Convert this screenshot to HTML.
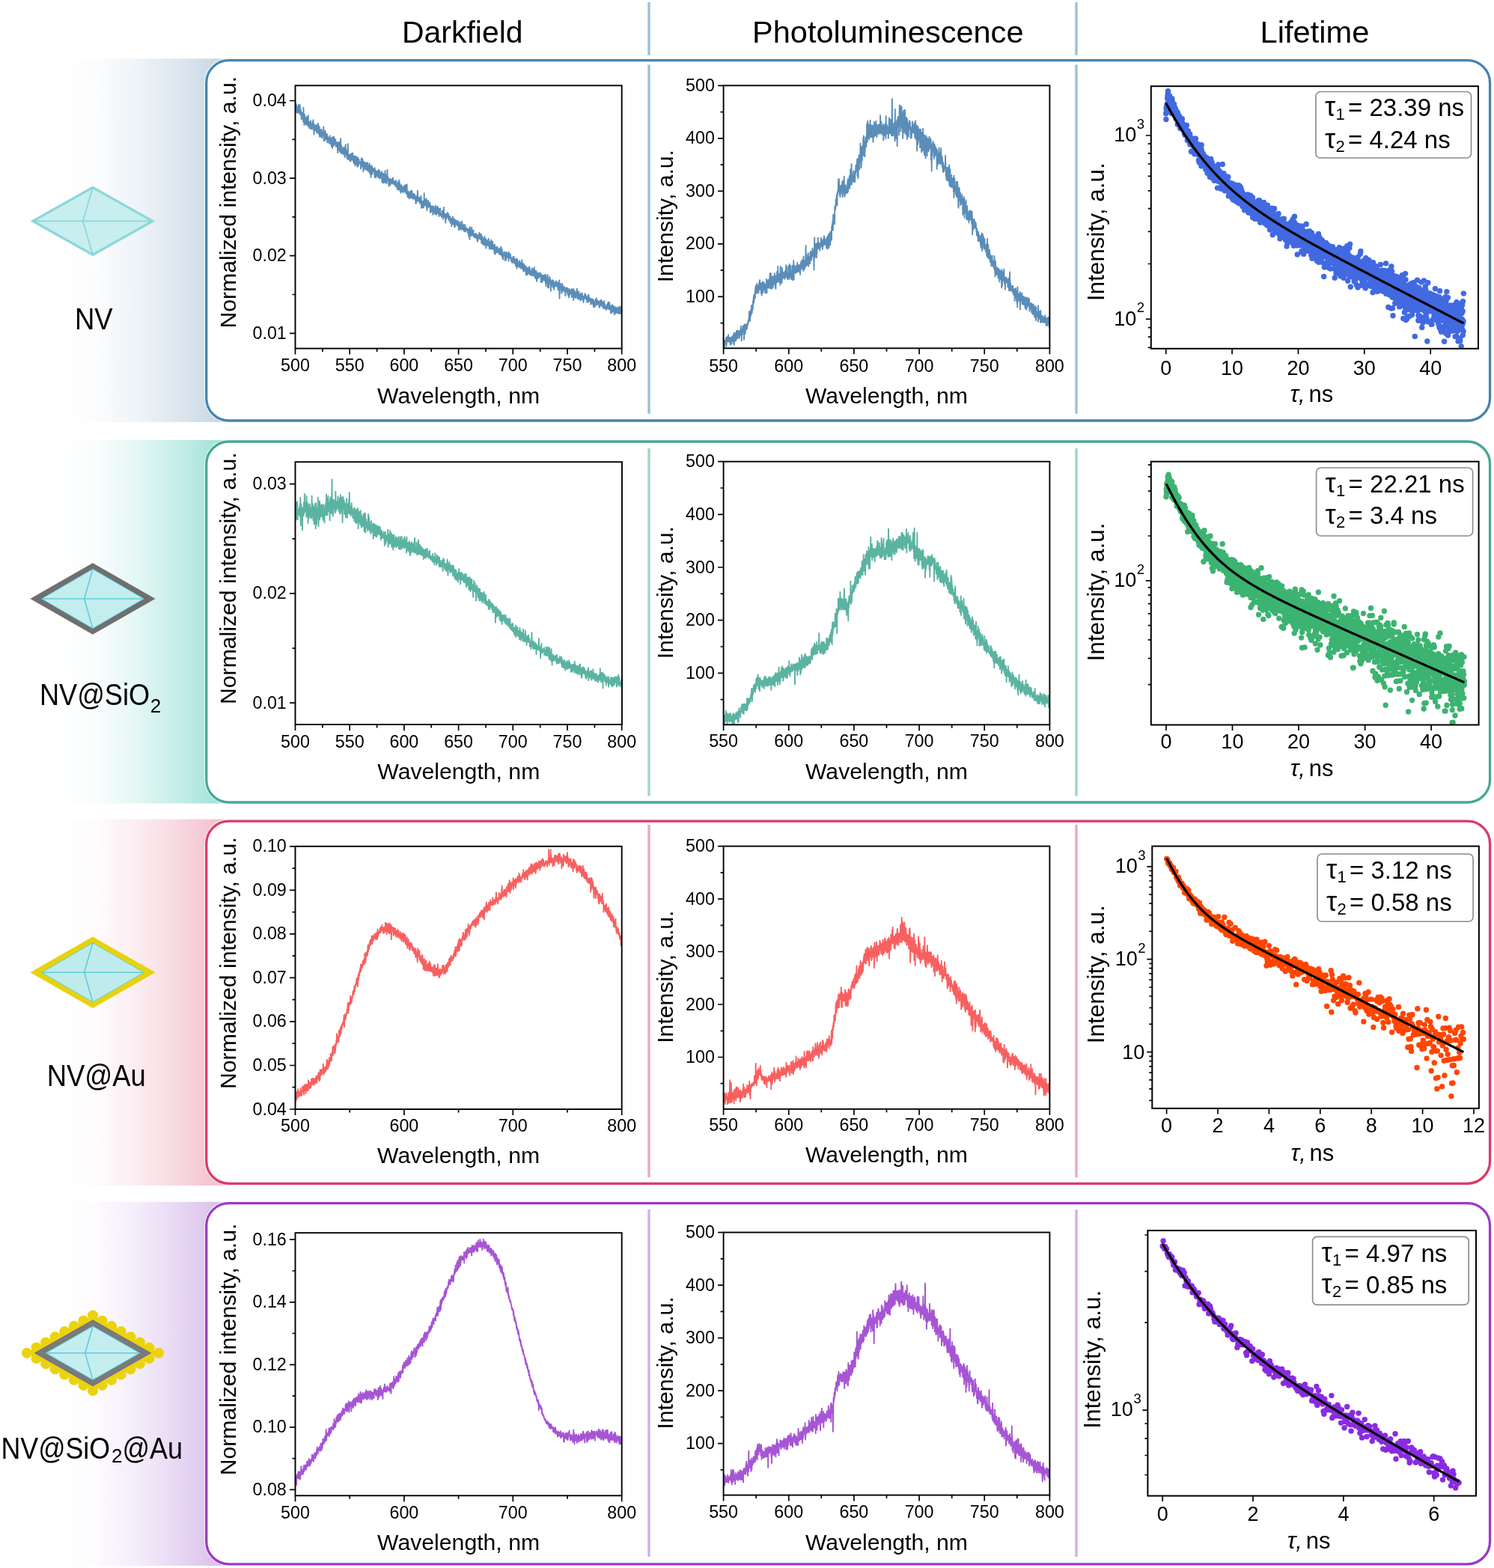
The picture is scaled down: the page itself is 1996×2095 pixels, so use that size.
<!DOCTYPE html>
<html><head><meta charset="utf-8"><title>NV lifetime figure</title><style>html,body{margin:0;padding:0;background:#fff;}svg{display:block;}</style></head><body>
<svg width="1996" height="2095" viewBox="0 0 1996 2095">
<defs>
<linearGradient id="g0" gradientUnits="userSpaceOnUse" x1="78" y1="0" x2="285" y2="0"><stop offset="0" stop-color="#ffffff"/><stop offset="0.25" stop-color="#fbfcfd"/><stop offset="0.5" stop-color="#eff4f8"/><stop offset="0.75" stop-color="#dfe8f0"/><stop offset="1" stop-color="#cbdae6"/></linearGradient>
<linearGradient id="g1" gradientUnits="userSpaceOnUse" x1="78" y1="0" x2="285" y2="0"><stop offset="0" stop-color="#ffffff"/><stop offset="0.25" stop-color="#f9fdfd"/><stop offset="0.5" stop-color="#e4f7f4"/><stop offset="0.75" stop-color="#c8eee9"/><stop offset="1" stop-color="#a6e4dc"/></linearGradient>
<linearGradient id="g2" gradientUnits="userSpaceOnUse" x1="78" y1="0" x2="285" y2="0"><stop offset="0" stop-color="#ffffff"/><stop offset="0.25" stop-color="#fefbfc"/><stop offset="0.5" stop-color="#fbedf1"/><stop offset="0.75" stop-color="#f8dae2"/><stop offset="1" stop-color="#f3c3d1"/></linearGradient>
<linearGradient id="g3" gradientUnits="userSpaceOnUse" x1="78" y1="0" x2="285" y2="0"><stop offset="0" stop-color="#ffffff"/><stop offset="0.25" stop-color="#fdfbfe"/><stop offset="0.5" stop-color="#f4edfa"/><stop offset="0.75" stop-color="#e9daf4"/><stop offset="1" stop-color="#dcc3ee"/></linearGradient>
</defs>
<rect width="1996" height="2095" fill="#fff"/>
<text x="537" y="57.4" font-size="41.5" font-family="'Liberation Sans', Arial, sans-serif" textLength="161.6" lengthAdjust="spacingAndGlyphs">Darkfield</text>
<text x="1005" y="56.9" font-size="41.5" font-family="'Liberation Sans', Arial, sans-serif" textLength="362.5" lengthAdjust="spacingAndGlyphs">Photoluminescence</text>
<text x="1683.5" y="57.4" font-size="41.5" font-family="'Liberation Sans', Arial, sans-serif" textLength="146" lengthAdjust="spacingAndGlyphs">Lifetime</text>
<line x1="867.0" y1="3" x2="867.0" y2="73.7" stroke="#9cc0d8" stroke-width="3.4"/>
<line x1="1438.0" y1="3" x2="1438.0" y2="73.7" stroke="#9cc0d8" stroke-width="3.4"/>
<rect x="0" y="78.3" width="300" height="485.7" fill="url(#g0)"/>
<rect x="275.7" y="80.6" width="1714.9" height="481.4" rx="30" ry="30" fill="#fff" stroke="#fff" stroke-width="5"/>
<rect x="275.7" y="80.6" width="1714.9" height="481.4" rx="30" ry="30" fill="#fff" stroke="#4584ac" stroke-width="3.3"/>
<line x1="867.0" y1="86.5" x2="867.0" y2="552.7" stroke="#9cc0d8" stroke-width="3.4"/>
<line x1="1438.0" y1="86.5" x2="1438.0" y2="552.7" stroke="#9cc0d8" stroke-width="3.4"/>
<rect x="0" y="588.0" width="300" height="485.5" fill="url(#g1)"/>
<rect x="275.7" y="590.0" width="1714.9" height="482" rx="30" ry="30" fill="#fff" stroke="#fff" stroke-width="5"/>
<rect x="275.7" y="590.0" width="1714.9" height="482" rx="30" ry="30" fill="#fff" stroke="#47a896" stroke-width="3.3"/>
<line x1="867.0" y1="599.0" x2="867.0" y2="1063.5" stroke="#9fd5cc" stroke-width="3.4"/>
<line x1="1438.0" y1="599.0" x2="1438.0" y2="1063.5" stroke="#9fd5cc" stroke-width="3.4"/>
<rect x="0" y="1094.6" width="300" height="489.4" fill="url(#g2)"/>
<rect x="275.7" y="1097.1" width="1714.9" height="484.2" rx="30" ry="30" fill="#fff" stroke="#fff" stroke-width="5"/>
<rect x="275.7" y="1097.1" width="1714.9" height="484.2" rx="30" ry="30" fill="#fff" stroke="#da3b68" stroke-width="3.3"/>
<line x1="867.0" y1="1102.0" x2="867.0" y2="1573.0" stroke="#eda9bd" stroke-width="3.4"/>
<line x1="1438.0" y1="1102.0" x2="1438.0" y2="1573.0" stroke="#eda9bd" stroke-width="3.4"/>
<rect x="0" y="1605.8" width="300" height="486.2" fill="url(#g3)"/>
<rect x="275.7" y="1607.6" width="1714.9" height="482.2" rx="30" ry="30" fill="#fff" stroke="#fff" stroke-width="5"/>
<rect x="275.7" y="1607.6" width="1714.9" height="482.2" rx="30" ry="30" fill="#fff" stroke="#9b3ac4" stroke-width="3.3"/>
<line x1="867.0" y1="1616.0" x2="867.0" y2="2080.0" stroke="#d2afe6" stroke-width="3.4"/>
<line x1="1438.0" y1="1616.0" x2="1438.0" y2="2080.0" stroke="#d2afe6" stroke-width="3.4"/>
<path d="M43.9 295.4L123.9 250.4L203.9 295.4L123.9 340.4Z" fill="#c8eeef" stroke="#8ad8d8" stroke-width="3.2" stroke-linejoin="miter"/>
<path d="M43.9 295.4H203.9M123.9 250.4L110.7 295.4L123.9 340.4" fill="none" stroke="#8ad8d8" stroke-width="1.7"/>
<path d="M40.3 800.0L123.9 752.2L207.5 800.0L123.9 847.8Z" fill="#6f6f6f"/>
<path d="M55.7 800.0L123.9 760.4L192.1 800.0L123.9 839.6Z" fill="#c4edf0" stroke="#5ccfd6" stroke-width="1.0" stroke-linejoin="miter"/>
<path d="M55.7 800.0H192.1M123.9 760.4L112.6 800.0L123.9 839.6" fill="none" stroke="#5ccfd6" stroke-width="1.6"/>
<path d="M40.3 1299.3L123.9 1251.5L207.5 1299.3L123.9 1347.1Z" fill="#e8d20e"/>
<path d="M55.7 1299.3L123.9 1259.7L192.1 1299.3L123.9 1338.9Z" fill="#c0ebed" stroke="#5ccfd6" stroke-width="1.0" stroke-linejoin="miter"/>
<path d="M55.7 1299.3H192.1M123.9 1259.7L112.6 1299.3L123.9 1338.9" fill="none" stroke="#5ccfd6" stroke-width="1.6"/>
<path d="M36.0 1807.8h0M48.6 1800.6h0M61.1 1793.5h0M73.7 1786.3h0M86.3 1779.1h0M98.9 1771.9h0M111.4 1764.8h0M124.0 1757.6h0M136.6 1764.8h0M149.1 1771.9h0M161.7 1779.1h0M174.3 1786.3h0M186.9 1793.5h0M199.4 1800.6h0M212.0 1807.8h0M199.4 1815.0h0M186.9 1822.1h0M174.3 1829.3h0M161.7 1836.5h0M149.1 1843.7h0M136.6 1850.8h0M124.0 1858.0h0M111.4 1850.8h0M98.9 1843.7h0M86.3 1836.5h0M73.7 1829.3h0M61.1 1822.1h0M48.6 1815.0h0" stroke="#ebd30c" stroke-width="14.2" stroke-linecap="round" fill="none"/>
<path d="M36.0 1807.8L124.0 1757.6L212.0 1807.8L124.0 1858.0Z" fill="#ebd30c"/>
<path d="M46.5 1807.8L124.0 1763.8L201.5 1807.8L124.0 1851.8Z" fill="#7a7a7a" stroke="#5b5bb0" stroke-width="0.8"/>
<path d="M61.3 1807.8L124.0 1772.0L186.7 1807.8L124.0 1843.6Z" fill="#c4edf0" stroke="#5ccfd6" stroke-width="1.0" stroke-linejoin="miter"/>
<path d="M61.3 1807.8H186.7M124.0 1772.0L113.7 1807.8L124.0 1843.6" fill="none" stroke="#5ccfd6" stroke-width="1.6"/>
<text x="100" y="440.3" font-size="41" font-family="'Liberation Sans', Arial, sans-serif" textLength="50.7" lengthAdjust="spacingAndGlyphs">NV</text>
<text x="53" y="941.8" font-size="41" font-family="'Liberation Sans', Arial, sans-serif" textLength="147" lengthAdjust="spacingAndGlyphs">NV@SiO</text>
<text x="200.7" y="952" font-size="26" font-family="'Liberation Sans', Arial, sans-serif">2</text>
<text x="62.7" y="1450.7" font-size="41" font-family="'Liberation Sans', Arial, sans-serif" textLength="132.1" lengthAdjust="spacingAndGlyphs">NV@Au</text>
<text x="1.5" y="1948.5" font-size="41" font-family="'Liberation Sans', Arial, sans-serif" textLength="145.5" lengthAdjust="spacingAndGlyphs">NV@SiO</text>
<text x="149" y="1953.5" font-size="26" font-family="'Liberation Sans', Arial, sans-serif">2</text>
<text x="163.4" y="1948.5" font-size="41" font-family="'Liberation Sans', Arial, sans-serif" textLength="80.6" lengthAdjust="spacingAndGlyphs">@Au</text>
<clipPath id="cdf0"><rect x="394.5" y="114.3" width="436.20000000000005" height="351.3"/></clipPath>
<path d="M394.5 142.0l.2 2.8 .3-3.5 .2-2.5 .3 2.4 .2-2.1 .3 5.2 .2 6.3 .2-8.1 .3-.2 .2 5.5 .3-.2 .2-.8 .3-4.4 .2 4.5 .2 3.7 .3-8.9 .2 4.4 .3-6.2 .2 3.2 .2-2.2 .3 7.8 .2-4.4 .3 7.4 .2-.1 .3-1.2 .2-10.2 .2 9.4 .3 2.6 .2 1.1 .3-7.2 .2 5.1 .3-2 .2 1 .2 8.8 .3-8.3 .2 3.8 .3 4.4 .2-6.4 .3 2.4 .2 1.2 .2 .1 .3-5.6 .2 6.1 .3 6.1 .2-19.2 .3 17.4 .2-3.1 .2-3.2 .3 12.2 .2-5.4 .3-8.6 .2 6 .3 2.5 .2-3.2 .2 4.2 .3-3.1 .2 3.5 .3 3.7 .2-9.2 .2 4.2 .3-2.8 .2 2.9 .3-5.6 .2 2.9 .3 2 .2 5.2 .2 1.3 .3-10.8 .2 2.6 .3 6.7 .2-11.6 .3 7.1 .2 1.9 .2 6.3 .3-2.4 .2-4.3 .3 0 .2 .7 .3 8.2 .2-8.5 .2 .7 .3 3.1 .2-1.9 .3-.1 .2-3.9 .3 5.1 .2-1.7 .2 7.4 .3-2.1 .2-2.8 .3 3.3 .2-4.3 .2 6.4 .3-4.5 .2 2.8 .3-8.1 .2 7.5 .3-8.8 .2-1.3 .2 7.8 .3-2.4 .2 4.9 .3 9.4 .2-13.4 .3 1.2 .2 3.8 .2 1.5 .3-2.7 .2 0 .3 4.2 .2-.6 .3-6.6 .2 4.4 .2 .7 .3-4.6 .2 6 .3-4.7 .2 8.3 .3-3.3 .2-.2 .2-2.8 .3 2.3 .2-8.1 .3 4.1 .2 6.7 .3-10.7 .2 13.3 .2-11.2 .3 11.2 .2-6.8 .3 7.3 .2-2.7 .2-7 .3 12.4 .2 1 .3-6.4 .2-.7 .3 .7 .2-3.3 .2 9.2 .3-6.9 .2 2.3 .3-3 .2 .9 .3-2.6 .2 11.2 .2-5.9 .3 5.1 .2-4 .3-2.8 .2 .5 .3 .4 .2 2.7 .2-1.5 .3 .5 .2-9.8 .3 8 .2 10.9 .3-9.9 .2-1.5 .2 6.2 .3 4.9 .2-12.2 .3 5.6 .2-1.7 .2-4.7 .3 11 .2-3.1 .3 .6 .2-3.3 .3 5.4 .2-4.1 .2 1.9 .3-4 .2-.3 .3 11.2 .2-7.7 .3 3.6 .2-1.2 .2-1.6 .3-.1 .2 5.1 .3-3.8 .2 .8 .3 1 .2 5.1 .2-1.9 .3-1.1 .2-3.9 .3-3.3 .2 10.2 .3 .3 .2-4.6 .2 3.1 .3 1.2 .2 .4 .3 .6 .2-7.4 .3 10.3 .2-11.6 .2 9.2 .3-1.4 .2 1.9 .3 4.4 .2-1.5 .2-11 .3-2.1 .2 10.9 .3-7.6 .2 4.4 .3 3.8 .2-10.3 .2-1.8 .3 10.2 .2-.5 .3-1.2 .2 1.4 .3-6.9 .2 .7 .2 5.9 .3-3.2 .2-2.7 .3 9.3 .2-2.2 .3 2.2 .2-5.7 .2 1.5 .3-1.2 .2 .7 .3 4.7 .2-3.9 .3 5 .2 .1 .2 7.3 .3-14.2 .2 9.8 .3-3.9 .2 .5 .2-5.9 .3 4.4 .2 5.2 .3-3.3 .2 .9 .3-1.3 .2 6.2 .2-4.7 .3-9 .2 6.5 .3-5.1 .2-5.2 .3 11.6 .2 8 .2-5.2 .3-4.9 .2 1.2 .3 8.8 .2-3.9 .3-.2 .2-.3 .2 .6 .3 3.4 .2 1.2 .3-3.3 .2-5 .3 6.6 .2-4.8 .2 7.6 .3-9.6 .2 4.9 .3 .7 .2-5.3 .3 12.9 .2-.9 .2-7.8 .3 5.3 .2-1.4 .3-12.2 .2 12 .2-1.1 .3 .8 .2-4.6 .3 3.5 .2 .6 .3 5.8 .2-3.3 .2-1.2 .3 6.5 .2-8.4 .3 .9 .2-12.4 .3 20.8 .2-2.3 .2 0 .3-.8 .2-2.1 .3 .6 .2-1.7 .3 .4 .2 1.2 .2 6.2 .3-3.8 .2-2.3 .3-2 .2-.1 .3 9.3 .2-4.3 .2-1.6 .3-1.5 .2-3 .3 4.4 .2 4 .3-5 .2 .8 .2 .2 .3 1.5 .2-6.7 .3 5.7 .2-2.4 .2 7.2 .3-6.5 .2 5.6 .3 4 .2-7.3 .3-1 .2 3.4 .2-.6 .3-3.9 .2 6 .3 6.5 .2-9 .3 .3 .2-3.2 .2 5.7 .3-6.2 .2 .7 .3 9.8 .2-8.6 .3 8.1 .2 2 .2-5 .3 1.4 .2 5.8 .3-8.5 .2-1.4 .3-2.9 .2 5.7 .2 6 .3-2 .2-7.4 .3 .5 .2 1.5 .2 3.4 .3-1.8 .2 1.8 .3 .5 .2-2.2 .3 1.2 .2 1.1 .2-1 .3 2.5 .2 5.6 .3-4.9 .2-2 .3-6.8 .2 8.5 .2-9.2 .3 2.3 .2 9.2 .3-.4 .2-3.3 .3-6 .2 4.1 .2 .3 .3 5.4 .2 6.6 .3-8 .2-3.8 .3-1.4 .2 4.6 .2-.3 .3-3.7 .2 5.2 .3-4.9 .2 9.2 .3-.1 .2 .3 .2-6 .3 4 .2-2.4 .3-.8 .2 .3 .2-3.6 .3-.4 .2 9 .3-3.7 .2 1.7 .3 3.3 .2-10.6 .2 3.9 .3 3.9 .2 1 .3-4.2 .2 7.1 .3-3.1 .2-5.4 .2 1.2 .3 7 .2-1.2 .3-9.1 .2 12.9 .3-2.8 .2 3.1 .2-6.6 .3 .5 .2-3.1 .3 14.5 .2-10.4 .3 7 .2-8.6 .2 3.4 .3-7 .2 5.2 .3 5.5 .2-8.6 .2 9.2 .3-2.7 .2-5.2 .3 2.3 .2 .3 .3 1.7 .2-1.7 .2-1 .3 2.2 .2-2.6 .3-.9 .2 5 .3 6.9 .2-12.3 .2 6.1 .3-2.4 .2-1.1 .3 7.3 .2-5.2 .3 8 .2-8.7 .2 4.7 .3-3 .2-1.1 .3 5.3 .2-2.7 .3 3.1 .2-2.4 .2-3.8 .3 3.9 .2 .8 .3 3.6 .2-7.1 .3 3.5 .2-6.3 .2 9.3 .3-6.6 .2-2.6 .3 6.9 .2 4.6 .2-10 .3 1.9 .2 1.4 .3-1.3 .2 5.9 .3-4.4 .2 .5 .2 5.1 .3-5 .2 4.7 .3-5.2 .2-.8 .3-2.2 .2 14.3 .2-8.2 .3 2.3 .2-.9 .3 .8 .2-.2 .3 7.2 .2-11.1 .2-1.8 .3 2.2 .2-1.1 .3 10.6 .2-2.1 .3-6.6 .2-1.5 .2 4.1 .3 6.8 .2-15.9 .3 12.8 .2-5.9 .2 8.2 .3-7.9 .2 3.1 .3-4.4 .2 2.1 .3 9.1 .2-2 .2-4.5 .3-1.6 .2-10.2 .3 12.3 .2 1.5 .3-.1 .2 .1 .2-3.7 .3 4.1 .2 .3 .3 5.1 .2 2.4 .3-7.5 .2-2.2 .2 2.8 .3-1.9 .2-.4 .3 2.8 .2-3.6 .3 8.4 .2-4.6 .2 1.5 .3-1.5 .2-1.9 .3-.7 .2 2.8 .3-1 .2 3.1 .2-.8 .3-4.9 .2 5.5 .3-5.1 .2 2.8 .2 1.4 .3-6.5 .2 8.2 .3 .4 .2-1.6 .3-.3 .2 .4 .2-2.2 .3 2.8 .2-.9 .3 2.6 .2-4.7 .3 5.5 .2-.2 .2-.9 .3-1 .2 3.8 .3-8.1 .2 8.1 .3-.7 .2 .3 .2 .5 .3-3.7 .2 1.6 .3 5.6 .2-2.7 .3-.7 .2-6.2 .2 7.7 .3 2.5 .2-.5 .3-2.7 .2-6.5 .2 9.4 .3-3.9 .2-8.6 .3 10.8 .2-6.7 .3 .9 .2 2.6 .2 7.1 .3-5.9 .2 2.5 .3 5.6 .2-.4 .3-6.1 .2-.4 .2-3.6 .3 2.2 .2 4.3 .3 0 .2-.9 .3 3.4 .2-6.3 .2 2.7 .3 3.1 .2-.4 .3 1.9 .2-2.3 .3-2.5 .2 2.6 .2-4.8 .3-2.2 .2 8.3 .3-2.2 .2 1.5 .3-7.1 .2 5 .2-.7 .3-.8 .2-4.9 .3 7.1 .2 4.7 .2-1.8 .3-3.4 .2 2.3 .3 3 .2-12.6 .3 9.7 .2 2.6 .2 .7 .3 3.8 .2-1.9 .3-2.8 .2 .1 .3 1.9 .2-4.6 .2 2 .3 3.5 .2 4 .3-7.5 .2 .6 .3 1 .2 4.3 .2-4.8 .3 5.6 .2-8.6 .3 2.9 .2 .2 .3 3.7 .2 1 .2-9 .3 2.3 .2 4.7 .3-3.4 .2-3 .2 9.4 .3-1.8 .2 .1 .3-3.3 .2 5.6 .3-4.4 .2 4.9 .2-7 .3 .4 .2 3.9 .3-3 .2 5 .3-1.3 .2-4.1 .2 3.8 .3-1.4 .2 4.7 .3-5.4 .2 .9 .3 6 .2 3.8 .2-.7 .3-6.7 .2 .7 .3 4.8 .2-5.7 .3-2.8 .2 4 .2 1.3 .3-4.3 .2-8 .3 6.1 .2 7.6 .3-4.8 .2 2.3 .2 1.4 .3 1.6 .2-3.2 .3 3.1 .2-4.7 .2 2 .3-2.2 .2 7.8 .3-3.9 .2-2.4 .3 1.5 .2 .6 .2 3.5 .3-8 .2-1.1 .3 5.7 .2 10.4 .3-5.4 .2-3.5 .2 3 .3 4.9 .2-7.9 .3-.3 .2 5.7 .3-2.4 .2 .8 .2-3.9 .3 8.6 .2-.6 .3-3.8 .2 .6 .3-15.7 .2 15.8 .2-2.7 .3 2.3 .2 1.1 .3-3.5 .2-4.5 .2 7.3 .3-3.7 .2 1.6 .3-.8 .2 1.1 .3-6.7 .2 12.4 .2-3.1 .3 3.1 .2 3.2 .3-6.7 .2-6.1 .3 3.3 .2-.9 .2 2.6 .3 2.1 .2-7 .3 8.3 .2-6.3 .3 6.4 .2-1.2 .2-.6 .3 1 .2-1.4 .3-.1 .2-3.5 .3 5.8 .2 6.6 .2 .7 .3-2.1 .2-2 .3-4.6 .2 7.4 .3-5 .2 .1 .2-.6 .3 1.5 .2-1.7 .3 1.4 .2-3.3 .2 2.6 .3 9.2 .2-7.9 .3-.4 .2 2.7 .3 .8 .2-6.1 .2 3.3 .3 3.9 .2-2 .3-.4 .2 5 .3-7.4 .2 2.7 .2-1.9 .3 7 .2-11.6 .3 4.5 .2 .7 .3 4.1 .2 0 .2 2.8 .3-9.9 .2 8 .3-3.4 .2-1.1 .3 4.2 .2-4.8 .2-3.7 .3 5.9 .2-3.7 .3 3 .2 3.6 .2 0 .3 4.4 .2-5.9 .3-4.3 .2 2.8 .3-.5 .2-.8 .2 5.7 .3-3.5 .2-4.3 .3 9.1 .2-2.9 .3 2.1 .2-.7 .2 1.9 .3-1.9 .2 4.2 .3-2.6 .2 1.2 .3-1 .2-6.1 .2 4.5 .3-.2 .2 1.7 .3-5 .2 10.1 .3-5 .2-4.2 .2-6.7 .3 10.1 .2 .8 .3-2 .2 2.8 .3-2.2 .2 4.1 .2-4.1 .3 2.4 .2 3.5 .3 5.4 .2-11.7 .2 2 .3-1.1 .2 5.5 .3-6.3 .2 2.4 .3 1.6 .2-3 .2 .2 .3 .4 .2-3.8 .3 2.3 .2 3.5 .3 2 .2-.9 .2-5.1 .3 4.4 .2 4.3 .3-.6 .2-2 .3-2.5 .2 5.2 .2-3.9 .3-1.8 .2 1.4 .3 7.5 .2-3.9 .3 3.3 .2-5.3 .2 4.8 .3-4.9 .2 1.6 .3 8.9 .2-5.6 .2-4 .3 1.5 .2 1.5 .3 3.1 .2-5.5 .3-3.9 .2 4.9 .2 1.1 .3 .5 .2 4.1 .3-3.2 .2 1.8 .3-6.1 .2 6.6 .2 4.2 .3-4.2 .2-1.6 .3-.2 .2 5.5 .3-8.7 .2 2.8 .2 2 .3 1.1 .2-3.8 .3 2.6 .2-1.7 .3 1.4 .2-.7 .2-3.1 .3 3.8 .2 3.1 .3-5.9 .2 2.5 .3 3.1 .2-5.5 .2 4.2 .3-3.9 .2 7.3 .3 4.1 .2-.8 .2-7.2 .3 3.3 .2-1.9 .3 .1 .2 4.9 .3-9.2 .2 7.9 .2-3.4 .3 4.9 .2-3.9 .3-2.6 .2 3.3 .3 3.8 .2-4.3 .2 1.6 .3-3.1 .2-5.1 .3 10.1 .2-.5 .3-1.7 .2 .1 .2 3.1 .3-4.7 .2-.6 .3 1.8 .2 4.7 .3-8.3 .2 8.6 .2-5.8 .3-1.4 .2 7.9 .3-4.3 .2-3.8 .3 3.3 .2 4.4 .2 1 .3-5.2 .2 2.9 .3 1.2 .2-4.3 .2 3.4 .3-1.1 .2-1.5 .3 .4 .2 1.9 .3 .1 .2-1.8 .2 .6 .3 5.2 .2-2.8 .3 2.4 .2 1.2 .3-1.9 .2 5.7 .2-10 .3 5.5 .2-3.5 .3 7.2 .2 4.7 .3-16.8 .2 3.4 .2 5.5 .3 .6 .2 0 .3-2.5 .2 1.9 .3 2.7 .2-4.2 .2 3.8 .3-10.6 .2 9.6 .3-5.2 .2 6.6 .2-3.7 .3-2 .2 4.3 .3-4 .2 .1 .3-2 .2 5.2 .2 1.9 .3 1.9 .2-3.7 .3 4.1 .2-3.2 .3-.2 .2 2.3 .2 1.7 .3-4.4 .2 .5 .3 .4 .2 1 .3-3 .2 6.4 .2-4.5 .3 3 .2-4.1 .3 4 .2 .3 .3-2.5 .2 8.1 .2-5.2 .3 4.7 .2-2.4 .3-5.2 .2 1.1 .3 2.8 .2-1 .2 .1 .3-.9 .2-4.8 .3 5.3 .2-6.3 .2 8.5 .3-3.4 .2 .2 .3 1.8 .2 1.8 .3-5.4 .2-.9 .2 2.4 .3-3 .2 3.6 .3 8.5 .2-8.4 .3 5.7 .2-6.4 .2 5.5 .3-1.8 .2 1 .3 2.2 .2 4 .3-4.9 .2-.1 .2-3.4 .3 5.2 .2-2.5 .3 3.7 .2-2.7 .3 5.9 .2-11.9 .2 5.6 .3 4 .2-3.8 .3-1.3 .2 1.9 .2-3.5 .3 5 .2 7.7 .3-4 .2-7.1 .3 .9 .2 1.7 .2 4.7 .3-5.8 .2 .6 .3 5.3 .2 .1 .3-3.9 .2-2.2 .2-1.3 .3 2.9 .2-4.7 .3 9.7 .2-4.2 .3 3.7 .2 4.6 .2-2 .3-7.4 .2 6.7 .3 1.1 .2-6 .3-.5 .2 2.9 .2-4.7 .3 10.1 .2-12.3 .3 4.3 .2 2.9 .3 .3 .2 1.4 .2 .5 .3-1.4 .2 4.5 .3-10.4 .2 7.1 .2-2.2 .3 2.9 .2 .4 .3-3.4 .2 1 .3 4.8 .2-1.3 .2-3.2 .3 9 .2 1 .3-12 .2 5.8 .3 7.3 .2-5.4 .2-1.6 .3-1.3 .2-.9 .3 1.3 .2-1 .3 6.5 .2-6.8 .2 1.2 .3-2.3 .2 3.8 .3-2.5 .2 2.4 .3 4.1 .2-2 .2 .6 .3-.3 .2-.8 .3-.4 .2-.4 .2 3.5 .3-5.7 .2 7.9 .3-4 .2-2.4 .3 1 .2-.4 .2 2.8 .3-2.6 .2 6.1 .3-6 .2-4.6 .3 5.1 .2-4 .2 6.5 .3 3.7 .2 .7 .3-8.1 .2 2 .3 8.4 .2-4.6 .2-.8 .3 3.5 .2 4.7 .3-3.6 .2-3.5 .3 .8 .2 1 .2-3.8 .3-1.2 .2 3.7 .3-3.1 .2 3 .3 .7 .2 7.3 .2-10 .3 2.5 .2 0 .3 2.1 .2 5.1 .2-7.8 .3-.9 .2-2.4 .3 2.4 .2 4.9 .3-1.4 .2-3.3 .2 2.2 .3 1.5 .2 1.7 .3-3.4 .2 1.3 .3-4.9 .2 2.3 .2 9 .3-12 .2 6.1 .3 1.9 .2-1.7 .3-1.2 .2 2.5 .2 .4 .3-.1 .2-5.6 .3 5.7 .2-2.1 .3 1.1 .2 2.7 .2 1.4 .3 1 .2-4.3 .3 4.7 .2 1 .2 0 .3 1 .2-4.7 .3 0 .2 3.4 .3-6.9 .2 5.2 .2-2.2 .3 .7 .2-4.2 .3 2.8 .2 2.9 .3 3.1 .2 .5 .2-3.3 .3-.2 .2-1.9 .3 4.1 .2-1.9 .3 2.9 .2 3.8 .2-5.6 .3-4.5 .2 2.2 .3-1.7 .2 .9 .3 11.9 .2-7 .2-5.4 .3 7 .2 2.1 .3-5 .2-.8 .3 1.2 .2 2.1 .2 1.3 .3 1.9 .2 .2 .3 .1 .2 .7 .2-2.1 .3-6.8 .2 4.6 .3 1.6 .2-2.1 .3 4.3 .2-3.9 .2-1.7 .3 7.7 .2-2.3 .3-1.3 .2 2.4 .3 .6 .2-2.1 .2-8.7 .3 5.8 .2 .8 .3-1.5 .2 3.9 .3 3.3 .2-5.2 .2-1.9 .3 10.2 .2-7.7 .3-2.3 .2 4.8 .3 .7 .2-3.4 .2 7.1 .3-6.1 .2-1.2 .3 4.1 .2 1.5 .2-4.3 .3 3.2 .2-1.2 .3 9.4 .2-11 .3 6.8 .2-4.4 .2-.1 .3 2.8 .2 .7 .3 5 .2-6.4 .3-2.8 .2 .3 .2 3.5 .3 .4 .2 2.7 .3-3 .2 2.2 .3 1.6 .2-4.1 .2-5.1 .3 1.2 .2-.7 .3 9.7 .2-7.5 .3 6.7 .2-1.9 .2 3.7 .3-2.1 .2-3.3 .3-.2 .2 1.1 .3 .4 .2-2.1 .2 1.8 .3 5.3 .2-10.3 .3 7.1 .2-4.3 .2 3.6 .3 2.2 .2-2.7 .3 2.8 .2-7.3 .3 8.7 .2-5.3 .2 4 .3-1.2 .2-8.6 .3 6 .2 3.2 .3 4.3 .2-3.8 .2 .1 .3-5.1 .2 9.1 .3 1.3 .2-5.5 .3-.6 .2-4.2 .2 8 .3 5.9 .2-6.1 .3 1.8 .2-2.1 .3-4.6 .2 7.4 .2-7.9 .3 3.4 .2 1.7 .3 2 .2-1.3 .2 .1 .3-3.5 .2-1.5 .3 4.4 .2-2.3 .3-1.7 .2 .3 .2 2.6 .3-4.2 .2 1.7 .3-.7 .2 5.8 .3 .8 .2 5.2 .2-10.9 .3 2.7 .2 5.1 .3-3.4 .2-.3 .3 6.5 .2-6.3 .2-2.4 .3-.4 .2 5.3 .3 0 .2-5.1 .3 1.3 .2 4.9 .2 .3 .3-3.7 .2 4.1 .3-.1 .2-7.2 .3 4.7 .2 2.4 .2-3 .3-4.8 .2 6 .3 3.3 .2 2.7 .2-11.6 .3 15.1 .2-11.6 .3 6.7 .2 1 .3-.7 .2-2.5 .2-4 .3 5.7 .2-4 .3-5.6 .2 16.9 .3-6.5 .2 3.6 .2-8.5 .3 11.7 .2-3.6 .3 0 .2-4.8 .3-3.6 .2 3.4 .2-6.2 .3 1.6 .2 5.8 .3-3.3 .2 2.7 .3 .3 .2 11.9 .2-7.3 .3-4 .2 4 .3-6.1 .2 1.5 .2 4 .3-6.6 .2 3.1 .3-3.1 .2 4.6 .3 4.9 .2-7.3 .2 3.8 .3-4.1 .2-.6 .3-.2 .2 8.5 .3 3 .2-5.8 .2-3.6 .3 4.6 .2-3.1 .3 3.6 .2-1.4 .3 0 .2 1.2 .2-3.6 .3 .7 .2-4 .3 4.1 .2-2.9 .3 4.1 .2-2.5 .2 3.7 .3 1 .2-5.7 .3 2 .2-.3 .3 5.4 .2 3.1 .2-2.6 .3-3.6 .2 5.8 .3-9.2 .2 9.5 .2-6.6 .3-6.4 .2 24.4 .3-10.6 .2-8 .3 3.8 .2-1.1 .2 1.1 .3-4.8 .2 2.7 .3 3.6 .2-.6 .3 3.2 .2-3.4 .2 7.2 .3-9.4 .2 3.1 .3-6.6 .2 2.2 .3 8.1 .2-6.9 .2 4.7 .3-1.8 .2-2.9 .3 2.3 .2-.4 .3 .2 .2 4 .2-.2 .3-3.7 .2-.9 .3 3.8 .2-1.1 .2 3.6 .3 5.2 .2-5.5 .3-2.6 .2-.3 .3-2 .2 0 .2-.2 .3 2 .2 0 .3 3.8 .2-3.5 .3 .8 .2-3.1 .2 9 .3-3.4 .2 4 .3-2.9 .2 2.2 .3-5.2 .2 3 .2 6.3 .3-12 .2 7.5 .3 1.7 .2-3.8 .3 1.1 .2 1.7 .2-5.9 .3 3.5 .2-4 .3 .7 .2 .3 .3 1.6 .2 1 .2 1.1 .3-5.8 .2 10.8 .3-2.5 .2-1.2 .2-3.3 .3 .9 .2 2.1 .3-.3 .2-6.5 .3 7.8 .2 6.9 .2-14.9 .3 9.1 .2-1.9 .3-1.4 .2 4.8 .3-8 .2 4.4 .2 4.2 .3-5.2 .2-.6 .3 1.8 .2-1.6 .3 6.4 .2-7.7 .2 5.7 .3-6.6 .2 6.2 .3-2.3 .2-7.8 .3 8.3 .2-6.3 .2 5.1 .3 6.4 .2-8.3 .3 .3 .2 8 .3-4.1 .2 4.6 .2-3.7 .3-6.3 .2 5.2 .3 4.2 .2-.8 .2-2.8 .3 .2 .2-.4 .3-1.4 .2 8.1 .3-6 .2-3.5 .2 2.2 .3 3.9 .2 1.6 .3-4.1 .2-1.6 .3 2.3 .2-5.3 .2 1.3 .3 6.7 .2-3.9 .3 2.8 .2 2.8 .3-1.7 .2-1.9 .2 6.7 .3-4.5 .2-4.1 .3 4.5 .2-.9 .3-3.9 .2 3.1 .2-.7 .3-5.5 .2 5.7 .3-.2 .2-.4 .2-3.7 .3 4.2 .2 1.1 .3 .5 .2-3.8 .3 5.7 .2-5.7 .2 3.2 .3 4.9 .2-6.2 .3 .7 .2 5.1 .3-4.5 .2 .4 .2 1.7 .3 2.7 .2-10.1 .3 2.1 .2 1.9 .3-.2 .2 .9 .2 .1 .3 3.7 .2-3.6 .3 3.2 .2 1 .3-3.4 .2 2.8 .2 4.8 .3-4 .2-2.9 .3 1.7 .2-2.4 .3 3.8 .2 2 .2-5.2 .3 2.1 .2 4.2 .3-4.9 .2 2.2 .2-3.7 .3 .8 .2 1 .3 8.4 .2-7.8 .3-.3 .2 0 .2 1.3 .3 2.6 .2-1.3 .3 5.8 .2-5.5 .3 3.8 .2-3.5 .2 1.1 .3-6.1 .2 4.1 .3 .2 .2-.4 .3-5.7 .2 9.3 .2-3.8 .3 0 .2-.1 .3 .9 .2 2 .3-5 .2 1.1 .2 3.8 .3-.3 .2-1.5 .3-.6 .2-.7 .2 2.5 .3 3.8 .2-6.7 .3 8 .2-2 .3-3.9 .2 3.9 .2-6.8 .3-.7 .2 1.4 .3 2.8 .2 .3 .3-.5 .2 2 .2-6.7 .3 8.1 .2-5.7 .3 2.3 .2 .9 .3-2.2 .2-.5 .2 1.2 .3 3.1 .2 3.5 .3-1.6 .2-4.7 .3 .7 .2-2.8 .2 6.8 .3-7.5 .2 10 .3-6.4 .2 .5 .3 3.5 .2 2.2 .2-2 .3 2.2 .2-2.7 .3 3.4 .2 .2 .2-4 .3 4.7 .2-3.8 .3-.1 .2-3 .3 2 .2 3.3 .2-6.2 .3 6 .2-.8 .3-.1 .2-7.4 .3 6.4 .2 2.4 .2-4.2 .3 2.7 .2-7.4 .3 9.3 .2-4 .3 4.8 .2-8.1 .2 7.7 .3-2.7 .2 3.2 .3-5.1 .2 1 .3 8.7 .2-9.2 .2 .5 .3 1.4 .2-2.2 .3 6.8 .2 1.7 .2-7.3 .3-3 .2 8.9 .3-.1 .2-.8 .3 1.1 .2-6 .2 2.2 .3-3.6 .2 0 .3 7.3 .2-4.9 .3 9 .2-6.6 .2-2 .3 4.4 .2 3.1 .3-3.9 .2-5 .3 4.9 .2 3.1 .2-5.6 .3-.7 .2 5.4 .3-2.5 .2-3.7 .3 2.3 .2-1 .2 3.2 .3-.5 .2 3.3 .3-1.3 .2-6.7 .3 6 .2 1.5 .2-1.2 .3 1.8 .2-4.6 .3-1.2 .2 5.8 .2-5.9 .3-3.2 .2 9.6 .3-5.1 .2 1.3 .3-3.2 .2 .3 .2 .6 .3 2.5 .2 2.3 .3-7.9 .2 9.2 .3-5.7 .2 .4" fill="none" stroke="#5a8db8" stroke-width="1.9" stroke-linejoin="round" clip-path="url(#cdf0)"/>
<rect x="394.5" y="114.3" width="436.2" height="351.3" fill="none" stroke="#000" stroke-width="1.9"/>
<path d="M394.5 465.6v8M467.2 465.6v8M539.9 465.6v8M612.6 465.6v8M685.3 465.6v8M758.0 465.6v8M830.7 465.6v8M430.9 465.6v4.5M503.6 465.6v4.5M576.2 465.6v4.5M649.0 465.6v4.5M721.7 465.6v4.5M794.4 465.6v4.5M394.5 445.3h-7.5M394.5 341.7h-7.5M394.5 238.1h-7.5M394.5 134.5h-7.5M394.5 393.5h-4M394.5 289.9h-4M394.5 186.3h-4" stroke="#000" stroke-width="1.7" fill="none"/>
<text x="394.5" y="496" font-size="23.3" text-anchor="middle" font-family="'Liberation Sans', Arial, sans-serif" >500</text>
<text x="467.2" y="496" font-size="23.3" text-anchor="middle" font-family="'Liberation Sans', Arial, sans-serif" >550</text>
<text x="539.9" y="496" font-size="23.3" text-anchor="middle" font-family="'Liberation Sans', Arial, sans-serif" >600</text>
<text x="612.6" y="496" font-size="23.3" text-anchor="middle" font-family="'Liberation Sans', Arial, sans-serif" >650</text>
<text x="685.3" y="496" font-size="23.3" text-anchor="middle" font-family="'Liberation Sans', Arial, sans-serif" >700</text>
<text x="758" y="496" font-size="23.3" text-anchor="middle" font-family="'Liberation Sans', Arial, sans-serif" >750</text>
<text x="830.7" y="496" font-size="23.3" text-anchor="middle" font-family="'Liberation Sans', Arial, sans-serif" >800</text>
<text x="382.8" y="452.8" font-size="23.3" text-anchor="end" font-family="'Liberation Sans', Arial, sans-serif" >0.01</text>
<text x="382.8" y="349.2" font-size="23.3" text-anchor="end" font-family="'Liberation Sans', Arial, sans-serif" >0.02</text>
<text x="382.8" y="245.6" font-size="23.3" text-anchor="end" font-family="'Liberation Sans', Arial, sans-serif" >0.03</text>
<text x="382.8" y="142" font-size="23.3" text-anchor="end" font-family="'Liberation Sans', Arial, sans-serif" >0.04</text>
<text x="612.6" y="539.3" font-size="30.2" text-anchor="middle" font-family="'Liberation Sans', Arial, sans-serif" >Wavelength, nm</text>
<text transform="translate(315,438.6) rotate(-90)" font-size="30.2" text-anchor="start" font-family="'Liberation Sans', Arial, sans-serif">Normalized intensity, a.u.</text>
<clipPath id="cdf1"><rect x="394.5" y="617.2" width="436.5" height="350.79999999999995"/></clipPath>
<path d="M394.5 673.5l.2 3 .3 6.7 .2-9.9 .3-2.2 .2 7.9 .3 13 .2-8.5 .2 10.7 .3-13.4 .2-1.5 .3-9.1 .2 7 .3 16.9 .2-9.3 .2 3.4 .3-.2 .2-6 .3-1.6 .2 3.7 .2 3.7 .3-1.7 .2 .3 .3-2.8 .2-7.7 .3 4.2 .2-5.6 .2 16.2 .3-25.8 .2 15.7 .3 21.7 .2-22.7 .3-6.5 .2 9.3 .2 10.8 .3-12 .2 6.5 .3-4.3 .2-3.8 .3 29 .2-25.3 .2-5 .3 .4 .2 7.2 .3 .2 .2 3 .3-5.1 .2-12.9 .2 16.1 .3-9.1 .2 2.5 .3-20.6 .2 18.3 .3-1.2 .2 5.6 .2-11.5 .3 12.3 .2 .6 .3-10.1 .2 4.1 .2-1.9 .3 14.3 .2-27.7 .3 17.7 .2-10.6 .3 9.9 .2 10.3 .2-11.8 .3 6.2 .2-7.9 .3 22.4 .2-8.2 .3 1.7 .2-19.6 .2 1.8 .3 17.5 .2-10.2 .3-.5 .2 4.8 .3-12.7 .2 16.2 .2-6 .3 3.7 .2-9.1 .3 9.4 .2-9.6 .3 13.2 .2 1.4 .2-1.7 .3-3.1 .2 .9 .3-26.3 .2 27.9 .2-8.7 .3 3 .2-3 .3-8.7 .2 6.7 .3 9.5 .2 5.9 .2-15.9 .3-2.2 .2 18.5 .3-18.3 .2 23.1 .3-15.7 .2-7.3 .2 14.6 .3 5.5 .2-24.3 .3 23.3 .2-14.3 .3 24.1 .2-24.8 .2-9.2 .3 16.1 .2 3.3 .3 9 .2-2.8 .3-8 .2-7.2 .2-2.2 .3 1.7 .2-4.2 .3 4.2 .2-17.5 .3 20.8 .2-1.7 .2 19.8 .3-13.9 .2-9.6 .3 11.8 .2-17.6 .2 4.6 .3-9.7 .2 25.1 .3-6.5 .2-13.5 .3 8.3 .2 7.6 .2-3.5 .3-1 .2-9.4 .3 1.6 .2 5.4 .3 6.1 .2-13.2 .2-2.3 .3 16.9 .2-15.6 .3 14.9 .2-6.3 .3 4.7 .2 6.4 .2-3.4 .3-4.1 .2-12.7 .3 1.6 .2 9.9 .3 6.5 .2-1.1 .2 6.7 .3-14.9 .2-.9 .3 5.8 .2-7.4 .2-.7 .3-7.3 .2 14.9 .3-15.3 .2 11.6 .3-23.7 .2 27.9 .2-22.6 .3 20.5 .2-17.9 .3 8.3 .2 11.8 .3-14.6 .2 6.7 .2-4.5 .3-13.4 .2 19 .3 .8 .2-11.3 .3 12.2 .2-10.1 .2-1.6 .3 7.3 .2-5.1 .3 21.4 .2-27.9 .3 16.5 .2 1.7 .2-21.4 .3 1.7 .2 16.4 .3-7.6 .2 6.1 .3 5.4 .2-11 .2-5 .3-29.6 .2 38.5 .3-8.2 .2 8.8 .2-.7 .3-11.6 .2 22.1 .3-4.7 .2-1.7 .3-14.5 .2 5.4 .2-1.1 .3 .9 .2-5.1 .3 10.9 .2-1.5 .3 .8 .2-6.2 .2 12.6 .3-7.9 .2-20.6 .3 14.6 .2 4.1 .3 7 .2-8.9 .2 .2 .3-2.9 .2 9.2 .3-7.9 .2-1.1 .3-1.1 .2 8.9 .2-7.6 .3-8 .2 15.8 .3-9.2 .2 7.2 .2 .1 .3 5.7 .2-1.1 .3-11.1 .2 2.9 .3-7.7 .2 20.5 .2-8.4 .3 6.6 .2-11.7 .3-11.7 .2 24.5 .3-9.8 .2 .4 .2-.5 .3 4.1 .2-.7 .3-14.3 .2 18.2 .3-10.9 .2 .5 .2 25.5 .3-15.9 .2-10.5 .3-8.1 .2 13.7 .3 2.6 .2-4.1 .2-7.8 .3 3.1 .2-3 .3 9.9 .2 9.1 .3-3.5 .2-11.7 .2 6.6 .3 2.2 .2-7.1 .3 2.5 .2 15.2 .2-12.7 .3 4.6 .2-8.7 .3 3.3 .2-11.6 .3 11.3 .2 8.1 .2 6 .3-5.9 .2-3.3 .3-4.1 .2-4.2 .3 3 .2 8.7 .2-12.7 .3 11.4 .2-12.5 .3-5.1 .2 5.1 .3-13.9 .2 11.7 .2 16.5 .3-8.5 .2 2.9 .3 6.4 .2 .9 .3-11.2 .2 12.1 .2-5.9 .3-2.2 .2 3.1 .3-11.8 .2 4.4 .3 4.6 .2 4.8 .2-6 .3 1.8 .2 7.2 .3 3.1 .2-3.9 .2 3.5 .3-10.5 .2 .9 .3 4.2 .2-3.7 .3-3.9 .2 16.8 .2-11.5 .3-4.6 .2 9.4 .3 8.8 .2-10.8 .3 7.5 .2-10.3 .2-.1 .3-1 .2 3.7 .3 12.7 .2-18.6 .3 17.8 .2-16.4 .2 5.1 .3 7 .2-1.1 .3-1.9 .2-11.8 .3 12.8 .2-8.4 .2 22.6 .3-17.1 .2 2.8 .3-8.1 .2 4.4 .2-4.8 .3 14.3 .2-7.4 .3 5.3 .2-7.4 .3 1.3 .2 11.3 .2-13.7 .3-4.9 .2 13.8 .3-9.3 .2 4.5 .3 13.5 .2-15.5 .2 10.6 .3-9.3 .2 13.4 .3-.8 .2-10.8 .3 1.8 .2-3.6 .2 6.4 .3 6 .2-15.6 .3 14.5 .2-13.4 .3 3 .2-5.4 .2 23.7 .3-12.2 .2 1.4 .3-5.4 .2 16.5 .3-24.7 .2 13 .2 13.2 .3-15.3 .2 2.6 .3 4.1 .2-8.7 .2 5.1 .3 5.8 .2-4.4 .3 1.3 .2-4.1 .3 4.1 .2-1.4 .2 8.5 .3-4.1 .2-5.6 .3-12.8 .2 18.9 .3 .4 .2-9.7 .2-6.2 .3 5.2 .2 12.4 .3-11.5 .2 3.7 .3 4.2 .2 6 .2-7.1 .3-.3 .2-2.4 .3 12.9 .2-3.1 .3-6.6 .2-7.4 .2 3.7 .3 8.2 .2-7.4 .3 9.6 .2-2.9 .2-.3 .3 2.3 .2-.7 .3-7.6 .2 3.2 .3 15.5 .2-20.2 .2 4.4 .3 9 .2-6.8 .3-3.6 .2-2.7 .3 10.8 .2 3 .2 2.3 .3-7.5 .2 5.8 .3-11.6 .2 7 .3-8.1 .2 8.5 .2 7.3 .3-1.9 .2-11.4 .3 12.9 .2-9.7 .3-2.9 .2 5 .2-7.1 .3 8.5 .2 1.8 .3-2.6 .2 4.3 .3-4.6 .2 2 .2-7.9 .3 8.5 .2-4.8 .3 2.4 .2 2.2 .2 1.7 .3-10 .2 .7 .3 7.1 .2 4.5 .3-.4 .2 3.1 .2 2.4 .3-1.8 .2-5.1 .3-5.4 .2 .7 .3 2.8 .2 4.2 .2-.1 .3-1 .2-.8 .3 4.4 .2-2.2 .3 .6 .2 .2 .2-4.6 .3-2.5 .2 8.3 .3-.3 .2-3.3 .3-1 .2 14.7 .2-16.3 .3 3 .2 2.7 .3-7.6 .2 7 .2 9.1 .3-4.5 .2-1.6 .3-.1 .2-2.5 .3 4.7 .2-5.9 .2-1.3 .3 2.9 .2 4.3 .3-2.9 .2 1.9 .3-14.2 .2 17.1 .2 6.2 .3-5.2 .2-8.7 .3-2.7 .2 6.1 .3-6.6 .2 9.1 .2-6.5 .3 7.9 .2 2.2 .3-17.7 .2 12.3 .3-5.1 .2-3.6 .2 4.3 .3 2.1 .2 6.7 .3-13.2 .2 13.4 .3 5.1 .2-7.2 .2-.2 .3-2.8 .2-5.9 .3 8.9 .2-.7 .2 1.9 .3 9.6 .2-9.4 .3-1.5 .2 5.9 .3-14.8 .2 1.2 .2 4 .3-1.3 .2 7 .3-5.1 .2 10.6 .3-1.1 .2-3.7 .2-5.7 .3 5.1 .2 1.1 .3-9.4 .2 7.3 .3 1.9 .2-2.4 .2 6.9 .3-1.7 .2-10.2 .3 4.9 .2-4.7 .3 7.2 .2-7.2 .2 9.1 .3-2.6 .2 3 .3-5.4 .2-6.5 .2 16.1 .3-9.5 .2 7.8 .3-4.6 .2 1.3 .3 5.8 .2-7.3 .2 5.3 .3-14.1 .2 11.7 .3-5.3 .2 .6 .3 .8 .2 1.7 .2 6.5 .3-17 .2 9.3 .3-3.6 .2 9.3 .3-7.6 .2 4.3 .2-5.7 .3 6.9 .2 1.8 .3-6.7 .2 2.2 .3-6.9 .2 8.4 .2 2.7 .3-6.7 .2 8.2 .3-15.2 .2 1.2 .3 2.3 .2 4.4 .2 2.5 .3-.3 .2 .2 .3 3.8 .2-5.6 .2-3.6 .3 .2 .2 16.1 .3-21.2 .2 10.5 .3 7.9 .2-4.5 .2-6.2 .3 4.1 .2 4.2 .3 1.8 .2-10 .3 8 .2-2.3 .2 4.2 .3 1.5 .2-8.2 .3-5.1 .2 8.9 .3 6.6 .2-5 .2-2.1 .3 10.4 .2-16.2 .3 9.3 .2-6.8 .3 3 .2 .3 .2 6.8 .3-11.4 .2 2 .3-4.9 .2 9.9 .2-4.3 .3 4.2 .2-6.9 .3 3.5 .2 6.7 .3-6.4 .2 4.6 .2-.3 .3-4 .2-5.6 .3 12 .2-3.7 .3 4 .2-14 .2-5.1 .3 4.8 .2 6 .3 9.1 .2-2.1 .3-2.7 .2 .8 .2 3.1 .3-4.9 .2 3.4 .3-1.1 .2-10.7 .3 8.5 .2 8.2 .2-8 .3 1.3 .2-2.1 .3 .7 .2 7.6 .3-6.4 .2-7.6 .2-5.3 .3 11.8 .2-6.3 .3 .8 .2 12.2 .2-.3 .3-12 .2 12.9 .3-1.7 .2-5.7 .3 7.2 .2-10.8 .2 2 .3-.9 .2 1.6 .3 9.3 .2-10.1 .3 .9 .2 1.1 .2 5.4 .3-2.4 .2 5.6 .3-7.1 .2-2.5 .3 3.7 .2 2.6 .2-4.3 .3 5.6 .2 7.1 .3-10.8 .2 2.9 .3 6.1 .2-9 .2-.8 .3-1 .2 6.9 .3 .6 .2-2.9 .2 1 .3 5.7 .2-1.8 .3-10.2 .2 6.5 .3 .7 .2 2.9 .2-4.1 .3-1.8 .2 1 .3-5.9 .2 8.1 .3-2.4 .2 4.9 .2-6.6 .3 2.8 .2-2.3 .3-.2 .2 8.1 .3-5.1 .2 4.2 .2-6.9 .3 5.6 .2-7.9 .3 5.6 .2 .1 .3 5 .2-1.1 .2-2 .3 4.7 .2-2.8 .3 1.7 .2 1.2 .3-3.6 .2-.9 .2 2.9 .3-3.1 .2 3.7 .3 3.4 .2-1 .2-5.4 .3-3.9 .2 5.6 .3-.1 .2 5.6 .3-6.5 .2 .9 .2 4.4 .3-5.3 .2 1.6 .3 8.5 .2-.9 .3-3.7 .2-1.4 .2-9.4 .3 11 .2-2.1 .3 .9 .2-3.2 .3 2.4 .2-.6 .2 2.4 .3 5 .2-4.5 .3-8.8 .2 3.2 .3-2.6 .2 3.7 .2 6.1 .3-.6 .2-4.2 .3 3.9 .2-4.3 .2-2.8 .3 .2 .2 2.5 .3 10.2 .2-12 .3 11.5 .2 .5 .2-6.4 .3 .7 .2-2.3 .3 2.7 .2 3.1 .3-2.7 .2 4.5 .2 .9 .3-3.5 .2 .1 .3-1.6 .2 2 .3-6.3 .2 6.8 .2-.7 .3-4.5 .2 13.2 .3-13.4 .2 .6 .3 5.1 .2-9.4 .2 5.1 .3-3.1 .2 2.6 .3 3.8 .2 2.1 .3 3.5 .2-1.1 .2 1.7 .3-2.4 .2-4.4 .3 7 .2-6.8 .2-.4 .3 9.4 .2-3.1 .3-2.3 .2 5.2 .3-2 .2-9.5 .2 5.6 .3-9.3 .2 10.5 .3-3.2 .2 13.9 .3-8.5 .2-5.5 .2 3.6 .3-4.9 .2 5.5 .3 2.4 .2-1.1 .3-9.2 .2 7 .2 3.8 .3-.7 .2 3.9 .3-10.3 .2 7.9 .3-4.8 .2 3.8 .2 1.1 .3 1.3 .2-5.2 .3 3.5 .2-5.6 .2-.9 .3 8.6 .2-2.4 .3-6.5 .2 3.5 .3 3.8 .2 6.7 .2-2 .3-.8 .2-10.8 .3 7.4 .2 2.6 .3-.2 .2 .3 .2-2.6 .3 8.6 .2-1 .3-6.4 .2-3.6 .3 13 .2-10.8 .2 7.5 .3 3.2 .2-11.8 .3 5.3 .2-2.4 .3 3.8 .2-.7 .2 7 .3-5.5 .2-2.3 .3 4.9 .2-5.6 .3-.3 .2 11.1 .2-12.6 .3 1.6 .2 2.4 .3-4.4 .2-4.2 .2 13.4 .3-7.5 .2 1.2 .3 .9 .2-2.4 .3-.2 .2 5.7 .2 9.1 .3-6.7 .2 .2 .3-9.2 .2 6.4 .3-4.6 .2 8.2 .2-3.9 .3 1.3 .2-.4 .3-1.8 .2-3.7 .3 8.8 .2-7.9 .2 1 .3 3.9 .2-1.5 .3 4.1 .2 3.3 .3-3 .2 0 .2-.5 .3 3.6 .2-10.9 .3 9.2 .2-5.1 .3-1.1 .2 5.3 .2-3.1 .3 5.8 .2 2.3 .3-13.8 .2 9.4 .2 8.5 .3-1.3 .2-.5 .3-5.3 .2-6 .3 1.4 .2 7.7 .2 1.2 .3-6.7 .2 2 .3 2.4 .2-8 .3 5.9 .2 8.1 .2 2.5 .3-9.1 .2 8.1 .3-9.4 .2-.9 .3-5.5 .2 13.2 .2-5.2 .3 11.3 .2-7.9 .3-.3 .2-7.8 .3 13.6 .2-7.3 .2 1.1 .3-8 .2 12.9 .3 .5 .2-6.2 .2 3.1 .3 1.5 .2 2.5 .3-3.2 .2 12.8 .3-13.6 .2-1.2 .2 .8 .3-8.1 .2 7.2 .3 7.5 .2-2.7 .3-4 .2 4.9 .2-9.2 .3 7.2 .2 3.4 .3 1 .2-5.6 .3 6.9 .2 10.6 .2-15.4 .3 4.9 .2-8.8 .3-1.4 .2 10.5 .3-2 .2 .9 .2-2.9 .3 1.4 .2 4.7 .3 3.8 .2-7.4 .3-5.4 .2 11.8 .2-2.4 .3 .6 .2-1.7 .3 8.6 .2-8.5 .2 1.9 .3-9 .2 5.3 .3-.2 .2 2.8 .3 1.8 .2-4.1 .2 10 .3-10.7 .2 2.7 .3 2.9 .2-5.6 .3 7.4 .2 .5 .2-3.3 .3 8.8 .2-6.9 .3 1.1 .2-4.6 .3-2.5 .2 4.3 .2 1.4 .3-.2 .2 5 .3-12 .2 5.1 .3-2.4 .2 12.5 .2-7.1 .3 .5 .2-2.1 .3 8 .2-4.8 .2 2.7 .3-8.4 .2 12.6 .3-2.7 .2 .8 .3 2.9 .2-5.2 .2 .3 .3 3.7 .2-.9 .3-2.3 .2 1.4 .3-1.9 .2 5 .2 1.1 .3-3.4 .2 7.5 .3-12.9 .2 5.3 .3 7.7 .2-7.9 .2-4.3 .3 11.8 .2-3 .3-6.4 .2 7.7 .3-6.6 .2-.9 .2 4.8 .3-1 .2-2.1 .3 3 .2-2.2 .3 4.3 .2 0 .2 3.1 .3-4.3 .2-3.1 .3 .3 .2 4.3 .2 7.1 .3-2.4 .2-5.4 .3 6.2 .2-7.7 .3 8.5 .2-5.1 .2 4.7 .3-.4 .2-4.3 .3 3.7 .2-5.1 .3 4.1 .2 4.6 .2 11.8 .3-12.7 .2-2.1 .3-4 .2 8.2 .3-10.2 .2 3.5 .2 4.7 .3-5.7 .2 10.7 .3-1.4 .2-6.2 .3 .3 .2-2.6 .2-.1 .3 7.3 .2 .9 .3-.8 .2-.1 .2-2.9 .3 3.8 .2-6.8 .3 5.9 .2 5.9 .3-.3 .2-6.6 .2 .7 .3 6.8 .2 1.8 .3-12.3 .2 4.3 .3 2.8 .2 4 .2-7.6 .3 5.9 .2-3.4 .3 10.5 .2-7.2 .3-1.9 .2-.5 .2 5.5 .3-1.2 .2-6.5 .3 5.3 .2-5.8 .3 2.5 .2-1.8 .2 .1 .3 2.7 .2-.9 .3 6.1 .2 1.2 .3-3.7 .2-3.1 .2 7.6 .3-10.6 .2 .6 .3 10.4 .2 0 .2 1.5 .3-4.3 .2-3.8 .3 3.1 .2 4.4 .3-4.9 .2 .5 .2-2.4 .3 1.1 .2 8 .3-1.3 .2-5.9 .3 .5 .2 2.2 .2 4.6 .3-6.4 .2 4.1 .3-7.4 .2 3.7 .3 6.7 .2 2.1 .2-11.8 .3 5.8 .2 6.3 .3-4.3 .2-.3 .3 4.3 .2-1 .2 3.7 .3-.9 .2-5.1 .3 2 .2 .5 .2-4.7 .3 1.7 .2 7.7 .3-9.6 .2 10.2 .3-2.5 .2-1.5 .2 2.8 .3 0 .2 3 .3-6.1 .2 .9 .3 .1 .2 8.4 .2-3.4 .3-7.1 .2 2.5 .3-1.2 .2 2.9 .3 1.6 .2 7.6 .2-15.7 .3 11.2 .2-2.1 .3-4.2 .2 2.3 .3-1.2 .2 2.3 .2 3.9 .3-9.6 .2 11.1 .3-6.3 .2 7.4 .3-4 .2 3.4 .2-2.4 .3 2.1 .2-3.7 .3-3.3 .2 6 .2 .3 .3 5.6 .2-15.7 .3 7.2 .2 5 .3-8.7 .2 4.1 .2 9.3 .3-2.6 .2-8.6 .3 9 .2-.7 .3-1.4 .2-1.3 .2-.4 .3-4.1 .2 1.6 .3 5 .2-2.1 .3 6.7 .2-8.2 .2-7.8 .3 8.2 .2 2.5 .3 .6 .2-1 .3-3.3 .2 9.1 .2-8.1 .3 5.5 .2-4.8 .3-2.2 .2 10.2 .2-14.9 .3 6.6 .2 5.1 .3-2.8 .2 4.4 .3-3.1 .2-1.2 .2 10.3 .3-9 .2 .4 .3-3.4 .2 1.5 .3 5.6 .2-.2 .2-1.9 .3-2.6 .2 5.6 .3-9.1 .2 5.5 .3 .5 .2-2.1 .2 4 .3-2.9 .2-.4 .3 10.3 .2-3.9 .3 1.9 .2-4.2 .2 3.7 .3-.6 .2 1.9 .3 4.6 .2-9.8 .3 2.1 .2-1 .2-13.2 .3 8.3 .2 5.7 .3 2.5 .2-4.4 .2 6.8 .3 .7 .2-6.4 .3 7.3 .2 1.5 .3-4.8 .2-5.4 .2 9.6 .3-6.1 .2-.6 .3 2.1 .2-2.4 .3 6.4 .2-1 .2 1.9 .3-2.3 .2-5.2 .3 2.7 .2 4.1 .3-4.8 .2 13 .2-12 .3-1.2 .2 6.9 .3-1.4 .2-2.9 .3-.6 .2 2.7 .2 1.7 .3-.1 .2-3.9 .3 3 .2 1.7 .2-.1 .3-14.8 .2 8.7 .3 .6 .2 2.2 .3 1.8 .2 3 .2-1 .3-2.7 .2 .7 .3 13 .2-15.1 .3 3.7 .2 5 .2-4.5 .3-9.1 .2 9.5 .3-2.8 .2 1.2 .3 4.7 .2-2.1 .2-2.7 .3 4.7 .2-1.7 .3-1.1 .2 .9 .3 0 .2-3.3 .2 .9 .3 2 .2-3.6 .3-1.1 .2 10.1 .3-5.8 .2 1 .2-.3 .3 .8 .2 .2 .3 .3 .2-3.2 .2 6.9 .3-6.2 .2 6.9 .3-11.3 .2 3.5 .3 8.1 .2-4.3 .2-1.8 .3 4.2 .2-5.4 .3 4.5 .2-8.7 .3 7 .2-.6 .2 4.8 .3 1.4 .2-6.5 .3 9.7 .2-8.4 .3-5.5 .2-1.1 .2 15.4 .3-6.2 .2-2 .3-.3 .2-1.1 .3 9.6 .2-5.4 .2 7.5 .3-7.6 .2-8.2 .3 12.6 .2-4.6 .2 .7 .3 12.6 .2-12.4 .3 5.7 .2-4.4 .3-2.8 .2 5.1 .2-4.1 .3 7.2 .2-.8 .3-3.4 .2 2.3 .3 0 .2-3.1 .2 4.7 .3-4.2 .2 3.4 .3-5.9 .2 4.2 .3 1.4 .2-4.5 .2 1.6 .3-.3 .2 5.1 .3-5.5 .2 4.7 .3 4.3 .2-4.4 .2-7.5 .3 6.9 .2 3.6 .3-5 .2 5.6 .3-1.8 .2-.7 .2-2.5 .3-.9 .2 1.2 .3 1.3 .2 3.8 .2-2.1 .3-2.7 .2 1.5 .3 1.4 .2-7.7 .3 3.4 .2 0 .2 2.5 .3-.2 .2 .2 .3-2.3 .2 6.2 .3-1.4 .2-7.4 .2 6.6 .3-4.3 .2 11.1 .3-8.3 .2 .4 .3 2 .2-1 .2 .7 .3 6.4 .2-5.1 .3 2.5 .2 1.3 .3-8.1 .2 10.6 .2-3.8 .3 1.1 .2-7 .3 6.7 .2-1.4 .2-3.6 .3 11.1 .2-6.6 .3-3 .2 1.8 .3 3 .2 .9 .2-2 .3 2.6 .2 1.1 .3-10.4 .2 3 .3-1.6 .2 4.2 .2 5.3 .3-2.9 .2-6.6 .3 3.1 .2 5.3 .3-6 .2 1.8 .2 1.7 .3-8.2 .2 10.4 .3-1.6 .2 1 .3-6 .2 1 .2 .8 .3 3.4 .2-.3 .3 .1 .2 6.6 .3-1.8 .2-7.8 .2 .4 .3 9.4 .2-7.8 .3 6.7 .2 1 .2-8.3 .3 1.2 .2 1.5 .3-3.6 .2-.3 .3 2.4 .2 5 .2-4.9 .3 1 .2-.9 .3-3.4 .2 11.3 .3-14.9 .2 6.8 .2 4.9 .3-7.6 .2 8 .3 2.7 .2-8.2 .3 4.3 .2-5.1 .2 6.5 .3-1.1 .2 .2 .3 4.7 .2-3.4 .3 3.5 .2-2.6 .2-7.1 .3 5.8 .2 1.1 .3-7.5 .2 11 .3-4.9 .2 1.3 .2-4.9 .3 3.9 .2 1 .3-2.4 .2 1.7 .2-8.6 .3 13.8 .2-9.7 .3-4.1 .2 4.9 .3 .6 .2 5.5 .2-5.6 .3 4.8 .2-4.9 .3 12.6 .2-6.5 .3 5.7 .2-11.6 .2 6.7 .3-6.3 .2 6.1 .3 .5 .2-8.9 .3 1.9 .2 0 .2-1.3 .3 .6 .2 1.7 .3-1.8 .2 6.2 .3 1.8 .2-7.2 .2 3 .3 2.3 .2-.8 .3-1.8 .2 9 .2 .3 .3-3.6 .2-3.4 .3 8.7 .2-.8 .3-8.4 .2 1.2 .2 5.2 .3-7.7 .2 4.8 .3-1.3 .2-2.9 .3 2 .2-5.3 .2 4.2 .3-5.7 .2 17 .3-3 .2-1 .3-3.5 .2 2.8 .2 1.2 .3-1 .2-.3 .3-7.1 .2 5.4 .3-3.8 .2-2.4 .2 .2 .3 6.3 .2 2.5 .3-9.4 .2 12.4 .3-1.1 .2-7.2 .2-.2 .3 1.6 .2 4.3 .3-5.4 .2-2.7 .2 5.8 .3-9.5 .2 8.9 .3 4.1 .2-3.3 .3 1.9 .2-1 .2 1 .3-2.2 .2-3.8 .3 2.5 .2 .7 .3 5.3 .2 1.6 .2-4.7 .3-4.6 .2 .2 .3 2.2 .2 6.4 .3-4.1 .2-1.5 .2-2.7 .3 6.6 .2-2.3 .3-1.2 .2 .7 .3 6.3 .2-7.2 .2 7.4 .3-1.7 .2-4.6 .3 3.4 .2-3.9 .2-2.8 .3 2.4 .2-2.5 .3 5.7 .2-1.9 .3 2.3 .2 1.1 .2-15.6 .3 13.7 .2-8.3 .3 7.9 .2-4.1 .3 3.9 .2 5.1 .2-12.1 .3 7.6 .2-1.1 .3-7.1 .2 10.2 .3-2.4 .2-2.1 .2-.8 .3 15.7 .2-14.3 .3-5.5 .2 3.5 .3 2.3 .2 0 .2 1.3 .3-3.8 .2 6.4 .3-4.1 .2-3.4 .3 2.3 .2 1.7 .2 5 .3 .3 .2-4.9 .3 1.5 .2 .8 .2 7.3 .3-10.5 .2 4.4 .3 1.1 .2-6.6 .3 4.6 .2-.1 .2-2.4 .3 4.2 .2 1.9 .3 .4 .2-5.2 .3 1.6 .2 8.7 .2-13.7 .3 5.3 .2 2.7 .3-2.8 .2 2 .3-1.8 .2 2.3 .2 2.2 .3-5.9 .2 1.7 .3-.9 .2-1.4 .3 1.6 .2-4.3 .2 7.5 .3 3.9 .2 0 .3-1.6 .2-8.9 .2 10 .3-8.9 .2 2.7 .3 7.7 .2-11.6 .3 7.7 .2-2.2 .2-1.6 .3-2.9 .2 5.3 .3-3.5 .2 6.1 .3 .7 .2-10.3 .2 3.6 .3 .8 .2-3.4 .3 .3 .2 4.9 .3-1.1 .2-5.7 .2 4.5 .3 4.2 .2-6.8 .3 1.2 .2 10.1 .3-1 .2-11.7 .2 1.1 .3 7 .2-6.2 .3 3.8 .2-.7 .3 4.1 .2-12.3 .2 1.4 .3 3.9 .2 9 .3-4.6 .2-6.1 .2 8.8 .3 1 .2-3.8 .3-.3 .2 3.2 .3 3.1 .2-4.2 .2 1.6 .3-2.2 .2-1.3 .3-2.1 .2 4.8 .3-2.2 .2 .3" fill="none" stroke="#5bb3a2" stroke-width="1.9" stroke-linejoin="round" clip-path="url(#cdf1)"/>
<rect x="394.5" y="617.2" width="436.5" height="350.8" fill="none" stroke="#000" stroke-width="1.9"/>
<path d="M394.5 968.0v8M467.2 968.0v8M539.9 968.0v8M612.6 968.0v8M685.3 968.0v8M758.0 968.0v8M830.7 968.0v8M430.9 968.0v4.5M503.6 968.0v4.5M576.2 968.0v4.5M649.0 968.0v4.5M721.7 968.0v4.5M794.4 968.0v4.5M394.5 939.2h-7.5M394.5 792.9h-7.5M394.5 646.6h-7.5M394.5 866.1h-4M394.5 719.8h-4" stroke="#000" stroke-width="1.7" fill="none"/>
<text x="394.5" y="998.7" font-size="23.3" text-anchor="middle" font-family="'Liberation Sans', Arial, sans-serif" >500</text>
<text x="467.2" y="998.7" font-size="23.3" text-anchor="middle" font-family="'Liberation Sans', Arial, sans-serif" >550</text>
<text x="539.9" y="998.7" font-size="23.3" text-anchor="middle" font-family="'Liberation Sans', Arial, sans-serif" >600</text>
<text x="612.6" y="998.7" font-size="23.3" text-anchor="middle" font-family="'Liberation Sans', Arial, sans-serif" >650</text>
<text x="685.3" y="998.7" font-size="23.3" text-anchor="middle" font-family="'Liberation Sans', Arial, sans-serif" >700</text>
<text x="758" y="998.7" font-size="23.3" text-anchor="middle" font-family="'Liberation Sans', Arial, sans-serif" >750</text>
<text x="830.7" y="998.7" font-size="23.3" text-anchor="middle" font-family="'Liberation Sans', Arial, sans-serif" >800</text>
<text x="382.8" y="946.7" font-size="23.3" text-anchor="end" font-family="'Liberation Sans', Arial, sans-serif" >0.01</text>
<text x="382.8" y="800.4" font-size="23.3" text-anchor="end" font-family="'Liberation Sans', Arial, sans-serif" >0.02</text>
<text x="382.8" y="654.1" font-size="23.3" text-anchor="end" font-family="'Liberation Sans', Arial, sans-serif" >0.03</text>
<text x="612.8" y="1041.3" font-size="30.2" text-anchor="middle" font-family="'Liberation Sans', Arial, sans-serif" >Wavelength, nm</text>
<text transform="translate(315,941) rotate(-90)" font-size="30.2" text-anchor="start" font-family="'Liberation Sans', Arial, sans-serif">Normalized intensity, a.u.</text>
<clipPath id="cdf2"><rect x="394.5" y="1130.8" width="436.20000000000005" height="351.20000000000005"/></clipPath>
<path d="M394.5 1470.4l.2-11.9 .3 6.4 .2 2.6 .3 1.6 .2 1.4 .3-9.5 .2 1.8 .2-2.6 .3 6.5 .2-7.9 .3 8.8 .2-1.1 .3-.3 .2-11.1 .2 5.1 .3 4.8 .2-7.9 .3 4 .2 .3 .2 3.4 .3-2.4 .2-.2 .3-2.8 .2 1.4 .3-.7 .2 2.9 .2-3.4 .3 4.1 .2-9.9 .3 10.1 .2-5.1 .3 4.5 .2-3.9 .2 2.5 .3 2.1 .2-7.5 .3 2.1 .2-1.1 .3 1.1 .2-6.7 .2 5 .3-.5 .2-2.1 .3 1.9 .2-5 .3 10.3 .2-3.6 .2 4.9 .3-10 .2-1.2 .3 4.9 .2-7.1 .3 6.5 .2-3.5 .2 1.2 .3 1.9 .2-1 .3 6.3 .2-4.6 .2-7 .3 7.9 .2-8.5 .3 4.9 .2-4.9 .3 1.3 .2 7.4 .2-6.9 .3-.5 .2 .1 .3 .7 .2 6 .3-13.4 .2 3.5 .2 6.3 .3-7.9 .2 4.1 .3 5.2 .2-4.2 .3-3.6 .2 .6 .2-.9 .3 1 .2 2.3 .3 3.8 .2-1.2 .3-5.6 .2-.8 .2 4.8 .3-9.1 .2 4.7 .3 .2 .2-3 .2 .2 .3 4.6 .2-7.3 .3 2.4 .2 .8 .3 2.4 .2-5.4 .2 8.6 .3-5.2 .2 0 .3-.6 .2-1.3 .3-1.3 .2 7.4 .2-3.6 .3-1.3 .2 3.8 .3-6.3 .2 4.6 .3-2.4 .2-3.4 .2 5.6 .3-8.2 .2 7.4 .3-5.6 .2 4.4 .3 3.2 .2-3.1 .2-4.4 .3 1.7 .2-1.5 .3-3.2 .2-.1 .3 3.8 .2 1.4 .2-8.4 .3 5.6 .2 1.8 .3-1.8 .2-4.2 .2 9.9 .3-11.3 .2 6.3 .3 3.1 .2-13.3 .3 7.9 .2-.2 .2-.6 .3-3.8 .2 0 .3-2.9 .2 5.1 .3 1.2 .2-7 .2 1.1 .3 1.3 .2 1.4 .3-.1 .2-.9 .3 .3 .2-5.2 .2-5.3 .3 11.5 .2 2.5 .3-10.3 .2 2.3 .3 3.1 .2 2 .2-1.4 .3 1.9 .2-5 .3 1.4 .2-.4 .2-3.3 .3 5.5 .2-2.4 .3 1 .2-5.2 .3 4.7 .2-7.6 .2 4.8 .3-11 .2 5.4 .3 5.8 .2-4.5 .3 1.9 .2-6.7 .2 10.7 .3-3.8 .2-2.8 .3 .9 .2-.9 .3 3.2 .2-4.9 .2-6.6 .3 3.7 .2 4.8 .3-3.2 .2-4.1 .3 3 .2-2.4 .2 1.1 .3-8.4 .2 1.8 .3 4.9 .2-3.8 .3 1.4 .2 5.1 .2-8.7 .3 1.3 .2-3.4 .3-.9 .2 1.3 .2-5.5 .3-2.9 .2 11.6 .3-5.8 .2 3.7 .3-4.2 .2-.5 .2 1.2 .3-.5 .2-7.4 .3 7.9 .2-8.3 .3 3.5 .2 7.6 .2-9.4 .3 5 .2-7.7 .3 2.7 .2-2.6 .3 .7 .2-5.1 .2-.9 .3 3.8 .2-12.6 .3 7.2 .2 4.5 .3-5 .2-1.6 .2-1.4 .3 3.8 .2-2.5 .3 1.2 .2-1.8 .2 6.5 .3-8.7 .2-6.1 .3 6.6 .2-1.1 .3-.2 .2-6.9 .2 8.9 .3-4.9 .2-.7 .3-6.2 .2 6.5 .3-2.6 .2 4.2 .2-6.9 .3-3.6 .2 4 .3-4.3 .2 3.9 .3-6 .2 2.6 .2-1.1 .3 0 .2-2.4 .3-1.8 .2 1.9 .3-2.6 .2 1.9 .2-2.2 .3-7.7 .2 6.9 .3 8.4 .2-8.6 .3 .3 .2-1.2 .2-4 .3-3.7 .2 6.7 .3 .2 .2-2.5 .2-1.2 .3-.8 .2-2.2 .3 .3 .2-1.7 .3 .4 .2-5.2 .2 .4 .3 3.4 .2-3.8 .3-8 .2 8.1 .3-9.1 .2 13.9 .2-4.9 .3 .9 .2-7.2 .3-2.3 .2 2.4 .3 .1 .2-3.5 .2 2.5 .3 1.1 .2-1.1 .3-6.4 .2-4.7 .3 6.8 .2-3.1 .2 3.1 .3 3.3 .2-.7 .3-5.5 .2 2.1 .3 1.1 .2-6.3 .2 .1 .3 1.2 .2-3.8 .3-2.4 .2-1.6 .2 1.8 .3-2.9 .2 4.1 .3-4.6 .2 5.4 .3-1.6 .2-9.2 .2 7.2 .3-5.8 .2 5.3 .3-3.7 .2-2.7 .3 1.7 .2-5 .2 2.3 .3-.5 .2-2.6 .3 1 .2-5.5 .3 4.6 .2-6.8 .2 5.5 .3-1.3 .2 .1 .3-5.1 .2 11.6 .3-12 .2 .5 .2-3.8 .3 6.7 .2-7.3 .3 4.3 .2-7.4 .2 3.5 .3-3.1 .2 3.7 .3-4.9 .2-2.7 .3 3.7 .2-6.4 .2 .1 .3 5.2 .2-9.7 .3 8.3 .2-4.6 .3-2.4 .2 3.3 .2 .7 .3-4.8 .2 .7 .3 2.7 .2-.8 .3-3.4 .2-3.1 .2-1.3 .3 .6 .2 3.7 .3-1 .2-1.6 .3 3.1 .2-6.5 .2-.9 .3-.7 .2 7.2 .3-14.1 .2 7.3 .3-.1 .2-1.9 .2 7 .3-4.6 .2-2 .3-6.4 .2 4.1 .2-3.6 .3 .8 .2-.1 .3-3 .2 5 .3 .9 .2-2.7 .2-3.4 .3-8 .2 9.6 .3-.7 .2-4.9 .3-1.6 .2 3.2 .2-5.7 .3 4.8 .2-7 .3-.1 .2 2.5 .3-5.6 .2 4.3 .2 1.1 .3-6.9 .2 7 .3-5.7 .2 4.7 .3-3.4 .2-2.8 .2-.7 .3-4.4 .2 3.1 .3-.5 .2 7.9 .2-2.4 .3-8.4 .2 7.1 .3-1.6 .2-2.9 .3 2.6 .2 .8 .2-4.8 .3 .7 .2 1.2 .3-4.1 .2 3.7 .3-1.2 .2-4.4 .2 1.3 .3 3.6 .2 1.7 .3-2.1 .2-4.3 .3 7.4 .2-4.4 .2 1.1 .3 1.7 .2-7.3 .3 2.4 .2-1.8 .3-1.2 .2 9.4 .2-3.9 .3-9.3 .2 7.1 .3-3.6 .2 5.5 .3-3.9 .2-1.1 .2 .8 .3 .6 .2-1.5 .3-1.1 .2 0 .2 1.9 .3-5.7 .2 3.5 .3-.7 .2-1.5 .3 3.9 .2-7.1 .2 2.8 .3-1.9 .2 4.5 .3-3.7 .2 1.6 .3 .8 .2-7 .2 6.7 .3-4.1 .2 1.6 .3 .4 .2 3.1 .3-.2 .2 3.5 .2-5.3 .3-2.2 .2-.1 .3 3.9 .2 3.2 .3-4.2 .2-3.1 .2 3.8 .3-.9 .2-.8 .3-2.5 .2-6.1 .2 6.8 .3 5.4 .2-2.8 .3-8.2 .2 7.5 .3-6.2 .2 12.9 .2-6 .3-4.7 .2 6.8 .3-5.3 .2 4.5 .3-1.8 .2-7.6 .2 9.8 .3-6.7 .2 9 .3-4.3 .2-3.6 .3-2.6 .2 11.5 .2-.5 .3-12.9 .2 13.6 .3-5 .2-1.3 .3 .5 .2-.6 .2 5.8 .3-4.3 .2-6.7 .3 19.6 .2-10.4 .3-6.6 .2 2.5 .2-1.9 .3 3.3 .2 1.1 .3-.5 .2-2.8 .2-.6 .3 5.6 .2-3.1 .3 8.1 .2-10.2 .3 5.6 .2-2.3 .2-2.5 .3 7.3 .2-3.9 .3-3.3 .2 2.2 .3 4.6 .2-7.3 .2 9 .3-2.2 .2-3 .3 5.7 .2 1.5 .3-3.7 .2-1.2 .2 5.8 .3-1 .2-7.9 .3 2.6 .2 .1 .3-.4 .2-3.5 .2 8.3 .3-2.6 .2 .3 .3 4.6 .2-8.2 .2 3.6 .3 1.3 .2-2.1 .3 1.2 .2 3.2 .3-2.4 .2 4.7 .2-6.8 .3 3.4 .2-5.3 .3 4.6 .2-1.8 .3 7.2 .2-1.9 .2-.6 .3 4.7 .2-1.2 .3-2.2 .2-4.6 .3-2.4 .2 5 .2-.9 .3-.8 .2 1.4 .3-4.4 .2 10.9 .3-8.8 .2 1.8 .2 4.5 .3-7.3 .2 8.9 .3 .4 .2-4 .3-2.3 .2 2.4 .2-4.4 .3 11.3 .2-4.3 .3-2.3 .2-.3 .2 5.3 .3 3.4 .2-9.1 .3 2.7 .2-3.8 .3 8.6 .2-1.5 .2 7.5 .3-7.8 .2-.8 .3-2.8 .2 7.8 .3-8.2 .2 8.4 .2-1.4 .3-2.3 .2-1.1 .3 10.2 .2-.1 .3-7.6 .2 3.6 .2 4.4 .3-7.7 .2 1.5 .3-3 .2 4 .3 .5 .2-.9 .2-.8 .3-2.6 .2 1.1 .3 1.6 .2 5.8 .2-3.6 .3-.9 .2 5.4 .3 0 .2-4.2 .3 .7 .2 4.7 .2-.7 .3-3.8 .2 4 .3-.7 .2 4.2 .3-6.5 .2 6.3 .2-1.2 .3-4.7 .2 7.4 .3-.2 .2-7.3 .3 11.6 .2-10.4 .2 1.1 .3 2.4 .2 4 .3-.3 .2-2 .3 5.3 .2-3 .2 3.7 .3 5.3 .2-8.8 .3-9.2 .2 6.2 .3-.4 .2 4.3 .2 .4 .3-4.3 .2 .6 .3 3.4 .2 .5 .2-8 .3 12.7 .2-3 .3 .2 .2 1.4 .3-4.3 .2 3.7 .2 4.1 .3 .4 .2-1.8 .3-2.3 .2-1.5 .3 7.7 .2-2.4 .2-3 .3-5.8 .2 4.9 .3-3.4 .2 11.4 .3-3.4 .2-3 .2 2 .3 10.4 .2-4.6 .3-8.6 .2 4.5 .3-3.5 .2-1.4 .2 6.9 .3 8.2 .2-2.6 .3-5.1 .2-1.1 .2 2.3 .3 3.2 .2-8.5 .3-1.2 .2 13.4 .3-5.4 .2 4.8 .2-4.7 .3 4.6 .2-7.3 .3 4.1 .2 3.9 .3-1.7 .2-5.1 .2 5 .3-5.4 .2-2.6 .3 7.1 .2 3.3 .3-1.8 .2-7.3 .2 7.7 .3-.5 .2-3.9 .3-7.1 .2 12.6 .3-.3 .2-1.2 .2-7.8 .3 1 .2 9.1 .3-.6 .2 .7 .3-4.1 .2 2.4 .2-3.2 .3 1 .2-1.8 .3 4.2 .2-2.3 .2 5.1 .3-.7 .2-5.3 .3 9.6 .2-10.4 .3 5.7 .2 2.5 .2 .8 .3-12.3 .2 14.9 .3-2.3 .2 .9 .3-13 .2 5.8 .2 2.2 .3-1.1 .2 6.6 .3-7.1 .2 7 .3-2.3 .2-7 .2 1.7 .3 2 .2 2.1 .3 3.2 .2-4.2 .3 3.9 .2-9 .2-5.4 .3 9.7 .2 2.8 .3-3 .2-2.4 .2 5.1 .3 5.4 .2-7.4 .3-2.3 .2-.5 .3 10.1 .2-7.3 .2 2.3 .3 2.1 .2-.5 .3-7.3 .2 6.7 .3-.4 .2-1.4 .2 1.8 .3-5.7 .2 1.7 .3-1.6 .2 4.5 .3-5.1 .2 3.7 .2-9 .3 7 .2-.9 .3 .8 .2 .9 .3-1.2 .2-.2 .2-6.7 .3 11.4 .2-6.4 .3 1.2 .2-2.3 .3 6.3 .2-7.2 .2 4.6 .3 2 .2 1.3 .3-2.1 .2-2.4 .2-7 .3 8.6 .2-.8 .3-1.7 .2-.5 .3-3.1 .2-2.5 .2 8.8 .3-3.2 .2-8.7 .3 6.6 .2-2.8 .3 1.9 .2-2.7 .2 2.6 .3-.7 .2-.9 .3-8.5 .2 7.5 .3-3.2 .2-4.7 .2 6.2 .3-7.9 .2 7.7 .3 2.5 .2-8.3 .3 4.7 .2-2.1 .2 .3 .3-7.6 .2 6.6 .3-2.1 .2 1.8 .2-3.1 .3 3.5 .2-3.3 .3 1 .2 2.1 .3-4.7 .2 2.5 .2-3.2 .3 .6 .2-4.1 .3 4.2 .2 1.1 .3-5.1 .2 2.7 .2-1.7 .3-5.9 .2 4.7 .3 3 .2-6.8 .3-5.1 .2 6.7 .2-3.5 .3 8.6 .2-7.3 .3-.3 .2-2.7 .3 2.7 .2-3.3 .2-1.7 .3 2.6 .2-3.1 .3 7.1 .2-9.3 .3 3.3 .2-2.5 .2-2.8 .3 10.3 .2-13.8 .3 12.2 .2-10.6 .2 4.9 .3 7.2 .2-15.9 .3 2.2 .2 9 .3-4.4 .2-3 .2 1.4 .3-3.8 .2 3.4 .3 4.4 .2-7 .3 1.4 .2 3.3 .2 2.3 .3-9.5 .2 2.7 .3-3.5 .2-.7 .3 .4 .2-1.3 .2-4.3 .3-1.3 .2 4 .3 2.6 .2 3.4 .3-6.6 .2 .9 .2 2.5 .3 0 .2-3.4 .3-.1 .2 6.4 .3-8.1 .2-.9 .2-4.3 .3 6.9 .2-2.8 .3 7.3 .2-8.2 .2 3.7 .3 .1 .2 2.1 .3-10.7 .2 9.8 .3-5.9 .2-.7 .2-1.1 .3-.6 .2-.2 .3-7.3 .2 9.6 .3-1.9 .2-3.9 .2 2.8 .3 8 .2-7.1 .3-3.1 .2 7.1 .3-9.2 .2 1.6 .2-1.4 .3 .8 .2 3 .3-.9 .2-4.9 .3 1.8 .2 .4 .2-2.1 .3 1 .2-2.8 .3-.4 .2 2.4 .2-4.1 .3 4.7 .2-2.4 .3-2.9 .2 .7 .3 .1 .2 .8 .2 .6 .3-1.4 .2-2.7 .3 7.7 .2-2.2 .3-3.1 .2 2.6 .2-2.4 .3-2.4 .2 1 .3 8.7 .2-6.1 .3-.1 .2-6.4 .2 4.3 .3 5.6 .2-6.7 .3 2 .2 .4 .3-2.4 .2 3 .2-5 .3 .7 .2-4.2 .3 11.2 .2-8.5 .3-.9 .2 4.2 .2-6.8 .3 1.4 .2-2.9 .3 2.5 .2-1.7 .2 3 .3-2.6 .2-3.7 .3 2.6 .2 .3 .3-1.6 .2 4.8 .2-1.2 .3-2.1 .2-4.9 .3 5.7 .2-6.5 .3 5.5 .2-1.4 .2-2.5 .3-1.1 .2 .2 .3 9.3 .2-8.3 .3-.1 .2 3.8 .2-2.1 .3 1.9 .2-8.2 .3 .3 .2 15.1 .3-12 .2-1.1 .2 1.3 .3 2.6 .2-7.9 .3 4.9 .2-1.3 .2 2.1 .3-2 .2-2.7 .3-1.4 .2-5.7 .3 11.6 .2-8.8 .2 3.5 .3 6.9 .2-7.5 .3 3.3 .2-3.1 .3 2.9 .2-2.4 .2-2.3 .3 6.2 .2-5.9 .3-4 .2 3.3 .3 2.7 .2-6 .2 6.4 .3-.4 .2 4.5 .3-9.9 .2 4.3 .3-8.3 .2 4 .2 1.6 .3 .8 .2-1.9 .3-.3 .2-2 .3 .3 .2 2.4 .2 .7 .3 .1 .2 1 .3 .5 .2-10.5 .2 4.2 .3 1.1 .2-1.9 .3 5.6 .2-1.2 .3-3.1 .2 .6 .2 3.7 .3-5.8 .2 0 .3 4 .2-1.7 .3 3.1 .2-3.8 .2 1.1 .3-4.7 .2-1.6 .3 3.1 .2-9.4 .3 10.4 .2 1.8 .2-3.3 .3-1.2 .2 4.3 .3-4.1 .2 3.3 .3 4 .2-5.3 .2 3.6 .3-4.7 .2-1.1 .3-.1 .2-.9 .2 3.3 .3-9.5 .2 4.5 .3 3 .2-5.4 .3 2.3 .2-2.2 .2 3.7 .3 1.3 .2 1.8 .3-3.5 .2-4.3 .3 3.1 .2 .9 .2 2.7 .3-12.4 .2 8.4 .3-13.3 .2 14.1 .3-1.1 .2 0 .2 1.1 .3-1.9 .2-3.7 .3 3.2 .2 2.7 .3-4.7 .2 .3 .2-4.5 .3 8 .2-5.9 .3-1 .2 .8 .3-1.6 .2 1.9 .2 5 .3-1.8 .2 1.9 .3 .1 .2-8.4 .2 4.5 .3 3.3 .2 2.6 .3-13 .2-.2 .3 6.3 .2-3 .2-2.4 .3 4.5 .2-4.3 .3-5.3 .2 7.5 .3 .3 .2 1.5 .2 .8 .3-2.8 .2-1.7 .3-1.7 .2-8.6 .3 9 .2 4.7 .2-1.5 .3 4.6 .2-7.8 .3-5.8 .2 8.7 .3 .5 .2-7.8 .2-1.7 .3 5.8 .2 1.7 .3-6.5 .2 2.4 .2-1.7 .3-1.6 .2-.7 .3 4.8 .2-2 .3-1.3 .2-6.9 .2 14.8 .3-9.5 .2 2.5 .3-3.6 .2 5 .3-6.8 .2 5.3 .2-1.2 .3 3.6 .2-7.2 .3 1.3 .2 1.2 .3 7.8 .2-12.5 .2 5.9 .3-3.5 .2 3.1 .3 .9 .2-2 .3 .2 .2-.2 .2-3.2 .3 1.1 .2-5.2 .3 4.3 .2-1.7 .3 1.5 .2 3.2 .2-1.4 .3 0 .2 2 .3-12.2 .2 9.4 .2-1.8 .3-.5 .2-4.3 .3 6.1 .2 1.8 .3-.6 .2-4.1 .2 2.3 .3 .8 .2 2.8 .3-2.3 .2-3.9 .3-.4 .2 0 .2 0 .3-2.7 .2 4.1 .3-5.2 .2-.7 .3 3.8 .2-3.4 .2 .9 .3-6.5 .2 9.6 .3-3 .2-.6 .3 1.9 .2-1 .2-3.3 .3 9.1 .2-8.5 .3 4.7 .2 2.8 .2-8.6 .3 2.3 .2-3.3 .3 6.3 .2-4.9 .3-2.8 .2 8.2 .2-1.5 .3-6.4 .2 7 .3-3.6 .2 8.5 .3-3.6 .2-7.9 .2 .8 .3-2.2 .2 3.3 .3-.4 .2 2.2 .3-2.4 .2-5.5 .2 2.1 .3 7.5 .2-1 .3-4.7 .2-.1 .3-.2 .2 .5 .2-6 .3 8.7 .2-5.5 .3 2.6 .2-9.3 .3 9.3 .2 3.7 .2-12.5 .3 12.8 .2-3.8 .3-4.3 .2-3 .2 9.3 .3-3.3 .2 1 .3-3.1 .2-2 .3 5.6 .2-6.4 .2 6.2 .3-9 .2-.4 .3 .9 .2 9.3 .3-10.7 .2 2 .2 6 .3-1.6 .2 6.6 .3-1.4 .2-4.3 .3 .1 .2-8.8 .2 3.1 .3 1.7 .2 .4 .3-4.3 .2 1.4 .3 .2 .2 6.4 .2-2.4 .3-2.7 .2 0 .3 1.8 .2-3.5 .2 1.3 .3-5.2 .2 8.1 .3 .9 .2-2.2 .3 .2 .2-.5 .2 5.6 .3-6.4 .2-5.4 .3 .8 .2 6 .3 1.2 .2-1.1 .2 .1 .3-2.3 .2-5.9 .3 2.7 .2-3.9 .3 4.8 .2-3.4 .2 4.9 .3-1 .2-6.2 .3 9.2 .2 0 .3-7.5 .2 5.2 .2 1.9 .3-3.6 .2 3.9 .3-2.4 .2 3 .3-3.1 .2-1.3 .2 2.2 .3 .9 .2-1.9 .3-2.5 .2-1.3 .2 1.4 .3-.8 .2 3.2 .3-.8 .2-.9 .3 .2 .2 .5 .2 4.7 .3-1.3 .2-6.2 .3 3.3 .2-2.6 .3 .7 .2-1.4 .2-.6 .3-2.6 .2-11.7 .3 16.9 .2 3.3 .3-7.3 .2 4.8 .2-3.1 .3 2.2 .2-6.4 .3 4.5 .2 .3 .3-15.4 .2 16.4 .2-1.3 .3-8.2 .2 10.7 .3-2.4 .2 .7 .2 .5 .3-2.8 .2-2.3 .3 2.1 .2 0 .3 9.1 .2-1.4 .2-8.2 .3 .2 .2 2.5 .3 .7 .2-4.4 .3-1.2 .2 10.2 .2-3.2 .3-9.1 .2-.9 .3 3.2 .2 3.6 .3 1.1 .2-3.2 .2-4.5 .3 6.3 .2 1.2 .3-2.1 .2-1.8 .3 3.7 .2-2.2 .2-3.7 .3 4.3 .2-4.9 .3 7.9 .2-1.7 .3-5.1 .2 4.3 .2 3.6 .3-11.8 .2 7 .3 6.3 .2-11.2 .2 4.9 .3-4.4 .2 4.7 .3-8.1 .2 2.7 .3 3.9 .2 2.3 .2 .9 .3 .2 .2 2.5 .3-1.5 .2 .1 .3-6 .2 2.4 .2 12.3 .3-3.2 .2-5 .3-.3 .2 .9 .3-4.9 .2 8.3 .2-8.2 .3 1.1 .2 8 .3-15 .2 8.6 .3-7.3 .2 3.8 .2 2 .3-.9 .2 1.8 .3-3.3 .2 2.4 .2-3.8 .3 2.8 .2-3.5 .3 7.3 .2-6.9 .3 7 .2-3.9 .2 .4 .3 5.3 .2-3.8 .3-7 .2 8.5 .3-12 .2 11.4 .2-2.3 .3-3.3 .2 5.4 .3-1.2 .2 8.4 .3-10 .2 10.1 .2-1.8 .3-6.9 .2-.6 .3 7.8 .2-5 .3 1.2 .2-1.3 .2-3.2 .3 3.2 .2-2 .3-1.8 .2 4.6 .3 7.6 .2-.5 .2-5.8 .3 .9 .2 1.5 .3 3.2 .2-3.5 .2-2.7 .3 .5 .2 5.6 .3 5.5 .2-11.4 .3-4.9 .2 10.4 .2-3 .3 .9 .2 4.1 .3-4 .2-4.8 .3-2.1 .2 7 .2-3.8 .3 5.4 .2-5.4 .3 3.4 .2-3.8 .3 4.2 .2-.2 .2 3.9 .3 2.9 .2-5.3 .3-2.3 .2 10.3 .3-5.5 .2 1.1 .2 .1 .3 3.2 .2-1.4 .3-1 .2 .6 .3-5.7 .2 1.2 .2 2.1 .3 1 .2 0 .3 1.3 .2-.8 .2-1.3 .3-4 .2 9.1 .3-.6 .2-5 .3 5.2 .2-.1 .2-.8 .3-6.7 .2 2.6 .3 2.4 .2 8.2 .3-8.6 .2 2.1 .2-2.4 .3 2.5 .2 4.3 .3-9.5 .2-2.4 .3 12.8 .2-2 .2-2 .3 5.9 .2 .3 .3-10.8 .2 7.3 .3 4.8 .2-8.3 .2 3.7 .3 4.9 .2-4.1 .3-3.1 .2 2.1 .2-2 .3 7 .2-7.9 .3 10.1 .2-9.3 .3 6.4 .2-5.2 .2 4.4 .3 5.1 .2 .6 .3 1 .2-4.8 .3 1 .2 .7 .2 1.7 .3-3.4 .2 5.7 .3-2.5 .2 3.2 .3-2.1 .2 1.1 .2-4.7 .3 1.6 .2-2.8 .3 4 .2 .8 .3 4.1 .2-7.1 .2 16.6 .3-11.7 .2 5.4 .3-.4 .2-12.4 .3 8.5 .2 6.7 .2-13.6 .3 11.9 .2-8.8 .3 5.1 .2 2.9 .2-7.1 .3 7.8 .2-2.6 .3 .1 .2 5.6 .3 10.5 .2-11 .2 2.9 .3-3.5 .2-2 .3 4 .2 4.9 .3-4.4 .2 3 .2-3.7 .3 10.3 .2-14.6 .3 8.5 .2 .2 .3-.5 .2-4.6 .2 .3 .3 3.7 .2 1.6 .3-4.3 .2 .9 .3 6.3 .2 2.1 .2-5.3 .3-.1 .2 .3 .3 11.9 .2-6.7 .2-1.6 .3 4.3 .2 5 .3-3.6 .2-9 .3 5.3 .2-.8 .2 .6 .3-2.7 .2 3.3 .3-2.1 .2 5.6 .3-.7 .2-4.9 .2-.7 .3 4.9 .2 4.4 .3-.1 .2-1.7 .3-11.3 .2 10.6 .2-.5 .3 1.8 .2-2.8 .3 3.2 .2-.4 .3 12.6 .2-6.9 .2-2.8 .3 .9 .2 .1 .3 1.5 .2-1.7 .3 1.7 .2 4.2 .2-.3 .3-1.5 .2 4.1 .3-3.6 .2-4 .2-2.4 .3 4.2 .2 2.7 .3 2.1 .2 2.8 .3-5.6 .2-.4 .2 6.1 .3 1.8 .2-5.6 .3 3.4 .2 4.1 .3-3.4 .2-1 .2-6.9 .3 12.7 .2-2.1 .3-1.5 .2-1.7 .3-2.4 .2 4.5 .2 .4 .3 4.7 .2-7.9 .3 9.9 .2-4.6 .3 4.5 .2-7.3 .2 5.3 .3 3.6 .2-3.5 .3-5.2 .2 4.6 .2 3.7 .3-6.5 .2 .3 .3 6.6 .2-3.8 .3 6.4 .2-6.2 .2-1.8 .3 4.3 .2 8.7 .3-8 .2 3.6 .3 1.4 .2-3.8 .2 7.9 .3-2.8 .2 1.5 .3-7.2 .2 .3 .3-3.1 .2 9.7 .2 .4 .3 3.9 .2 3.3 .3-5.8 .2 .5 .3 3.1 .2 4.4 .2-8 .3 5.7 .2-2.6 .3 .2 .2 4.6 .3-5.2 .2-.5 .2 6.7 .3-2 .2-.3 .3 1 .2 2.7 .2-2.6 .3 4.6 .2-.7 .3 4.3 .2-.2 .3-1 .2-3.3 .2 1.6 .3-2 .2 12.9 .3-10.6 .2 3.4 .3 3.3 .2-9.5" fill="none" stroke="#f86060" stroke-width="1.9" stroke-linejoin="round" clip-path="url(#cdf2)"/>
<rect x="394.5" y="1130.8" width="436.2" height="351.2" fill="none" stroke="#000" stroke-width="1.9"/>
<path d="M394.5 1482.0v8M539.9 1482.0v8M685.3 1482.0v8M830.7 1482.0v8M467.2 1482.0v4.5M612.6 1482.0v4.5M758.0 1482.0v4.5M394.5 1482.0h-7.5M394.5 1423.5h-7.5M394.5 1364.9h-7.5M394.5 1306.4h-7.5M394.5 1247.9h-7.5M394.5 1189.3h-7.5M394.5 1130.8h-7.5M394.5 1452.7h-4M394.5 1394.2h-4M394.5 1335.7h-4M394.5 1277.1h-4M394.5 1218.6h-4M394.5 1160.1h-4" stroke="#000" stroke-width="1.7" fill="none"/>
<text x="394.5" y="1511.7" font-size="23.3" text-anchor="middle" font-family="'Liberation Sans', Arial, sans-serif" >500</text>
<text x="539.9" y="1511.7" font-size="23.3" text-anchor="middle" font-family="'Liberation Sans', Arial, sans-serif" >600</text>
<text x="685.3" y="1511.7" font-size="23.3" text-anchor="middle" font-family="'Liberation Sans', Arial, sans-serif" >700</text>
<text x="830.7" y="1511.7" font-size="23.3" text-anchor="middle" font-family="'Liberation Sans', Arial, sans-serif" >800</text>
<text x="382.8" y="1489.5" font-size="23.3" text-anchor="end" font-family="'Liberation Sans', Arial, sans-serif" >0.04</text>
<text x="382.8" y="1431" font-size="23.3" text-anchor="end" font-family="'Liberation Sans', Arial, sans-serif" >0.05</text>
<text x="382.8" y="1372.4" font-size="23.3" text-anchor="end" font-family="'Liberation Sans', Arial, sans-serif" >0.06</text>
<text x="382.8" y="1313.9" font-size="23.3" text-anchor="end" font-family="'Liberation Sans', Arial, sans-serif" >0.07</text>
<text x="382.8" y="1255.4" font-size="23.3" text-anchor="end" font-family="'Liberation Sans', Arial, sans-serif" >0.08</text>
<text x="382.8" y="1196.8" font-size="23.3" text-anchor="end" font-family="'Liberation Sans', Arial, sans-serif" >0.09</text>
<text x="382.8" y="1138.3" font-size="23.3" text-anchor="end" font-family="'Liberation Sans', Arial, sans-serif" >0.10</text>
<text x="612.6" y="1554" font-size="30.2" text-anchor="middle" font-family="'Liberation Sans', Arial, sans-serif" >Wavelength, nm</text>
<text transform="translate(315,1455) rotate(-90)" font-size="30.2" text-anchor="start" font-family="'Liberation Sans', Arial, sans-serif">Normalized intensity, a.u.</text>
<clipPath id="cdf3"><rect x="394.5" y="1647.2" width="436.20000000000005" height="351.0999999999999"/></clipPath>
<path d="M394.5 1981.5l.2-5 .3 1.3 .2 2.1 .3-8 .2 1 .3 11.3 .2-9.3 .2-3.3 .3 2.4 .2-1.4 .3-2.6 .2 2.5 .3 1 .2-.3 .2 1.6 .3-8 .2 .5 .3 7.4 .2-4.4 .2 5.3 .3-3.4 .2-6.1 .3 6.3 .2-5.6 .3 4 .2 3 .2 2.7 .3-7.7 .2 2.3 .3-1.7 .2 1.4 .3-11.7 .2 7.1 .2 2 .3 .3 .2-4.5 .3 5 .2 .7 .3-3.8 .2-1.3 .2-.8 .3 1.4 .2 3.2 .3 .8 .2-7 .3-1.9 .2-2.1 .2 8 .3-2.9 .2 0 .3 .3 .2 .6 .3-3.3 .2-3.4 .2 1.1 .3 2.2 .2 .6 .3-2.8 .2-.5 .2 5.7 .3-6.5 .2 2 .3-2.1 .2-2.1 .3-2.6 .2 3 .2-1.2 .3 5.3 .2-7 .3 2.1 .2 3.3 .3-2.9 .2 1.8 .2 .8 .3-8.7 .2 3.9 .3-2.2 .2 7.5 .3-5.2 .2 1.7 .2 3.8 .3-7.2 .2 1.1 .3 .8 .2-2.6 .3 4.9 .2-1.8 .2 .3 .3-3.5 .2-1.7 .3-.3 .2-.3 .2-4.7 .3 6.5 .2 1.2 .3-3.1 .2-1.9 .3 1.5 .2 .3 .2 0 .3 4.7 .2-9.3 .3 3.8 .2 .8 .3-2.3 .2-1.4 .2-3 .3 1.2 .2 4 .3 2.2 .2-7.3 .3 3.4 .2-.1 .2 1.3 .3-2.9 .2 .4 .3 1.2 .2-7.2 .3 3.7 .2-6.4 .2-1 .3 3.4 .2-2.8 .3 6.5 .2 1.2 .3-4.7 .2 .1 .2-.7 .3-.5 .2 .9 .3 .3 .2-3.1 .2-1.4 .3 .4 .2 4 .3-4.4 .2 5.8 .3-6 .2 4.9 .2-8.9 .3 1.3 .2 3.5 .3-.4 .2-2.6 .3 7 .2-7 .2 .3 .3-3.2 .2 7 .3-3.1 .2-1.9 .3-7.2 .2 6.3 .2-3.2 .3 2.5 .2 1.3 .3-5.9 .2 2.8 .3 1.8 .2-2.8 .2-2 .3-2.9 .2 .9 .3-2.4 .2 7.1 .2-3.3 .3-4.8 .2 3.6 .3-4.6 .2-7.1 .3 14.5 .2-.5 .2-9.1 .3 2.1 .2 2.6 .3-2.3 .2-2 .3 .7 .2 .5 .2-1.4 .3 2.1 .2-1.8 .3-2.2 .2 2.2 .3-6 .2 9.9 .2-10.9 .3 5 .2 1 .3-.1 .2-.9 .3 2.9 .2-8.3 .2 3.1 .3 .3 .2-2.5 .3-.8 .2 5.9 .3-7 .2 .3 .2 .3 .3-.2 .2 .8 .3-1.6 .2 1.5 .2-1.2 .3 .8 .2 2.5 .3-7.7 .2 7.8 .3-7.3 .2 3.3 .2-2.1 .3-1.9 .2-5.9 .3 11.4 .2-8.2 .3-.5 .2 5.7 .2-3.7 .3 5.6 .2-1.1 .3-3.6 .2-1.9 .3 1.3 .2-7.3 .2 4.5 .3-.4 .2-2.5 .3 2 .2-6 .3 7.3 .2 .9 .2-8.9 .3 4.3 .2 4.3 .3-4.2 .2-5.1 .2-.2 .3 5.7 .2 2.9 .3-9.9 .2 3.5 .3-3 .2 1.4 .2 1.7 .3-1.4 .2-2.4 .3 8.9 .2-7.6 .3-.4 .2 4 .2-3.8 .3-1 .2 3.5 .3-6.7 .2 5.6 .3 .6 .2-1.4 .2-3 .3 .3 .2-5.9 .3 5 .2 1.1 .3 1.6 .2-2.6 .2-2 .3-1.7 .2 2.4 .3 .3 .2 3.3 .3-4.2 .2-1.9 .2 1 .3-1.5 .2 .6 .3-6.7 .2 1.7 .2 1.1 .3 5.2 .2-2.1 .3 .5 .2 3.1 .3-10.5 .2 9.9 .2-2.7 .3-3.8 .2 6.9 .3-9.8 .2 .8 .3 2.7 .2 1.8 .2-2.2 .3-6.6 .2 5.7 .3 .5 .2 8.3 .3-4.1 .2-4.3 .2-4.2 .3 4.5 .2-5.1 .3 4.3 .2 .3 .3-2.6 .2 1.9 .2-2.1 .3-.9 .2 11.2 .3-7.8 .2-3.1 .3-1.7 .2 2.9 .2 1.1 .3 .8 .2 1.8 .3-3.4 .2-5.4 .2 10.1 .3-3 .2-1.2 .3 1.5 .2-9.4 .3 3.4 .2-.6 .2 5.4 .3-7.9 .2 2.6 .3 5.8 .2-3 .3-3.5 .2 7.2 .2-10.6 .3 5.6 .2-2.4 .3 2.2 .2-2.7 .3-2 .2 3.2 .2-5.1 .3 5.8 .2-2.9 .3 3.8 .2-4.6 .3-.9 .2 3.3 .2 2.6 .3-11 .2 7 .3 1.4 .2-6.8 .2 1.6 .3 4.8 .2-5 .3 .5 .2 7.5 .3-8.9 .2 .1 .2-4.9 .3 3.9 .2-.6 .3 9.5 .2 2 .3-11.8 .2 10.5 .2-4 .3-3.1 .2 3.1 .3-1.4 .2-3.8 .3-3.3 .2 2.7 .2 2.9 .3-1.2 .2-1.3 .3 5.5 .2-6.7 .3 6.3 .2-4.5 .2 1.9 .3-4.1 .2 3.5 .3-2.5 .2-3.2 .3 5.5 .2-.1 .2 2.8 .3-1.9 .2-4.2 .3 1.2 .2-6.1 .2 4.3 .3 7.8 .2 .7 .3-2.5 .2-1.6 .3 .9 .2-.4 .2-7.3 .3 2.8 .2 6.6 .3-.1 .2-3.1 .3-1.8 .2-.3 .2-.6 .3-1.3 .2-3.3 .3 6.7 .2-2.1 .3 .8 .2 6.2 .2-3.7 .3-4.3 .2 4.1 .3-6.8 .2 8.2 .3-2.6 .2-1.6 .2 2.5 .3 2.8 .2-6.3 .3-1.8 .2 10.1 .2-6.9 .3 4.7 .2-7.1 .3 3.4 .2-3.4 .3 4.1 .2-3 .2-1.4 .3 7.2 .2-4 .3-7.8 .2 5.8 .3-2.3 .2-1 .2 2 .3 .3 .2 1.6 .3-2.8 .2-3.5 .3 4.2 .2 4.6 .2-7.4 .3 6.4 .2-.5 .3-3.1 .2 2.4 .3-3.5 .2 1.1 .2-2.1 .3 4.8 .2 7 .3-10.8 .2 6 .3-10.9 .2 4 .2-.5 .3 8.9 .2-7.6 .3 4.4 .2-9.3 .2 7 .3 1.4 .2-2 .3-8.9 .2 9.5 .3 2 .2 1.6 .2-3.1 .3-6.9 .2 4.8 .3 3.6 .2-5.7 .3 4.5 .2-3.5 .2 1.8 .3 2.1 .2-5 .3 11.6 .2-9.1 .3 .5 .2-3.7 .2 2.5 .3-1.3 .2-4.1 .3-.4 .2 5.9 .3-1.7 .2-8.3 .2 1.5 .3 5.9 .2 .6 .3 2.1 .2-6.3 .2 5.9 .3-3.1 .2-.9 .3 1.1 .2 3.5 .3-1.5 .2 .9 .2-5.4 .3 1.2 .2-3 .3 1.8 .2 .4 .3-.4 .2 3.7 .2-1.1 .3 .9 .2-2.2 .3 3 .2-3.4 .3 2.7 .2-1.7 .2 .6 .3-2.8 .2-4 .3-.9 .2 11.1 .3-5.4 .2 .1 .2-2.2 .3-1.1 .2 10.8 .3-13.3 .2 3.3 .3-.1 .2-3.7 .2-.7 .3 1.7 .2 1.1 .3-.7 .2 4.2 .2-6.8 .3 5 .2 3.3 .3-2.3 .2-7.1 .3-6.4 .2 12.1 .2-1.5 .3-4 .2 5.7 .3-6 .2 1.3 .3-4.2 .2 4.1 .2-2.9 .3-.7 .2 4.8 .3-3.2 .2-6.1 .3 6.8 .2 .1 .2-6 .3 1.1 .2 1 .3-1.4 .2 .8 .3 1.3 .2-4.1 .2 8 .3-11.7 .2 2.2 .3 7.9 .2 1 .2-8.2 .3-1.2 .2-3.3 .3 6.9 .2-3.6 .3-3.8 .2 3.7 .2 2.8 .3-2.7 .2 4.6 .3-3.9 .2-2.8 .3-2.1 .2 1.7 .2 1.7 .3-1.6 .2 .3 .3-3.2 .2 1.4 .3 1 .2-4.9 .2-4.2 .3 9.6 .2-4.2 .3-3.8 .2 1.8 .3-2 .2-5.2 .2 4.6 .3-4.5 .2 5 .3-1.3 .2 3.7 .3-4.4 .2 1.3 .2-2.6 .3-.6 .2-3.7 .3 7.6 .2-3.1 .2-2.8 .3 2.3 .2-2.4 .3-1.3 .2 2.8 .3 2.9 .2-5.2 .2-4.2 .3 2.4 .2 7.6 .3-8.9 .2 6.2 .3-5 .2 2.9 .2-3.1 .3-5.2 .2 3.5 .3 8 .2-7.8 .3 2 .2-3.3 .2 .4 .3 1.1 .2 .2 .3 5.4 .2-7.7 .3-.9 .2-1.9 .2-2.5 .3-1.3 .2 7.2 .3-8.7 .2 10.5 .2-2.1 .3-4.2 .2-3.1 .3 3.5 .2-.3 .3 3.3 .2-6.5 .2 .9 .3 .7 .2-1.1 .3-1.4 .2-4 .3-.1 .2 2.9 .2 1.2 .3 3.7 .2 4 .3-2.3 .2-4.7 .3 4.5 .2-6.9 .2-1.7 .3 9.1 .2-11.5 .3 1.8 .2 .2 .3 5.3 .2-7.1 .2 4.2 .3-4.2 .2-3 .3 4.5 .2-.6 .3-4.7 .2 .6 .2-.1 .3 5.5 .2-2 .3-1.1 .2 .5 .2-4.9 .3 4.2 .2-3.9 .3-2.7 .2 1.8 .3 2.6 .2-.7 .2 2.9 .3-9.4 .2 4.5 .3 1.7 .2-4.8 .3 3.7 .2-2.5 .2-2.8 .3 7.1 .2-8.6 .3 10.6 .2-8 .3-2.1 .2-.1 .2 .1 .3-.7 .2 3.4 .3-7.4 .2 9.9 .3-1.6 .2 1.5 .2-8.2 .3-4.7 .2 5.2 .3 1.2 .2 1.2 .2-3 .3 1.1 .2 .4 .3-6 .2 10.6 .3-10.1 .2 4 .2 2.2 .3-6.6 .2 2.1 .3 4.9 .2-6.8 .3 3.9 .2-3 .2-.7 .3 1.2 .2-3.7 .3-.4 .2 3.4 .3-2.8 .2 .3 .2-6.1 .3 3.5 .2 3.5 .3-1.5 .2-1.3 .3-4.4 .2-.8 .2 3 .3 2.8 .2-5.1 .3 3.7 .2-5.8 .3 4.5 .2-7.8 .2 3.5 .3-4.7 .2 7.3 .3-2.8 .2-5.5 .2 .2 .3 .5 .2-4 .3 1.4 .2-.3 .3 5 .2 1.5 .2-6.6 .3 .1 .2 1.1 .3-2.9 .2 .3 .3 3.2 .2-2.5 .2-1.5 .3-2.1 .2 6.3 .3-7.4 .2 1.9 .3-4.3 .2 1 .2 1.8 .3-2.2 .2 2.6 .3-2.1 .2-5.4 .3-3.7 .2 10.3 .2-5.8 .3 6.2 .2-5.4 .3-3.2 .2 3.7 .2-3.3 .3 .3 .2-3.7 .3 4.6 .2 .9 .3-6 .2 7 .2-8.3 .3 2.1 .2-6.9 .3-1.5 .2 12.6 .3-2.8 .2-1.5 .2-10 .3 5.7 .2 .1 .3-1.8 .2 .2 .3-4.7 .2 1.9 .2-3.8 .3 2 .2 1.8 .3-4.4 .2 1 .3-1.1 .2 .9 .2 2.3 .3-2.8 .2-.1 .3-6.7 .2 3 .3 3.3 .2-8.7 .2 3.3 .3-2.3 .2 6.9 .3-6.4 .2-3.7 .2 6 .3 .9 .2-2.6 .3 1 .2-3.1 .3-1.7 .2-1.7 .2-.8 .3-.9 .2 2.6 .3-2.2 .2 .1 .3 1.2 .2-2.7 .2-4.9 .3 1.4 .2-1.7 .3-3.1 .2 6.1 .3-4.9 .2-.8 .2 .2 .3 5.8 .2-4.4 .3 3.8 .2-4.2 .3-1.6 .2 2.7 .2-.4 .3-2.2 .2-4.3 .3 1.4 .2-3 .2 2.5 .3 .6 .2 4.1 .3-.8 .2-3 .3 .4 .2-2.9 .2 7.8 .3-4.6 .2 3.1 .3-8 .2-.4 .3 1.5 .2-3.4 .2-.1 .3-4.8 .2 5.8 .3-3.2 .2 1.7 .3-4 .2-5.7 .2 7 .3 1.7 .2-8.6 .3 .4 .2 1.7 .3-.4 .2-5.3 .2 10.8 .3-3 .2-5.9 .3-4.5 .2 6.7 .3 4.8 .2-1.9 .2-1.9 .3-7.4 .2 3.5 .3-6.1 .2 11.2 .2-5 .3-9.1 .2 .6 .3 7.4 .2-1 .3-2.2 .2 2.8 .2 4.3 .3-5.7 .2-7.4 .3 5.1 .2-4 .3-1 .2 5.8 .2-1.9 .3-3.2 .2 3.1 .3-2.9 .2 4.2 .3-2.9 .2 1.9 .2-2.5 .3 3.1 .2-3.6 .3 .5 .2-2.1 .3 2.1 .2-6.6 .2 14.3 .3-11.3 .2 2.3 .3-2.2 .2-.3 .3 2.7 .2-3.3 .2 0 .3-3.5 .2 1.3 .3-1.1 .2 9.5 .2-10.6 .3 .5 .2 3.9 .3 3.8 .2-10.5 .3 .2 .2 5.2 .2 .4 .3-6 .2-1.6 .3 2.5 .2 5.4 .3-2.9 .2 2.3 .2-3.1 .3 0 .2 1.9 .3-2.6 .2 1 .3-3.9 .2 .9 .2 4.7 .3-3.8 .2-1.8 .3 4.6 .2-.5 .3-2 .2-2.6 .2 5.4 .3 5.1 .2-11 .3-2.5 .2 2.4 .2-.6 .3-1.3 .2 .2 .3 6.6 .2-.1 .3 1.9 .2-.4 .2-6.3 .3 5.1 .2-5.7 .3 .7 .2-2.8 .3 7.8 .2-.9 .2-4.9 .3 .4 .2 1 .3 .4 .2 2 .3-2.7 .2 1 .2-6.4 .3 3.9 .2-5.1 .3 11.7 .2-1.4 .3-2.3 .2 1.1 .2 2.9 .3-3.7 .2-8.4 .3 4.4 .2-7.2 .3 5 .2-1.5 .2 3.9 .3 1.2 .2-4.5 .3 2.1 .2 1.7 .2-1.6 .3-.2 .2-7.4 .3 6.3 .2 4 .3-1.9 .2-5.8 .2 3.8 .3 1.7 .2-4.2 .3 5.3 .2-5 .3 1.5 .2 .6 .2 7.6 .3-8.4 .2-.9 .3 4.4 .2-3.8 .3 2.3 .2-7.9 .2 8.6 .3-.9 .2-4.1 .3 8.9 .2-5.1 .3 .3 .2-3.6 .2-.9 .3 3.7 .2-3 .3 6.8 .2 1.4 .2-4.9 .3-3 .2 4.1 .3-2 .2 4.2 .3 .6 .2-2.3 .2 1.8 .3 3.4 .2 2.3 .3-7.2 .2 4.2 .3-3 .2-2.5 .2 7.8 .3-2.7 .2-.7 .3 .8 .2-1.5 .3-2.8 .2 9.5 .2-2.8 .3-1.9 .2 2.4 .3 1.2 .2-4.7 .3 2.7 .2-2.8 .2 3.3 .3-2.8 .2 9.1 .3-8.8 .2 3.2 .3 .3 .2-2.1 .2 4.5 .3-2.8 .2-.5 .3 1.7 .2-1.8 .2 6.5 .3-1.3 .2 1.6 .3-6.7 .2 5.4 .3-2.7 .2 3.1 .2 4 .3-2.6 .2-1.3 .3 4.8 .2 .1 .3 2.9 .2-10.2 .2 6.8 .3-1.7 .2-.8 .3 3.3 .2-3.1 .3-2.5 .2 4.2 .2 2.2 .3 6.3 .2-6.5 .3-.7 .2-1.7 .3 4.8 .2 .8 .2 1.5 .3-3.7 .2 2.3 .3-3.3 .2 6.6 .2-3.9 .3-2.4 .2 10.1 .3-1.1 .2 .1 .3 .5 .2-2.9 .2 5.5 .3-4.5 .2 7.4 .3-3.5 .2-4.3 .3 6.7 .2 3 .2-4.6 .3 3.4 .2-2.3 .3-.3 .2-3.5 .3 9 .2-2.7 .2 2.7 .3-2.3 .2 1.4 .3 5.1 .2-2.2 .3 .9 .2-3.1 .2 6.1 .3 2.1 .2-1.5 .3 1.4 .2-3.2 .3 8 .2-2.9 .2 1.8 .3 4.2 .2-2.5 .3-1.5 .2 2.1 .2 1.9 .3 7.3 .2-4.5 .3 .2 .2 2.6 .3 1.7 .2-2.5 .2 4.5 .3-.1 .2 .9 .3-7.7 .2 8.5 .3 2.8 .2-1.7 .2 5 .3-2.7 .2-.8 .3 3.5 .2 .4 .3 1.8 .2-.8 .2 3.3 .3-2 .2 2.1 .3-1.4 .2 1.6 .3 2.5 .2-.5 .2 1.3 .3 1.3 .2 1.6 .3 2.8 .2-.1 .2 1.3 .3-.4 .2-.3 .3-.8 .2 2.9 .3 .2 .2-.7 .2 6.6 .3-4.7 .2 4.6 .3 1.3 .2-.3 .3 5.5 .2-3.2 .2-1.4 .3 6.2 .2-3.2 .3 0 .2 1.6 .3 1.6 .2 2.1 .2 1.4 .3-2 .2 4 .3 4 .2-3.8 .3 2 .2 2.3 .2 1.8 .3-2.1 .2 .5 .3 .9 .2 4.4 .3 1.9 .2-5.2 .2 1 .3 2.4 .2 .6 .3 4 .2 .7 .2 3.8 .3-.9 .2-.1 .3 2.7 .2-2.4 .3 .1 .2 3.3 .2 2.5 .3-3.2 .2 5.1 .3 2.1 .2-2.5 .3 2.1 .2 .3 .2 1.5 .3 2.2 .2-1.7 .3 4 .2 .7 .3 1 .2-3.7 .2 1.2 .3 5.1 .2-1.1 .3 .8 .2 .7 .3 0 .2 2.5 .2 .2 .3 .9 .2 2.7 .3-1.9 .2 4.6 .2-4.6 .3 8.5 .2-5.4 .3 4 .2 1.3 .3-.6 .2 2 .2-.5 .3-1.9 .2 4.3 .3 2.1 .2-1.9 .3-1 .2 2.6 .2 2.3 .3 .8 .2 2.2 .3 .7 .2 0 .3-3.3 .2 7.8 .2-2.8 .3 2.2 .2-1.1 .3 1.1 .2 1.2 .3 3.3 .2 .7 .2-.6 .3 3.1 .2-3.1 .3 2.4 .2-.8 .3 3.7 .2-1.2 .2 2.4 .3 2 .2-5.3 .3 7.7 .2-2.2 .2-.2 .3-1.7 .2 3.4 .3-2.4 .2 4.7 .3 .5 .2 4.1 .2-2.7 .3 3.1 .2 1 .3 2.3 .2-3.1 .3 2.4 .2-3 .2 1.3 .3 2 .2 1 .3-1.3 .2 1.9 .3 2.5 .2-1.3 .2 1.1 .3-.5 .2 4.3 .3 1.3 .2-2 .3 .1 .2 3.6 .2-1.3 .3-1.3 .2-.5 .3 1.9 .2 5.2 .2-4 .3 10.6 .2-8.3 .3 .2 .2 3.2 .3-2 .2 1.7 .2-1.7 .3 .3 .2 1.4 .3 2.3 .2-.9 .3-1.5 .2 4.6 .2-.4 .3 .5 .2 0 .3-2 .2 6.9 .3-2.8 .2 2.3 .2 2.1 .3 .2 .2-.9 .3 .3 .2 1.1 .3 1.6 .2 .1 .2-1.1 .3 2.1 .2 1.1 .3 .6 .2-.2 .3 2.6 .2-1.3 .2 1.7 .3-.7 .2-.5 .3-.1 .2 1.7 .2 1.5 .3 1.5 .2-2 .3-.4 .2 .3 .3 3.2 .2-1.7 .2-.7 .3 2.3 .2-3.1 .3 2.6 .2 0 .3 .1 .2-1.4 .2 3.8 .3 1.4 .2-4.7 .3 2.7 .2 2 .3 2 .2-4.1 .2-.6 .3 1.8 .2 3.6 .3-3 .2 .6 .3 2.8 .2-6.2 .2 .2 .3 5.3 .2 .1 .3-3.4 .2 3.5 .2-.5 .3 .5 .2-1.5 .3 .9 .2-.5 .3 1.9 .2-.2 .2 3.8 .3-1.7 .2-3.9 .3 4 .2 2.3 .3-2 .2 1.9 .2-2 .3 1.8 .2-3.1 .3 3.8 .2-6.8 .3 8.4 .2-5.6 .2-1.1 .3 6 .2-1.3 .3 .9 .2 .9 .3-.9 .2-1.8 .2 2.6 .3 .4 .2 .5 .3 3.6 .2-6.3 .3 2 .2 1.3 .2-2.4 .3-1.7 .2 1.6 .3 4.1 .2-3.2 .2 2.3 .3-3.2 .2 3 .3-2.7 .2-.4 .3 2.6 .2 .1 .2 3.7 .3-8.1 .2 5.8 .3 3 .2-.5 .3-4.7 .2-.7 .2 .6 .3 2.3 .2-.2 .3 .6 .2 .8 .3-4.7 .2-.1 .2-.2 .3-.3 .2 3.5 .3 1.6 .2 6.7 .3-5.8 .2-1.5 .2 8.3 .3-10.4 .2 3.4 .3 2.1 .2-.5 .2-1.1 .3-2.3 .2-2.7 .3 3.5 .2-1.3 .3 4.3 .2-2.6 .2 2.4 .3-7.1 .2 8.6 .3-5.9 .2-2.4 .3 .7 .2 2.6 .2 5.9 .3-1.3 .2-6.4 .3 4.3 .2-.7 .3-4.9 .2 2 .2-3.6 .3 4 .2-6 .3 6.3 .2-.5 .3 .5 .2-.1 .2 6.8 .3-5.1 .2 2 .3 1.8 .2 .5 .3-.8 .2-4.2 .2-1.8 .3 1.1 .2 1 .3 1.7 .2-.3 .2 4.1 .3-4.1 .2 6.5 .3-2.6 .2-5.2 .3 4.6 .2-12.8 .2 14.6 .3-3.3 .2 0 .3-7.2 .2 14.5 .3-9.5 .2 .4 .2 4.4 .3-4.6 .2-2.2 .3 5.2 .2-5.7 .3 6 .2-2 .2 3.4 .3-8.1 .2 8.5 .3-3.2 .2 5.8 .3-9.1 .2 8.7 .2-4 .3 .3 .2-5.2 .3 4.5 .2 .4 .3-5.3 .2-1.2 .2 1.3 .3 7.8 .2-4.6 .3 2.7 .2-2.3 .2-.7 .3 .4 .2-2.3 .3 5.7 .2-3.2 .3-.4 .2-5.7 .2 5.9 .3-3.5 .2 .6 .3 5.3 .2-7.5 .3 3.1 .2 2.9 .2 1.8 .3-5.9 .2 2.9 .3-.2 .2-5 .3-3.6 .2 .7 .2 8.9 .3-1.8 .2-5.2 .3 2.5 .2 .8 .3 .1 .2 1.1 .2 7.9 .3-10.7 .2 3.3 .3-3.3 .2 .5 .2-1 .3 2.3 .2-1.2 .3 3.2 .2-.6 .3-6.8 .2 12.8 .2-11 .3 5.4 .2 6.4 .3-10.3 .2 7.2 .3 .3 .2-3.9 .2-7.8 .3 11.6 .2-4.5 .3-2.6 .2 6.5 .3-7.2 .2 6.3 .2-5.8 .3 3.8 .2-5.8 .3 2.4 .2-1.9 .3 .7 .2 3.2 .2-1.3 .3 1.2 .2 3.9 .3-5.1 .2-6.3 .3 5.6 .2 1.3 .2 3.3 .3 .1 .2-.4 .3-4.3 .2 3.1 .2-7.5 .3 9.8 .2-3.1 .3 .2 .2-3.3 .3 1.6 .2-2.7 .2 4.4 .3-6.9 .2 8.3 .3 .2 .2 3.6 .3-7.6 .2-.2 .2 1 .3-.6 .2-.6 .3-3.7 .2 0 .3 1.9 .2 1 .2-3.3 .3 0 .2 3.2 .3 3.7 .2-3.5 .3 3.2 .2 1 .2-.8 .3-4.4 .2 0 .3-5.4 .2 4.3 .2 4.2 .3-5.7 .2 8.9 .3 .2 .2-6.6 .3 4.7 .2-8.6 .2 1.3 .3 2.6 .2 1.4 .3-.7 .2-2.4 .3 10.4 .2-5.1 .2 0 .3 .5 .2-1.8 .3-1.5 .2-1.1 .3-4 .2 11.7 .2-8.9 .3-2.8 .2 3.3 .3-2.9 .2 13.3 .3-6 .2 3.9 .2 .3 .3-3.3 .2 .1 .3-4.8 .2 2.4 .3-1.9 .2 2.5 .2-5.1 .3 9.7 .2-1.8 .3-3.6 .2-5.4 .2 8.8 .3 .8 .2-3.5 .3-4.4 .2 6.3 .3 2.4 .2-11.1 .2 9.4 .3-8.9 .2 7.1 .3 6.3 .2-6.1 .3 1.5 .2-3 .2 1.2 .3 8.9 .2-3.8 .3-6.1 .2-.2 .3 1.5 .2 8.3 .2-7.5 .3 3.5 .2-5.6 .3-3.3 .2 9.8 .3-5.2 .2-2.6 .2 .5 .3 .2 .2 .3 .3-3.4 .2 10.5 .2-3 .3 2.4 .2-4.9 .3 2.7 .2-.5 .3 3.9 .2-1.2 .2-1.6 .3-3.7 .2-2 .3 1.6 .2 .8 .3 .4 .2-2.5 .2 11.1 .3-5.1 .2-8.6 .3 3.6 .2-.8 .3 6.1 .2 3.3 .2-7.7 .3 6.2 .2-3.3 .3 5.6 .2 .9 .3-3.9 .2 1.7 .2-2.6 .3-1.3 .2-2.9 .3 5.8 .2-1.4 .3-1.1 .2 1.3 .2-.3 .3-3.1 .2 2 .3 6.5 .2-5.1 .2 6.4 .3-9.7 .2-.6 .3 5.8 .2 2.6 .3-5.4 .2 5 .2 1.3 .3 .7 .2-4.5 .3 .4 .2-6 .3 6.5 .2 1.1" fill="none" stroke="#a655d4" stroke-width="1.9" stroke-linejoin="round" clip-path="url(#cdf3)"/>
<rect x="394.5" y="1647.2" width="436.2" height="351.1" fill="none" stroke="#000" stroke-width="1.9"/>
<path d="M394.5 1998.3v8M539.9 1998.3v8M685.3 1998.3v8M830.7 1998.3v8M467.2 1998.3v4.5M612.6 1998.3v4.5M758.0 1998.3v4.5M394.5 1990.4h-7.5M394.5 1906.9h-7.5M394.5 1823.3h-7.5M394.5 1739.8h-7.5M394.5 1656.2h-7.5M394.5 1948.6h-4M394.5 1865.1h-4M394.5 1781.5h-4M394.5 1698.0h-4" stroke="#000" stroke-width="1.7" fill="none"/>
<text x="394.5" y="2028.8" font-size="23.3" text-anchor="middle" font-family="'Liberation Sans', Arial, sans-serif" >500</text>
<text x="539.9" y="2028.8" font-size="23.3" text-anchor="middle" font-family="'Liberation Sans', Arial, sans-serif" >600</text>
<text x="685.3" y="2028.8" font-size="23.3" text-anchor="middle" font-family="'Liberation Sans', Arial, sans-serif" >700</text>
<text x="830.7" y="2028.8" font-size="23.3" text-anchor="middle" font-family="'Liberation Sans', Arial, sans-serif" >800</text>
<text x="382.8" y="1997.9" font-size="23.3" text-anchor="end" font-family="'Liberation Sans', Arial, sans-serif" >0.08</text>
<text x="382.8" y="1914.4" font-size="23.3" text-anchor="end" font-family="'Liberation Sans', Arial, sans-serif" >0.10</text>
<text x="382.8" y="1830.8" font-size="23.3" text-anchor="end" font-family="'Liberation Sans', Arial, sans-serif" >0.12</text>
<text x="382.8" y="1747.2" font-size="23.3" text-anchor="end" font-family="'Liberation Sans', Arial, sans-serif" >0.14</text>
<text x="382.8" y="1663.7" font-size="23.3" text-anchor="end" font-family="'Liberation Sans', Arial, sans-serif" >0.16</text>
<text x="612.6" y="2071.3" font-size="30.2" text-anchor="middle" font-family="'Liberation Sans', Arial, sans-serif" >Wavelength, nm</text>
<text transform="translate(315,1971.3) rotate(-90)" font-size="30.2" text-anchor="start" font-family="'Liberation Sans', Arial, sans-serif">Normalized intensity, a.u.</text>
<clipPath id="cpl0"><rect x="966.6" y="114.3" width="435.80000000000007" height="351.0"/></clipPath>
<path d="M966.6 460.8l.2-6.6 .3 4.5 .2-3 .3-.5 .2 9.9 .3-4.2 .2-1.6 .2-3.6 .3 3 .2-2.4 .3 2.3 .2-5.2 .2 3 .3-1.3 .2-4 .3 11.5 .2-3.4 .3-6.2 .2-2.6 .2 2.6 .3-.5 .2 .7 .3-3.5 .2 2.4 .3 3.2 .2 1.2 .2-9.2 .3 7.4 .2-3.9 .3-.3 .2 2.6 .3-1.5 .2 5.1 .2-.1 .3-4 .2-1.4 .3 9.1 .2 .2 .2-5.8 .3-2.2 .2 4.3 .3 1.6 .2-7.7 .3 8.8 .2-7.6 .2 4.6 .3-6.3 .2 2.1 .3-2.1 .2 1.7 .3 3.7 .2-7.5 .2 2.2 .3 3.1 .2-4 .3 9.5 .2-13.6 .3 15.3 .2-12.5 .2 6.2 .3 2.3 .2-4.3 .3-7.6 .2 4 .2 1.4 .3 1.8 .2 1.5 .3 .4 .2 1.3 .3-9.6 .2 7.4 .2-10.7 .3 7.2 .2-4.9 .3-2.9 .2 10.4 .3-3.8 .2 3.8 .2-10.2 .3 1.3 .2 4.3 .3-2.4 .2 2.8 .2-2.9 .3 1 .2-3.3 .3 9.3 .2-6.6 .3-3.6 .2 7 .2-1 .3-1.3 .2-.3 .3-2.7 .2 .7 .3-8.5 .2 2.3 .2 1 .3 5.8 .2 10.7 .3-13.1 .2-.6 .3 5.2 .2-6.2 .2 3.8 .3-1.2 .2-7.3 .3 6.3 .2-.7 .2-5.7 .3 .2 .2-1.3 .3 18.7 .2-5.6 .3-5.9 .2 3.2 .2-12.1 .3 10.9 .2 2 .3-1.7 .2-10.7 .3 8 .2-5.2 .2 4.6 .3-7.3 .2 2.4 .3-2.6 .2 3.9 .2-2.8 .3 4.4 .2-1.8 .3-2.5 .2-2.7 .3-2 .2 .4 .2 2.3 .3-3.5 .2-.2 .3-2.2 .2-1 .3-3.4 .2-6 .2 9.6 .3-.9 .2-7.4 .3 11.5 .2-14.1 .3 8.5 .2-4.1 .2-.6 .3 2.7 .2-1.8 .3-4.7 .2-5.6 .2-1.6 .3 5.3 .2 5.3 .3-4.1 .2-5.1 .3 .5 .2 .3 .2 3.5 .3-12.4 .2 5.4 .3-3.2 .2-6 .3-2.4 .2 9.2 .2-5.5 .3-5.2 .2 1.6 .3 2.9 .2-5.4 .3 5.9 .2-10 .2-3.7 .3 1.9 .2-5.1 .3 1.8 .2 6.8 .2 1.9 .3-5.3 .2-2 .3-5.3 .2-.4 .3 6.7 .2-1 .2-3.5 .3 .7 .2 9.7 .3-2.7 .2-4.4 .3 .9 .2 5.1 .2-4.4 .3-.5 .2-8.6 .3-.4 .2-1 .2-1.6 .3 10.7 .2 1.7 .3-5.7 .2 6.4 .3 0 .2-2.4 .2-6.6 .3 14 .2-.3 .3-9.2 .2 12 .3-9 .2-3.9 .2 1.9 .3-6.9 .2 7.2 .3-6.1 .2 13 .3-4.1 .2-8.2 .2 9.2 .3-11.1 .2 8.8 .3 1.4 .2-2.1 .2-5.8 .3 4.7 .2-.5 .3 1 .2 6.7 .3 .9 .2-.7 .2-10.7 .3-.7 .2 3.5 .3 1.9 .2-12.1 .3 6.8 .2 11.4 .2-14.7 .3 2.2 .2 .1 .3 5.6 .2-2.8 .3-1.4 .2-5.9 .2 10.1 .3-3.1 .2-3.3 .3 3.2 .2 3.5 .2-11.1 .3-.5 .2 2.3 .3 .6 .2-10.8 .3 11.7 .2 8.1 .2-7.2 .3 6.3 .2-19.1 .3 13.3 .2 7.1 .3 .7 .2-10.3 .2-1.8 .3 5.7 .2-8 .3 4 .2-6.6 .2 8.3 .3-.5 .2 7.7 .3-6.4 .2-5.2 .3 2.6 .2-6 .2 6.2 .3-1.4 .2 2.9 .3 2.4 .2-14.6 .3 11.2 .2 1.8 .2-9.7 .3 15.1 .2-13.1 .3 15.5 .2-8.4 .3 .8 .2-3.5 .2 3.5 .3-10.2 .2 1.1 .3-5.9 .2 12.3 .2-6.3 .3 7.2 .2-.9 .3-19.6 .2 19.9 .3-2.3 .2-.3 .2 1.1 .3-2.5 .2 .1 .3 5.1 .2-10.3 .3-1.1 .2 2.1 .2 8.8 .3-6.8 .2 11 .3-24.9 .2 11.6 .2 1.3 .3 3.4 .2 5.2 .3-7.6 .2-4.3 .3 9.2 .2 3.4 .2-20.5 .3 15.5 .2-1.5 .3-5.7 .2 1.6 .3 3.7 .2-1.1 .2-1.7 .3-4.7 .2 7.1 .3-4.8 .2 3.6 .3-3.4 .2 3.8 .2 2.7 .3-2.7 .2 2 .3-10.3 .2 9.1 .2-.9 .3-4.7 .2 1 .3-12.1 .2 14.3 .3-2.5 .2-9.4 .2 13.8 .3-5.9 .2 4.5 .3-2.7 .2 7.2 .3-5.7 .2-2 .2 3.8 .3 1.6 .2-15.6 .3 11.4 .2-3.3 .3-2.7 .2 12 .2-1.9 .3-18 .2 7.2 .3 9.6 .2-7.4 .2 1.3 .3-8.4 .2 9.1 .3 6.2 .2-8.2 .3 1.6 .2 9.2 .2-4.5 .3 2.6 .2-4.2 .3 2.8 .2-14.7 .3 4.1 .2-4.3 .2 19.4 .3-10.5 .2-1.7 .3-3.3 .2-1.5 .2-9.2 .3 25.4 .2-11.9 .3 .5 .2-7.6 .3 6.7 .2 2.1 .2-2.5 .3 3.4 .2-7.6 .3 5.8 .2 2.7 .3-1.8 .2-1.1 .2-2.6 .3-4.7 .2 7.7 .3-5 .2-3 .3 8.6 .2-12.3 .2 5.2 .3 6.7 .2 .7 .3-6.9 .2 2.1 .2 2.3 .3-3.3 .2-3.8 .3 6.1 .2-1.6 .3-.4 .2 5 .2-4.3 .3-4.1 .2 3 .3 9 .2-13.8 .3 2.2 .2-3 .2 5.8 .3-8.4 .2 8.6 .3 1.5 .2-8.1 .3-.6 .2-3.5 .2 7.8 .3-6.3 .2 2.4 .3 .9 .2-1.6 .2 7.7 .3 3.7 .2-19.5 .3 6.6 .2 5.4 .3-7 .2 2.5 .2 3.7 .3 5.9 .2-1.3 .3-7.8 .2 2 .3-2.8 .2 .8 .2-5.4 .3-17.2 .2 21 .3 6.8 .2-1.3 .2-13.9 .3 8.5 .2-2.4 .3 4.6 .2-7.5 .3 10.3 .2-6 .2 3.9 .3 1.4 .2-15.1 .3 8.8 .2 8.7 .3-8.2 .2 4.9 .2-.4 .3-8.6 .2 3.7 .3 3.7 .2 .8 .3 .4 .2-14 .2 9.9 .3-12.2 .2 6.2 .3-.8 .2 4 .2-2.1 .3 4.6 .2-10.4 .3 7.4 .2-2.9 .3-2.5 .2-6.9 .2 9.1 .3-1.8 .2 2.1 .3-4.9 .2-1.6 .3 6.2 .2-3.2 .2 .8 .3 21.5 .2-29.4 .3 13.8 .2-27.4 .2 20.9 .3-10 .2 15.1 .3-16 .2 10.5 .3-11.4 .2-1 .2 10.4 .3 .2 .2-8.8 .3 16.8 .2-15.1 .3 10.1 .2-14.3 .2 .1 .3 5.5 .2-6.2 .3 7.8 .2-14.4 .3 12.5 .2-4.2 .2-2.4 .3 6.2 .2-2.6 .3-1.4 .2 6.7 .2-3 .3 .3 .2 5 .3-7.9 .2 4.8 .3-7.1 .2 5.5 .2-.7 .3-6.1 .2-5.5 .3 1.1 .2 1.7 .3 8.2 .2-3.9 .2-1 .3 4.2 .2 1.3 .3 3.6 .2-11.1 .3 6.3 .2 .7 .2-9.2 .3 5.9 .2-5.9 .3 3.8 .2 3.5 .2-11.9 .3 4.5 .2 .3 .3 4.9 .2-4.7 .3 6.1 .2-6.9 .2 1.8 .3 6.1 .2-1.6 .3-1 .2-1.2 .3 5.7 .2 2 .2-9.8 .3-2 .2-1.8 .3 15.3 .2-14.7 .2-2.5 .3 8.8 .2 4.3 .3-12.8 .2 6.1 .3-7.4 .2-1.8 .2 18.6 .3-8.4 .2-2.8 .3 1.2 .2 .4 .3-3.2 .2-7 .2-1 .3 17 .2-16.6 .3 10.1 .2-11.9 .3 10.5 .2-4.4 .2-6.1 .3 11.7 .2-18.1 .3 2.8 .2-5 .2-1 .3 1 .2-5 .3 2.2 .2 9.8 .3-21 .2 1.3 .2 .3 .3 1.4 .2 7.4 .3-3.2 .2-2.9 .3-3.2 .2 11.8 .2-22.8 .3-1.6 .2 5.4 .3-.1 .2-4.2 .3-5.3 .2-4.6 .2 4.7 .3-4.4 .2-.3 .3-5.5 .2 13.5 .2-7.3 .3 7.2 .2-16.7 .3 1.9 .2-3.7 .3 .2 .2-3.4 .2-.5 .3-12.5 .2 10.6 .3 6.1 .2-17.1 .3 10.4 .2 6 .2 4.5 .3-8.8 .2 3.5 .3 8.4 .2-2.9 .2-11.4 .3-.9 .2 10.5 .3-5.2 .2-4.9 .3 2 .2 3.5 .2-3.3 .3-2.9 .2 2.6 .3-8.1 .2 20.9 .3-3.3 .2 1.9 .2-10.7 .3 1.7 .2 2.9 .3 1.6 .2-17.2 .3 14.2 .2-18.5 .2 15.7 .3-3.8 .2 15.3 .3-7.5 .2-3.7 .2 9.2 .3-9.5 .2-4.2 .3 3.5 .2-1.2 .3 2.7 .2 5.1 .2-6.2 .3 .3 .2 7 .3-4.7 .2 4.3 .3-5.5 .2-9.7 .2 .6 .3-4.2 .2 17.3 .3-5.5 .2-6.6 .2-4.2 .3 8 .2-4 .3 2.1 .2-8.5 .3-2.5 .2 16.8 .2-17.4 .3 5.3 .2 8.2 .3-21.9 .2 16 .3-5 .2-2.2 .2 2 .3-10.3 .2-7.5 .3 27.2 .2-14.9 .3 7.7 .2 1.2 .2-5.7 .3 .8 .2 1.5 .3 5.6 .2-7.5 .2 4.9 .3-10.7 .2-1.1 .3 3.1 .2 1.9 .3 .7 .2 9.3 .2-7.7 .3-5.5 .2 12.7 .3-11.4 .2-.1 .3 .7 .2-5.8 .2-5.4 .3 8 .2-3.2 .3-4.1 .2 6.2 .3-2.7 .2-3.4 .2-8.8 .3 10.1 .2 12.4 .3-6.7 .2 .5 .2-8.3 .3 17.5 .2-23.6 .3-3.9 .2 10.6 .3-14.2 .2 9.4 .2 .9 .3 8.9 .2-17.4 .3 7 .2-8.2 .3-.1 .2-15.8 .2 11.5 .3 13.8 .2-5.2 .3-3.3 .2 15.5 .2-14.3 .3-13.4 .2 6.6 .3 .2 .2 11 .3-18.5 .2 8.6 .2 3.1 .3-13.4 .2 5.7 .3-15.7 .2 14.4 .3-17 .2 8.3 .2 18.6 .3-10 .2-3.1 .3 .1 .2 13.9 .3-12.2 .2 3 .2-11.3 .3-.6 .2-5 .3 5.7 .2-4.3 .2 11.6 .3-3.1 .2-6.1 .3-3.7 .2-17.7 .3 16.2 .2 5.9 .2 2 .3-28 .2 4.4 .3 18.2 .2-9.3 .3 5.4 .2-2.5 .2 7.2 .3-18.6 .2 8.9 .3 10.6 .2-5.9 .3-8.2 .2 9.2 .2-1.6 .3-18.8 .2 21.3 .3-.3 .2-6.3 .2 7.8 .3-16 .2 14.2 .3-7.4 .2-5.8 .3 2.3 .2 12.9 .2-13.1 .3 1.3 .2-2.5 .3-1.3 .2 12.8 .3 9.2 .2-6.8 .2-6.5 .3 1.6 .2-8.4 .3-1.4 .2-5.3 .2 19.3 .3-13.6 .2-3 .3 .5 .2 6.1 .3-5.5 .2 4.3 .2 1.1 .3 8.8 .2-19.3 .3 11.5 .2-7.4 .3 2 .2 15.4 .2-7.4 .3-7.6 .2 6.6 .3-3.8 .2 8.5 .3-11.9 .2 7.3 .2-7.4 .3 3.9 .2-1.2 .3-3.5 .2 5.4 .2 6.6 .3-11.8 .2 1.6 .3 5.7 .2-8.4 .3 12.2 .2-1.2 .2-22.4 .3 12.3 .2-3.2 .3 14.3 .2 .8 .3-15.9 .2 3.8 .2 4.6 .3-2.2 .2 8.2 .3 2 .2-2.9 .2 3.7 .3-1.1 .2-7.5 .3-2.7 .2-2.2 .3 20.9 .2-8.7 .2 .9 .3-10 .2-.4 .3 4.9 .2 7.4 .3-6.7 .2-.9 .2-7.8 .3 9.4 .2 .8 .3-11.1 .2 20.2 .3-30.1 .2 24 .2-8.5 .3 2.8 .2-7.1 .3 1.7 .2 9.4 .2-8.8 .3 .9 .2 9.2 .3-1.4 .2-4.1 .3 .5 .2 11.1 .2-14.1 .3 4.1 .2 .2 .3-13.6 .2-4 .3 15.3 .2 5.5 .2-5 .3-5.5 .2-8.1 .3 18.1 .2-8.3 .3-9.8 .2 17 .2-3.3 .3 1 .2 4.9 .3 2.1 .2-5.7 .2-5.5 .3-38 .2 41.4 .3-3.3 .2 10.9 .3-.3 .2-6 .2 6.6 .3-10.8 .2 .2 .3-6 .2 4 .3 3.8 .2 6.3 .2-13.4 .3 11.4 .2 11.5 .3-42.4 .2 23 .2 2 .3 7.2 .2 7.1 .3-6 .2-9.9 .3-6.6 .2 5.4 .2-.5 .3 1.6 .2-9.1 .3 35.1 .2-34.9 .3 10.1 .2-4.1 .2-10.4 .3 8.2 .2-.9 .3-2.1 .2 7 .3-10.2 .2 22.4 .2-11.3 .3-16.1 .2-12.6 .3 28 .2-8.2 .2-1.8 .3-8.6 .2-4.1 .3-3.8 .2 33.7 .3-7.4 .2-16.5 .2 18.9 .3-28.2 .2 20 .3 .5 .2-11.6 .3 3.5 .2-4 .2 8.7 .3 25.3 .2-17.2 .3-4 .2 5.7 .2-21.7 .3 29.4 .2-15.3 .3-9.3 .2 7.6 .3-1.7 .2 6.1 .2 2.1 .3-19.7 .2 27.7 .3 4 .2-20.6 .3 19.5 .2-1.3 .2-1.5 .3 5 .2-22.6 .3 16.2 .2-13 .3 25.8 .2-25.1 .2-1.7 .3 18 .2 3.5 .3-11.4 .2 1 .2 3.8 .3 8.6 .2-18.2 .3 1.3 .2 .1 .3 4 .2 .8 .2-9.6 .3 12.2 .2-11.6 .3 7.4 .2 .6 .3 .3 .2 13.2 .2 1.4 .3-4.1 .2 4 .3-13.9 .2 13 .3-10.8 .2 2.3 .2 .5 .3-11.9 .2-1.2 .3 10.5 .2 4.2 .2-3.4 .3-5.2 .2-2 .3 9.1 .2-8.7 .3 .3 .2 8.4 .2 2.4 .3-7.3 .2-6.8 .3 15.8 .2 4.2 .3-8.8 .2 .5 .2-14.3 .3 24.4 .2-14.6 .3 13.9 .2-9.5 .2 3.6 .3 0 .2-11.7 .3 34.1 .2-31.8 .3 12.8 .2-6.6 .2 4.6 .3 12.3 .2-23.8 .3 13.1 .2 5 .3-2.5 .2 2.3 .2-8.2 .3-6.3 .2 2.6 .3 6.8 .2 8.6 .3-4.8 .2 11.4 .2-11 .3 .8 .2 .1 .3-14.2 .2 17.2 .2-12.4 .3 5.5 .2 20.2 .3-26.3 .2 10.1 .3 1.4 .2 .3 .2-2.2 .3-4.1 .2 18.9 .3-29.4 .2 7.4 .3 18.6 .2-6.8 .2-9.6 .3-.9 .2 4.9 .3 21.3 .2-15.7 .3-11.1 .2 9.5 .2-6.3 .3 15.7 .2-8.7 .3 21.1 .2-21.9 .2 14 .3-11.8 .2-.7 .3-9.3 .2 4.6 .3 6.2 .2-6.2 .2 22.1 .3-18.1 .2-5.3 .3 13.1 .2-10.9 .3 7.1 .2-3.4 .2-4.4 .3 15.7 .2-9.3 .3 7.6 .2-10.2 .2-7.7 .3 1.6 .2 5.5 .3 2.7 .2 1.9 .3 3.6 .2-12.5 .2 10.9 .3-10.3 .2 4.2 .3 23.8 .2-9.1 .3-11.7 .2 35.4 .2-22 .3-3.6 .2 4.4 .3-12.2 .2 1.2 .3-5.1 .2 10.7 .2-13.1 .3 5.7 .2 7.2 .3-6.7 .2 6.3 .2 10.9 .3-20 .2 17.5 .3-14.8 .2-1.5 .3 8.6 .2 6.2 .2-12.2 .3 .4 .2 2.5 .3-1.6 .2 6.9 .3-6 .2 3.7 .2 4.8 .3-5.1 .2 24 .3-25 .2-.3 .2 20.5 .3-3.4 .2-9.8 .3 5.8 .2-3 .3-5.6 .2 8.8 .2-2.2 .3 7.3 .2-21.6 .3 19.1 .2-4.1 .3-5.6 .2 2.3 .2 .6 .3-6.1 .2 5.7 .3 10 .2-15.7 .3 8.4 .2-13.5 .2 12.9 .3 7.2 .2-2.6 .3 1.1 .2-7.7 .2 12.2 .3-9.9 .2 13.1 .3-4.4 .2-3.7 .3 13.4 .2-12.5 .2 10.3 .3-5.9 .2-.3 .3 7.4 .2-3.4 .3-2.6 .2-.3 .2 2.8 .3-.4 .2-2.4 .3-4.4 .2-10.2 .3 17.5 .2-.4 .2 10.4 .3-4.7 .2 5.2 .3 4.5 .2-12.1 .2-4.5 .3 11.8 .2-9.2 .3 2.8 .2 12 .3-5.5 .2 4.1 .2-16.1 .3 9.9 .2 7.8 .3-15.8 .2 10.5 .3 1.9 .2-17.8 .2 26.7 .3-15 .2 4.3 .3 12.7 .2-22.8 .2 15.6 .3-5.6 .2 3.7 .3-5.3 .2 15.1 .3-16.1 .2 10.3 .2 1.7 .3-3.7 .2-.8 .3 .5 .2 9 .3-3.4 .2-3.1 .2-6.2 .3 8.7 .2 2.9 .3-3.3 .2 10.1 .3-21.6 .2 29.4 .2-17.2 .3-5.8 .2-3.5 .3 17.5 .2-1.5 .2-4.7 .3 1.5 .2 1.9 .3-3.4 .2 10.7 .3-3 .2-4.5 .2-9.4 .3 20 .2-11.6 .3-3.2 .2 15.5 .3-4.6 .2-15.9 .2 2.8 .3 8.6 .2-5.1 .3 7.5 .2 18.3 .3 2.7 .2-19 .2 5.9 .3 1 .2-6.1 .3-8.2 .2 16.8 .2-9.2 .3 6.1 .2 2 .3-9.2 .2 16.3 .3-9.8 .2 1.4 .2-3.7 .3 7.7 .2 2.4 .3-9.5 .2 7.7 .3-5.9 .2-4.6 .2 6.2 .3 6.4 .2 .2 .3 14.1 .2-20.9 .2 2.9 .3 2.8 .2 3.9 .3-4.1 .2-4.7 .3-3.3 .2 17.6 .2 9.9 .3-20.5 .2 13.9 .3-9.1 .2 3.7 .3 5.5 .2-10.3 .2-1.4 .3-5.4 .2 13.1 .3 1.4 .2 11.2 .3-9.3 .2-2.6 .2 7 .3-12.9 .2 12.9 .3-2.5 .2-3.4 .2 11.8 .3-7.4 .2 6.1 .3-2.3 .2-6.1 .3 13.4 .2-4.6 .2-6.1 .3-.4 .2-5 .3 5.8 .2 0 .3 3.2 .2-3.4 .2 6.5 .3-3.4 .2-8.6 .3 7 .2-1.9 .2-1.7 .3 6.6 .2 7.5 .3-11.7 .2-4.8 .3 11.5 .2 19.3 .2-20.8 .3 5.6 .2-3.6 .3 8.1 .2 3.9 .3-9 .2 8.4 .2-12.9 .3 8.1 .2-8.2 .3 9.1 .2-4.2 .3 5.5 .2-7.5 .2 8.4 .3-.2 .2-3.5 .3-.9 .2-1.7 .2 5.1 .3 5.1 .2-2.6 .3 2.2 .2 6.9 .3-8.7 .2 4.1 .2 3.5 .3-1.3 .2-.2 .3-1.3 .2 11.1 .3-11 .2-1.3 .2 6.1 .3 6.5 .2-.8 .3-7.5 .2 5.1 .3-1.4 .2-2 .2 3.8 .3 .3 .2-2.3 .3 9.5 .2-11.5 .2 10.6 .3 4.4 .2 .6 .3-7.4 .2-4.7 .3-7.5 .2 9.2 .2 14.5 .3-22.1 .2 .6 .3 13.9 .2-.8 .3-13.2 .2 10.4 .2 2.7 .3-9.9 .2 14.3 .3-12.2 .2 14.1 .2-4.7 .3-4.5 .2-4.6 .3 7.5 .2 1.9 .3 .2 .2-2 .2 2.5 .3 6.5 .2-9.3 .3 4.3 .2 4.1 .3-2.1 .2 5.3 .2 4.2 .3-9.9 .2 3.6 .3-16.7 .2 14.5 .3 6.1 .2-9.3 .2 13.8 .3-17 .2 18 .3-9.6 .2-2.2 .2 3.4 .3 1.7 .2-3.5 .3-1.5 .2 5.1 .3 8.4 .2-2.4 .2 5.5 .3-9.9 .2 1.8 .3 .7 .2 3 .3 2.2 .2 7.4 .2-5.1 .3-2.4 .2 6.8 .3-10.8 .2-2.3 .3 11 .2-2.2 .2 .3 .3 4.8 .2-6.2 .3 1.7 .2 3.1 .2 1.9 .3 2.2 .2-4 .3 1.3 .2-13.5 .3 19.4 .2-13.9 .2 8.4 .3 13.8 .2-14.3 .3-5.9 .2 16.9 .3-10.6 .2 2.5 .2 .5 .3 5.1 .2 .7 .3-4.1 .2 6.8 .2-9.8 .3 8.5 .2-6.2 .3 7.1 .2-6.6 .3 1.4 .2 9.9 .2-12.9 .3 0 .2 9 .3-4 .2-.6 .3 1.7 .2 11.7 .2-15.7 .3 4.1 .2 2.4 .3-5.3 .2 4.8 .3 2.8 .2-6.7 .2 10.4 .3-11.1 .2 5.2 .3 2.7 .2 14.4 .2-24.4 .3 10.4 .2 11.4 .3-15.3 .2 8.6 .3-4.1 .2-7.9 .2 9.3 .3-6.2 .2 5.1 .3-7.6 .2 11.3 .3-15.3 .2 11.3 .2 7.5 .3-3.6 .2-4.1 .3 .8 .2-.7 .2 15.8 .3-13.5 .2 .5 .3-3.3 .2 1.5 .3 5.6 .2-5.8 .2-.7 .3 1.6 .2 1.3 .3 2.9 .2-2.9 .3 1.8 .2-2.3 .2 10 .3-5.2 .2-1.6 .3 3.3 .2-1.3 .3-7 .2 7.1 .2 9.2 .3-5.2 .2 3.6 .3-8.6 .2-14.3 .2 14.9 .3 10.2 .2-10.9 .3 1.3 .2 9.5 .3-6.1 .2 .6 .2 3.1 .3-1 .2-1.5 .3 3 .2-4.3 .3 3.6 .2 3.7 .2-7.8 .3 4.4 .2-4.1 .3 9.3 .2-.2 .3 1.9 .2 .7 .2 .4 .3-1.1 .2-6.7 .3 8.4 .2-8.4 .2 15.5 .3-9.3 .2 1.6 .3-8.3 .2 11 .3 .7 .2-12.5 .2 4.9 .3 .7 .2-.6 .3 9.7 .2 3.9 .3-14.8 .2 10 .2-5.8 .3 17.4 .2-27.1 .3 9.6 .2 7.9 .2-8.9 .3 9.2 .2-7.6 .3 7.9 .2-2.4 .3-4.4 .2-1.3 .2 3 .3 6.3 .2-5.1 .3-7.4 .2 23.2 .3-22.3 .2 6.4 .2 3.8 .3-7.1 .2 5 .3-1.6 .2-4.6 .3 9.1 .2-7.1 .2-3.2 .3 14.5 .2-10.5 .3 8.1 .2 2.9 .2-.6 .3-2.2 .2-2.9 .3-5.1 .2 7.3 .3 1.6 .2-4.1 .2-2 .3 8.7 .2-8.5 .3 7 .2-3.9 .3-5.2 .2 15.1 .2-4.3 .3-.1 .2-8.5 .3 6 .2 2.1 .3-4.4 .2 11 .2-16.3 .3 12.5 .2-11.4 .3 1.7 .2 1.5 .2 8.5 .3-5.5 .2 .4 .3-7.1 .2 4 .3 2.8 .2-.2 .2 3.2 .3 0 .2-8.8 .3 8.1 .2 8.5 .3-7.3 .2 2 .2-2.6 .3 .3 .2 3 .3-5.4 .2 5.4 .2-6.4 .3 9.1 .2-8.2 .3 10 .2 1.9 .3-11.4 .2 10.3 .2-4.5 .3 7.1 .2-7.2 .3 1.3 .2 .2 .3 7 .2-13.8 .2 12.1 .3-2.7 .2-2.4 .3 1.4 .2 5.3 .3-.3 .2 4 .2-9.9 .3-5.2 .2 6 .3 1.8 .2-.8 .2 7.4 .3 4.8 .2-8 .3-9.2 .2 12.5 .3-7.1 .2 3.2 .2 3.7 .3-1.8 .2-1.7 .3 1.8 .2 2.2 .3-.3 .2 6.4 .2-21.5 .3 9.7 .2 1.1 .3 6.2 .2-2.3 .2 2.9 .3-9.5 .2 5.3 .3 4 .2-3.8 .3-.3 .2 3.1 .2 6.1 .3-15.8 .2 16 .3-5.3 .2-4.6 .3 6.6 .2-2.4 .2 5.2 .3-8.4 .2 7.7 .3-7.8 .2 5.3 .3 1.7 .2-3.1 .2 3.2 .3-5.1 .2 7.1 .3-6.5 .2-.7 .2 2.6 .3 .4 .2-3.2 .3 7.1 .2-3.8 .3 3.2 .2-8.7 .2 .9 .3 4.5 .2-2.9 .3 3.8 .2 3 .3 2.5 .2 1.6 .2-2.8 .3-6.1 .2 5.4 .3-4.3 .2 4.5 .3-6.5 .2 10.2 .2-3.8 .3-2.8 .2-4.3 .3 6.9 .2-7.1 .2 7.3 .3-3.9 .2-3.2 .3 9 .2 3.7 .3-11.3 .2 4.5" fill="none" stroke="#5a8db8" stroke-width="1.9" stroke-linejoin="round" clip-path="url(#cpl0)"/>
<rect x="966.6" y="114.3" width="435.8" height="351" fill="none" stroke="#000" stroke-width="1.9"/>
<path d="M966.6 465.3v8M1053.8 465.3v8M1140.9 465.3v8M1228.1 465.3v8M1315.2 465.3v8M1402.4 465.3v8M1010.2 465.3v4.5M1097.3 465.3v4.5M1184.5 465.3v4.5M1271.7 465.3v4.5M1358.8 465.3v4.5M966.6 396.3h-7.5M966.6 325.8h-7.5M966.6 255.3h-7.5M966.6 184.8h-7.5M966.6 114.3h-7.5M966.6 431.6h-4M966.6 361.1h-4M966.6 290.6h-4M966.6 220.1h-4M966.6 149.6h-4" stroke="#000" stroke-width="1.7" fill="none"/>
<text x="966.6" y="496.6" font-size="23.3" text-anchor="middle" font-family="'Liberation Sans', Arial, sans-serif" >550</text>
<text x="1053.8" y="496.6" font-size="23.3" text-anchor="middle" font-family="'Liberation Sans', Arial, sans-serif" >600</text>
<text x="1140.9" y="496.6" font-size="23.3" text-anchor="middle" font-family="'Liberation Sans', Arial, sans-serif" >650</text>
<text x="1228.1" y="496.6" font-size="23.3" text-anchor="middle" font-family="'Liberation Sans', Arial, sans-serif" >700</text>
<text x="1315.2" y="496.6" font-size="23.3" text-anchor="middle" font-family="'Liberation Sans', Arial, sans-serif" >750</text>
<text x="1402.4" y="496.6" font-size="23.3" text-anchor="middle" font-family="'Liberation Sans', Arial, sans-serif" >800</text>
<text x="954.9" y="403.8" font-size="23.3" text-anchor="end" font-family="'Liberation Sans', Arial, sans-serif" >100</text>
<text x="954.9" y="333.3" font-size="23.3" text-anchor="end" font-family="'Liberation Sans', Arial, sans-serif" >200</text>
<text x="954.9" y="262.8" font-size="23.3" text-anchor="end" font-family="'Liberation Sans', Arial, sans-serif" >300</text>
<text x="954.9" y="192.3" font-size="23.3" text-anchor="end" font-family="'Liberation Sans', Arial, sans-serif" >400</text>
<text x="954.9" y="121.8" font-size="23.3" text-anchor="end" font-family="'Liberation Sans', Arial, sans-serif" >500</text>
<text x="1184.5" y="539.2" font-size="30.2" text-anchor="middle" font-family="'Liberation Sans', Arial, sans-serif" >Wavelength, nm</text>
<text transform="translate(899,377.3) rotate(-90)" font-size="30.2" text-anchor="start" font-family="'Liberation Sans', Arial, sans-serif">Intensity, a.u.</text>
<clipPath id="cpl1"><rect x="966.6" y="616.7" width="435.80000000000007" height="351.5999999999999"/></clipPath>
<path d="M966.6 961.1l.2-3.4 .3-2.5 .2 15 .3-8.1 .2-3.3 .3 6 .2 2.7 .2-12.1 .3 5 .2 2.8 .3-4.5 .2 5 .2-14 .3 9.5 .2 2 .3 2.1 .2-1.6 .3-2.9 .2 1.1 .2-6.9 .3 16.6 .2-10.1 .3 .4 .2 2.1 .3 1.1 .2-.9 .2-4.1 .3-4 .2 5.8 .3-2.5 .2 .8 .3 2.1 .2 .9 .2 4.1 .3-5.8 .2-6.3 .3 9.1 .2 1.2 .2-10.2 .3 8.8 .2-1.7 .3-3 .2 2.8 .3 .7 .2 .8 .2 2.1 .3-4.7 .2 0 .3 9.4 .2-13.8 .3 3.1 .2-.4 .2 8.8 .3-3.2 .2-9.7 .3 10 .2-9.6 .3 14.9 .2-13 .2 6.9 .3-5.5 .2 3.8 .3-5.9 .2 3.5 .2-.6 .3 .2 .2 2.7 .3-4.9 .2 .3 .3-4 .2 4.6 .2-1.6 .3 5.3 .2-1 .3-5.8 .2 4.4 .3 3.3 .2-6.4 .2-4.1 .3 14.3 .2-4.5 .3-3 .2 7 .2-13.5 .3 4.2 .2-9.1 .3 9.4 .2-.6 .3-5 .2-.5 .2 2.5 .3-.5 .2 7.1 .3-7.6 .2 .1 .3-.3 .2-6.1 .2 4.3 .3-3.7 .2 5.7 .3-9.6 .2 4.1 .3 5.3 .2-9.8 .2 2 .3 10.1 .2-9.7 .3 5.2 .2 1 .2-5.8 .3-2.8 .2 12.9 .3-8.8 .2 4.2 .3-5.5 .2 4.4 .2-7.2 .3-.5 .2 1.2 .3 1.4 .2-.2 .3 .9 .2 5.4 .2-7.1 .3 5.7 .2-7.2 .3 5.1 .2 2.2 .2 1.3 .3-16.1 .2 15.1 .3-15.2 .2 12.9 .3-6.5 .2 1.1 .2-6 .3 7.4 .2-1.5 .3-5.7 .2-.8 .3 5.8 .2 .2 .2-1.6 .3-5.4 .2 1.2 .3 3.5 .2-.9 .3 .8 .2-4.8 .2-4.1 .3 3.8 .2 .2 .3-4.8 .2 3.8 .2-11.6 .3 9.8 .2-4.3 .3 11.4 .2-4.6 .3-4.7 .2-7.5 .2-.2 .3 7.8 .2-4.3 .3 1.4 .2-9 .3-.3 .2 6.6 .2-2.1 .3-5.6 .2 1.8 .3 6.5 .2-6.1 .3 3.9 .2 4.2 .2-6.5 .3-1.6 .2-3.8 .3 7.6 .2-12.8 .2 1 .3 4.3 .2-7.3 .3 10.7 .2-8 .3 4.8 .2-4.2 .2 .1 .3 1.2 .2-9 .3 4.1 .2 3 .3 12.5 .2-.8 .2-5.8 .3-8 .2 9 .3 1.7 .2-2.1 .2 8.7 .3-18.1 .2 1.4 .3 3.8 .2-3.1 .3 4.8 .2 2.3 .2-2.4 .3 .7 .2 1.5 .3 1.8 .2-6.4 .3 .1 .2 8.6 .2-6.9 .3-2.2 .2 5.2 .3-3 .2 2.1 .3-1.4 .2 3.6 .2 1.2 .3-8.1 .2-1.9 .3 12.8 .2-10.5 .2-4.1 .3-1.7 .2 8.4 .3-2.9 .2-5.5 .3 4 .2-.7 .2 9.4 .3-3.6 .2-1.3 .3-5.8 .2 4.9 .3 3.7 .2-2.4 .2 4 .3-4.5 .2 2.7 .3-1.2 .2-4.8 .3 8.6 .2-4.5 .2 2 .3-8.8 .2-.2 .3 4.1 .2-3 .2 6.5 .3-1.1 .2 3.7 .3-3.1 .2-8 .3 9.5 .2-7.5 .2-.5 .3 3.6 .2-.4 .3 4.7 .2 8.2 .3-11.2 .2 4.7 .2-7.8 .3 2.4 .2-4.1 .3 .4 .2 8.1 .2-4.3 .3-.1 .2-5.9 .3 11.6 .2-8.9 .3-2.3 .2 2.9 .2 3.1 .3 .2 .2 3.3 .3-11.9 .2 2.9 .3 9.1 .2 3.2 .2-13.5 .3 2.3 .2-6.8 .3 3.2 .2-.4 .3 3.5 .2-5.2 .2 9.7 .3-4.7 .2-1.1 .3 5.3 .2-5.6 .2-4.7 .3 5.7 .2 9.9 .3-9.8 .2 1.8 .3-3.5 .2-1.9 .2 8.3 .3-18.3 .2 6.4 .3 2.9 .2 1.4 .3 7.9 .2 4.5 .2-8.6 .3-1.3 .2 1.2 .3 3.7 .2-11.8 .2 2.1 .3 2.9 .2 .6 .3-10.5 .2 10.8 .3-9.7 .2 11 .2 .2 .3-14.8 .2 12.9 .3-1.6 .2-4 .3 7.3 .2 4.8 .2-7.3 .3-7.6 .2-1.8 .3 1.1 .2 .6 .3 10 .2-4.1 .2-1.7 .3 4.1 .2-4.2 .3 0 .2-4.3 .2 .9 .3 2.9 .2-5.8 .3 13.3 .2-7.5 .3-3.3 .2 7.1 .2-9.9 .3 10 .2-4.8 .3 8.4 .2-11.7 .3 .6 .2-2.3 .2-2.1 .3 7 .2-6.4 .3 6.4 .2-4.7 .3 8 .2-17.3 .2 14.1 .3-1.9 .2-.3 .3-3.2 .2 11.4 .2-10.5 .3 3.9 .2-3.4 .3-.5 .2 2 .3 2.7 .2-8.7 .2 3 .3-4.6 .2 8.6 .3-6.1 .2 .4 .3 6.6 .2-3.3 .2 1.9 .3-2.7 .2 2.6 .3-1.7 .2-5.9 .2 6.3 .3-2.8 .2 .4 .3 2.5 .2-4.1 .3-2.6 .2 10.7 .2 16.3 .3-23.9 .2 7.2 .3-3.8 .2-5.1 .3-1 .2 2.6 .2-.9 .3 .4 .2 .9 .3-4.9 .2 9.5 .3-9.7 .2 .2 .2 16.1 .3-7.5 .2 3.3 .3-6.5 .2-3.9 .2 8.6 .3-6.1 .2-.3 .3-3.6 .2 6 .3-13.5 .2 13.9 .2-12.4 .3 13.9 .2-11.9 .3 10.8 .2 8.6 .3-13.5 .2-4.4 .2 15 .3-11.7 .2-3.4 .3 11.5 .2-20.1 .3 6.5 .2 .6 .2 2.9 .3-6.7 .2 13.7 .3 .8 .2-5.5 .2-2 .3-5.8 .2 9.8 .3-6 .2 6.3 .3 1.8 .2-5 .2-10.8 .3 5.6 .2 11.1 .3-5.5 .2 5.4 .3-18.2 .2 10.3 .2-.5 .3-7.4 .2 4.7 .3 7.8 .2-2.4 .2-5.5 .3 4.1 .2 4.1 .3-11.5 .2 6.6 .3 3.6 .2-8.8 .2 9.7 .3-7.2 .2 5.8 .3-1.2 .2-3.7 .3-3.1 .2-2.2 .2 3.7 .3-.2 .2 5.6 .3-7.8 .2 1.8 .3 6.3 .2-7.2 .2 .2 .3 5.5 .2-8.1 .3 1.2 .2 1.4 .2-4.8 .3-5.5 .2-2.1 .3 6 .2 6.3 .3-1 .2 2.8 .2-4 .3-8.4 .2-4.5 .3 4.4 .2 .9 .3-2.9 .2 8.2 .2-9.2 .3 6.7 .2 .6 .3-13.4 .2 6.4 .2 8.4 .3-2.3 .2-3.9 .3-6.5 .2 2.1 .3 4 .2 6.1 .2-4.1 .3-3 .2 1.6 .3 2.8 .2-13.1 .3 3.9 .2 5.2 .2 6.1 .3-.7 .2-9.7 .3 4.1 .2-4 .3 1.8 .2 2.8 .2-2.7 .3-1.1 .2-3.1 .3-14.7 .2 19.6 .2 2 .3 2.1 .2-7.4 .3 .4 .2 10.3 .3-4.4 .2 2.3 .2-7.5 .3-.8 .2-2.3 .3 11 .2-11 .3-3.1 .2 5 .2 10.4 .3-6.4 .2 1 .3-.6 .2-.9 .3-.7 .2-6.4 .2 15.8 .3-9.4 .2 7 .3-14.4 .2 10.9 .2-9 .3-.6 .2 8 .3 4 .2 1.7 .3-.3 .2-8.5 .2 5.2 .3-7.6 .2-.2 .3 3.6 .2-2.3 .3 4.5 .2-14.5 .2 15.1 .3-9.5 .2 10.3 .3-2.3 .2-12.5 .2 5.3 .3 8.6 .2-13.5 .3-.2 .2 1.8 .3 5.1 .2 .3 .2-7.5 .3 6.1 .2 3 .3-3.4 .2-9.4 .3-1 .2 5.5 .2 2.4 .3-2.7 .2-4.9 .3-3.6 .2 11.1 .3-8.4 .2 10.1 .2-17.1 .3 3.6 .2-2.4 .3 12.7 .2 6 .2-20.3 .3-8.7 .2 16.2 .3-6.4 .2-7.8 .3-2.8 .2 9.7 .2-4.1 .3 1.1 .2 .6 .3-5 .2-.3 .3 4.5 .2-5.1 .2-1.7 .3 4.3 .2-15.5 .3 17.4 .2-5.4 .3-7.8 .2 2.3 .2 7 .3-5 .2-14.5 .3 3.2 .2 5.7 .2 23.6 .3-22.5 .2-6.7 .3 3.4 .2-4.4 .3-3 .2 2.8 .2-15.9 .3 17.3 .2-3.9 .3-6.9 .2-3.6 .3-3.3 .2 7.8 .2-1.5 .3-.3 .2 8.9 .3-23.4 .2 9 .2-.2 .3 10.4 .2-7 .3-4 .2 6.9 .3 1.3 .2 7.4 .2-8 .3-4.1 .2-.2 .3-1.8 .2 7.9 .3 2.1 .2-8.1 .2 2.6 .3 9.2 .2-7.5 .3 2.5 .2-9.3 .3 2.9 .2-9 .2-7.5 .3 22.7 .2 5.3 .3-8.9 .2-5.4 .2 7.8 .3 6.3 .2-7.6 .3 6.5 .2-5.7 .3-6.8 .2 2 .2 4 .3 15.2 .2-10 .3-4.7 .2 3.1 .3-.5 .2-4.2 .2 1.6 .3-1.4 .2 5.2 .3 18.2 .2-16 .2-10.5 .3 9.5 .2-13.3 .3-2.8 .2 6.3 .3 2.5 .2-4.7 .2 4.7 .3-.6 .2-1.1 .3-6.2 .2-20.4 .3 31 .2-14.6 .2 6.7 .3-2.1 .2-5.8 .3 12.7 .2-7.8 .3-4.8 .2-3.2 .2-4.1 .3-2.5 .2 10.7 .3-6.9 .2-.8 .2 5.3 .3-6 .2 5.6 .3-8.7 .2 .2 .3 8.3 .2-10.5 .2 7.5 .3-1.2 .2-3.7 .3-10.9 .2 1.6 .3 .8 .2-1.8 .2 13 .3-11.5 .2-2.9 .3-.7 .2 6.8 .3-10.5 .2 13.9 .2 .2 .3-8.9 .2 8.3 .3-15.6 .2 5.9 .2 1.9 .3 .9 .2 6.4 .3-10 .2-4.9 .3 7.3 .2-1 .2 1.4 .3-5.6 .2 2.7 .3-5.3 .2 6.7 .3-8.4 .2-.3 .2 10.9 .3-13 .2 4.4 .3 3 .2-6.3 .2 7.3 .3-10.2 .2 9.8 .3-17.4 .2 .8 .3 8.7 .2 8.3 .2 .6 .3-16.8 .2 4.9 .3-3.7 .2-11.4 .3 18.3 .2-7.9 .2 11 .3-7.8 .2-6 .3-1.6 .2 2.7 .3 3.7 .2-6.9 .2 21.3 .3-17.8 .2-9.6 .3 7.6 .2 6.5 .2-5.4 .3-5.7 .2-2.8 .3-1.4 .2-3.1 .3 4.1 .2 7.5 .2-8.4 .3 14.5 .2-8.6 .3-5.7 .2 2.6 .3 9.9 .2-21.6 .2 12.9 .3 16.3 .2-11.5 .3-13.1 .2 6.8 .3-2.7 .2 20.3 .2-23.6 .3 2.5 .2-.6 .3-7.6 .2-12.9 .2 20.5 .3 4.9 .2-6.6 .3 6.1 .2 1.6 .3-.6 .2-16.5 .2 21.6 .3-4.6 .2-.6 .3-5.6 .2-.2 .3-3.9 .2 10.7 .2-1 .3-10.3 .2 9.4 .3-8.8 .2 7.2 .2-5 .3 6.9 .2 7.3 .3-11.7 .2-4.9 .3 .5 .2 7.1 .2-7.6 .3 10.1 .2-4.7 .3 4.2 .2-10 .3-2.7 .2 1.4 .2 7.8 .3-8.1 .2 10.1 .3-18.7 .2 9.5 .3 3.4 .2-11.4 .2 8.3 .3-6 .2 9.7 .3-1.1 .2 6.7 .2-10.8 .3-5.4 .2 7.4 .3 4.6 .2-.2 .3 .5 .2 7.2 .2-10.8 .3 1 .2-4.3 .3 1.7 .2 11.2 .3-4.7 .2-20.3 .2 26.1 .3-21.9 .2 10.8 .3 9.5 .2-5.8 .2 2.9 .3 2.1 .2-4 .3-10.7 .2 11 .3-7.4 .2-11.9 .2 14.4 .3 5.6 .2-3 .3-.9 .2 11.7 .3-10.1 .2 4.2 .2-4.1 .3 8.9 .2-13.9 .3 10.5 .2 4.3 .3-15.2 .2 9.6 .2-16.6 .3 11.4 .2 2.7 .3-10.9 .2-6.7 .2 12.5 .3-2.7 .2 3.4 .3 3.8 .2 .5 .3 4.9 .2-7.9 .2-29.3 .3 30.7 .2-2.1 .3-1.8 .2 9.8 .3-9.2 .2-4.4 .2 5.6 .3-14.4 .2 17.5 .3-6.3 .2 11.1 .3-7 .2-2.3 .2-1.4 .3-9.6 .2 7.5 .3 2.5 .2 15.2 .2-14.5 .3 1.7 .2-.2 .3-8.5 .2 5.7 .3-3.8 .2-7.2 .2-2 .3 16.1 .2 4.1 .3-.2 .2-15.9 .3 16.2 .2 .3 .2-16.2 .3 8.5 .2 8.4 .3-11.4 .2 7.5 .2-12.6 .3-1.3 .2 11.4 .3-7.3 .2 1.9 .3-.4 .2-7.9 .2 17.4 .3-11.5 .2-1.4 .3-1 .2 3.5 .3-7.1 .2 12.4 .2-8.5 .3 7.7 .2-11.7 .3-1.1 .2 .5 .3 7.9 .2-10.9 .2 15 .3-8.3 .2 8.4 .3-9.1 .2 8.3 .2-13 .3-.6 .2 11.7 .3-8.2 .2 11.2 .3-12.4 .2 8.3 .2-9.4 .3-6.6 .2 22.1 .3-11.7 .2 8.2 .3-5.7 .2-13.4 .2 14.7 .3 4.7 .2 1.3 .3 2.3 .2-8.8 .2-3.5 .3 1.2 .2-8.6 .3 13.4 .2 0 .3-2.6 .2-7.8 .2 10 .3-8.3 .2 12.7 .3-12.9 .2 .7 .3 1.5 .2-4.9 .2 1 .3 4.4 .2-15.2 .3 31.3 .2-11.3 .3-.5 .2-8.1 .2 7.6 .3-1.3 .2 .8 .3-11 .2 9.6 .2-12.3 .3 11.9 .2-4.7 .3 2 .2 2.1 .3 8.2 .2 2.8 .2-8.3 .3-7.7 .2 18 .3-20.1 .2 6 .3 2.5 .2-3.6 .2 14.6 .3-6.5 .2 4.9 .3-9.4 .2 8.4 .3-6.8 .2 .4 .2 3.5 .3 1.1 .2 1.6 .3-5 .2-8.6 .2 8.6 .3-16 .2 14.2 .3-.4 .2 11.8 .3-24.1 .2 33.1 .2-15.9 .3-24.7 .2 30.8 .3 .9 .2 0 .3 12.5 .2-20.4 .2 8.2 .3-.6 .2-5.3 .3 7.1 .2 7 .2-14.1 .3 9.4 .2 4.2 .3-2 .2-31.4 .3 29.7 .2-4.2 .2 11.4 .3-8.8 .2 14.6 .3-21.3 .2 12.2 .3-9 .2 18.4 .2-1 .3-16.6 .2 11.7 .3-5.2 .2-10.6 .3 4 .2 7.9 .2 2.9 .3-5.9 .2 4.7 .3 .2 .2 0 .2-9.9 .3 9.1 .2 2.8 .3-13.6 .2 20.6 .3-.4 .2-8.7 .2 13.2 .3-19.5 .2-.8 .3 2.3 .2-7.7 .3 24.6 .2-12 .2-.6 .3 3 .2 8.3 .3-9.4 .2-3.6 .3 4.5 .2 6.8 .2-11.8 .3 27.3 .2-21.6 .3-3.1 .2 4.6 .2 10.1 .3-14.8 .2 11 .3-5.3 .2-2.7 .3-.6 .2 5.3 .2-1.2 .3-1.5 .2 2 .3-10.1 .2 1.5 .3-2.2 .2 4.5 .2 1.1 .3-1 .2 6.2 .3-9.8 .2 4.8 .2 7.5 .3 5.6 .2-10.8 .3 19.9 .2-10.8 .3-15.8 .2 8.5 .2-8.5 .3 4.5 .2 5.4 .3-11 .2 12.1 .3-4.4 .2-.5 .2 5.3 .3-8.9 .2-5.6 .3 11.6 .2-4.6 .3 3.7 .2-5.6 .2 1.4 .3-.3 .2-1.3 .3 3.4 .2 .5 .2 5.6 .3 21 .2-24.6 .3-6 .2 14.5 .3-11.5 .2 2.5 .2 4 .3 2.8 .2 .5 .3 1.5 .2-2.1 .3 8.3 .2-1.4 .2-8.7 .3 2.5 .2-7.1 .3 13.4 .2-5.3 .2 14 .3-16.4 .2 14.5 .3-15.4 .2-4.6 .3 5.6 .2 8.1 .2 4.7 .3-11.9 .2 12.2 .3-9.3 .2 .4 .3 1.7 .2 12.8 .2-9.1 .3 3.9 .2-14.1 .3 11.1 .2 1 .3 9 .2-15.6 .2 1.3 .3-1 .2 2 .3 8.8 .2-9 .2 13.4 .3-7.5 .2-5.7 .3 2 .2-4.3 .3-.1 .2 16.7 .2-1.4 .3-11.4 .2 3.7 .3 13.3 .2-14.4 .3 6.3 .2 2.1 .2-4.1 .3 .4 .2-.6 .3 3.2 .2-10.2 .3 10.4 .2 1.3 .2-9.1 .3 11.5 .2-8.2 .3-10.2 .2 4.7 .2 13.1 .3 3.3 .2-5.8 .3-6 .2 8.4 .3 7.1 .2-5.6 .2-8.4 .3 12.4 .2-3.8 .3 .6 .2 1.8 .3 8.3 .2-8.5 .2-4.9 .3 5.6 .2 1.9 .3 6.9 .2-14.4 .2 7 .3-4.1 .2 7.4 .3-4.6 .2-15.1 .3 25.1 .2-9.5 .2-12.6 .3 8.2 .2 3.1 .3-1 .2 7.4 .3 2.2 .2-1 .2 3 .3-6.8 .2 9.1 .3-3.9 .2 3.7 .3 1.4 .2-5.5 .2 10.1 .3-2.3 .2-6.9 .3 13.5 .2-.2 .2-18.8 .3-3.9 .2 10.2 .3 6.9 .2 3.2 .3-1.3 .2-3.6 .2 6.2 .3-1.1 .2-6.4 .3 4 .2 5.7 .3-9.7 .2 .4 .2-.8 .3 14 .2 1.4 .3-4.3 .2-6.8 .3 2.5 .2 7.7 .2-8.4 .3 9 .2-6.6 .3 .4 .2 3.8 .2 2.2 .3 5.6 .2-11.8 .3 12.2 .2-13.8 .3-.2 .2-7.6 .2 25.4 .3-3 .2-15.1 .3 5.5 .2 .8 .3-7.1 .2 9.8 .2 1.8 .3-4.2 .2-2.6 .3 7.1 .2 3 .2-11.1 .3 8 .2 4.2 .3-18.9 .2 18.3 .3 8.4 .2-16.7 .2 15.2 .3-8.8 .2 5.6 .3-4 .2-5.1 .3-2.8 .2 23.6 .2-20.7 .3 6.5 .2 10 .3-5.9 .2-.3 .3-12 .2 8.3 .2-3.6 .3-2.2 .2 12.6 .3 9.9 .2-15.5 .2-4.5 .3 12.1 .2 2.9 .3-10.4 .2 12.9 .3-.9 .2-4.8 .2-5.8 .3 14.3 .2-3.5 .3 6.4 .2-12.7 .3 12.5 .2-13.4 .2 8.4 .3-3.2 .2 1.5 .3 8.1 .2-11.5 .2 15.5 .3-12.4 .2 1.7 .3-3.3 .2 5.4 .3-11.6 .2 9.9 .2 7.4 .3-.5 .2-13.1 .3 3.1 .2 4.3 .3 12.9 .2-12.2 .2 2.7 .3-.9 .2 3.4 .3-6.2 .2 6.8 .3 1.6 .2 3.5 .2-10.1 .3 10.1 .2 5.9 .3-5.7 .2-.2 .2-16.5 .3 20.8 .2 3.6 .3-3.4 .2-3.4 .3 2.1 .2 12.1 .2-19.6 .3 2.1 .2 8.5 .3-4.2 .2-12.5 .3 13.2 .2 1 .2-6.4 .3 7.4 .2-.3 .3-10.5 .2 16.8 .3 5 .2-1.7 .2-14.9 .3-.6 .2 7.7 .3 1.6 .2-8.2 .2 3.6 .3 11.5 .2-5.5 .3 4.6 .2-5.3 .3 6 .2-7.8 .2 .5 .3-1.9 .2-4.7 .3 5.3 .2-1.5 .3 5.1 .2 3.6 .2 .5 .3 1.6 .2-3.7 .3 2.1 .2 6.8 .2-6.5 .3 1.3 .2-12.6 .3 7.3 .2 11.7 .3-9.9 .2-.8 .2 10.9 .3-11.2 .2 11.8 .3-5.4 .2-2.5 .3-7.1 .2 17.8 .2-16 .3 3.3 .2 10.7 .3-10.2 .2 9.2 .3-2.5 .2-1 .2-3.7 .3 2.3 .2 5.1 .3-6.2 .2 8.5 .2-1.7 .3 1.8 .2-1.4 .3 2 .2-.7 .3 2.6 .2-2.1 .2 0 .3-6 .2-3.9 .3 9.3 .2 4.9 .3-9.3 .2-3.1 .2 5.6 .3 4.8 .2 2.8 .3-5.7 .2-4.1 .3 5.9 .2 4.1 .2-3.5 .3 5.7 .2-7.4 .3 7.2 .2 4.1 .2-13 .3 .9 .2 7.9 .3 12.7 .2-12.9 .3-2.4 .2 7 .2-6.9 .3-7.3 .2 3.6 .3 11.8 .2-14.9 .3 1.6 .2 11.5 .2-3.1 .3 5.5 .2-11 .3 1.9 .2 2.2 .2-4.2 .3 5.3 .2 .6 .3 5.4 .2-4.4 .3-1.2 .2 4.7 .2 3.4 .3 0 .2-3.5 .3-2.9 .2-.1 .3-3.8 .2 7.1 .2-.2 .3 8.6 .2-6.7 .3 2.9 .2 3.1 .3-15.3 .2 6.4 .2 2.3 .3 2 .2-5.7 .3 10 .2 7 .2-8.1 .3 1.2 .2-8.3 .3 11.1 .2-8.1 .3-5.9 .2 10.1 .2 1.8 .3-5.1 .2-4.3 .3 2.8 .2 5.1 .3-11.2 .2 17.5 .2 .2 .3-6.8 .2 7.7 .3-5.5 .2-4.3 .2 13.1 .3-.5 .2-10.7 .3-1.9 .2 2.3 .3 10.6 .2-6.7 .2 15.1 .3-16.1 .2 6.3 .3-1 .2-2.3 .3 5.4 .2-7.7 .2 4.1 .3-5 .2-4.4 .3 10.9 .2-5.4 .3-.4 .2 9.2 .2-3.1 .3 2.9 .2 6.6 .3-7 .2 1.6 .2-7.3 .3 9.8 .2 .3 .3-8.6 .2 8.3 .3-1.4 .2-2.3 .2 1.6 .3 11.1 .2-14.1 .3 1.7 .2 2.2 .3-1.1 .2-7.5 .2 11.7 .3 1.5 .2 3.9 .3-10.4 .2-3.1 .3 9.1 .2-7.6 .2 5 .3-1.7 .2 2.9 .3-2.7 .2 5.5 .2-7.3 .3 15.4 .2-1.9 .3-11.5 .2-1.4 .3 3.8 .2-1.1 .2-1.5 .3 10.4 .2-1.7 .3-9.2 .2 7.7 .3-2.3 .2 3.6 .2-6.3 .3 13 .2-9.2 .3 8.9 .2-11 .2 17.6 .3-15.6 .2 8.3 .3-8.2 .2-3.9 .3-7.2 .2 9.6 .2 5.8 .3-.8 .2-1 .3 4.5 .2 2.8 .3-11.8 .2 9.3 .2 6.2 .3-13.1 .2 .4 .3 4.6 .2-.6 .3-3.3 .2 1.8 .2 8.3 .3-2.9 .2-7.6 .3-3.8 .2 2.9 .2 6 .3-4.2 .2 0 .3 7.2 .2-4.4 .3-.2 .2 2.8 .2 5.7 .3-5 .2 1.9 .3-2.5 .2 6.7 .3-12.3 .2 .7 .2 2.8 .3 11.5 .2-2 .3-19 .2 10.4 .3 4.7 .2-2 .2 3.8 .3-6 .2-5 .3 10.2 .2 3 .2-12.2 .3-1.4 .2 6.5 .3-6.1 .2 10.3 .3-6.8 .2 8.5 .2-4.6 .3 2.3 .2 2.5 .3-3.7 .2-3.4 .3 8.6 .2-10.3 .2 12.8 .3-8.7 .2 .5 .3 4.2 .2 .3 .2 .5 .3-8.5 .2 2.8 .3 5.5 .2 .3 .3-2.5 .2 6.8 .2-6.3 .3 5.1 .2 .8 .3-3.1 .2-2.2 .3 4.2 .2-1.1 .2 .9 .3-6.3 .2 6 .3 5 .2-8 .3 2 .2-1.5 .2 5.1 .3-12.7 .2 16.1 .3-4.6 .2-3 .2 2.3 .3 3.9 .2-3.2 .3 1.5 .2 2.4 .3-4.3 .2 2.6 .2 3.3 .3-3.8 .2-5 .3 6.1 .2 5.6 .3-10.1 .2 3.5 .2 2.8 .3-.8 .2-5.4 .3 1.8 .2 8.5 .2-5.3 .3-5.5 .2 6.2 .3-3 .2 6.4 .3-13.4 .2 7.4 .2 3.9 .3-9.5 .2 2.4 .3 5.3 .2-1.8 .3-1.3 .2 2.7 .2-7.1 .3 2.4 .2 11.1 .3-10 .2 4.7 .3-2 .2 4 .2-2.2 .3 .5 .2 3.3 .3-3.5 .2-8.4 .2 4.5 .3 8.9 .2-1.4 .3-5.4 .2-5.6 .3 3.8 .2 11.9 .2-3.6 .3 .2 .2-11.8 .3 1.1 .2 3.4 .3-3.1 .2 6.3 .2-5 .3 6.7 .2-2.8 .3-1.3 .2 5.2 .3-.8 .2-1.2 .2-2 .3 1.4 .2-7.7 .3-.1 .2 5.5 .2 3.6 .3 6.9 .2-5.6 .3-5.7 .2 2.2 .3-3.2 .2 5.2" fill="none" stroke="#5bb3a2" stroke-width="1.9" stroke-linejoin="round" clip-path="url(#cpl1)"/>
<rect x="966.6" y="616.7" width="435.8" height="351.6" fill="none" stroke="#000" stroke-width="1.9"/>
<path d="M966.6 968.3v8M1053.8 968.3v8M1140.9 968.3v8M1228.1 968.3v8M1315.2 968.3v8M1402.4 968.3v8M1010.2 968.3v4.5M1097.3 968.3v4.5M1184.5 968.3v4.5M1271.7 968.3v4.5M1358.8 968.3v4.5M966.6 899.3h-7.5M966.6 828.6h-7.5M966.6 758.0h-7.5M966.6 687.4h-7.5M966.6 616.7h-7.5M966.6 934.6h-4M966.6 864.0h-4M966.6 793.3h-4M966.6 722.7h-4M966.6 652.0h-4" stroke="#000" stroke-width="1.7" fill="none"/>
<text x="966.6" y="998.2" font-size="23.3" text-anchor="middle" font-family="'Liberation Sans', Arial, sans-serif" >550</text>
<text x="1053.8" y="998.2" font-size="23.3" text-anchor="middle" font-family="'Liberation Sans', Arial, sans-serif" >600</text>
<text x="1140.9" y="998.2" font-size="23.3" text-anchor="middle" font-family="'Liberation Sans', Arial, sans-serif" >650</text>
<text x="1228.1" y="998.2" font-size="23.3" text-anchor="middle" font-family="'Liberation Sans', Arial, sans-serif" >700</text>
<text x="1315.2" y="998.2" font-size="23.3" text-anchor="middle" font-family="'Liberation Sans', Arial, sans-serif" >750</text>
<text x="1402.4" y="998.2" font-size="23.3" text-anchor="middle" font-family="'Liberation Sans', Arial, sans-serif" >800</text>
<text x="954.9" y="906.8" font-size="23.3" text-anchor="end" font-family="'Liberation Sans', Arial, sans-serif" >100</text>
<text x="954.9" y="836.1" font-size="23.3" text-anchor="end" font-family="'Liberation Sans', Arial, sans-serif" >200</text>
<text x="954.9" y="765.5" font-size="23.3" text-anchor="end" font-family="'Liberation Sans', Arial, sans-serif" >300</text>
<text x="954.9" y="694.9" font-size="23.3" text-anchor="end" font-family="'Liberation Sans', Arial, sans-serif" >400</text>
<text x="954.9" y="624.2" font-size="23.3" text-anchor="end" font-family="'Liberation Sans', Arial, sans-serif" >500</text>
<text x="1184.5" y="1040.7" font-size="30.2" text-anchor="middle" font-family="'Liberation Sans', Arial, sans-serif" >Wavelength, nm</text>
<text transform="translate(899,880.3) rotate(-90)" font-size="30.2" text-anchor="start" font-family="'Liberation Sans', Arial, sans-serif">Intensity, a.u.</text>
<clipPath id="cpl2"><rect x="966.6" y="1130.6" width="435.80000000000007" height="351.20000000000005"/></clipPath>
<path d="M966.6 1472.4l.2-7 .3 3.2 .2 1.9 .3-.8 .2-4.8 .3-4.1 .2 9 .2 1.5 .3 3.7 .2-5 .3-5.2 .2 5.1 .2-2.3 .3-2.3 .2-3 .3-1.6 .2 4.3 .3 1.1 .2 1.8 .2-.2 .3 .7 .2 6.6 .3-7.9 .2 5.6 .3-8.5 .2 .1 .2 .7 .3-5.1 .2 13.6 .3-5.6 .2 1.8 .3 3.9 .2-5.1 .2 4.6 .3-29.9 .2 28.3 .3-3.9 .2-3.4 .2 6.4 .3-4.3 .2-2.9 .3-16.6 .2 26.3 .3-17.6 .2 10.6 .2 6.1 .3-3.9 .2-5.1 .3 1.3 .2-1.4 .3 3.3 .2-1.3 .2-4.9 .3-.8 .2 10.3 .3-9.7 .2 .5 .3 13.8 .2-17.8 .2 3 .3 1.3 .2 6.9 .3-6.1 .2 2.3 .2-8.8 .3 6.8 .2 2.5 .3 0 .2 5.7 .3-4 .2-13.8 .2 5 .3 2.9 .2 2.3 .3 1.3 .2 2.2 .3-9.5 .2-2.3 .2 12.1 .3-7.4 .2-5.6 .3 5.6 .2 2 .2-3.3 .3 .1 .2 8.7 .3-8.7 .2 5.6 .3-.4 .2-2.5 .2 11 .3-15.2 .2 15.9 .3-14.6 .2 2.7 .3 2.3 .2 3.2 .2-1.8 .3-4.4 .2-.1 .3 6.1 .2 1.4 .3-8.6 .2 7.1 .2-2.8 .3-1.4 .2-5.6 .3-.8 .2 6.9 .2-13.3 .3 9.2 .2 3.7 .3-8.7 .2 13.5 .3 0 .2-11.3 .2 3.8 .3-.2 .2-1.8 .3 .1 .2 3.9 .3 4.8 .2-6.6 .2-.1 .3 0 .2-3.5 .3 5.4 .2-4.8 .2-2.1 .3 6.7 .2-10.6 .3 5.6 .2 .3 .3 1 .2-6 .2 2.4 .3 3.2 .2 3 .3-3.1 .2-.5 .3-2.7 .2 3.5 .2-11.9 .3 18 .2-3 .3-4.5 .2-4.4 .3 17.5 .2-17.2 .2 8 .3-7.3 .2-2.5 .3 1.8 .2-2.4 .2 1.7 .3 2.3 .2-3.7 .3-1.3 .2 1.4 .3 1.3 .2-2.1 .2 1.8 .3-.3 .2-1.7 .3 1.3 .2-3.4 .3 4.3 .2-3.6 .2 1.4 .3-4.9 .2-5.7 .3 3.7 .2 1.6 .3 .9 .2-2.2 .2 6.1 .3-12.5 .2-14 .3 18 .2-2.6 .2 2.7 .3 2.4 .2 8.6 .3-17.9 .2 .8 .3 4 .2-6.5 .2 2.8 .3 8.6 .2-6.2 .3-.2 .2 4.7 .3-12.7 .2 7.7 .2-1.1 .3 1.1 .2-5.9 .3 2.2 .2 1.1 .2 3.4 .3-6.4 .2 6 .3-11.8 .2 11.7 .3 2.1 .2-6.8 .2 3.2 .3 1.8 .2 1.9 .3 4.5 .2-3.9 .3-1.2 .2 .7 .2 2.5 .3 2.8 .2-1.7 .3-2.9 .2 1.5 .3-1.4 .2 .2 .2 2.2 .3 .1 .2 5.9 .3-8.1 .2 5.4 .2-5.4 .3 8.2 .2-2.1 .3 3.9 .2-3.1 .3-6.8 .2 4.4 .2-2.9 .3 .3 .2-2.2 .3 2.9 .2 1.6 .3 .4 .2 9.5 .2-11.3 .3 .9 .2-.8 .3-.8 .2-.3 .3 1.4 .2-1.2 .2 3.8 .3-1.4 .2-5.6 .3 3.6 .2 1.2 .2-2.6 .3 .1 .2 .5 .3 2.8 .2-1.9 .3-3.1 .2 1.9 .2 5.3 .3-9.3 .2 6.7 .3-4 .2 16.6 .3-13.1 .2-2.5 .2-.8 .3-6.1 .2 4.2 .3 10.5 .2-7.1 .2-2.8 .3 1.1 .2 .1 .3-4.3 .2 4.3 .3 1.6 .2-8.5 .2 5.1 .3-10.6 .2 4.3 .3 10.6 .2 1.5 .3 2.6 .2-13.5 .2 5 .3-1.1 .2 5.8 .3-3.3 .2-1.1 .3 2.1 .2-4.6 .2 5.9 .3-5.7 .2 6 .3-4 .2 1.5 .2-7.4 .3-1.8 .2-.3 .3 8.6 .2-11.3 .3 14.8 .2-9.3 .2-2.5 .3 7.1 .2-6.9 .3 5.3 .2-1.4 .3 6.1 .2-1.4 .2 6 .3-12 .2 7.1 .3-5.7 .2 .6 .2 1.3 .3-.9 .2-6.9 .3 8.3 .2-9.7 .3 8.7 .2-2.5 .2 .5 .3-5.1 .2 8.8 .3-5 .2 4.1 .3-6.8 .2-.1 .2 3.2 .3 4 .2-10.2 .3 3.1 .2 .2 .3-.9 .2 .8 .2 6.4 .3-1.7 .2-3 .3 3.4 .2 .6 .2-7.2 .3-.6 .2 6 .3 6 .2-19.4 .3 7.4 .2 5.9 .2-7 .3 7.1 .2-2.9 .3-6.5 .2 3.3 .3 3.5 .2-5.6 .2 6.2 .3-1.3 .2-2.8 .3 2.9 .2-3.4 .3 2.4 .2-5.3 .2 10.3 .3-7.4 .2 6 .3 4.2 .2-2.6 .2-7 .3 .6 .2-1 .3 1.5 .2-5.1 .3-4.4 .2 9.2 .2-1.4 .3 6.4 .2 1.1 .3-14 .2 1.8 .3 7.3 .2 1.7 .2-4.7 .3-.4 .2-8.5 .3 18 .2-13.2 .2 5.4 .3-1.1 .2-5.5 .3 7.5 .2 2.6 .3-6.8 .2 1.8 .2 1.1 .3 1.3 .2-.6 .3-7.8 .2-.4 .3 1.6 .2-9.5 .2 5.9 .3 4.8 .2-2.2 .3-.9 .2 7.5 .3-2.5 .2 2 .2-4.5 .3-1.2 .2-2.1 .3 4.8 .2-9.2 .2 4 .3 6.4 .2 1 .3-4.2 .2-4.9 .3 7.5 .2-5.9 .2 2.6 .3-3.9 .2 12.3 .3-1.6 .2-10.5 .3-1.5 .2 4.8 .2 2.9 .3 2.7 .2-6 .3-5.3 .2 8.6 .3-2.2 .2-8.5 .2 5.8 .3-.4 .2-3.2 .3 5.1 .2 3.5 .2-.3 .3-8.7 .2 1.1 .3 5.5 .2-4.7 .3-.3 .2 11.2 .2-21.5 .3 8.3 .2-1 .3 3.3 .2 7.8 .3-8.6 .2-.8 .2 1.8 .3-2.3 .2 2.9 .3 9.6 .2-14.8 .2 2 .3-.1 .2-8.9 .3 12.1 .2-3.3 .3-8.7 .2 7.4 .2 1.8 .3-5 .2 8.8 .3-7.8 .2-4.3 .3 10.2 .2-4.5 .2 1.1 .3-8.2 .2 .9 .3 1.5 .2 3.7 .3-.1 .2 6.7 .2 .5 .3-6.6 .2-1.2 .3 8.9 .2-8.6 .2 4.1 .3-7 .2 1.6 .3-1 .2-2.1 .3 4.7 .2-5.8 .2 3.1 .3 2.2 .2 7.7 .3-18.7 .2 8.9 .3 2.5 .2-4.8 .2 5.4 .3-1.8 .2 3 .3-7.8 .2 .8 .2-.2 .3-3.7 .2 5.2 .3-5.9 .2-6 .3 4.2 .2 11.4 .2-7.9 .3-1.6 .2 7.6 .3-5.8 .2 3.4 .3-2.5 .2 2.3 .2-.9 .3-11.1 .2 16.7 .3-2.3 .2-11.6 .3 10.8 .2-5.3 .2 1.4 .3 5.3 .2 5.5 .3-7.2 .2 4.6 .2-4.4 .3-8 .2-3.3 .3 9.7 .2-12 .3 6.2 .2-.2 .2-6.7 .3 14.4 .2-5 .3-2.7 .2 5.1 .3-6.2 .2 7.4 .2 3.8 .3-10.4 .2-.3 .3 6 .2-14.7 .3 3.2 .2 .9 .2-2.9 .3 7.4 .2 1.2 .3-1.6 .2-.2 .2 4.3 .3 .6 .2 .7 .3-6.7 .2 .6 .3 6.7 .2-5.1 .2 4.1 .3-8.6 .2 1.9 .3-3 .2 2.8 .3 2 .2-4.3 .2 11.2 .3-16.4 .2 11 .3-9.4 .2 6.4 .2-5.2 .3 3.8 .2-.3 .3-4.4 .2-2.3 .3 2.1 .2 3.2 .2 3.4 .3 3.5 .2-16.2 .3 10 .2-4.7 .3 1.9 .2 1.2 .2 1.9 .3-2.1 .2-2.4 .3 7.3 .2-6.5 .3-1.7 .2 5.2 .2-11.4 .3-6.4 .2 17.6 .3-9.1 .2-9.2 .2 10.9 .3 .2 .2-11.5 .3-4.5 .2 4.4 .3 .3 .2-6.6 .2-3.4 .3 5.5 .2-1.8 .3-12.6 .2 .6 .3 2.2 .2-3.3 .2 2.5 .3-.2 .2 5.3 .3-9.6 .2 1.4 .3-14.5 .2 3.5 .2 8.4 .3-14.1 .2 14.2 .3-5 .2-2.9 .2-2.1 .3-6.3 .2-.3 .3 2.2 .2-.2 .3 8.3 .2-12.9 .2 1.4 .3-6.8 .2 9.7 .3-1.7 .2 5.3 .3 3.8 .2-8.2 .2-8.1 .3 5.6 .2 .1 .3-2 .2-5.6 .2 7.8 .3-8.5 .2 6.2 .3-1.2 .2-12.6 .3 17.6 .2 8.4 .2-13.8 .3-1.4 .2 16 .3-19.8 .2 7.4 .3 1.2 .2-4.4 .2 2.6 .3-4.2 .2 1.5 .3 6.8 .2-8.5 .3 1.7 .2-.7 .2 6.6 .3-4.8 .2-2.6 .3 9 .2-15.4 .2 .6 .3 12 .2 8.7 .3-13 .2 7.2 .3-12.1 .2 8.3 .2 .4 .3 2.1 .2-7.2 .3 14.7 .2-16 .3 13.5 .2-14.5 .2 9.9 .3 2.5 .2 4.1 .3-13.2 .2-9 .2 13.2 .3-9.1 .2-2.6 .3 2.1 .2-2.3 .3 8.8 .2-3.8 .2 7.9 .3-5.2 .2-7.5 .3 5.6 .2 2.3 .3 3.1 .2-10.1 .2-3 .3-4.3 .2 2.5 .3 1.7 .2 .9 .3-9.7 .2 4.8 .2 .6 .3-2.7 .2-.7 .3 4.9 .2-8.1 .2 7.8 .3-9.5 .2 6.9 .3-8.2 .2 12.6 .3-3.1 .2 2.9 .2-13.2 .3-3.3 .2-.6 .3 5.7 .2 6.9 .3-2.6 .2-.8 .2-11.7 .3 12.9 .2-2.6 .3-8.1 .2-12.3 .3 9.6 .2 3.4 .2 9.4 .3-8.6 .2-2.2 .3 9.2 .2-.8 .2-4.3 .3-2.4 .2 3.2 .3-12.3 .2 6.1 .3-5.6 .2-3.8 .2 8.2 .3 3.1 .2 4 .3-7.2 .2 1.6 .3-8.5 .2-8.6 .2 4.7 .3 5.8 .2-6.5 .3 14.8 .2-4.8 .2-9.1 .3 11.3 .2-7.1 .3 5.6 .2-11.6 .3 12.6 .2-13.9 .2 1 .3 6.5 .2 4.2 .3-11.5 .2 .6 .3-7.8 .2 3.7 .2 3.9 .3-11.3 .2 4.5 .3-4.7 .2 7.7 .3 3.8 .2-3.9 .2-4.4 .3-5 .2-4.3 .3 9.7 .2 9 .2-11.7 .3 .7 .2-2.8 .3-4.8 .2 13.4 .3-2.5 .2-14 .2 1.3 .3 16.3 .2-14.2 .3 5.2 .2-6.3 .3 8.4 .2-7.1 .2 1.1 .3-3.3 .2 18.9 .3 4.3 .2-15.1 .3 2.7 .2-.7 .2-3.6 .3-1.5 .2-1.1 .3 7.2 .2-12.8 .2 2.3 .3 9.7 .2-13.5 .3 19.1 .2-12.1 .3 2.8 .2 7.2 .2-8.9 .3 1.1 .2-4.7 .3 6.9 .2 1.1 .3-10.1 .2 9.6 .2 2 .3-3.3 .2-7.9 .3 10.6 .2 15.9 .2-25.1 .3-8.7 .2 7.1 .3 4.5 .2 8.1 .3-.8 .2-3.3 .2-8.6 .3 8.9 .2-5.1 .3-6.6 .2-5 .3 17.8 .2-16.9 .2 18.3 .3 6.4 .2-14.4 .3-5.7 .2 1.2 .3-.3 .2 6.7 .2 3.9 .3-11.4 .2 2.6 .3-2.1 .2 11.4 .2-1.2 .3-11.8 .2 3.4 .3 2.9 .2-12.7 .3 8 .2 4.2 .2-10.1 .3 10.3 .2-1.2 .3-4.1 .2 10.2 .3-12.9 .2 8.6 .2-4.5 .3 8.6 .2-12.3 .3 8.8 .2-.1 .2 3.2 .3 3 .2-20.4 .3 9.2 .2-6.7 .3 13.2 .2 2.4 .2-11 .3 3.4 .2 6.8 .3-7.3 .2-2.4 .3-9.9 .2 5.9 .2 10.9 .3-16.1 .2 11.2 .3-.6 .2-1.6 .3 5.1 .2-10.2 .2 13.7 .3-12 .2 9.3 .3-10.5 .2 5.3 .2-4 .3 13 .2-17.9 .3 2.5 .2 13.5 .3-4.4 .2-5.6 .2-1.6 .3-6.9 .2 6.5 .3 3.9 .2 17.4 .3-13.9 .2 3.3 .2-7.2 .3-7.3 .2 2.2 .3 12.2 .2-9.5 .3 8.5 .2-19.9 .2 7.1 .3-2.2 .2 6.8 .3-7 .2-3.7 .2 8.1 .3-14.8 .2 11.1 .3 6.5 .2-21.8 .3 18.4 .2-5.7 .2 3.3 .3 3.7 .2 1.2 .3-.5 .2-8.2 .3 14.9 .2-8.2 .2-6.8 .3 13 .2-11.9 .3 15.5 .2-7.7 .2-6.7 .3-2.7 .2-2.7 .3 .1 .2 3.1 .3 10.6 .2-8.1 .2-2 .3 3.1 .2-5.2 .3-6.7 .2-1.8 .3 19.3 .2-11.7 .2 12.4 .3 1.8 .2-11.3 .3 11.2 .2-16 .3 1.2 .2 1.2 .2-.9 .3 10 .2-11.1 .3 6.5 .2-5.6 .2 3.2 .3 8 .2-23.5 .3 18.3 .2-12.5 .3 5.4 .2-4 .2-1.2 .3-6.4 .2-9.3 .3 32.9 .2-8.9 .3-7.6 .2-11 .2 17.9 .3 6.7 .2-7.4 .3-14.3 .2 8.7 .2 5.9 .3-1.8 .2 8.6 .3-13.8 .2 2.7 .3-12.2 .2 25.4 .2-2.9 .3-6.9 .2-8.9 .3 18.8 .2-15.2 .3 1.4 .2-3.9 .2 3.9 .3 3.8 .2-.6 .3 15.5 .2-2.2 .3-3.8 .2-4 .2 4.1 .3-8.2 .2 12.2 .3-8.6 .2 3.4 .2 6.2 .3-7.7 .2-3.1 .3 16.7 .2-18.4 .3 3.3 .2-11 .2 15.1 .3 4.2 .2-20.7 .3 18.6 .2 27.4 .3-15.5 .2-2 .2-6.3 .3 2.2 .2-5.1 .3-7.4 .2 14 .3 5.1 .2-5.1 .2-2.1 .3 6.3 .2-3.6 .3 5.7 .2-10.3 .2-9.1 .3 15.6 .2 2.9 .3-11.1 .2 7.1 .3 3.4 .2-23.2 .2 35.3 .3-11.1 .2-6.5 .3-6.3 .2-2.7 .3 33.6 .2-24.7 .2 7.1 .3-9 .2 2.5 .3 6.8 .2-10.6 .2 6 .3-.7 .2 4.8 .3 2.8 .2-6.9 .3 10.9 .2-12.5 .2 .8 .3 3.4 .2-2.2 .3 7.2 .2-24.3 .3 7.5 .2-2.6 .2 24.4 .3-3.8 .2-10.1 .3 7.5 .2-14.4 .3 10 .2 12.2 .2-5.5 .3 10.2 .2-17.6 .3 11.3 .2-6.9 .2 1.6 .3-.3 .2 3.6 .3 3.9 .2-8.3 .3 2.2 .2-3 .2 2.7 .3-7.2 .2 12.3 .3-1.8 .2-2.4 .3-2.1 .2-10.8 .2 4.8 .3-1 .2 2.3 .3 11.7 .2-3.2 .3-26.5 .2 17.5 .2 15.6 .3 2.3 .2-5.3 .3 8.6 .2-18.6 .2 7.7 .3-7 .2 19.3 .3-11.8 .2 .1 .3-.2 .2-6.9 .2 4.4 .3-14.7 .2 12.4 .3-3.6 .2 12.1 .3 3.9 .2-7 .2-8.5 .3-.3 .2 12.4 .3-6.6 .2 .2 .2-5.2 .3 8.9 .2-.1 .3 4.1 .2-11.4 .3 6.2 .2-9 .2 11 .3-1.3 .2-2.3 .3 8.5 .2-14.2 .3 18.9 .2-7.5 .2 1.3 .3-1.8 .2-6.3 .3 1.2 .2 10.2 .3-6.1 .2 2.5 .2-4.1 .3 8.2 .2-1 .3-12.5 .2 21.7 .2-5.7 .3-1.1 .2-3.1 .3-2.2 .2 6.3 .3 11.6 .2-17.2 .2-6.3 .3 7.3 .2 .9 .3 6.1 .2-14 .3 5.5 .2 1 .2 8.8 .3 1.1 .2-5.6 .3 5.9 .2-5.9 .2 .2 .3-15.2 .2 9.3 .3-1.2 .2 10.5 .3-2.2 .2-7.2 .2 7.6 .3-.8 .2 3.5 .3-5.7 .2-.8 .3 12.7 .2-9.2 .2 8.5 .3-11.9 .2 4.5 .3-.4 .2-3.8 .3 11.1 .2-12.9 .2 10.4 .3-14.8 .2 18.2 .3-3.8 .2 7.2 .2 5.9 .3-16.8 .2 5.1 .3-8.4 .2 5.6 .3 3.5 .2 .2 .2 5 .3-1.5 .2 3.3 .3-10.2 .2 5.5 .3-7.1 .2 5.7 .2-15.8 .3 16.8 .2 1.3 .3-2.9 .2 .7 .3-7.8 .2 7 .2 .7 .3 5.5 .2 1.9 .3-5.2 .2 2.2 .2 3.5 .3-7.4 .2 12.2 .3 6.7 .2-9.8 .3-4.9 .2 4.7 .2 6.2 .3 1 .2-15.6 .3 10.6 .2-6.1 .3 2.2 .2 4.7 .2 2 .3-4.6 .2-3 .3 2.6 .2-3 .2 17.3 .3-19.7 .2 13.5 .3-2.6 .2-.2 .3-6 .2 3.8 .2 1.3 .3-.8 .2 2.1 .3 2.6 .2-3 .3 5.7 .2 2.1 .2-7.2 .3 8 .2-3.6 .3-3.3 .2 6.5 .3 4.2 .2-8.1 .2-8.6 .3 15.9 .2 1.7 .3-12.2 .2 6.2 .2 3.9 .3-16.3 .2 19 .3 0 .2 .9 .3 4.4 .2-14.6 .2 12.2 .3 8.2 .2-26.3 .3 11.5 .2 6.7 .3-8 .2-6.1 .2 12.9 .3-.4 .2-4.9 .3 6.1 .2 4.2 .3 .9 .2-3.1 .2-9.4 .3 5.7 .2-11.1 .3 7.3 .2 7.4 .2 2.6 .3-3.1 .2 .4 .3-11 .2 4.2 .3 1 .2 3.6 .2 .2 .3 16.4 .2-6.5 .3-11.5 .2 2.4 .3 1 .2 0 .2 .7 .3-8.5 .2 18.8 .3-2.5 .2 0 .2-2.7 .3 2.3 .2-4.4 .3-9 .2 12.3 .3-.2 .2-7.4 .2-5 .3 19.6 .2-12.1 .3 5 .2-2.5 .3 13.8 .2-17.8 .2 14.8 .3-20.1 .2 20 .3-7.8 .2-9.7 .3 13.4 .2-.4 .2-8.5 .3 11.5 .2-2.6 .3 3.9 .2-10.4 .2 4 .3-1 .2 6.5 .3-3.4 .2-2.4 .3 13.8 .2-10.5 .2 9.4 .3-1.1 .2-8.5 .3-6 .2 11.8 .3 3 .2 3 .2-4.1 .3 .6 .2-5.7 .3-.2 .2 22.3 .2-11.3 .3-13.5 .2 9.4 .3 1.2 .2-12.3 .3 8.7 .2 5 .2 19.9 .3-13.4 .2-10.7 .3 .5 .2-.5 .3 4.1 .2 3.8 .2-10.2 .3 5.1 .2-2 .3-.7 .2 1.7 .3 13.3 .2-.2 .2 10.5 .3-28.7 .2 11.1 .3 11.9 .2-10.7 .2-5.9 .3 7.5 .2-4.4 .3-.5 .2 3.9 .3 1.5 .2-3.2 .2 1.1 .3-5.2 .2 5.6 .3 4.5 .2-3.1 .3-1.2 .2-6.6 .2 14.3 .3-12.2 .2 10.3 .3-5.3 .2 6.6 .3 1.6 .2-7.1 .2-14.4 .3 5.6 .2 6.1 .3 .6 .2 6.9 .2 9.4 .3-6.8 .2-4 .3 8.3 .2-8 .3 5.9 .2-2.3 .2-12.1 .3 15.9 .2 4.5 .3-11 .2 6.3 .3-1.1 .2-3.9 .2-.3 .3 7.7 .2-8.5 .3 .9 .2 7.6 .2 .8 .3 3.7 .2-11.1 .3-3.7 .2 13.2 .3-13.6 .2 6.4 .2 1.3 .3 10.6 .2-8.6 .3-6.2 .2 6.6 .3 7.5 .2-16.2 .2 3 .3 12.6 .2-4.4 .3-5.6 .2 4.6 .3 1.8 .2-6.1 .2 3.4 .3 10.9 .2-5.6 .3 4.6 .2-5.7 .2-2.4 .3 4.9 .2-6.1 .3 7 .2-3.1 .3 .4 .2 .5 .2-3.2 .3 12.3 .2-14.5 .3 9.3 .2-7.3 .3 11.5 .2-5.5 .2 3.7 .3 .6 .2-.3 .3-.5 .2 1.3 .3 .2 .2-3.8 .2 1.2 .3 .6 .2-2 .3 1.2 .2 9.8 .2-13.6 .3 16.1 .2-10.8 .3 6.1 .2-2.8 .3-.6 .2 4.1 .2 6.1 .3-8.8 .2 .8 .3-2.2 .2 13.2 .3-4 .2 .1 .2-5.1 .3-9.2 .2 12.1 .3-10.9 .2 6.1 .2 8.3 .3-7.4 .2-.2 .3-6.9 .2 14.4 .3-1.3 .2-4.2 .2 4.4 .3-9.5 .2 3.5 .3 5.8 .2 3.6 .3-4.2 .2-5.7 .2 3.8 .3 8.2 .2-8.2 .3 4.4 .2 1.1 .3-4.6 .2 3 .2-8.6 .3 1.7 .2 7.6 .3 3.2 .2 3.5 .2-8.5 .3 4.9 .2-2.7 .3-3 .2 .3 .3 3.7 .2 .5 .2-3.4 .3 17.1 .2-13.2 .3 3.6 .2-4.3 .3 15 .2-24 .2 6.5 .3 6.7 .2 4 .3-5.8 .2-4.3 .2 12.6 .3-4.2 .2-4.2 .3 .3 .2 .2 .3 2.2 .2-8.7 .2 9 .3-3.3 .2 5.4 .3-.5 .2-6.3 .3 21 .2-12 .2-7.7 .3-.4 .2 1.9 .3 5.1 .2 4.6 .3-10 .2 .8 .2 6.4 .3-2.5 .2 .2 .3-.1 .2-.7 .2 10 .3-3.4 .2-6 .3 7.7 .2 3.2 .3-6.5 .2-.6 .2-3.5 .3 3.1 .2 .6 .3 5.3 .2-10.4 .3-2.9 .2 5.4 .2 4.3 .3-10.9 .2 6.9 .3-.9 .2-1.3 .3 6.1 .2 4.9 .2-11.5 .3 7.6 .2-1.7 .3 4 .2-2.8 .2-2.7 .3 13 .2-7.7 .3-6.6 .2-4.3 .3 6.2 .2 4.4 .2 2.8 .3-6 .2 1 .3-6.3 .2 6.4 .3 2.8 .2-3 .2 2.4 .3-3.8 .2 .5 .3 5.6 .2-8.2 .2 7.4 .3 5.6 .2-7.9 .3 .6 .2-1.4 .3-1.9 .2 3.4 .2-2.9 .3 4.9 .2-1.2 .3-2.5 .2 5.5 .3 4.6 .2-.8 .2-4.7 .3 1.4 .2-4.5 .3 3.8 .2 4.3 .3 .7 .2 2.8 .2-12.7 .3 14.1 .2-5.2 .3 5.5 .2-6.8 .2 5.7 .3-5.4 .2-4.5 .3 6.4 .2-3.5 .3 2.3 .2 2.7 .2 1.3 .3-.3 .2 1.6 .3-11 .2 12.3 .3-8.7 .2 4.3 .2-2 .3-3.1 .2 9.3 .3-8.3 .2 2.3 .3 9.1 .2-16.3 .2 2.8 .3 17.6 .2-11.6 .3 5.6 .2-3.4 .2-1.9 .3 5.5 .2-6 .3 .9 .2 3.6 .3-5.6 .2-1.3 .2-.8 .3 11.7 .2 4.5 .3-3 .2-7.9 .3 .8 .2-1.9 .2 4.6 .3 4.7 .2-4.6 .3 .4 .2-13.9 .2 15.8 .3-6.4 .2 4.3 .3 2.9 .2-.8 .3 2.9 .2 3.7 .2-16.5 .3 3.4 .2 14.2 .3-2.2 .2-7.7 .3 2.2 .2 1.4 .2 4.8 .3-5.8 .2 1.6 .3-5.6 .2 12.4 .3-4.2 .2-3.8 .2-3.6 .3 6 .2 4.1 .3 6.4 .2 10.6 .2-21.8 .3 0 .2-2.2 .3 6.4 .2-5 .3 5.9 .2 .9 .2-1.2 .3-5.9 .2 9.4 .3-5.7 .2-4.2 .3 5.2 .2 1.1 .2-.3 .3 4 .2 1.2 .3 4.8 .2-10 .2 5.8 .3-16.3 .2 19.4 .3-8 .2 5.7 .3-6.3 .2 3.5 .2 .5 .3-5.1 .2 .3 .3-9.8 .2 15 .3-2.9 .2-.2 .2 6.4 .3-3.6 .2-.3 .3-9 .2 9 .3-1.8 .2 5.6 .2-6.2 .3-2.9 .2 4.4 .3 9 .2-11.4 .2 17.4 .3-14.1 .2-7.8 .3 11.5 .2 7.5 .3-7.9 .2-6.3 .2 3.7 .3-2.6 .2 16 .3-9.6 .2-12.3 .3 13.7 .2 1.3 .2-8.8 .3 1.9 .2 2.5 .3 7.7 .2-9.4 .3-.8 .2 7.4 .2-6.5 .3-1.6 .2 4 .3 4.2 .2-2.7 .2-2 .3 7.7 .2 0 .3-12.4 .2 2 .3 1.1 .2 3.1" fill="none" stroke="#f86060" stroke-width="1.9" stroke-linejoin="round" clip-path="url(#cpl2)"/>
<rect x="966.6" y="1130.6" width="435.8" height="351.2" fill="none" stroke="#000" stroke-width="1.9"/>
<path d="M966.6 1481.8v8M1053.8 1481.8v8M1140.9 1481.8v8M1228.1 1481.8v8M1315.2 1481.8v8M1402.4 1481.8v8M1010.2 1481.8v4.5M1097.3 1481.8v4.5M1184.5 1481.8v4.5M1271.7 1481.8v4.5M1358.8 1481.8v4.5M966.6 1412.5h-7.5M966.6 1342.0h-7.5M966.6 1271.5h-7.5M966.6 1201.1h-7.5M966.6 1130.6h-7.5M966.6 1447.7h-4M966.6 1377.3h-4M966.6 1306.8h-4M966.6 1236.3h-4M966.6 1165.8h-4" stroke="#000" stroke-width="1.7" fill="none"/>
<text x="966.6" y="1510.8" font-size="23.3" text-anchor="middle" font-family="'Liberation Sans', Arial, sans-serif" >550</text>
<text x="1053.8" y="1510.8" font-size="23.3" text-anchor="middle" font-family="'Liberation Sans', Arial, sans-serif" >600</text>
<text x="1140.9" y="1510.8" font-size="23.3" text-anchor="middle" font-family="'Liberation Sans', Arial, sans-serif" >650</text>
<text x="1228.1" y="1510.8" font-size="23.3" text-anchor="middle" font-family="'Liberation Sans', Arial, sans-serif" >700</text>
<text x="1315.2" y="1510.8" font-size="23.3" text-anchor="middle" font-family="'Liberation Sans', Arial, sans-serif" >750</text>
<text x="1402.4" y="1510.8" font-size="23.3" text-anchor="middle" font-family="'Liberation Sans', Arial, sans-serif" >800</text>
<text x="954.9" y="1420" font-size="23.3" text-anchor="end" font-family="'Liberation Sans', Arial, sans-serif" >100</text>
<text x="954.9" y="1349.5" font-size="23.3" text-anchor="end" font-family="'Liberation Sans', Arial, sans-serif" >200</text>
<text x="954.9" y="1279" font-size="23.3" text-anchor="end" font-family="'Liberation Sans', Arial, sans-serif" >300</text>
<text x="954.9" y="1208.6" font-size="23.3" text-anchor="end" font-family="'Liberation Sans', Arial, sans-serif" >400</text>
<text x="954.9" y="1138.1" font-size="23.3" text-anchor="end" font-family="'Liberation Sans', Arial, sans-serif" >500</text>
<text x="1184.5" y="1553.3" font-size="30.2" text-anchor="middle" font-family="'Liberation Sans', Arial, sans-serif" >Wavelength, nm</text>
<text transform="translate(899,1393.8) rotate(-90)" font-size="30.2" text-anchor="start" font-family="'Liberation Sans', Arial, sans-serif">Intensity, a.u.</text>
<clipPath id="cpl3"><rect x="966.6" y="1646.6" width="435.80000000000007" height="351.0"/></clipPath>
<path d="M966.6 1972.6l.2 8.3 .3 5 .2-10.3 .3-5.7 .2 8.4 .3-2.6 .2 8.2 .2-7.3 .3 3.7 .2-1.5 .3-.7 .2-5.8 .2 2 .3 3.3 .2-.8 .3-.1 .2 3.5 .3-3 .2 2.7 .2-2.6 .3 1.1 .2-3.7 .3-4 .2 9.5 .3 0 .2-.9 .2-6 .3 7.7 .2-4.1 .3 .2 .2-3.4 .3 .6 .2-.6 .2 4 .3-4.3 .2 2.6 .3-2.1 .2-3.1 .2 5.4 .3 .3 .2-.3 .3-12.4 .2 16.2 .3-4.3 .2-3.9 .2 11.6 .3-7.7 .2 2.9 .3-2.6 .2-10 .3 14.3 .2-16.6 .2 16 .3-5 .2-3 .3-6.5 .2 8 .3-2.3 .2 4.2 .2-4.6 .3 7.3 .2-5.1 .3 .3 .2 9.9 .2-5 .3-5.9 .2 4.1 .3-8.1 .2 3.4 .3 2.3 .2-2.4 .2-1.1 .3 6.5 .2-5.2 .3-1.1 .2 .7 .3-.4 .2 5.7 .2-2.2 .3-7.6 .2 11.5 .3-1.3 .2-5.8 .2-3.1 .3 4 .2-2.7 .3 4.3 .2-2.5 .3 5.2 .2-12.1 .2 4 .3 3.5 .2-3.4 .3-2.7 .2-.4 .3 12.4 .2-8.8 .2 3.4 .3-6.3 .2 1.1 .3 1.4 .2 6.9 .3-1.3 .2 2.8 .2-2.6 .3-.3 .2-7.2 .3-2.2 .2 16.1 .2-16.6 .3 5 .2-5 .3-2 .2 4.4 .3-4.1 .2 2.2 .2 4.7 .3-4.6 .2 4.8 .3-6.3 .2 3.2 .3-5.9 .2 9.5 .2-14.2 .3 9.5 .2 1 .3-13.5 .2 3.9 .2 .3 .3 5.8 .2-1 .3-.5 .2 3.8 .3 6.8 .2-14 .2 5.6 .3-1.5 .2 4.2 .3-27.4 .2 15.6 .3 2 .2-.2 .2 5.3 .3-3.3 .2-6.9 .3 4.9 .2-4.2 .3 3.1 .2 2 .2-3.1 .3 8.1 .2 4 .3-5 .2-12.3 .2 12.3 .3 2.4 .2-10.3 .3 1.9 .2 2.6 .3-4.3 .2 4.1 .2-3.6 .3-5.5 .2 0 .3 .6 .2-2.4 .3 8.2 .2-4.8 .2-2.8 .3 4 .2-3.8 .3 3.8 .2 2.1 .3-6.9 .2-3.9 .2-3.1 .3 12.6 .2-6.6 .3-4.8 .2 1.8 .2-5 .3 10.6 .2-3.1 .3-5.1 .2-5.3 .3 15.7 .2-8.7 .2-11.4 .3 7.1 .2 2.1 .3 .5 .2-5.9 .3 9.8 .2-2.9 .2-2.8 .3-3.5 .2-5.4 .3 5.6 .2 .8 .2-4.7 .3 6.6 .2 2.3 .3-5.6 .2 .5 .3 2.1 .2 8 .2-.8 .3-13.6 .2 5.6 .3 14.1 .2-12.7 .3 9.7 .2-5.3 .2 3.7 .3-6.9 .2 2.3 .3 2.4 .2-2.2 .3-.4 .2 7.5 .2-6.8 .3 6.9 .2-8.4 .3 1.3 .2 4.7 .2-1.1 .3 2 .2-4.3 .3-.4 .2-2.1 .3-5.1 .2 5.1 .2 6.4 .3-5 .2 1.1 .3 4.5 .2-9.8 .3 5.6 .2-4.2 .2 7.5 .3-11.7 .2 4.8 .3-.8 .2 .7 .3-1.1 .2 23.2 .2-21.9 .3 .2 .2-5.9 .3 .4 .2 2.4 .2-2.1 .3 7.6 .2-5 .3 .5 .2 1.3 .3-3.6 .2-1.7 .2 2.5 .3 3.9 .2-1.6 .3-3.4 .2 10.9 .3-5.6 .2 5.5 .2 9.6 .3-21.2 .2 8.3 .3-3.3 .2 .1 .2-8.3 .3 3.1 .2 3.6 .3-.4 .2 7.1 .3-8.8 .2 2.7 .2-2.6 .3-4.6 .2 4.2 .3 1.9 .2 7.3 .3-2.3 .2-8.2 .2-1.7 .3 3.8 .2-2.5 .3 13.5 .2-7.4 .3-4.2 .2-6.1 .2 1.2 .3 4.3 .2-11.4 .3 9.8 .2-.5 .2 8.8 .3-15 .2 11.9 .3-5.7 .2 4.9 .3-7.1 .2 5.1 .2 1.8 .3 7.6 .2-15.3 .3 2.9 .2 0 .3-2.4 .2 2.1 .2 .4 .3-1.8 .2-6.4 .3 8.9 .2-8 .2 6.1 .3 4.8 .2-10.6 .3 5.1 .2 2.7 .3-2.6 .2-2 .2 2 .3 2.9 .2-7.9 .3 3.7 .2 3.9 .3-6.1 .2-2.9 .2 8.8 .3-.5 .2 1.1 .3-4.7 .2-7.4 .3 14.2 .2-1.4 .2-2.1 .3-6.1 .2 2.6 .3-4.7 .2-.9 .2 5.1 .3 .9 .2 .9 .3-1.5 .2 8.1 .3-14.1 .2 10.4 .2-8 .3 6 .2-8.7 .3 14.3 .2-3.7 .3-14.1 .2 13.2 .2-5.3 .3 3.2 .2-4.3 .3-.8 .2-5.8 .3 4.1 .2 1.9 .2-7.7 .3 3.1 .2 4.5 .3 1.9 .2-4.3 .2 8.6 .3-9 .2 5.1 .3 3.2 .2-15.2 .3 14.3 .2-6.1 .2-3.4 .3 11.3 .2 .1 .3-9.2 .2 6.3 .3-.4 .2-4.8 .2 10.2 .3-10.9 .2-2.6 .3 3.1 .2-.7 .2-1.6 .3 .6 .2-5 .3 9 .2-9.3 .3 11.4 .2-2 .2-5.2 .3 0 .2-1.4 .3 3 .2 8.1 .3-6.8 .2-3.6 .2 10.1 .3-10.2 .2 .1 .3 11.7 .2-7 .3 2.4 .2-2.9 .2-.4 .3 .5 .2 .3 .3 6.7 .2-16 .2-5.8 .3 9.8 .2-5.7 .3 7.6 .2-6.5 .3 5.7 .2 5 .2-7.8 .3-1.1 .2 7.1 .3-7.4 .2 3.1 .3-.4 .2-5.5 .2 10.4 .3-9.7 .2 9.3 .3-2.5 .2-7 .3 3.2 .2 5.5 .2-5.6 .3 11.6 .2-15.5 .3 10.2 .2-13.8 .2 6.4 .3 5.7 .2-14.1 .3 10.2 .2-6.9 .3-1.3 .2 2.6 .2 .6 .3 0 .2-.7 .3-1.5 .2-8.7 .3 18.8 .2 3.5 .2-8.3 .3-3.8 .2-3.6 .3 5.8 .2-.2 .2-6 .3 3.3 .2 4.2 .3-2.4 .2-2 .3 .7 .2-4.4 .2 3 .3 .4 .2-4.2 .3 2.7 .2 4.8 .3 .4 .2-16 .2 3.4 .3 11.7 .2-3.1 .3-.1 .2-9.3 .3 7 .2 2.2 .2-1 .3-5.9 .2 .5 .3 4.1 .2-.8 .2 5.2 .3-17.8 .2 8 .3 8.8 .2-12.1 .3 6 .2 6.3 .2-12.3 .3 6.4 .2 7.6 .3-16.1 .2-3.8 .3 14.9 .2-7.9 .2 1.9 .3 .4 .2 5.5 .3-7.8 .2 6.2 .2-1.4 .3-3.9 .2 5 .3-3.9 .2-2.1 .3 15.5 .2-25.3 .2 4.1 .3 .6 .2 2.8 .3 2.9 .2-3.6 .3 13.9 .2-14.1 .2-3 .3 5.4 .2-2.4 .3-.4 .2 7.1 .3-3.2 .2 3.9 .2-11.2 .3 8.4 .2-3.1 .3-3.4 .2-4.9 .2 7.4 .3-5.6 .2 9.4 .3-1.4 .2 0 .3 11.6 .2-7.8 .2-16.9 .3 13.2 .2-2.1 .3-.1 .2-3.7 .3 7.1 .2-19.2 .2 7.5 .3 9.8 .2-2.3 .3 3.6 .2-6.8 .3-.9 .2 6.6 .2-1.9 .3-11.2 .2 21 .3-17.9 .2 10 .2-3.7 .3 1.9 .2 2.1 .3-10.5 .2 8.4 .3-3.8 .2-3 .2 3.1 .3-2.7 .2 2.7 .3 .9 .2-4.7 .3 8.8 .2-5.2 .2-6.3 .3 7.9 .2 .2 .3-10.2 .2 8.8 .2-3.6 .3 3.1 .2-2.5 .3 2.6 .2-1.5 .3-13.2 .2 11.8 .2 2 .3 .5 .2 2.2 .3-5.1 .2 4.6 .3-2.8 .2-7.4 .2-1.6 .3 9.9 .2-3.4 .3-13.3 .2 3.2 .3 20.5 .2-15 .2-10.4 .3 11 .2 2.4 .3-2.2 .2-4.1 .2-1.3 .3-2.2 .2-.4 .3 3.7 .2 31.5 .3-20.8 .2-15.9 .2-8.5 .3 6 .2-2.5 .3-1.3 .2-9.2 .3 7.2 .2-4.6 .2 2.3 .3-10.3 .2 7.3 .3-8.4 .2 .6 .3-.4 .2-.9 .2-6.1 .3 3 .2-1.8 .3-1.9 .2-.6 .2 .2 .3 12.1 .2-6.2 .3-9.2 .2-4.9 .3 14 .2-7 .2 1.7 .3 4.2 .2-18.2 .3 7.1 .2 4.2 .3 6.6 .2-9 .2 .5 .3-1.1 .2-.4 .3 .7 .2-4.7 .2-1.3 .3 1.6 .2 5.6 .3 3 .2-6.2 .3-2.4 .2 8.9 .2-3.9 .3 1.2 .2-5 .3-1.7 .2 5.4 .3-3.8 .2 7.9 .2-12 .3 7.2 .2-1.8 .3-6 .2 3.9 .3-4 .2 4.2 .2 .5 .3 17.2 .2-21.6 .3 10 .2-6.5 .2 4.9 .3-4 .2-2.7 .3 13.1 .2-1.7 .3-16.7 .2 9.4 .2-1.2 .3-7.2 .2 10.4 .3 2 .2-2.6 .3 2.3 .2 7.4 .2-13.4 .3 9.5 .2 4.9 .3-30.5 .2 15.2 .2 8.7 .3-6.6 .2-6.2 .3 11.5 .2-3.8 .3-15.4 .2 13.9 .2-6.6 .3 1.7 .2-8.8 .3 9.7 .2-2.8 .3-7.3 .2 3.1 .2 10 .3 .1 .2-18.9 .3 11.5 .2-5.4 .3-1.9 .2 4 .2 7.1 .3-1.2 .2-15 .3 5.6 .2 1.8 .2 3.5 .3-7.8 .2 .7 .3-.1 .2 1.9 .3-16.3 .2 19.4 .2-7.4 .3-2.7 .2-7.6 .3 7.6 .2 9.9 .3-16.8 .2-7.2 .2 12.1 .3-3.3 .2-1.3 .3-10.1 .2 11.5 .3 .6 .2-32.1 .2 27.5 .3 3.1 .2-11.4 .3-8.6 .2 13.3 .2 12.3 .3-12.1 .2 11.4 .3-13.1 .2-4.4 .3-4.4 .2 13.4 .2-18.5 .3 3.8 .2 .5 .3 3.9 .2-2.4 .3-10.8 .2 1.3 .2 18.2 .3-11.3 .2-1.2 .3-2.8 .2 3.5 .2-7.4 .3 11.7 .2-2.3 .3-6.3 .2 5.6 .3-7.7 .2-2.4 .2 8.8 .3-7.7 .2-5.4 .3 15.4 .2-12.4 .3 3.7 .2 6.5 .2-19.2 .3 5.8 .2 8 .3-9.1 .2-1.6 .3 1.4 .2-1.6 .2-.7 .3 4.3 .2-2.7 .3 10.5 .2-10.1 .2 8.6 .3-11 .2 10.3 .3-13.3 .2 8.8 .3-7.6 .2 9.7 .2-16.6 .3 2 .2 5.7 .3-9.4 .2 16.5 .3-11.4 .2 4.7 .2 3.2 .3-3 .2-9.3 .3-4.2 .2-2.5 .3 5.1 .2 .9 .2-.5 .3 8.5 .2-12.6 .3-2 .2 12.2 .2 10.9 .3-18.8 .2 5.4 .3 .3 .2 7.7 .3-1.7 .2-9.1 .2 9.2 .3-6 .2 4.9 .3 6.8 .2-27.6 .3 5.1 .2 .3 .2 .6 .3 9.1 .2 0 .3 29.3 .2-20.7 .2-7.9 .3-3.1 .2 5.4 .3-1.8 .2-6.4 .3 7.9 .2-8.4 .2 2.7 .3-.6 .2-3.2 .3-.5 .2 4.8 .3-1.5 .2-7.8 .2 19.8 .3 .2 .2-.6 .3-3.4 .2-8.9 .3-6 .2-.7 .2-5.1 .3 9.6 .2-9.8 .3 12.5 .2 .9 .2-5.7 .3-.2 .2 3.2 .3 4.2 .2-6.4 .3 13.8 .2-18.1 .2 1.6 .3 .7 .2 1.6 .3 2.6 .2 1.9 .3-6.3 .2 12.9 .2-24.2 .3 17.3 .2-4.8 .3-10 .2-.8 .2 10.3 .3 6.9 .2-1.4 .3-7.8 .2-1.9 .3-1.6 .2 .3 .2 6.9 .3 2.7 .2-4 .3-8.9 .2 8.5 .3 2.9 .2-20.3 .2 14.7 .3-6.3 .2 4.2 .3-10 .2 1.2 .3 6.3 .2-3.4 .2 .1 .3-3.1 .2 8.9 .3 4.2 .2-14.6 .2 8.3 .3-5.3 .2 4.6 .3 5.7 .2-6.3 .3-3 .2-6.8 .2 14.9 .3 3.3 .2-25.3 .3 17.3 .2-5.7 .3-8 .2 20.8 .2-8.8 .3 10.7 .2-20.6 .3 2 .2-7.6 .3 10.7 .2-12.7 .2 9.4 .3 10 .2-4.7 .3 2.8 .2-6.2 .2 4.2 .3-6.6 .2-8.5 .3 12.1 .2-4.2 .3-5.5 .2-2.5 .2 16.3 .3-20.6 .2 5.6 .3 8.3 .2 1.6 .3-2.8 .2-12.7 .2 18.4 .3-8.8 .2-9.9 .3 18.1 .2-8.6 .2-12.6 .3-6.1 .2 17.7 .3-3.6 .2 6.3 .3-1.1 .2-6.8 .2 8.5 .3-1.7 .2-9.4 .3 13.1 .2-4.4 .3-2.9 .2 3.6 .2-8.5 .3-.1 .2 4.8 .3-6.2 .2 17.5 .3-9.3 .2 3.3 .2 7.5 .3-2.7 .2 4.6 .3-21.5 .2 17.9 .2-15 .3-1.2 .2 5.3 .3-1 .2-.9 .3 2.2 .2 8.6 .2-27.1 .3 5.1 .2 1 .3 11.4 .2-1.4 .3 2 .2 11.1 .2-13.3 .3-10.2 .2 13.7 .3 10.3 .2 1.5 .2-14.5 .3 1.9 .2 1.5 .3 2.3 .2-5.1 .3-2.1 .2 14.9 .2 .2 .3-10.6 .2-4.1 .3 .1 .2-3.5 .3-.3 .2 7.1 .2-2.9 .3 7.5 .2-5.4 .3-2.6 .2 4.1 .3-14.8 .2 20.8 .2-4.1 .3 11.8 .2-12.7 .3 2.4 .2-5.1 .2 21.6 .3-12.6 .2 7 .3-10.8 .2 6.8 .3-10.7 .2-4.1 .2 9 .3-4 .2 11.7 .3 1 .2 2.6 .3-14.7 .2 2.5 .2 4 .3 5.1 .2-13.3 .3 7.2 .2 9.3 .3-6.4 .2-2.6 .2-5.7 .3 5.8 .2 7.4 .3 2.5 .2-18.9 .2 14.8 .3-5.2 .2-3.8 .3 19.7 .2-8.1 .3-12.1 .2 .6 .2 8.6 .3-11.5 .2 6.6 .3 7.7 .2-12.6 .3 10.6 .2 2 .2-7.4 .3 7.3 .2 2.2 .3-1.4 .2-7.5 .2 10.8 .3-8.1 .2 4 .3-.9 .2-.3 .3-13.8 .2 21.5 .2-3.8 .3-2.2 .2 3.5 .3-7 .2 2.1 .3 4.7 .2-18.3 .2 10 .3 1.2 .2 2.2 .3-1.4 .2-1.5 .3 7.3 .2 3.9 .2-2 .3 4.1 .2-3.4 .3 6.9 .2 1 .2-14 .3-2.2 .2 1.7 .3 1.9 .2 7.6 .3-1.2 .2-1.9 .2-5.9 .3 1.9 .2 1.7 .3 3.1 .2-22.1 .3 22.7 .2 1.9 .2-8.2 .3 15 .2-4.3 .3-.3 .2-15.6 .3 16.6 .2-4.2 .2 .5 .3-41.2 .2 29.6 .3 8.7 .2-6.9 .2 18.4 .3-16.5 .2 13 .3-2.4 .2 17.1 .3-18.8 .2 10 .2-13 .3-4.6 .2 10.4 .3 6.6 .2-12.3 .3 11.1 .2-3 .2-3.7 .3 1.6 .2-.3 .3-4.9 .2 6.4 .2 1 .3-7.7 .2-12.6 .3 22.4 .2-8.8 .3 8.6 .2-9.4 .2 8.7 .3-4 .2-.5 .3 2.1 .2 2.9 .3-14.2 .2 20.7 .2-1.4 .3-4.5 .2-13 .3 17.1 .2-5.4 .3 11.6 .2-13.9 .2 2.2 .3 8.3 .2-20.7 .3 12.2 .2 1.9 .2-14.1 .3 9.6 .2 8.4 .3 1.1 .2 9.3 .3-4.4 .2-15 .2 14.7 .3-2.3 .2-1.5 .3-8 .2 20.6 .3-.3 .2-9.4 .2-7.1 .3-1.8 .2 .6 .3 13.8 .2-16.9 .2 19.4 .3-8.4 .2 3.9 .3 3.1 .2 11.3 .3-10.7 .2-5.6 .2 4 .3-1.2 .2-.3 .3 .9 .2-6.9 .3 9.1 .2-10.7 .2 16.9 .3-9.6 .2-4.8 .3 12.4 .2 .5 .3-3.3 .2-10.3 .2 1.8 .3 12.5 .2 11.6 .3-12.7 .2 .6 .2 2.4 .3-9.2 .2 13.4 .3-11 .2 4.8 .3-5.2 .2-2.2 .2 3.3 .3-.7 .2 3.8 .3 13.1 .2-7.7 .3-5.2 .2 6.7 .2-6 .3 11.4 .2-1.7 .3-7.1 .2 2.4 .3 1.2 .2-6.6 .2-.4 .3 7 .2-4.5 .3 6 .2 6.1 .2-6.5 .3 5.6 .2 7.9 .3-13.6 .2 12.4 .3-14 .2-1.6 .2 8.9 .3-1.8 .2-7.9 .3 18 .2-2.4 .3-11.1 .2 5.3 .2 1.2 .3-7 .2 10.4 .3-10.2 .2-18.3 .2 36.8 .3-12.7 .2-.4 .3 3.8 .2-2.7 .3 18.5 .2-10.2 .2 2.8 .3 .7 .2 8.2 .3-26.9 .2 19.3 .3-3.4 .2-.1 .2 7.2 .3-3 .2-14.2 .3 12.7 .2-2.2 .3 18.8 .2-29.8 .2 17.3 .3-2.6 .2 3.5 .3-1.2 .2-14.9 .2 17.6 .3-4.1 .2-4.2 .3 11.1 .2-5.6 .3 10.8 .2-3.1 .2-13 .3 12 .2-4.4 .3 .3 .2-.3 .3 7.5 .2-10.7 .2 8 .3-11.6 .2 14.7 .3-12.2 .2 .4 .3 7.8 .2-6.2 .2 13.9 .3-13 .2 16.7 .3 3.1 .2-11.4 .2 9.3 .3-7.9 .2 13.3 .3-10.8 .2-6.2 .3 6.2 .2-4 .2 2 .3-2.8 .2 .7 .3 8.6 .2-4.9 .3 5.2 .2-6.1 .2 1.7 .3-1.9 .2 10.8 .3 2.5 .2-9.9 .2 6.2 .3-13.5 .2 1.3 .3 12.3 .2-14.3 .3 27.2 .2-10.1 .2 4.6 .3-10.4 .2-7.2 .3 3.2 .2 .4 .3 10.6 .2-10.8 .2 1.7 .3 28.4 .2-30.1 .3 3.8 .2 12.2 .3 7.1 .2-24.1 .2-4.2 .3 10.5 .2 5.7 .3-1.1 .2-2.7 .2-3.9 .3 12.9 .2-7.6 .3-.5 .2 4.5 .3 8.6 .2-7.1 .2 14.5 .3-16.7 .2 5.8 .3-15.7 .2 9.1 .3 4 .2-3.6 .2-.1 .3 1.7 .2-2.1 .3 2.9 .2 4 .2 2.1 .3-8.1 .2 5.4 .3-3.1 .2 10.3 .3 5.1 .2-8.6 .2 1.6 .3-3.6 .2 4.8 .3-3.7 .2-5.8 .3 14.8 .2 6.2 .2-9 .3-3.3 .2 3.1 .3 7.3 .2-12 .3 7.2 .2-2.8 .2-13.2 .3 10.8 .2 5.6 .3-.8 .2-2.4 .2-6.1 .3 8.9 .2-.1 .3 7.5 .2 2.4 .3-9.6 .2 6.4 .2-3.2 .3 13.3 .2-12.5 .3 12.5 .2-20.3 .3-.9 .2 10 .2-3.2 .3 8.6 .2-2.5 .3 .5 .2-8.8 .3 4.6 .2 5.3 .2-7.6 .3 3.6 .2 7.2 .3-6.8 .2 2 .2 5.8 .3-3.9 .2-10.4 .3 9.2 .2-.2 .3 2.1 .2 11.3 .2-6.1 .3-5.2 .2-4.2 .3 8.8 .2-3.4 .3 6.6 .2-5.1 .2 4.1 .3-9.7 .2 3.8 .3 1.6 .2-4.5 .2 7.1 .3-3.9 .2 .5 .3-1.5 .2 3.8 .3-8.1 .2 14.4 .2-2.3 .3 1.3 .2 4.1 .3-4.9 .2-2.7 .3 9.3 .2-8.9 .2 3.3 .3-12.2 .2 9.2 .3 3.3 .2 4 .3-.3 .2 2.8 .2-7.8 .3 .4 .2 4.6 .3-5 .2 2.5 .2 2.9 .3-26.2 .2 18.2 .3 11.1 .2-5.6 .3 8.2 .2-6.2 .2-2.5 .3 9.2 .2-4.2 .3 3.7 .2-5.1 .3-.3 .2 3 .2-2.1 .3 3.6 .2-3.9 .3 7.6 .2 2.6 .3-1.2 .2-18.5 .2 23.4 .3-15.2 .2 10.6 .3-.1 .2 3.9 .2-7.1 .3 1.3 .2 9.1 .3 .2 .2-10.7 .3 4.2 .2-2.2 .2-8.9 .3 19.7 .2-8.8 .3 4.1 .2 1.4 .3-7.5 .2 11.7 .2-7.6 .3-3.7 .2 9.6 .3-.4 .2-3.2 .2 2.9 .3 9.3 .2-4.7 .3-3.1 .2-1.6 .3 11.5 .2-14.4 .2-4.2 .3 16.4 .2-8.4 .3-8.2 .2 4.3 .3 .5 .2-3.9 .2 7.6 .3 1.1 .2 11.5 .3-8.3 .2-2.2 .3 2.4 .2 2.1 .2 4.3 .3 2 .2-16.1 .3 2.7 .2 7.6 .2 10 .3-11.7 .2 8.2 .3-7.9 .2 .3 .3 1.8 .2 8.5 .2-8.9 .3 3 .2 1.6 .3 3.2 .2-3.9 .3 4.4 .2 4.3 .2-4.1 .3-5.5 .2 1.5 .3 2.4 .2-2.4 .2-3.9 .3 1.3 .2 2.1 .3-6.5 .2 24.2 .3-9.8 .2-6.6 .2-.6 .3 10 .2-12.6 .3 2.2 .2 10.4 .3-5.2 .2 4.5 .2-2.9 .3-.1 .2-2.9 .3 5.7 .2-.8 .3 .2 .2-2.8 .2 8.2 .3-5.2 .2 2.9 .3-8.2 .2-2.1 .2 11.9 .3-6.4 .2-.6 .3 6.1 .2 4.9 .3-7.5 .2 .2 .2 3.8 .3 .7 .2-2 .3-21.5 .2 25.3 .3-12.5 .2 19.3 .2-13 .3 4.6 .2-1.1 .3 1.5 .2 11.2 .3-12.9 .2 6.3 .2-4.3 .3-1.7 .2 5.5 .3-1.8 .2-2.2 .2-3.5 .3 6.9 .2 14.3 .3-16.5 .2 3.9 .3-5.5 .2 19.4 .2-22.9 .3 4.3 .2-5.9 .3 12.3 .2-2.2 .3 1.5 .2-1.8 .2 7.6 .3-.6 .2-.7 .3-17.9 .2 8.6 .2 5 .3 3.9 .2-16.7 .3 20.5 .2-5.6 .3 6.1 .2-12.7 .2 2.1 .3-1 .2 2.2 .3-.5 .2-4.2 .3 14.4 .2-3.3 .2-6.1 .3-5.5 .2 23.4 .3-23.9 .2 5.7 .3-.6 .2 2.7 .2 5.8 .3 2.1 .2-2.3 .3-6.6 .2 11.6 .2-.2 .3-1.7 .2 7.6 .3-15.6 .2-3.5 .3 5.3 .2 1 .2 6 .3-1.8 .2-2.5 .3 7.3 .2-5.4 .3-1.9 .2-.1 .2-2.9 .3 5.2 .2-2.7 .3 3.7 .2 2.4 .3 .6 .2-3.9 .2 10.9 .3-13.6 .2 8.7 .3-2.9 .2 1.4 .2-4.1 .3-.2 .2 6.6 .3-10.4 .2 8.6 .3-7 .2-1.4 .2 8.8 .3-2.6 .2 11.4 .3-16.3 .2 8.8 .3 0 .2 .5 .2-2.6 .3-4.9 .2 10.8 .3 .3 .2-1.4 .2-.3 .3 4.4 .2-.8 .3-1 .2-5.6 .3 7.5 .2-8.1 .2 5.8 .3-5.9 .2 3.9 .3 4.5 .2-4.7 .3 5.8 .2-6 .2 9.7 .3-7.8 .2 12.3 .3-8 .2-3.1 .3-4.5 .2 3.3 .2 10.7 .3-13.9 .2-1.1 .3 8.4 .2 4.4 .2-6.9 .3-1.9 .2 3 .3-1.1 .2 7.5 .3 3.4 .2-8.6 .2-2.8 .3-1.4 .2-2.2 .3 7.4 .2-6.3 .3 10 .2-4 .2-1.8 .3 9.4 .2-13.6 .3 11.6 .2-3.3 .2 .8 .3-1 .2-4.7 .3 7.7 .2 2.7 .3-13.8 .2 9.3 .2-.7 .3-.7 .2 3.2 .3-2.4 .2-.8 .3 7.1 .2-9.2 .2 2.6 .3 .1 .2-1.5 .3 1.3 .2 17.4 .3-18.4 .2 14.5 .2-17.4 .3-3.4 .2 7.5 .3-2.3 .2 10.9 .2-3.2 .3-6.4 .2 3.9 .3-.3 .2 12.7 .3-10.4 .2 .6 .2 1.3 .3-1.1 .2-.8 .3-3.5 .2 4.2 .3 .6 .2-6.4 .2 6.2 .3-5.5 .2-1.7 .3 7 .2 2.7 .3 1.9 .2-6.2 .2-3.7 .3 2.6 .2 2.8 .3 .8 .2 2.6 .2-2.6 .3 5.4 .2-11.3 .3 11.9 .2-1.9 .3-.9 .2 .7" fill="none" stroke="#a655d4" stroke-width="1.9" stroke-linejoin="round" clip-path="url(#cpl3)"/>
<rect x="966.6" y="1646.6" width="435.8" height="351" fill="none" stroke="#000" stroke-width="1.9"/>
<path d="M966.6 1997.6v8M1053.8 1997.6v8M1140.9 1997.6v8M1228.1 1997.6v8M1315.2 1997.6v8M1402.4 1997.6v8M1010.2 1997.6v4.5M1097.3 1997.6v4.5M1184.5 1997.6v4.5M1271.7 1997.6v4.5M1358.8 1997.6v4.5M966.6 1928.6h-7.5M966.6 1858.1h-7.5M966.6 1787.6h-7.5M966.6 1717.1h-7.5M966.6 1646.6h-7.5M966.6 1963.8h-4M966.6 1893.3h-4M966.6 1822.8h-4M966.6 1752.3h-4M966.6 1681.8h-4" stroke="#000" stroke-width="1.7" fill="none"/>
<text x="966.6" y="2028.4" font-size="23.3" text-anchor="middle" font-family="'Liberation Sans', Arial, sans-serif" >550</text>
<text x="1053.8" y="2028.4" font-size="23.3" text-anchor="middle" font-family="'Liberation Sans', Arial, sans-serif" >600</text>
<text x="1140.9" y="2028.4" font-size="23.3" text-anchor="middle" font-family="'Liberation Sans', Arial, sans-serif" >650</text>
<text x="1228.1" y="2028.4" font-size="23.3" text-anchor="middle" font-family="'Liberation Sans', Arial, sans-serif" >700</text>
<text x="1315.2" y="2028.4" font-size="23.3" text-anchor="middle" font-family="'Liberation Sans', Arial, sans-serif" >750</text>
<text x="1402.4" y="2028.4" font-size="23.3" text-anchor="middle" font-family="'Liberation Sans', Arial, sans-serif" >800</text>
<text x="954.9" y="1936.1" font-size="23.3" text-anchor="end" font-family="'Liberation Sans', Arial, sans-serif" >100</text>
<text x="954.9" y="1865.6" font-size="23.3" text-anchor="end" font-family="'Liberation Sans', Arial, sans-serif" >200</text>
<text x="954.9" y="1795.1" font-size="23.3" text-anchor="end" font-family="'Liberation Sans', Arial, sans-serif" >300</text>
<text x="954.9" y="1724.6" font-size="23.3" text-anchor="end" font-family="'Liberation Sans', Arial, sans-serif" >400</text>
<text x="954.9" y="1654.1" font-size="23.3" text-anchor="end" font-family="'Liberation Sans', Arial, sans-serif" >500</text>
<text x="1184.5" y="2071" font-size="30.2" text-anchor="middle" font-family="'Liberation Sans', Arial, sans-serif" >Wavelength, nm</text>
<text transform="translate(899,1909.6) rotate(-90)" font-size="30.2" text-anchor="start" font-family="'Liberation Sans', Arial, sans-serif">Intensity, a.u.</text>
<clipPath id="clt0"><rect x="1537.8" y="115.2" width="437.20000000000005" height="350.6"/></clipPath>
<path d="M1557.7 151.8h0M1557.9 159.5h0M1558.1 144.3h0M1558.2 143.8h0M1558.4 147.5h0M1558.6 148.4h0M1558.8 140.5h0M1558.9 140.7h0M1559.1 141.1h0M1559.3 141.5h0M1559.5 138.4h0M1559.6 131.2h0M1559.8 131.1h0M1560.0 127.9h0M1560.2 130.5h0M1560.4 124.9h0M1560.5 121.7h0M1560.7 129.7h0M1560.9 133.8h0M1561.1 129.2h0M1561.2 135.6h0M1561.4 127.2h0M1561.6 130.3h0M1561.8 128.8h0M1561.9 129.8h0M1562.1 133.2h0M1562.3 134.1h0M1562.5 134.5h0M1562.6 127.9h0M1562.8 135.3h0M1563.0 132.4h0M1563.2 134.3h0M1563.4 132.1h0M1563.5 141.4h0M1563.7 134.7h0M1563.9 138.4h0M1564.1 138.6h0M1564.2 131.5h0M1564.4 139.6h0M1564.6 138.6h0M1564.8 143.4h0M1564.9 151.2h0M1565.1 137.9h0M1565.3 136.0h0M1565.5 137.2h0M1565.7 141.3h0M1565.8 131.7h0M1566.0 146.7h0M1566.2 134.2h0M1566.4 141.1h0M1566.5 140.6h0M1566.7 151.7h0M1566.9 147.7h0M1567.1 140.1h0M1567.2 148.3h0M1567.4 146.9h0M1567.6 142.6h0M1567.8 152.2h0M1568.0 144.6h0M1568.1 146.4h0M1568.3 143.5h0M1568.5 139.1h0M1568.7 148.6h0M1568.8 148.0h0M1569.0 146.4h0M1569.2 142.9h0M1569.4 145.9h0M1569.5 150.4h0M1569.7 147.9h0M1569.9 152.6h0M1570.1 154.5h0M1570.2 144.8h0M1570.4 152.4h0M1570.6 151.5h0M1570.8 155.5h0M1571.0 152.8h0M1571.1 155.1h0M1571.3 158.8h0M1571.5 147.9h0M1571.7 154.2h0M1571.8 151.3h0M1572.0 149.9h0M1572.2 155.7h0M1572.4 151.0h0M1572.5 154.5h0M1572.7 156.0h0M1572.9 153.0h0M1573.1 152.9h0M1573.3 166.3h0M1573.4 150.4h0M1573.6 154.9h0M1573.8 154.6h0M1574.0 154.9h0M1574.1 154.4h0M1574.3 161.5h0M1574.5 157.3h0M1574.7 155.4h0M1574.8 158.0h0M1575.0 155.4h0M1575.2 162.2h0M1575.4 164.7h0M1575.6 163.7h0M1575.7 155.2h0M1575.9 156.1h0M1576.1 156.6h0M1576.3 165.3h0M1576.4 161.8h0M1576.6 168.5h0M1576.8 171.6h0M1577.0 167.0h0M1577.1 159.1h0M1577.3 162.3h0M1577.5 161.2h0M1577.7 168.8h0M1577.8 163.8h0M1578.0 161.6h0M1578.2 160.9h0M1578.4 167.4h0M1578.6 162.6h0M1578.7 163.3h0M1578.9 160.4h0M1579.1 166.2h0M1579.3 163.6h0M1579.4 158.7h0M1579.6 168.6h0M1579.8 167.4h0M1580.0 164.8h0M1580.1 165.0h0M1580.3 170.3h0M1580.5 171.3h0M1580.7 170.6h0M1580.9 172.4h0M1581.0 169.2h0M1581.2 166.8h0M1581.4 170.2h0M1581.6 168.5h0M1581.7 174.9h0M1581.9 173.0h0M1582.1 169.8h0M1582.3 172.4h0M1582.4 173.0h0M1582.6 179.6h0M1582.8 175.7h0M1583.0 180.3h0M1583.2 174.4h0M1583.3 177.0h0M1583.5 178.2h0M1583.7 174.3h0M1583.9 180.5h0M1584.0 174.5h0M1584.2 170.8h0M1584.4 179.1h0M1584.6 177.9h0M1584.7 181.0h0M1584.9 176.5h0M1585.1 173.7h0M1585.3 181.0h0M1585.4 167.4h0M1585.6 177.1h0M1585.8 174.8h0M1586.0 178.6h0M1586.2 177.7h0M1586.3 187.4h0M1586.5 180.3h0M1586.7 181.8h0M1586.9 177.2h0M1587.0 184.0h0M1587.2 182.6h0M1587.4 176.1h0M1587.6 175.0h0M1587.7 180.3h0M1587.9 188.2h0M1588.1 180.0h0M1588.3 188.6h0M1588.5 189.1h0M1588.6 185.8h0M1588.8 181.1h0M1589.0 189.4h0M1589.2 183.8h0M1589.3 181.7h0M1589.5 189.9h0M1589.7 179.2h0M1589.9 193.1h0M1590.0 186.1h0M1590.2 183.8h0M1590.4 187.2h0M1590.6 185.4h0M1590.8 185.5h0M1590.9 190.7h0M1591.1 186.3h0M1591.3 193.3h0M1591.5 202.5h0M1591.6 187.1h0M1591.8 188.0h0M1592.0 190.0h0M1592.2 190.4h0M1592.3 191.9h0M1592.5 187.4h0M1592.7 189.0h0M1592.9 192.1h0M1593.0 191.1h0M1593.2 189.0h0M1593.4 194.3h0M1593.6 192.8h0M1593.8 187.6h0M1593.9 185.2h0M1594.1 194.3h0M1594.3 193.4h0M1594.5 194.0h0M1594.6 189.3h0M1594.8 196.5h0M1595.0 189.3h0M1595.2 195.4h0M1595.3 191.2h0M1595.5 201.4h0M1595.7 185.2h0M1595.9 205.7h0M1596.1 194.2h0M1596.2 193.5h0M1596.4 202.3h0M1596.6 192.7h0M1596.8 194.3h0M1596.9 194.4h0M1597.1 198.0h0M1597.3 199.4h0M1597.5 185.3h0M1597.6 200.2h0M1597.8 194.8h0M1598.0 193.8h0M1598.2 195.5h0M1598.4 195.5h0M1598.5 194.7h0M1598.7 196.0h0M1598.9 191.9h0M1599.1 202.8h0M1599.2 202.5h0M1599.4 197.3h0M1599.6 203.1h0M1599.8 197.5h0M1599.9 196.3h0M1600.1 195.8h0M1600.3 205.2h0M1600.5 192.6h0M1600.7 201.7h0M1600.8 206.1h0M1601.0 204.7h0M1601.2 207.0h0M1601.4 214.3h0M1601.5 206.9h0M1601.7 197.8h0M1601.9 204.3h0M1602.1 195.1h0M1602.2 217.1h0M1602.4 200.5h0M1602.6 200.4h0M1602.8 194.9h0M1602.9 206.8h0M1603.1 207.8h0M1603.3 199.0h0M1603.5 208.7h0M1603.7 195.5h0M1603.8 207.3h0M1604.0 212.9h0M1604.2 209.1h0M1604.4 206.4h0M1604.5 213.2h0M1604.7 200.4h0M1604.9 221.8h0M1605.1 199.6h0M1605.2 193.8h0M1605.4 215.1h0M1605.6 213.3h0M1605.8 209.7h0M1606.0 212.1h0M1606.1 203.6h0M1606.3 203.7h0M1606.5 214.3h0M1606.7 206.4h0M1606.8 206.5h0M1607.0 209.1h0M1607.2 213.8h0M1607.4 219.5h0M1607.5 218.9h0M1607.7 206.0h0M1607.9 211.8h0M1608.1 210.3h0M1608.3 216.4h0M1608.4 222.1h0M1608.6 216.8h0M1608.8 214.1h0M1609.0 212.0h0M1609.1 209.9h0M1609.3 214.6h0M1609.5 211.2h0M1609.7 213.2h0M1609.8 214.6h0M1610.0 209.4h0M1610.2 219.9h0M1610.4 216.7h0M1610.5 215.1h0M1610.7 225.9h0M1610.9 211.2h0M1611.1 216.6h0M1611.3 212.2h0M1611.4 215.2h0M1611.6 220.0h0M1611.8 219.3h0M1612.0 210.7h0M1612.1 220.0h0M1612.3 218.5h0M1612.5 217.1h0M1612.7 222.6h0M1612.8 220.7h0M1613.0 231.2h0M1613.2 229.6h0M1613.4 222.1h0M1613.6 219.4h0M1613.7 215.9h0M1613.9 222.1h0M1614.1 219.0h0M1614.3 214.7h0M1614.4 216.9h0M1614.6 215.0h0M1614.8 213.2h0M1615.0 212.8h0M1615.1 215.9h0M1615.3 214.9h0M1615.5 224.6h0M1615.7 212.7h0M1615.9 217.2h0M1616.0 220.5h0M1616.2 234.8h0M1616.4 236.4h0M1616.6 231.1h0M1616.7 232.1h0M1616.9 226.0h0M1617.1 228.0h0M1617.3 220.3h0M1617.4 217.3h0M1617.6 223.4h0M1617.8 212.4h0M1618.0 225.4h0M1618.1 217.8h0M1618.3 225.0h0M1618.5 233.2h0M1618.7 227.9h0M1618.9 216.8h0M1619.0 226.3h0M1619.2 217.5h0M1619.4 228.3h0M1619.6 221.1h0M1619.7 222.1h0M1619.9 231.6h0M1620.1 238.2h0M1620.3 227.1h0M1620.4 234.3h0M1620.6 227.0h0M1620.8 230.8h0M1621.0 226.2h0M1621.2 221.6h0M1621.3 222.4h0M1621.5 234.4h0M1621.7 230.3h0M1621.9 234.3h0M1622.0 226.3h0M1622.2 241.2h0M1622.4 234.1h0M1622.6 224.9h0M1622.7 229.9h0M1622.9 233.2h0M1623.1 224.3h0M1623.3 233.5h0M1623.5 233.5h0M1623.6 237.8h0M1623.8 241.1h0M1624.0 227.4h0M1624.2 228.2h0M1624.3 233.4h0M1624.5 233.6h0M1624.7 231.9h0M1624.9 229.0h0M1625.0 236.2h0M1625.2 234.7h0M1625.4 232.2h0M1625.6 235.3h0M1625.7 235.0h0M1625.9 230.0h0M1626.1 237.2h0M1626.3 241.0h0M1626.5 251.1h0M1626.6 233.1h0M1626.8 228.4h0M1627.0 225.8h0M1627.2 232.7h0M1627.3 235.6h0M1627.5 228.4h0M1627.7 220.0h0M1627.9 242.1h0M1628.0 229.3h0M1628.2 242.7h0M1628.4 239.0h0M1628.6 241.1h0M1628.8 232.2h0M1628.9 241.0h0M1629.1 231.7h0M1629.3 235.5h0M1629.5 228.7h0M1629.6 239.1h0M1629.8 236.2h0M1630.0 240.4h0M1630.2 239.9h0M1630.3 241.3h0M1630.5 241.2h0M1630.7 234.6h0M1630.9 237.3h0M1631.1 235.6h0M1631.2 234.4h0M1631.4 252.2h0M1631.6 242.9h0M1631.8 232.4h0M1631.9 237.7h0M1632.1 242.9h0M1632.3 248.0h0M1632.5 238.5h0M1632.6 250.2h0M1632.8 241.0h0M1633.0 241.4h0M1633.2 247.4h0M1633.3 219.5h0M1633.5 241.0h0M1633.7 247.7h0M1633.9 245.1h0M1634.1 238.2h0M1634.2 250.2h0M1634.4 240.8h0M1634.6 248.8h0M1634.8 233.8h0M1634.9 231.8h0M1635.1 243.0h0M1635.3 238.6h0M1635.5 235.3h0M1635.6 244.6h0M1635.8 240.6h0M1636.0 236.0h0M1636.2 245.2h0M1636.4 248.7h0M1636.5 254.9h0M1636.7 244.8h0M1636.9 250.7h0M1637.1 242.2h0M1637.2 235.5h0M1637.4 244.1h0M1637.6 243.5h0M1637.8 241.7h0M1637.9 235.7h0M1638.1 249.2h0M1638.3 246.1h0M1638.5 244.5h0M1638.7 247.3h0M1638.8 248.5h0M1639.0 239.7h0M1639.2 244.6h0M1639.4 239.1h0M1639.5 248.8h0M1639.7 237.8h0M1639.9 238.5h0M1640.1 253.8h0M1640.2 240.8h0M1640.4 255.6h0M1640.6 244.7h0M1640.8 236.4h0M1640.9 244.8h0M1641.1 251.0h0M1641.3 261.9h0M1641.5 247.7h0M1641.7 251.4h0M1641.8 248.7h0M1642.0 248.4h0M1642.2 254.8h0M1642.4 250.9h0M1642.5 252.2h0M1642.7 244.8h0M1642.9 246.1h0M1643.1 247.8h0M1643.2 261.0h0M1643.4 247.2h0M1643.6 250.8h0M1643.8 253.8h0M1644.0 245.5h0M1644.1 245.2h0M1644.3 253.6h0M1644.5 244.9h0M1644.7 252.4h0M1644.8 261.7h0M1645.0 255.1h0M1645.2 246.0h0M1645.4 253.3h0M1645.5 244.9h0M1645.7 254.3h0M1645.9 264.4h0M1646.1 263.4h0M1646.3 261.0h0M1646.4 254.7h0M1646.6 246.4h0M1646.8 254.6h0M1647.0 245.5h0M1647.1 253.1h0M1647.3 252.0h0M1647.5 267.0h0M1647.7 256.8h0M1647.8 253.2h0M1648.0 253.1h0M1648.2 253.9h0M1648.4 249.6h0M1648.5 257.5h0M1648.7 257.4h0M1648.9 251.3h0M1649.1 251.0h0M1649.3 261.3h0M1649.4 257.8h0M1649.6 251.1h0M1649.8 253.8h0M1650.0 259.9h0M1650.1 247.0h0M1650.3 252.8h0M1650.5 249.6h0M1650.7 258.0h0M1650.8 252.7h0M1651.0 261.7h0M1651.2 258.2h0M1651.4 247.5h0M1651.6 256.9h0M1651.7 269.2h0M1651.9 254.6h0M1652.1 262.6h0M1652.3 257.6h0M1652.4 262.2h0M1652.6 267.6h0M1652.8 268.5h0M1653.0 255.5h0M1653.1 268.1h0M1653.3 250.5h0M1653.5 252.9h0M1653.7 257.0h0M1653.9 263.9h0M1654.0 256.9h0M1654.2 266.6h0M1654.4 254.8h0M1654.6 254.2h0M1654.7 260.7h0M1654.9 261.9h0M1655.1 247.7h0M1655.3 271.7h0M1655.4 260.6h0M1655.6 263.5h0M1655.8 259.6h0M1656.0 261.0h0M1656.1 264.8h0M1656.3 267.0h0M1656.5 253.2h0M1656.7 249.2h0M1656.9 259.9h0M1657.0 258.1h0M1657.2 258.4h0M1657.4 270.8h0M1657.6 250.8h0M1657.7 257.4h0M1657.9 268.7h0M1658.1 261.7h0M1658.3 258.7h0M1658.4 253.3h0M1658.6 267.0h0M1658.8 269.1h0M1659.0 267.5h0M1659.2 262.3h0M1659.3 272.9h0M1659.5 256.4h0M1659.7 260.7h0M1659.9 271.1h0M1660.0 275.7h0M1660.2 268.5h0M1660.4 271.3h0M1660.6 264.7h0M1660.7 263.1h0M1660.9 259.2h0M1661.1 269.5h0M1661.3 259.2h0M1661.5 261.5h0M1661.6 262.3h0M1661.8 275.5h0M1662.0 264.3h0M1662.2 269.2h0M1662.3 277.8h0M1662.5 272.4h0M1662.7 280.8h0M1662.9 272.0h0M1663.0 265.3h0M1663.2 266.8h0M1663.4 272.8h0M1663.6 275.7h0M1663.8 267.3h0M1663.9 271.0h0M1664.1 271.3h0M1664.3 273.2h0M1664.5 270.3h0M1664.6 272.2h0M1664.8 269.5h0M1665.0 273.7h0M1665.2 269.8h0M1665.3 277.7h0M1665.5 268.1h0M1665.7 264.7h0M1665.9 270.9h0M1666.0 271.5h0M1666.2 274.4h0M1666.4 274.0h0M1666.6 275.3h0M1666.8 276.0h0M1666.9 273.9h0M1667.1 259.9h0M1667.3 270.2h0M1667.5 273.8h0M1667.6 280.9h0M1667.8 279.8h0M1668.0 284.1h0M1668.2 269.7h0M1668.3 278.7h0M1668.5 269.6h0M1668.7 270.2h0M1668.9 268.3h0M1669.1 273.7h0M1669.2 267.9h0M1669.4 277.4h0M1669.6 271.7h0M1669.8 279.7h0M1669.9 283.9h0M1670.1 276.5h0M1670.3 278.2h0M1670.5 268.0h0M1670.6 268.5h0M1670.8 261.2h0M1671.0 278.7h0M1671.2 274.9h0M1671.4 276.2h0M1671.5 280.7h0M1671.7 281.7h0M1671.9 269.9h0M1672.1 267.6h0M1672.2 269.8h0M1672.4 278.0h0M1672.6 273.3h0M1672.8 268.7h0M1672.9 286.5h0M1673.1 282.1h0M1673.3 274.8h0M1673.5 264.0h0M1673.6 290.5h0M1673.8 272.0h0M1674.0 268.5h0M1674.2 271.0h0M1674.4 274.2h0M1674.5 273.8h0M1674.7 272.8h0M1674.9 278.5h0M1675.1 272.1h0M1675.2 277.7h0M1675.4 279.8h0M1675.6 270.4h0M1675.8 272.6h0M1675.9 280.4h0M1676.1 278.6h0M1676.3 292.2h0M1676.5 284.2h0M1676.7 273.1h0M1676.8 284.8h0M1677.0 281.5h0M1677.2 277.7h0M1677.4 272.9h0M1677.5 276.9h0M1677.7 275.8h0M1677.9 281.0h0M1678.1 277.5h0M1678.2 277.4h0M1678.4 270.1h0M1678.6 273.0h0M1678.8 277.3h0M1679.0 281.1h0M1679.1 285.8h0M1679.3 286.1h0M1679.5 285.0h0M1679.7 292.5h0M1679.8 278.8h0M1680.0 283.0h0M1680.2 282.6h0M1680.4 274.6h0M1680.5 280.4h0M1680.7 286.2h0M1680.9 290.7h0M1681.1 271.2h0M1681.2 268.0h0M1681.4 271.1h0M1681.6 280.2h0M1681.8 287.8h0M1682.0 275.3h0M1682.1 281.5h0M1682.3 282.9h0M1682.5 267.8h0M1682.7 288.7h0M1682.8 271.2h0M1683.0 272.1h0M1683.2 286.4h0M1683.4 279.1h0M1683.5 275.0h0M1683.7 297.2h0M1683.9 276.3h0M1684.1 275.6h0M1684.3 276.9h0M1684.4 283.9h0M1684.6 279.6h0M1684.8 287.9h0M1685.0 276.1h0M1685.1 289.7h0M1685.3 288.1h0M1685.5 277.3h0M1685.7 275.6h0M1685.8 293.5h0M1686.0 286.9h0M1686.2 280.7h0M1686.4 284.2h0M1686.6 280.2h0M1686.7 283.0h0M1686.9 296.9h0M1687.1 280.1h0M1687.3 285.9h0M1687.4 277.6h0M1687.6 282.1h0M1687.8 281.8h0M1688.0 285.0h0M1688.1 280.6h0M1688.3 288.3h0M1688.5 270.5h0M1688.7 293.6h0M1688.8 283.7h0M1689.0 281.9h0M1689.2 289.2h0M1689.4 296.3h0M1689.6 281.1h0M1689.7 293.0h0M1689.9 298.2h0M1690.1 277.1h0M1690.3 278.5h0M1690.4 294.0h0M1690.6 283.4h0M1690.8 295.6h0M1691.0 287.7h0M1691.1 284.7h0M1691.3 295.1h0M1691.5 282.8h0M1691.7 291.4h0M1691.9 288.3h0M1692.0 297.4h0M1692.2 286.4h0M1692.4 284.8h0M1692.6 294.0h0M1692.7 301.0h0M1692.9 293.9h0M1693.1 294.3h0M1693.3 293.1h0M1693.4 274.2h0M1693.6 280.6h0M1693.8 281.0h0M1694.0 279.2h0M1694.2 289.8h0M1694.3 295.6h0M1694.5 282.6h0M1694.7 298.0h0M1694.9 287.3h0M1695.0 301.8h0M1695.2 293.1h0M1695.4 300.0h0M1695.6 289.1h0M1695.7 299.5h0M1695.9 293.3h0M1696.1 282.3h0M1696.3 284.1h0M1696.4 288.9h0M1696.6 307.1h0M1696.8 282.2h0M1697.0 300.5h0M1697.2 286.5h0M1697.3 298.7h0M1697.5 297.9h0M1697.7 283.1h0M1697.9 291.3h0M1698.0 292.5h0M1698.2 291.3h0M1698.4 283.0h0M1698.6 283.7h0M1698.7 291.6h0M1698.9 291.1h0M1699.1 288.0h0M1699.3 278.3h0M1699.5 285.0h0M1699.6 297.4h0M1699.8 286.0h0M1700.0 290.9h0M1700.2 291.7h0M1700.3 313.8h0M1700.5 295.2h0M1700.7 281.9h0M1700.9 302.2h0M1701.0 291.5h0M1701.2 293.5h0M1701.4 289.1h0M1701.6 296.2h0M1701.8 298.2h0M1701.9 291.0h0M1702.1 296.5h0M1702.3 292.1h0M1702.5 297.3h0M1702.6 278.7h0M1702.8 302.3h0M1703.0 297.2h0M1703.2 297.1h0M1703.3 303.9h0M1703.5 308.4h0M1703.7 294.6h0M1703.9 286.8h0M1704.0 294.9h0M1704.2 303.3h0M1704.4 305.5h0M1704.6 304.5h0M1704.8 300.2h0M1704.9 298.0h0M1705.1 304.4h0M1705.3 296.3h0M1705.5 310.2h0M1705.6 298.3h0M1705.8 300.0h0M1706.0 295.0h0M1706.2 309.2h0M1706.3 296.5h0M1706.5 294.9h0M1706.7 301.9h0M1706.9 298.5h0M1707.1 298.5h0M1707.2 310.8h0M1707.4 294.3h0M1707.6 292.3h0M1707.8 296.3h0M1707.9 285.4h0M1708.1 285.7h0M1708.3 307.4h0M1708.5 302.0h0M1708.6 305.0h0M1708.8 313.3h0M1709.0 308.6h0M1709.2 305.4h0M1709.4 295.2h0M1709.5 298.4h0M1709.7 312.6h0M1709.9 297.5h0M1710.1 318.9h0M1710.2 312.1h0M1710.4 308.3h0M1710.6 295.8h0M1710.8 306.9h0M1710.9 301.1h0M1711.1 296.5h0M1711.3 298.5h0M1711.5 298.5h0M1711.6 310.8h0M1711.8 310.3h0M1712.0 294.3h0M1712.2 316.5h0M1712.4 297.9h0M1712.5 300.0h0M1712.7 302.9h0M1712.9 292.6h0M1713.1 303.3h0M1713.2 295.3h0M1713.4 298.6h0M1713.6 301.5h0M1713.8 299.8h0M1713.9 313.7h0M1714.1 298.4h0M1714.3 314.1h0M1714.5 308.0h0M1714.7 309.3h0M1714.8 301.7h0M1715.0 293.8h0M1715.2 303.8h0M1715.4 292.2h0M1715.5 307.8h0M1715.7 312.4h0M1715.9 298.5h0M1716.1 311.4h0M1716.2 304.9h0M1716.4 301.4h0M1716.6 312.2h0M1716.8 305.7h0M1717.0 313.1h0M1717.1 307.0h0M1717.3 309.3h0M1717.5 320.4h0M1717.7 317.3h0M1717.8 308.7h0M1718.0 316.3h0M1718.2 308.6h0M1718.4 313.3h0M1718.5 310.9h0M1718.7 309.5h0M1718.9 299.3h0M1719.1 329.1h0M1719.2 313.1h0M1719.4 308.4h0M1719.6 302.1h0M1719.8 322.0h0M1720.0 325.1h0M1720.1 308.7h0M1720.3 305.1h0M1720.5 303.7h0M1720.7 322.8h0M1720.8 308.6h0M1721.0 302.8h0M1721.2 316.1h0M1721.4 311.3h0M1721.5 303.1h0M1721.7 313.1h0M1721.9 318.0h0M1722.1 313.5h0M1722.3 311.1h0M1722.4 311.6h0M1722.6 304.2h0M1722.8 321.9h0M1723.0 303.7h0M1723.1 307.7h0M1723.3 301.9h0M1723.5 303.2h0M1723.7 313.2h0M1723.8 302.7h0M1724.0 300.1h0M1724.2 309.4h0M1724.4 318.5h0M1724.6 304.8h0M1724.7 296.7h0M1724.9 317.9h0M1725.1 308.8h0M1725.3 316.3h0M1725.4 311.5h0M1725.6 318.8h0M1725.8 298.6h0M1726.0 309.1h0M1726.1 305.4h0M1726.3 306.3h0M1726.5 312.7h0M1726.7 324.3h0M1726.8 312.2h0M1727.0 315.5h0M1727.2 314.5h0M1727.4 292.6h0M1727.6 308.3h0M1727.7 310.6h0M1727.9 316.8h0M1728.1 303.8h0M1728.3 328.3h0M1728.4 317.7h0M1728.6 311.4h0M1728.8 312.8h0M1729.0 296.4h0M1729.1 309.4h0M1729.3 303.1h0M1729.5 289.2h0M1729.7 313.6h0M1729.9 307.9h0M1730.0 313.0h0M1730.2 299.1h0M1730.4 310.6h0M1730.6 310.6h0M1730.7 317.8h0M1730.9 308.2h0M1731.1 304.1h0M1731.3 299.8h0M1731.4 324.9h0M1731.6 304.1h0M1731.8 319.6h0M1732.0 303.6h0M1732.2 328.0h0M1732.3 315.0h0M1732.5 319.5h0M1732.7 308.8h0M1732.9 311.1h0M1733.0 309.2h0M1733.2 340.0h0M1733.4 318.3h0M1733.6 315.3h0M1733.7 314.8h0M1733.9 301.5h0M1734.1 305.9h0M1734.3 314.7h0M1734.5 324.3h0M1734.6 312.2h0M1734.8 318.6h0M1735.0 305.7h0M1735.2 324.2h0M1735.3 306.6h0M1735.5 314.5h0M1735.7 310.7h0M1735.9 303.4h0M1736.0 313.0h0M1736.2 327.8h0M1736.4 318.8h0M1736.6 318.8h0M1736.7 310.5h0M1736.9 304.1h0M1737.1 313.7h0M1737.3 301.9h0M1737.5 316.1h0M1737.6 315.6h0M1737.8 314.6h0M1738.0 320.0h0M1738.2 324.2h0M1738.3 307.5h0M1738.5 326.8h0M1738.7 317.9h0M1738.9 335.8h0M1739.0 337.0h0M1739.2 327.7h0M1739.4 321.3h0M1739.6 315.3h0M1739.8 309.5h0M1739.9 320.2h0M1740.1 302.3h0M1740.3 311.8h0M1740.5 319.1h0M1740.6 312.7h0M1740.8 308.0h0M1741.0 316.5h0M1741.2 316.5h0M1741.3 320.0h0M1741.5 322.0h0M1741.7 339.4h0M1741.9 335.8h0M1742.1 309.2h0M1742.2 329.4h0M1742.4 317.3h0M1742.6 323.4h0M1742.8 319.7h0M1742.9 319.7h0M1743.1 310.9h0M1743.3 325.4h0M1743.5 321.7h0M1743.6 328.6h0M1743.8 315.5h0M1744.0 322.1h0M1744.2 313.5h0M1744.3 313.5h0M1744.5 326.2h0M1744.7 331.2h0M1744.9 318.3h0M1745.1 314.9h0M1745.2 299.5h0M1745.4 323.4h0M1745.6 318.7h0M1745.8 334.4h0M1745.9 319.7h0M1746.1 316.7h0M1746.3 333.8h0M1746.5 333.7h0M1746.6 313.2h0M1746.8 324.2h0M1747.0 325.8h0M1747.2 318.5h0M1747.4 335.3h0M1747.5 309.3h0M1747.7 324.1h0M1747.9 321.9h0M1748.1 334.6h0M1748.2 328.9h0M1748.4 323.4h0M1748.6 329.9h0M1748.8 321.3h0M1748.9 323.3h0M1749.1 326.0h0M1749.3 333.2h0M1749.5 325.4h0M1749.7 332.0h0M1749.8 308.9h0M1750.0 321.1h0M1750.2 328.0h0M1750.4 318.5h0M1750.5 315.0h0M1750.7 324.6h0M1750.9 317.4h0M1751.1 325.1h0M1751.2 310.6h0M1751.4 325.0h0M1751.6 314.3h0M1751.8 341.1h0M1751.9 317.2h0M1752.1 330.4h0M1752.3 318.2h0M1752.5 311.3h0M1752.7 322.7h0M1752.8 327.0h0M1753.0 345.3h0M1753.2 319.0h0M1753.4 322.1h0M1753.5 319.5h0M1753.7 340.1h0M1753.9 333.5h0M1754.1 336.4h0M1754.2 319.9h0M1754.4 327.2h0M1754.6 342.4h0M1754.8 320.3h0M1755.0 341.1h0M1755.1 324.4h0M1755.3 333.8h0M1755.5 335.0h0M1755.7 320.2h0M1755.8 329.2h0M1756.0 325.9h0M1756.2 334.9h0M1756.4 342.1h0M1756.5 333.0h0M1756.7 332.4h0M1756.9 323.1h0M1757.1 325.7h0M1757.3 325.1h0M1757.4 315.9h0M1757.6 321.4h0M1757.8 343.1h0M1758.0 330.5h0M1758.1 325.0h0M1758.3 327.7h0M1758.5 316.7h0M1758.7 323.9h0M1758.8 335.6h0M1759.0 317.6h0M1759.2 324.8h0M1759.4 348.6h0M1759.5 334.3h0M1759.7 324.7h0M1759.9 320.5h0M1760.1 332.4h0M1760.3 344.5h0M1760.4 328.4h0M1760.6 325.1h0M1760.8 321.9h0M1761.0 333.4h0M1761.1 318.3h0M1761.3 332.8h0M1761.5 312.4h0M1761.7 350.2h0M1761.8 338.0h0M1762.0 341.1h0M1762.2 326.5h0M1762.4 333.2h0M1762.6 336.7h0M1762.7 334.3h0M1762.9 317.1h0M1763.1 329.1h0M1763.3 326.3h0M1763.4 334.8h0M1763.6 336.5h0M1763.8 333.5h0M1764.0 330.7h0M1764.1 323.0h0M1764.3 326.7h0M1764.5 339.4h0M1764.7 336.3h0M1764.9 336.9h0M1765.0 346.9h0M1765.2 342.4h0M1765.4 327.1h0M1765.6 335.0h0M1765.7 337.9h0M1765.9 334.3h0M1766.1 320.6h0M1766.3 336.1h0M1766.4 332.5h0M1766.6 321.6h0M1766.8 350.6h0M1767.0 331.9h0M1767.1 332.4h0M1767.3 337.1h0M1767.5 326.8h0M1767.7 330.1h0M1767.9 341.3h0M1768.0 334.6h0M1768.2 336.9h0M1768.4 329.9h0M1768.6 341.1h0M1768.7 369.5h0M1768.9 343.0h0M1769.1 338.0h0M1769.3 340.4h0M1769.4 357.0h0M1769.6 326.4h0M1769.8 324.8h0M1770.0 340.3h0M1770.2 356.2h0M1770.3 337.2h0M1770.5 342.0h0M1770.7 338.9h0M1770.9 339.5h0M1771.0 336.5h0M1771.2 338.2h0M1771.4 328.4h0M1771.6 324.5h0M1771.7 332.2h0M1771.9 336.3h0M1772.1 334.5h0M1772.3 333.9h0M1772.5 351.5h0M1772.6 328.2h0M1772.8 332.1h0M1773.0 350.8h0M1773.2 332.0h0M1773.3 352.7h0M1773.5 340.3h0M1773.7 336.0h0M1773.9 340.8h0M1774.0 345.9h0M1774.2 327.4h0M1774.4 331.3h0M1774.6 340.7h0M1774.7 329.0h0M1774.9 357.4h0M1775.1 342.5h0M1775.3 333.4h0M1775.5 331.7h0M1775.6 336.9h0M1775.8 343.0h0M1776.0 335.1h0M1776.2 341.1h0M1776.3 341.1h0M1776.5 336.2h0M1776.7 341.0h0M1776.9 339.1h0M1777.0 329.2h0M1777.2 333.7h0M1777.4 359.1h0M1777.6 340.2h0M1777.8 337.2h0M1777.9 339.6h0M1778.1 335.3h0M1778.3 343.9h0M1778.5 351.1h0M1778.6 331.8h0M1778.8 332.3h0M1779.0 332.3h0M1779.2 340.6h0M1779.3 337.5h0M1779.5 336.3h0M1779.7 341.1h0M1779.9 333.9h0M1780.1 351.5h0M1780.2 333.2h0M1780.4 329.8h0M1780.6 334.3h0M1780.8 345.4h0M1780.9 351.4h0M1781.1 342.1h0M1781.3 343.4h0M1781.5 341.5h0M1781.6 341.4h0M1781.8 345.2h0M1782.0 339.5h0M1782.2 336.5h0M1782.3 358.9h0M1782.5 342.5h0M1782.7 335.2h0M1782.9 346.3h0M1783.1 358.8h0M1783.2 371.2h0M1783.4 333.9h0M1783.6 333.9h0M1783.8 355.7h0M1783.9 346.8h0M1784.1 338.0h0M1784.3 337.3h0M1784.5 344.1h0M1784.6 353.5h0M1784.8 354.8h0M1785.0 365.2h0M1785.2 343.4h0M1785.4 333.6h0M1785.5 354.7h0M1785.7 355.4h0M1785.9 348.5h0M1786.1 356.0h0M1786.2 361.9h0M1786.4 351.8h0M1786.6 341.9h0M1786.8 338.8h0M1786.9 353.1h0M1787.1 338.1h0M1787.3 356.5h0M1787.5 353.7h0M1787.7 339.9h0M1787.8 358.6h0M1788.0 336.8h0M1788.2 360.0h0M1788.4 348.7h0M1788.5 349.4h0M1788.7 346.7h0M1788.9 340.9h0M1789.1 354.8h0M1789.2 342.7h0M1789.4 330.8h0M1789.6 351.9h0M1789.8 340.2h0M1789.9 340.7h0M1790.1 342.6h0M1790.3 347.7h0M1790.5 341.9h0M1790.7 350.4h0M1790.8 368.8h0M1791.0 364.8h0M1791.2 355.8h0M1791.4 348.2h0M1791.5 344.9h0M1791.7 365.5h0M1791.9 350.8h0M1792.1 344.8h0M1792.2 342.3h0M1792.4 343.5h0M1792.6 334.3h0M1792.8 353.4h0M1793.0 349.3h0M1793.1 347.9h0M1793.3 339.0h0M1793.5 353.3h0M1793.7 347.9h0M1793.8 340.2h0M1794.0 367.4h0M1794.2 347.8h0M1794.4 333.5h0M1794.5 351.8h0M1794.7 346.4h0M1794.9 332.3h0M1795.1 371.2h0M1795.3 353.7h0M1795.4 345.0h0M1795.6 360.2h0M1795.8 361.6h0M1796.0 354.3h0M1796.1 333.3h0M1796.3 359.3h0M1796.5 335.5h0M1796.7 333.8h0M1796.8 352.8h0M1797.0 360.7h0M1797.2 342.1h0M1797.4 350.6h0M1797.5 353.3h0M1797.7 354.7h0M1797.9 345.9h0M1798.1 343.3h0M1798.3 353.9h0M1798.4 347.8h0M1798.6 341.3h0M1798.8 342.5h0M1799.0 356.7h0M1799.1 364.9h0M1799.3 362.5h0M1799.5 349.6h0M1799.7 328.8h0M1799.8 343.7h0M1800.0 352.9h0M1800.2 365.4h0M1800.4 335.0h0M1800.6 375.2h0M1800.7 351.4h0M1800.9 344.8h0M1801.1 353.5h0M1801.3 357.0h0M1801.4 347.3h0M1801.6 356.2h0M1801.8 360.6h0M1802.0 340.8h0M1802.1 342.1h0M1802.3 363.5h0M1802.5 352.5h0M1802.7 369.0h0M1802.9 331.2h0M1803.0 354.6h0M1803.2 363.4h0M1803.4 368.0h0M1803.6 326.1h0M1803.7 355.9h0M1803.9 363.2h0M1804.1 343.0h0M1804.3 383.3h0M1804.4 351.6h0M1804.6 352.2h0M1804.8 354.3h0M1805.0 363.0h0M1805.2 360.0h0M1805.3 350.1h0M1805.5 355.6h0M1805.7 360.7h0M1805.9 344.7h0M1806.0 355.5h0M1806.2 362.8h0M1806.4 369.9h0M1806.6 343.9h0M1806.7 357.5h0M1806.9 351.2h0M1807.1 356.8h0M1807.3 359.7h0M1807.4 360.4h0M1807.6 344.4h0M1807.8 361.1h0M1808.0 361.8h0M1808.2 350.3h0M1808.3 364.8h0M1808.5 347.6h0M1808.7 360.2h0M1808.9 348.8h0M1809.0 355.0h0M1809.2 376.1h0M1809.4 355.0h0M1809.6 349.4h0M1809.7 353.5h0M1809.9 349.4h0M1810.1 366.8h0M1810.3 351.3h0M1810.5 354.8h0M1810.6 375.0h0M1810.8 366.7h0M1811.0 364.3h0M1811.2 357.6h0M1811.3 358.3h0M1811.5 356.8h0M1811.7 361.2h0M1811.9 356.7h0M1812.0 360.4h0M1812.2 358.8h0M1812.4 380.8h0M1812.6 360.3h0M1812.8 365.6h0M1812.9 362.5h0M1813.1 360.9h0M1813.3 344.9h0M1813.5 355.8h0M1813.6 370.2h0M1813.8 343.6h0M1814.0 384.1h0M1814.2 344.2h0M1814.3 359.2h0M1814.5 370.9h0M1814.7 354.1h0M1814.9 351.3h0M1815.0 362.9h0M1815.2 355.5h0M1815.4 369.1h0M1815.6 358.3h0M1815.8 359.0h0M1815.9 359.0h0M1816.1 353.9h0M1816.3 351.8h0M1816.5 353.2h0M1816.6 356.0h0M1816.8 349.7h0M1817.0 353.8h0M1817.2 369.6h0M1817.3 339.4h0M1817.5 355.1h0M1817.7 370.3h0M1817.9 335.7h0M1818.1 360.1h0M1818.2 363.9h0M1818.4 367.0h0M1818.6 357.1h0M1818.8 381.3h0M1818.9 359.3h0M1819.1 361.5h0M1819.3 364.5h0M1819.5 374.2h0M1819.6 357.7h0M1819.8 354.8h0M1820.0 371.6h0M1820.2 371.6h0M1820.4 377.5h0M1820.5 356.1h0M1820.7 368.2h0M1820.9 361.9h0M1821.1 369.0h0M1821.2 362.6h0M1821.4 364.9h0M1821.6 364.1h0M1821.8 358.8h0M1821.9 354.5h0M1822.1 358.0h0M1822.3 367.9h0M1822.5 350.3h0M1822.6 347.6h0M1822.8 360.1h0M1823.0 375.3h0M1823.2 377.0h0M1823.4 371.0h0M1823.5 352.8h0M1823.7 363.8h0M1823.9 379.5h0M1824.1 351.4h0M1824.2 384.9h0M1824.4 366.0h0M1824.6 358.4h0M1824.8 344.7h0M1824.9 356.9h0M1825.1 362.0h0M1825.3 365.9h0M1825.5 362.0h0M1825.7 371.5h0M1825.8 350.5h0M1826.0 361.9h0M1826.2 362.6h0M1826.4 357.4h0M1826.5 355.2h0M1826.7 368.0h0M1826.9 367.2h0M1827.1 363.3h0M1827.2 360.2h0M1827.4 358.0h0M1827.6 356.5h0M1827.8 355.8h0M1828.0 381.5h0M1828.1 360.1h0M1828.3 370.2h0M1828.5 379.6h0M1828.7 357.1h0M1828.8 347.4h0M1829.0 370.9h0M1829.2 354.1h0M1829.4 380.3h0M1829.5 358.4h0M1829.7 368.3h0M1829.9 370.8h0M1830.1 379.3h0M1830.2 351.9h0M1830.4 365.1h0M1830.6 353.3h0M1830.8 358.2h0M1831.0 373.9h0M1831.1 367.3h0M1831.3 373.0h0M1831.5 373.0h0M1831.7 377.2h0M1831.8 382.6h0M1832.0 361.8h0M1832.2 365.6h0M1832.4 367.1h0M1832.5 370.3h0M1832.7 370.3h0M1832.9 377.0h0M1833.1 360.1h0M1833.3 363.1h0M1833.4 359.3h0M1833.6 370.2h0M1833.8 362.3h0M1834.0 390.8h0M1834.1 356.3h0M1834.3 368.4h0M1834.5 350.7h0M1834.7 359.1h0M1834.8 376.7h0M1835.0 374.1h0M1835.2 370.7h0M1835.4 372.4h0M1835.6 362.8h0M1835.7 375.7h0M1835.9 371.4h0M1836.1 372.2h0M1836.3 388.4h0M1836.4 365.7h0M1836.6 386.4h0M1836.8 377.2h0M1837.0 377.2h0M1837.1 372.1h0M1837.3 368.8h0M1837.5 374.5h0M1837.7 358.7h0M1837.8 377.9h0M1838.0 379.7h0M1838.2 355.7h0M1838.4 370.2h0M1838.6 363.1h0M1838.7 361.5h0M1838.9 386.9h0M1839.1 357.8h0M1839.3 367.7h0M1839.4 375.1h0M1839.6 378.5h0M1839.8 383.9h0M1840.0 376.7h0M1840.1 389.6h0M1840.3 373.2h0M1840.5 373.2h0M1840.7 380.1h0M1840.9 373.2h0M1841.0 365.0h0M1841.2 367.4h0M1841.4 380.9h0M1841.6 380.0h0M1841.7 382.7h0M1841.9 361.8h0M1842.1 368.8h0M1842.3 388.2h0M1842.4 383.5h0M1842.6 380.7h0M1842.8 379.8h0M1843.0 373.7h0M1843.2 385.2h0M1843.3 371.1h0M1843.5 368.6h0M1843.7 378.7h0M1843.9 388.0h0M1844.0 363.1h0M1844.2 363.0h0M1844.4 353.5h0M1844.6 381.3h0M1844.7 363.0h0M1844.9 378.5h0M1845.1 387.7h0M1845.3 371.6h0M1845.4 379.3h0M1845.6 383.9h0M1845.8 377.5h0M1846.0 374.0h0M1846.2 361.3h0M1846.3 375.7h0M1846.5 365.0h0M1846.7 376.5h0M1846.9 373.1h0M1847.0 371.4h0M1847.2 374.7h0M1847.4 379.0h0M1847.6 369.7h0M1847.7 378.1h0M1847.9 389.2h0M1848.1 377.2h0M1848.3 369.5h0M1848.5 361.7h0M1848.6 372.0h0M1848.8 367.9h0M1849.0 370.3h0M1849.2 382.3h0M1849.3 366.2h0M1849.5 369.4h0M1849.7 361.5h0M1849.9 378.6h0M1850.0 380.4h0M1850.2 380.4h0M1850.4 381.2h0M1850.6 370.8h0M1850.8 386.8h0M1850.9 363.6h0M1851.1 390.6h0M1851.3 387.6h0M1851.5 383.8h0M1851.6 351.9h0M1851.8 392.5h0M1852.0 391.4h0M1852.2 389.4h0M1852.3 365.8h0M1852.5 383.6h0M1852.7 380.0h0M1852.9 391.3h0M1853.0 364.9h0M1853.2 369.6h0M1853.4 378.1h0M1853.6 375.4h0M1853.8 370.4h0M1853.9 384.3h0M1854.1 365.5h0M1854.3 372.0h0M1854.5 377.9h0M1854.6 381.5h0M1854.8 410.5h0M1855.0 379.6h0M1855.2 361.5h0M1855.3 385.0h0M1855.5 390.8h0M1855.7 372.6h0M1855.9 388.8h0M1856.1 393.7h0M1856.2 366.0h0M1856.4 386.8h0M1856.6 373.3h0M1856.8 385.8h0M1856.9 371.6h0M1857.1 375.8h0M1857.3 365.9h0M1857.5 368.2h0M1857.6 393.5h0M1857.8 393.4h0M1858.0 394.4h0M1858.2 366.6h0M1858.4 379.1h0M1858.5 382.7h0M1858.7 412.1h0M1858.9 355.9h0M1859.1 387.3h0M1859.2 391.2h0M1859.4 378.0h0M1859.6 362.5h0M1859.8 392.1h0M1859.9 371.2h0M1860.1 397.2h0M1860.3 379.7h0M1860.5 411.7h0M1860.6 395.0h0M1860.8 378.7h0M1861.0 421.7h0M1861.2 381.4h0M1861.4 371.8h0M1861.5 385.0h0M1861.7 385.9h0M1861.9 372.5h0M1862.1 377.7h0M1862.2 368.4h0M1862.4 385.8h0M1862.6 383.9h0M1862.8 371.6h0M1862.9 387.6h0M1863.1 392.5h0M1863.3 376.6h0M1863.5 385.6h0M1863.7 405.3h0M1863.8 405.2h0M1864.0 388.4h0M1864.2 372.2h0M1864.4 393.3h0M1864.5 390.3h0M1864.7 380.8h0M1864.9 401.7h0M1865.1 392.2h0M1865.2 400.5h0M1865.4 385.3h0M1865.6 378.9h0M1865.8 369.5h0M1866.0 377.1h0M1866.1 370.3h0M1866.3 374.5h0M1866.5 370.3h0M1866.7 402.5h0M1866.8 390.9h0M1867.0 394.9h0M1867.2 382.3h0M1867.4 403.4h0M1867.5 378.6h0M1867.7 391.8h0M1867.9 404.5h0M1868.1 377.7h0M1868.2 385.8h0M1868.4 387.7h0M1868.6 375.0h0M1868.8 403.2h0M1869.0 374.9h0M1869.1 393.5h0M1869.3 400.9h0M1869.5 392.5h0M1869.7 409.9h0M1869.8 389.4h0M1870.0 380.9h0M1870.2 377.4h0M1870.4 398.5h0M1870.5 393.3h0M1870.7 387.4h0M1870.9 398.5h0M1871.1 381.7h0M1871.3 394.2h0M1871.4 390.2h0M1871.6 388.2h0M1871.8 371.2h0M1872.0 400.4h0M1872.1 384.3h0M1872.3 389.0h0M1872.5 400.3h0M1872.7 377.0h0M1872.8 391.9h0M1873.0 385.1h0M1873.2 367.8h0M1873.4 408.0h0M1873.6 396.9h0M1873.7 398.0h0M1873.9 395.8h0M1874.1 384.9h0M1874.3 381.2h0M1874.4 386.8h0M1874.6 379.4h0M1874.8 425.5h0M1875.0 371.6h0M1875.1 393.6h0M1875.3 386.7h0M1875.5 388.6h0M1875.7 392.5h0M1875.9 400.8h0M1876.0 406.4h0M1876.2 389.4h0M1876.4 417.2h0M1876.6 390.3h0M1876.7 384.6h0M1876.9 390.3h0M1877.1 398.5h0M1877.3 386.4h0M1877.4 391.2h0M1877.6 365.6h0M1877.8 412.0h0M1878.0 373.7h0M1878.1 398.3h0M1878.3 427.5h0M1878.5 381.5h0M1878.7 399.3h0M1878.9 396.1h0M1879.0 383.3h0M1879.2 397.1h0M1879.4 388.0h0M1879.6 403.5h0M1879.7 397.0h0M1879.9 425.7h0M1880.1 390.8h0M1880.3 422.9h0M1880.4 403.4h0M1880.6 402.2h0M1880.8 413.8h0M1881.0 404.4h0M1881.2 395.7h0M1881.3 381.1h0M1881.5 395.7h0M1881.7 390.6h0M1881.9 406.5h0M1882.0 389.5h0M1882.2 394.5h0M1882.4 389.5h0M1882.6 413.5h0M1882.7 398.6h0M1882.9 385.5h0M1883.1 386.5h0M1883.3 393.3h0M1883.5 422.3h0M1883.6 395.3h0M1883.8 395.3h0M1884.0 388.3h0M1884.2 393.2h0M1884.3 379.8h0M1884.5 401.6h0M1884.7 387.2h0M1884.9 382.5h0M1885.0 409.5h0M1885.2 398.2h0M1885.4 378.8h0M1885.6 387.1h0M1885.7 390.0h0M1885.9 410.5h0M1886.1 406.9h0M1886.3 387.9h0M1886.5 420.4h0M1886.6 396.9h0M1886.8 402.3h0M1887.0 416.4h0M1887.2 407.9h0M1887.3 410.2h0M1887.5 383.0h0M1887.7 396.8h0M1887.9 398.9h0M1888.0 381.1h0M1888.2 388.6h0M1888.4 395.6h0M1888.6 410.0h0M1888.8 377.5h0M1888.9 389.5h0M1889.1 389.5h0M1889.3 389.4h0M1889.5 404.1h0M1889.6 388.4h0M1889.8 414.6h0M1890.0 398.5h0M1890.2 407.4h0M1890.3 449.4h0M1890.5 395.3h0M1890.7 396.3h0M1890.9 402.7h0M1891.1 389.2h0M1891.2 386.3h0M1891.4 382.5h0M1891.6 400.4h0M1891.8 389.1h0M1891.9 404.8h0M1892.1 391.0h0M1892.3 393.0h0M1892.5 399.2h0M1892.6 384.2h0M1892.8 404.7h0M1893.0 404.6h0M1893.2 409.2h0M1893.3 410.4h0M1893.5 374.3h0M1893.7 385.0h0M1893.9 399.0h0M1894.1 413.9h0M1894.2 402.2h0M1894.4 415.1h0M1894.6 401.1h0M1894.8 428.2h0M1894.9 421.4h0M1895.1 388.6h0M1895.3 398.8h0M1895.5 384.8h0M1895.6 388.5h0M1895.8 388.5h0M1896.0 384.7h0M1896.2 411.1h0M1896.4 392.4h0M1896.5 405.2h0M1896.7 400.7h0M1896.9 422.3h0M1897.1 392.3h0M1897.2 405.1h0M1897.4 406.2h0M1897.6 403.9h0M1897.8 410.8h0M1897.9 400.5h0M1898.1 408.4h0M1898.3 393.1h0M1898.5 403.8h0M1898.7 392.1h0M1898.8 377.1h0M1899.0 402.6h0M1899.2 405.9h0M1899.4 399.2h0M1899.5 395.0h0M1899.7 437.5h0M1899.9 402.4h0M1900.1 425.8h0M1900.2 424.4h0M1900.4 399.1h0M1900.6 414.0h0M1900.8 401.2h0M1900.9 431.3h0M1901.1 400.1h0M1901.3 387.8h0M1901.5 400.0h0M1901.7 428.3h0M1901.8 424.1h0M1902.0 390.6h0M1902.2 401.0h0M1902.4 374.9h0M1902.5 413.7h0M1902.7 394.5h0M1902.9 410.0h0M1903.1 412.3h0M1903.2 399.7h0M1903.4 411.1h0M1903.6 406.4h0M1903.8 397.5h0M1904.0 408.6h0M1904.1 401.8h0M1904.3 382.7h0M1904.5 404.0h0M1904.7 386.4h0M1904.8 418.3h0M1905.0 394.2h0M1905.2 407.3h0M1905.4 419.5h0M1905.5 394.2h0M1905.7 424.7h0M1905.9 424.7h0M1906.1 413.1h0M1906.3 396.1h0M1906.4 403.7h0M1906.6 407.0h0M1906.8 456.0h0M1907.0 408.1h0M1907.1 403.5h0M1907.3 410.5h0M1907.5 397.0h0M1907.7 397.0h0M1907.8 377.8h0M1908.0 429.9h0M1908.2 412.7h0M1908.4 393.8h0M1908.5 396.8h0M1908.7 415.1h0M1908.9 409.0h0M1909.1 405.5h0M1909.3 407.8h0M1909.4 391.6h0M1909.6 403.2h0M1909.8 411.3h0M1910.0 402.0h0M1910.1 399.8h0M1910.3 396.6h0M1910.5 408.8h0M1910.7 412.3h0M1910.8 412.3h0M1911.0 412.3h0M1911.2 392.4h0M1911.4 415.9h0M1911.6 398.5h0M1911.7 409.8h0M1911.9 404.0h0M1912.1 408.5h0M1912.3 406.2h0M1912.4 433.4h0M1912.6 429.0h0M1912.8 400.5h0M1913.0 398.3h0M1913.1 433.3h0M1913.3 404.9h0M1913.5 398.3h0M1913.7 407.1h0M1913.9 427.4h0M1914.0 408.2h0M1914.2 403.6h0M1914.4 399.2h0M1914.6 394.0h0M1914.7 414.1h0M1914.9 415.3h0M1915.1 405.8h0M1915.3 416.5h0M1915.4 402.3h0M1915.6 416.5h0M1915.8 408.0h0M1916.0 422.9h0M1916.1 402.2h0M1916.3 420.2h0M1916.5 417.6h0M1916.7 418.9h0M1916.9 412.6h0M1917.0 418.8h0M1917.2 413.7h0M1917.4 385.7h0M1917.6 420.0h0M1917.7 420.0h0M1917.9 414.9h0M1918.1 414.8h0M1918.3 398.7h0M1918.4 423.8h0M1918.6 395.5h0M1918.8 422.4h0M1919.0 421.1h0M1919.2 412.2h0M1919.3 401.8h0M1919.5 423.7h0M1919.7 400.6h0M1919.9 422.3h0M1920.0 402.8h0M1920.2 406.2h0M1920.4 429.0h0M1920.6 412.0h0M1920.7 427.6h0M1920.9 424.8h0M1921.1 413.1h0M1921.3 422.0h0M1921.5 400.4h0M1921.6 411.8h0M1921.8 433.1h0M1922.0 402.5h0M1922.2 418.0h0M1922.3 405.8h0M1922.5 430.1h0M1922.7 399.2h0M1922.9 437.4h0M1923.0 397.0h0M1923.2 409.2h0M1923.4 435.8h0M1923.6 388.8h0M1923.7 417.7h0M1923.9 411.5h0M1924.1 409.1h0M1924.3 420.2h0M1924.5 440.3h0M1924.6 426.9h0M1924.8 440.2h0M1925.0 424.1h0M1925.2 438.6h0M1925.3 411.3h0M1925.5 443.2h0M1925.7 422.6h0M1925.9 399.8h0M1926.0 421.2h0M1926.2 409.9h0M1926.4 425.2h0M1926.6 428.0h0M1926.8 406.4h0M1926.9 408.7h0M1927.1 439.7h0M1927.3 407.4h0M1927.5 408.6h0M1927.6 409.7h0M1927.8 418.3h0M1928.0 423.6h0M1928.2 424.9h0M1928.3 426.3h0M1928.5 420.8h0M1928.7 439.4h0M1928.9 422.1h0M1929.1 436.3h0M1929.2 422.0h0M1929.4 415.6h0M1929.6 456.2h0M1929.8 410.6h0M1929.9 416.7h0M1930.1 408.2h0M1930.3 402.5h0M1930.5 424.5h0M1930.6 415.4h0M1930.8 398.1h0M1931.0 397.0h0M1931.2 431.5h0M1931.3 414.0h0M1931.5 445.3h0M1931.7 416.5h0M1931.9 403.4h0M1932.1 417.7h0M1932.2 401.1h0M1932.4 428.4h0M1932.6 437.2h0M1932.8 389.7h0M1932.9 425.5h0M1933.1 412.6h0M1933.3 429.6h0M1933.5 435.5h0M1933.6 408.9h0M1933.8 429.6h0M1934.0 413.7h0M1934.2 433.9h0M1934.4 397.7h0M1934.5 448.1h0M1934.7 428.0h0M1934.9 432.3h0M1935.1 425.2h0M1935.2 425.1h0M1935.4 417.2h0M1935.6 426.5h0M1935.8 429.2h0M1935.9 442.8h0M1936.1 409.7h0M1936.3 408.5h0M1936.5 427.7h0M1936.7 427.7h0M1936.8 420.9h0M1937.0 419.5h0M1937.2 442.6h0M1937.4 439.4h0M1937.5 423.4h0M1937.7 408.3h0M1937.9 414.3h0M1938.1 433.2h0M1938.2 437.7h0M1938.4 408.2h0M1938.6 436.1h0M1938.8 442.3h0M1938.9 431.6h0M1939.1 439.1h0M1939.3 417.9h0M1939.5 415.3h0M1939.7 415.3h0M1939.8 419.1h0M1940.0 427.1h0M1940.2 431.4h0M1940.4 416.5h0M1940.5 416.4h0M1940.7 442.0h0M1940.9 421.6h0M1941.1 418.9h0M1941.2 431.2h0M1941.4 412.6h0M1941.6 413.8h0M1941.8 420.1h0M1942.0 431.1h0M1942.1 434.0h0M1942.3 407.7h0M1942.5 414.9h0M1942.7 418.7h0M1942.8 441.6h0M1943.0 432.4h0M1943.2 418.6h0M1943.4 418.6h0M1943.5 438.3h0M1943.7 407.5h0M1943.9 407.5h0M1944.1 449.6h0M1944.3 427.9h0M1944.4 418.4h0M1944.6 423.7h0M1944.8 427.8h0M1945.0 435.0h0M1945.1 414.5h0M1945.3 449.4h0M1945.5 434.9h0M1945.7 449.3h0M1945.8 423.5h0M1946.0 403.8h0M1946.2 406.1h0M1946.4 436.3h0M1946.6 433.3h0M1946.7 434.7h0M1946.9 410.7h0M1947.1 442.4h0M1947.3 423.3h0M1947.4 419.3h0M1947.6 416.7h0M1947.8 430.1h0M1948.0 439.1h0M1948.1 455.9h0M1948.3 430.1h0M1948.5 411.6h0M1948.7 409.2h0M1948.8 423.0h0M1949.0 415.3h0M1949.2 405.7h0M1949.4 431.3h0M1949.6 424.3h0M1949.7 425.6h0M1949.9 440.3h0M1950.1 429.8h0M1950.3 434.1h0M1950.4 438.7h0M1950.6 451.9h0M1950.8 455.4h0M1951.0 428.2h0M1951.1 411.3h0M1951.3 425.4h0M1951.5 438.5h0M1951.7 431.0h0M1951.9 438.4h0M1952.0 429.5h0M1952.2 462.6h0M1952.4 411.1h0M1952.6 435.3h0M1952.9 418.5h0M1953.1 418.5h0M1953.3 426.5h0M1953.4 439.7h0M1953.6 407.4h0M1953.8 415.9h0M1954.0 433.5h0M1954.2 415.8h0M1954.3 447.7h0M1954.5 402.8h0M1954.7 430.5h0M1954.9 430.5h0M1955.0 429.0h0M1955.2 442.6h0M1955.4 392.1h0" stroke="#4169e1" stroke-width="7.4" stroke-linecap="round" fill="none" clip-path="url(#clt0)"/>
<path d="M1557.7 137.8l1.3 2.4 1.4 2.4 1.3 2.4 1.3 2.4 1.4 2.3 1.3 2.3 1.3 2.3 1.3 2.3 1.4 2.3 1.3 2.2 1.3 2.2 1.4 2.2 1.3 2.1 1.3 2.2 1.4 2.1 1.3 2.1 1.3 2 1.3 2.1 1.4 2 1.3 2 1.3 2 1.4 2 1.3 1.9 1.3 1.9 1.4 1.9 1.3 1.9 1.3 1.9 1.3 1.8 1.4 1.8 1.3 1.8 1.3 1.8 1.4 1.7 1.3 1.7 1.3 1.8 1.4 1.6 1.3 1.7 1.3 1.7 1.3 1.6 1.4 1.6 1.3 1.6 1.3 1.6 1.4 1.5 1.3 1.6 1.3 1.5 1.4 1.5 1.3 1.5 1.3 1.5 1.3 1.4 1.4 1.4 1.3 1.5 1.3 1.4 1.4 1.4 1.3 1.3 1.3 1.4 1.4 1.3 1.3 1.3 1.3 1.4 1.3 1.3 1.4 1.2 1.3 1.3 1.3 1.3 1.4 1.2 1.3 1.2 1.3 1.3 1.4 1.2 1.3 1.1 1.3 1.2 1.3 1.2 1.4 1.1 1.3 1.2 1.3 1.1 1.4 1.1 1.3 1.2 1.3 1.1 1.4 1 1.3 1.1 1.3 1.1 1.3 1.1 1.4 1 1.3 1 1.3 1.1 1.4 1 1.3 1 1.3 1 1.4 1 1.3 1 1.3 1 1.3 1 1.4 .9 1.3 1 1.3 .9 1.4 1 1.3 .9 1.3 1 1.4 .9 1.3 .9 1.3 .9 1.3 .9 1.4 .9 1.3 .9 1.3 .9 1.4 .9 1.3 .9 1.3 .9 1.4 .8 1.3 .9 1.3 .8 1.3 .9 1.4 .8 1.3 .9 1.3 .8 1.4 .9 1.3 .8 1.3 .8 1.4 .9 1.3 .8 1.3 .8 1.3 .8 1.4 .8 1.3 .8 1.3 .8 1.4 .8 1.3 .8 1.3 .8 1.4 .8 1.3 .8 1.3 .8 1.3 .8 1.4 .7 1.3 .8 1.3 .8 1.4 .8 1.3 .7 1.3 .8 1.4 .8 1.3 .7 1.3 .8 1.3 .7 1.4 .8 1.3 .8 1.3 .7 1.4 .8 1.3 .7 1.3 .8 1.4 .7 1.3 .7 1.3 .8 1.3 .7 1.4 .8 1.3 .7 1.3 .7 1.4 .8 1.3 .7 1.3 .7 1.4 .8 1.3 .7 1.3 .7 1.3 .8 1.4 .7 1.3 .7 1.3 .7 1.4 .8 1.3 .7 1.3 .7 1.4 .7 1.3 .7 1.3 .8 1.3 .7 1.4 .7 1.3 .7 1.3 .7 1.4 .7 1.3 .7 1.3 .7 1.4 .8 1.3 .7 1.3 .7 1.4 .7 1.3 .7 1.3 .7 1.3 .7 1.4 .7 1.3 .7 1.3 .7 1.4 .7 1.3 .7 1.3 .7 1.4 .7 1.3 .7 1.3 .7 1.3 .8 1.4 .7 1.3 .7 1.3 .7 1.4 .7 1.3 .7 1.3 .7 1.4 .7 1.3 .6 1.3 .7 1.3 .7 1.4 .7 1.3 .7 1.3 .7 1.4 .7 1.3 .7 1.3 .7 1.4 .7 1.3 .7 1.3 .7 1.3 .7 1.4 .7 1.3 .7 1.3 .7 1.4 .7 1.3 .7 1.3 .7 1.4 .7 1.3 .7 1.3 .6 1.3 .7 1.4 .7 1.3 .7 1.3 .7 1.4 .7 1.3 .7 1.3 .7 1.4 .7 1.3 .7 1.3 .7 1.3 .7 1.4 .6 1.3 .7 1.3 .7 1.4 .7 1.3 .7 1.3 .7 1.4 .7 1.3 .7 1.3 .7 1.3 .7 1.4 .6 1.3 .7 1.3 .7 1.4 .7 1.3 .7 1.3 .7 1.4 .7 1.3 .7 1.3 .7 1.3 .6 1.4 .7 1.3 .7 1.3 .7 1.4 .7 1.3 .7 1.3 .7 1.4 .7 1.3 .6 1.3 .7 1.3 .7 1.4 .7 1.3 .7 1.3 .7 1.4 .7 1.3 .7 1.3 .6 1.4 .7 1.3 .7 1.3 .7 1.3 .7 1.4 .7 1.3 .7 1.3 .7 1.4 .6 1.3 .7 1.3 .7 1.4 .7 1.3 .7 1.3 .7 1.3 .7 1.4 .7 1.3 .6 1.3 .7 1.4 .7 1.3 .7 1.3 .7 1.4 .7 1.3 .7 1.3 .6 1.3 .7 1.4 .7 1.3 .7 1.3 .7 1.4 .7 1.3 .7 1.3 .7 1.4 .6 1.3 .7" fill="none" stroke="#000" stroke-width="3.2" stroke-linejoin="round" clip-path="url(#clt0)"/>
<rect x="1758" y="122.5" width="207.5" height="88.5" rx="6" fill="#fff" fill-opacity="0.8" stroke="#8a8a8a" stroke-width="1.6"/>
<text x="1770" y="154.9" font-size="36" font-family="'Liberation Sans', Arial, sans-serif">τ</text>
<text x="1784.5" y="159.9" font-size="22" font-family="'Liberation Sans', Arial, sans-serif">1</text>
<text x="1801" y="154.9" font-size="33" font-family="'Liberation Sans', Arial, sans-serif">= 23.39 ns</text>
<text x="1770" y="198" font-size="36" font-family="'Liberation Sans', Arial, sans-serif">τ</text>
<text x="1784.5" y="203" font-size="22" font-family="'Liberation Sans', Arial, sans-serif">2</text>
<text x="1801" y="198" font-size="33" font-family="'Liberation Sans', Arial, sans-serif">= 4.24 ns</text>
<rect x="1537.8" y="115.2" width="437.2" height="350.6" fill="none" stroke="#000" stroke-width="2"/>
<path d="M1557.7 465.8v7.5M1646.1 465.8v7.5M1734.5 465.8v7.5M1822.8 465.8v7.5M1911.2 465.8v7.5M1537.8 426.4h-7M1537.8 181.0h-7M1537.8 464.4h-4M1537.8 450.2h-4M1537.8 437.6h-4M1537.8 352.5h-4M1537.8 309.3h-4M1537.8 278.7h-4M1537.8 254.9h-4M1537.8 235.4h-4M1537.8 219.0h-4M1537.8 204.8h-4M1537.8 192.2h-4" stroke="#000" stroke-width="1.7" fill="none"/>
<text x="1557.7" y="501" font-size="27" text-anchor="middle" font-family="'Liberation Sans', Arial, sans-serif" >0</text>
<text x="1646.1" y="501" font-size="27" text-anchor="middle" font-family="'Liberation Sans', Arial, sans-serif" >10</text>
<text x="1734.5" y="501" font-size="27" text-anchor="middle" font-family="'Liberation Sans', Arial, sans-serif" >20</text>
<text x="1822.8" y="501" font-size="27" text-anchor="middle" font-family="'Liberation Sans', Arial, sans-serif" >30</text>
<text x="1911.2" y="501" font-size="27" text-anchor="middle" font-family="'Liberation Sans', Arial, sans-serif" >40</text>
<text x="1518.3" y="434.6" font-size="27" text-anchor="end" font-family="'Liberation Sans', Arial, sans-serif" >10</text>
<text x="1518.8" y="417.4" font-size="18.5" text-anchor="start" font-family="'Liberation Sans', Arial, sans-serif" >2</text>
<text x="1518.3" y="189.2" font-size="27" text-anchor="end" font-family="'Liberation Sans', Arial, sans-serif" >10</text>
<text x="1518.8" y="172" font-size="18.5" text-anchor="start" font-family="'Liberation Sans', Arial, sans-serif" >3</text>
<text x="1723.4" y="536.6" font-size="31" font-style="italic" font-family="'Liberation Sans', Arial, sans-serif">τ,</text>
<text x="1748.4" y="536.6" font-size="31" text-anchor="start" font-family="'Liberation Sans', Arial, sans-serif" >ns</text>
<text transform="translate(1474.5,402.3) rotate(-90)" font-size="31.5" text-anchor="start" font-family="'Liberation Sans', Arial, sans-serif">Intensity, a.u.</text>
<clipPath id="clt1"><rect x="1537.8" y="616.7" width="437.79999999999995" height="351.79999999999995"/></clipPath>
<path d="M1558.0 663.8h0M1558.2 653.5h0M1558.4 657.9h0M1558.5 658.9h0M1558.7 646.7h0M1558.9 651.8h0M1559.1 659.8h0M1559.2 649.6h0M1559.4 651.8h0M1559.6 649.4h0M1559.8 655.3h0M1559.9 642.9h0M1560.1 637.1h0M1560.3 647.7h0M1560.5 644.2h0M1560.7 640.2h0M1560.8 646.9h0M1561.0 643.4h0M1561.2 634.2h0M1561.4 639.0h0M1561.5 636.9h0M1561.7 639.5h0M1561.9 641.8h0M1562.1 638.5h0M1562.2 644.3h0M1562.4 638.8h0M1562.6 653.4h0M1562.8 643.4h0M1563.0 643.1h0M1563.1 643.7h0M1563.3 646.8h0M1563.5 642.2h0M1563.7 654.2h0M1563.8 646.3h0M1564.0 652.5h0M1564.2 653.9h0M1564.4 651.6h0M1564.6 648.8h0M1564.7 648.3h0M1564.9 644.1h0M1565.1 650.5h0M1565.3 657.0h0M1565.4 654.1h0M1565.6 643.5h0M1565.8 664.4h0M1566.0 647.7h0M1566.1 658.1h0M1566.3 654.9h0M1566.5 651.4h0M1566.7 664.5h0M1566.9 652.9h0M1567.0 656.9h0M1567.2 659.8h0M1567.4 654.0h0M1567.6 651.4h0M1567.7 655.3h0M1567.9 658.7h0M1568.1 662.7h0M1568.3 667.8h0M1568.4 652.3h0M1568.6 661.0h0M1568.8 653.6h0M1569.0 650.8h0M1569.2 655.8h0M1569.3 654.2h0M1569.5 657.2h0M1569.7 662.0h0M1569.9 661.6h0M1570.0 654.4h0M1570.2 655.9h0M1570.4 666.5h0M1570.6 667.3h0M1570.7 659.3h0M1570.9 664.8h0M1571.1 661.4h0M1571.3 662.1h0M1571.5 664.6h0M1571.6 664.2h0M1571.8 670.3h0M1572.0 672.4h0M1572.2 676.2h0M1572.3 669.2h0M1572.5 672.2h0M1572.7 661.8h0M1572.9 672.6h0M1573.0 667.1h0M1573.2 667.6h0M1573.4 667.9h0M1573.6 666.6h0M1573.8 669.8h0M1573.9 663.6h0M1574.1 673.7h0M1574.3 663.5h0M1574.5 671.4h0M1574.6 664.8h0M1574.8 677.6h0M1575.0 676.2h0M1575.2 665.1h0M1575.4 674.5h0M1575.5 672.2h0M1575.7 679.6h0M1575.9 680.2h0M1576.1 679.4h0M1576.2 676.4h0M1576.4 676.6h0M1576.6 672.7h0M1576.8 674.9h0M1576.9 675.4h0M1577.1 673.1h0M1577.3 683.4h0M1577.5 680.2h0M1577.7 679.5h0M1577.8 679.4h0M1578.0 676.7h0M1578.2 674.6h0M1578.4 684.1h0M1578.5 674.5h0M1578.7 681.5h0M1578.9 674.1h0M1579.1 683.4h0M1579.2 679.2h0M1579.4 681.9h0M1579.6 676.1h0M1579.8 692.9h0M1580.0 684.1h0M1580.1 689.6h0M1580.3 680.5h0M1580.5 693.0h0M1580.7 685.0h0M1580.8 680.3h0M1581.0 679.9h0M1581.2 686.6h0M1581.4 682.6h0M1581.5 680.8h0M1581.7 680.7h0M1581.9 679.9h0M1582.1 685.5h0M1582.3 696.3h0M1582.4 675.1h0M1582.6 683.5h0M1582.8 691.7h0M1583.0 684.1h0M1583.1 684.4h0M1583.3 695.4h0M1583.5 678.7h0M1583.7 692.5h0M1583.8 689.7h0M1584.0 696.0h0M1584.2 687.7h0M1584.4 694.6h0M1584.6 683.9h0M1584.7 683.9h0M1584.9 689.3h0M1585.1 692.8h0M1585.3 691.5h0M1585.4 699.2h0M1585.6 692.2h0M1585.8 696.6h0M1586.0 692.9h0M1586.2 687.1h0M1586.3 687.4h0M1586.5 692.7h0M1586.7 710.5h0M1586.9 700.8h0M1587.0 691.3h0M1587.2 685.3h0M1587.4 690.0h0M1587.6 697.2h0M1587.7 692.3h0M1587.9 704.0h0M1588.1 691.4h0M1588.3 686.0h0M1588.5 692.4h0M1588.6 685.9h0M1588.8 705.0h0M1589.0 699.6h0M1589.2 698.3h0M1589.3 694.9h0M1589.5 701.2h0M1589.7 700.7h0M1589.9 694.8h0M1590.0 706.9h0M1590.2 705.4h0M1590.4 691.8h0M1590.6 702.2h0M1590.8 700.8h0M1590.9 699.0h0M1591.1 709.3h0M1591.3 693.9h0M1591.5 700.6h0M1591.6 704.9h0M1591.8 703.5h0M1592.0 705.3h0M1592.2 699.9h0M1592.3 705.2h0M1592.5 690.8h0M1592.7 691.6h0M1592.9 688.4h0M1593.1 698.4h0M1593.2 695.8h0M1593.4 700.4h0M1593.6 710.9h0M1593.8 703.8h0M1593.9 705.1h0M1594.1 709.7h0M1594.3 704.5h0M1594.5 710.1h0M1594.6 708.1h0M1594.8 695.8h0M1595.0 717.0h0M1595.2 711.3h0M1595.4 701.1h0M1595.5 713.2h0M1595.7 702.8h0M1595.9 700.1h0M1596.1 701.4h0M1596.2 703.1h0M1596.4 719.1h0M1596.6 719.6h0M1596.8 708.4h0M1597.0 709.3h0M1597.1 711.2h0M1597.3 705.5h0M1597.5 710.6h0M1597.7 701.8h0M1597.8 717.6h0M1598.0 712.9h0M1598.2 714.9h0M1598.4 717.5h0M1598.5 708.4h0M1598.7 714.8h0M1598.9 720.0h0M1599.1 720.4h0M1599.3 718.8h0M1599.4 706.8h0M1599.6 716.6h0M1599.8 706.7h0M1600.0 710.4h0M1600.1 711.8h0M1600.3 717.4h0M1600.5 715.8h0M1600.7 711.2h0M1600.8 709.7h0M1601.0 717.2h0M1601.2 724.2h0M1601.4 722.5h0M1601.6 715.0h0M1601.7 720.7h0M1601.9 728.1h0M1602.1 709.9h0M1602.3 713.3h0M1602.4 728.5h0M1602.6 712.7h0M1602.8 726.1h0M1603.0 722.6h0M1603.1 718.7h0M1603.3 722.5h0M1603.5 712.9h0M1603.7 722.4h0M1603.9 726.3h0M1604.0 719.0h0M1604.2 716.3h0M1604.4 719.4h0M1604.6 723.8h0M1604.7 730.2h0M1604.9 730.2h0M1605.1 717.1h0M1605.3 718.1h0M1605.4 724.1h0M1605.6 723.5h0M1605.8 725.8h0M1606.0 725.7h0M1606.2 719.5h0M1606.3 732.2h0M1606.5 725.0h0M1606.7 718.9h0M1606.9 723.8h0M1607.0 727.2h0M1607.2 720.9h0M1607.4 729.5h0M1607.6 718.6h0M1607.8 713.9h0M1607.9 750.5h0M1608.1 718.0h0M1608.3 722.8h0M1608.5 725.7h0M1608.6 716.3h0M1608.8 727.3h0M1609.0 708.8h0M1609.2 724.3h0M1609.3 724.3h0M1609.5 724.8h0M1609.7 733.8h0M1609.9 730.7h0M1610.1 730.0h0M1610.2 720.2h0M1610.4 728.1h0M1610.6 733.0h0M1610.8 728.6h0M1610.9 742.2h0M1611.1 746.4h0M1611.3 732.8h0M1611.5 737.2h0M1611.6 726.0h0M1611.8 746.9h0M1612.0 724.2h0M1612.2 723.1h0M1612.4 739.7h0M1612.5 721.3h0M1612.7 724.1h0M1612.9 742.3h0M1613.1 719.6h0M1613.2 729.2h0M1613.4 717.4h0M1613.6 729.1h0M1613.8 732.8h0M1613.9 727.9h0M1614.1 722.1h0M1614.3 729.0h0M1614.5 729.5h0M1614.7 734.5h0M1614.8 735.7h0M1615.0 733.8h0M1615.2 727.6h0M1615.4 743.1h0M1615.5 745.2h0M1615.7 734.2h0M1615.9 742.9h0M1616.1 747.2h0M1616.2 744.3h0M1616.4 740.0h0M1616.6 734.0h0M1616.8 728.4h0M1617.0 716.2h0M1617.1 738.5h0M1617.3 730.1h0M1617.5 737.7h0M1617.7 747.6h0M1617.8 737.0h0M1618.0 726.4h0M1618.2 733.7h0M1618.4 752.0h0M1618.6 733.6h0M1618.7 740.9h0M1618.9 739.4h0M1619.1 740.8h0M1619.3 759.1h0M1619.4 726.1h0M1619.6 759.0h0M1619.8 734.0h0M1620.0 737.2h0M1620.1 733.9h0M1620.3 737.1h0M1620.5 763.1h0M1620.7 731.3h0M1620.9 743.2h0M1621.0 755.3h0M1621.2 753.6h0M1621.4 731.8h0M1621.6 741.6h0M1621.7 748.8h0M1621.9 742.9h0M1622.1 746.5h0M1622.3 757.5h0M1622.4 737.4h0M1622.6 754.9h0M1622.8 744.2h0M1623.0 735.3h0M1623.2 749.3h0M1623.3 740.6h0M1623.5 726.6h0M1623.7 748.4h0M1623.9 735.8h0M1624.0 740.4h0M1624.2 741.8h0M1624.4 743.1h0M1624.6 741.7h0M1624.7 749.7h0M1624.9 755.2h0M1625.1 734.2h0M1625.3 740.2h0M1625.5 744.3h0M1625.6 738.1h0M1625.8 739.4h0M1626.0 746.4h0M1626.2 742.8h0M1626.3 740.7h0M1626.5 746.3h0M1626.7 749.3h0M1626.9 753.9h0M1627.0 746.2h0M1627.2 753.0h0M1627.4 741.1h0M1627.6 743.9h0M1627.8 755.4h0M1627.9 757.0h0M1628.1 755.3h0M1628.3 740.3h0M1628.5 749.7h0M1628.6 752.8h0M1628.8 741.6h0M1629.0 743.7h0M1629.2 747.3h0M1629.4 760.0h0M1629.5 745.7h0M1629.7 747.9h0M1629.9 736.7h0M1630.1 750.9h0M1630.2 752.4h0M1630.4 746.3h0M1630.6 749.3h0M1630.8 749.2h0M1630.9 743.3h0M1631.1 748.4h0M1631.3 738.4h0M1631.5 751.4h0M1631.7 745.3h0M1631.8 747.5h0M1632.0 749.0h0M1632.2 741.7h0M1632.4 746.7h0M1632.5 743.8h0M1632.7 752.7h0M1632.9 745.1h0M1633.1 743.0h0M1633.2 726.8h0M1633.4 752.6h0M1633.6 760.0h0M1633.8 750.2h0M1634.0 748.7h0M1634.1 738.0h0M1634.3 759.0h0M1634.5 757.3h0M1634.7 762.4h0M1634.8 753.2h0M1635.0 754.7h0M1635.2 757.2h0M1635.4 747.7h0M1635.5 743.3h0M1635.7 749.9h0M1635.9 750.6h0M1636.1 749.8h0M1636.3 751.3h0M1636.4 757.8h0M1636.6 751.3h0M1636.8 760.3h0M1637.0 756.0h0M1637.1 757.6h0M1637.3 742.3h0M1637.5 759.3h0M1637.7 758.4h0M1637.8 752.6h0M1638.0 744.3h0M1638.2 750.2h0M1638.4 752.5h0M1638.6 766.2h0M1638.7 758.2h0M1638.9 754.9h0M1639.1 778.0h0M1639.3 763.3h0M1639.4 758.1h0M1639.6 754.7h0M1639.8 774.7h0M1640.0 754.7h0M1640.2 763.2h0M1640.3 766.8h0M1640.5 766.8h0M1640.7 747.6h0M1640.9 770.5h0M1641.0 765.7h0M1641.2 749.0h0M1641.4 769.4h0M1641.6 765.6h0M1641.7 762.9h0M1641.9 765.6h0M1642.1 771.3h0M1642.3 751.9h0M1642.5 769.2h0M1642.6 752.7h0M1642.8 777.2h0M1643.0 751.1h0M1643.2 777.1h0M1643.3 760.9h0M1643.5 779.2h0M1643.7 758.2h0M1643.9 759.9h0M1644.0 770.9h0M1644.2 750.1h0M1644.4 758.1h0M1644.6 779.0h0M1644.8 765.1h0M1644.9 750.8h0M1645.1 768.8h0M1645.3 747.7h0M1645.5 751.5h0M1645.6 749.1h0M1645.8 747.6h0M1646.0 786.6h0M1646.2 764.0h0M1646.3 762.1h0M1646.5 757.8h0M1646.7 783.0h0M1646.9 776.4h0M1647.1 775.4h0M1647.2 752.8h0M1647.4 776.3h0M1647.6 762.8h0M1647.8 769.3h0M1647.9 766.4h0M1648.1 748.8h0M1648.3 760.1h0M1648.5 754.2h0M1648.6 764.5h0M1648.8 756.6h0M1649.0 758.3h0M1649.2 755.0h0M1649.4 764.4h0M1649.5 764.3h0M1649.7 750.1h0M1649.9 766.1h0M1650.1 782.3h0M1650.2 768.9h0M1650.4 755.6h0M1650.6 771.8h0M1650.8 771.7h0M1651.0 753.9h0M1651.1 762.3h0M1651.3 767.8h0M1651.5 771.6h0M1651.7 767.7h0M1651.8 764.9h0M1652.0 768.6h0M1652.2 765.8h0M1652.4 769.5h0M1652.5 791.3h0M1652.7 780.8h0M1652.9 787.6h0M1653.1 754.4h0M1653.3 757.7h0M1653.4 767.5h0M1653.6 773.3h0M1653.8 762.0h0M1654.0 756.0h0M1654.1 766.4h0M1654.3 777.3h0M1654.5 764.5h0M1654.7 774.1h0M1654.8 767.3h0M1655.0 758.3h0M1655.2 761.8h0M1655.4 757.5h0M1655.6 778.1h0M1655.7 757.4h0M1655.9 771.9h0M1656.1 790.6h0M1656.3 768.0h0M1656.4 783.5h0M1656.6 782.3h0M1656.8 771.8h0M1657.0 767.0h0M1657.1 773.8h0M1657.3 789.2h0M1657.5 760.6h0M1657.7 754.7h0M1657.9 782.1h0M1658.0 755.5h0M1658.2 773.6h0M1658.4 772.6h0M1658.6 760.5h0M1658.7 778.7h0M1658.9 771.5h0M1659.1 770.5h0M1659.3 779.7h0M1659.4 775.5h0M1659.6 765.7h0M1659.8 766.6h0M1660.0 771.4h0M1660.2 778.5h0M1660.3 762.0h0M1660.5 794.9h0M1660.7 774.3h0M1660.9 774.2h0M1661.0 767.4h0M1661.2 767.4h0M1661.4 776.2h0M1661.6 764.5h0M1661.8 758.4h0M1661.9 776.2h0M1662.1 771.1h0M1662.3 776.1h0M1662.5 792.0h0M1662.6 777.1h0M1662.8 766.2h0M1663.0 787.1h0M1663.2 773.9h0M1663.3 777.0h0M1663.5 759.9h0M1663.7 778.0h0M1663.9 781.2h0M1664.1 769.9h0M1664.2 766.1h0M1664.4 775.8h0M1664.6 774.8h0M1664.8 777.9h0M1664.9 761.5h0M1665.1 764.1h0M1665.3 773.7h0M1665.5 769.7h0M1665.6 785.5h0M1665.8 787.8h0M1666.0 766.8h0M1666.2 793.9h0M1666.4 771.5h0M1666.5 774.5h0M1666.7 771.5h0M1666.9 770.5h0M1667.1 780.8h0M1667.2 788.8h0M1667.4 781.9h0M1667.6 787.6h0M1667.8 759.4h0M1667.9 780.7h0M1668.1 791.1h0M1668.3 778.5h0M1668.5 768.4h0M1668.7 758.5h0M1668.8 768.3h0M1669.0 770.2h0M1669.2 770.2h0M1669.4 788.5h0M1669.5 792.2h0M1669.7 789.7h0M1669.9 761.8h0M1670.1 779.3h0M1670.2 774.1h0M1670.4 788.4h0M1670.6 781.4h0M1670.8 789.5h0M1671.0 811.5h0M1671.1 798.4h0M1671.3 797.1h0M1671.5 767.1h0M1671.7 766.2h0M1671.8 770.9h0M1672.0 787.0h0M1672.2 774.9h0M1672.4 763.4h0M1672.6 771.8h0M1672.7 808.1h0M1672.9 788.0h0M1673.1 766.9h0M1673.3 781.1h0M1673.4 770.7h0M1673.6 784.4h0M1673.8 798.0h0M1674.0 782.1h0M1674.1 775.7h0M1674.3 786.7h0M1674.5 797.9h0M1674.7 771.6h0M1674.9 783.2h0M1675.0 792.7h0M1675.2 804.8h0M1675.4 788.9h0M1675.6 773.5h0M1675.7 780.8h0M1675.9 774.5h0M1676.1 783.0h0M1676.3 781.9h0M1676.4 786.4h0M1676.6 770.4h0M1676.8 777.5h0M1677.0 776.4h0M1677.2 773.3h0M1677.3 784.0h0M1677.5 793.6h0M1677.7 778.4h0M1677.9 788.6h0M1678.0 804.3h0M1678.2 778.4h0M1678.4 774.2h0M1678.6 792.2h0M1678.7 780.5h0M1678.9 789.7h0M1679.1 771.1h0M1679.3 767.3h0M1679.5 774.1h0M1679.6 764.5h0M1679.8 792.0h0M1680.0 789.5h0M1680.2 762.6h0M1680.3 785.9h0M1680.5 766.2h0M1680.7 775.0h0M1680.9 797.0h0M1681.0 794.4h0M1681.2 778.1h0M1681.4 783.5h0M1681.6 821.2h0M1681.8 790.6h0M1681.9 772.8h0M1682.1 786.9h0M1682.3 776.9h0M1682.5 806.6h0M1682.6 786.8h0M1682.8 786.8h0M1683.0 777.9h0M1683.2 772.7h0M1683.4 780.0h0M1683.5 812.6h0M1683.7 777.8h0M1683.9 800.7h0M1684.1 776.7h0M1684.2 809.4h0M1684.4 797.9h0M1684.6 773.6h0M1684.8 804.8h0M1684.9 806.3h0M1685.1 758.7h0M1685.3 801.9h0M1685.5 791.3h0M1685.7 807.7h0M1685.8 795.1h0M1686.0 790.1h0M1686.2 797.7h0M1686.4 796.3h0M1686.5 791.2h0M1686.7 810.5h0M1686.9 800.3h0M1687.1 778.5h0M1687.2 801.7h0M1687.4 815.2h0M1687.6 805.9h0M1687.8 827.4h0M1688.0 783.9h0M1688.1 794.8h0M1688.3 810.3h0M1688.5 788.6h0M1688.7 772.2h0M1688.8 778.4h0M1689.0 787.3h0M1689.2 783.8h0M1689.4 782.7h0M1689.5 789.7h0M1689.7 787.2h0M1689.9 787.2h0M1690.1 795.9h0M1690.3 786.0h0M1690.4 782.6h0M1690.6 787.1h0M1690.8 795.8h0M1691.0 787.1h0M1691.1 780.3h0M1691.3 791.9h0M1691.5 798.4h0M1691.7 787.0h0M1691.8 814.6h0M1692.0 806.8h0M1692.2 805.3h0M1692.4 795.6h0M1692.6 771.9h0M1692.7 782.3h0M1692.9 791.8h0M1693.1 798.2h0M1693.3 803.7h0M1693.4 798.2h0M1693.6 772.8h0M1693.8 821.0h0M1694.0 800.8h0M1694.2 799.4h0M1694.3 771.7h0M1694.5 794.1h0M1694.7 809.5h0M1694.9 822.6h0M1695.0 803.5h0M1695.2 782.1h0M1695.4 803.5h0M1695.6 786.6h0M1695.7 770.6h0M1695.9 803.4h0M1696.1 803.4h0M1696.3 786.6h0M1696.5 783.1h0M1696.6 778.7h0M1696.8 796.5h0M1697.0 795.1h0M1697.2 804.7h0M1697.3 812.2h0M1697.5 781.9h0M1697.7 797.7h0M1697.9 783.0h0M1698.0 807.5h0M1698.2 806.0h0M1698.4 791.2h0M1698.6 785.2h0M1698.8 785.2h0M1698.9 808.9h0M1699.1 805.9h0M1699.3 777.4h0M1699.5 815.2h0M1699.6 801.6h0M1699.8 789.8h0M1700.0 785.1h0M1700.2 802.9h0M1700.3 801.5h0M1700.5 786.2h0M1700.7 792.2h0M1700.9 794.7h0M1701.1 790.9h0M1701.2 792.2h0M1701.4 779.4h0M1701.6 783.8h0M1701.8 805.6h0M1701.9 784.9h0M1702.1 794.6h0M1702.3 795.9h0M1702.5 798.5h0M1702.6 818.1h0M1702.8 811.5h0M1703.0 797.1h0M1703.2 814.7h0M1703.4 787.1h0M1703.5 794.5h0M1703.7 801.1h0M1703.9 788.2h0M1704.1 819.6h0M1704.2 805.3h0M1704.4 791.8h0M1704.6 808.3h0M1704.8 802.4h0M1705.0 799.6h0M1705.1 793.0h0M1705.3 786.9h0M1705.5 778.0h0M1705.7 786.9h0M1705.8 806.6h0M1706.0 789.2h0M1706.2 785.7h0M1706.4 791.7h0M1706.5 812.7h0M1706.7 794.2h0M1706.9 794.1h0M1707.1 811.0h0M1707.3 806.5h0M1707.4 807.9h0M1707.6 794.1h0M1707.8 811.0h0M1708.0 779.9h0M1708.1 810.9h0M1708.3 782.1h0M1708.5 809.3h0M1708.7 826.1h0M1708.8 789.0h0M1709.0 803.4h0M1709.2 804.8h0M1709.4 801.9h0M1709.6 790.1h0M1709.7 815.5h0M1709.9 815.5h0M1710.1 807.7h0M1710.3 799.1h0M1710.4 785.3h0M1710.6 813.8h0M1710.8 797.7h0M1711.0 793.8h0M1711.1 788.8h0M1711.3 799.0h0M1711.5 800.3h0M1711.7 812.1h0M1711.9 816.9h0M1712.0 792.4h0M1712.2 837.5h0M1712.4 794.9h0M1712.6 782.9h0M1712.7 807.4h0M1712.9 801.6h0M1713.1 800.2h0M1713.3 793.6h0M1713.4 816.7h0M1713.6 788.6h0M1713.8 807.3h0M1714.0 808.7h0M1714.2 816.7h0M1714.3 801.4h0M1714.5 804.3h0M1714.7 839.3h0M1714.9 797.3h0M1715.0 797.3h0M1715.2 789.7h0M1715.4 829.0h0M1715.6 799.9h0M1715.8 799.9h0M1715.9 818.1h0M1716.1 828.9h0M1716.3 821.5h0M1716.5 825.1h0M1716.6 792.0h0M1716.8 798.5h0M1717.0 821.5h0M1717.2 832.7h0M1717.3 811.5h0M1717.5 805.4h0M1717.7 799.7h0M1717.9 824.9h0M1718.1 826.8h0M1718.2 816.2h0M1718.4 814.5h0M1718.6 791.8h0M1718.8 803.8h0M1718.9 821.2h0M1719.1 809.7h0M1719.3 821.2h0M1719.5 791.8h0M1719.6 794.3h0M1719.8 809.7h0M1720.0 812.8h0M1720.2 795.5h0M1720.4 811.2h0M1720.5 799.5h0M1720.7 808.1h0M1720.9 795.5h0M1721.1 803.6h0M1721.2 792.9h0M1721.4 802.2h0M1721.6 817.5h0M1721.8 814.2h0M1721.9 795.4h0M1722.1 792.8h0M1722.3 803.5h0M1722.5 806.4h0M1722.7 809.4h0M1722.8 819.1h0M1723.0 790.2h0M1723.2 829.9h0M1723.4 795.3h0M1723.5 799.2h0M1723.7 824.2h0M1723.9 810.8h0M1724.1 806.2h0M1724.2 804.8h0M1724.4 822.4h0M1724.6 804.7h0M1724.8 820.6h0M1725.0 820.5h0M1725.1 801.8h0M1725.3 804.7h0M1725.5 815.4h0M1725.7 793.8h0M1725.8 800.4h0M1726.0 803.2h0M1726.2 812.1h0M1726.4 817.0h0M1726.6 800.3h0M1726.7 820.4h0M1726.9 823.9h0M1727.1 807.4h0M1727.3 801.7h0M1727.4 833.4h0M1727.6 813.6h0M1727.8 831.3h0M1728.0 796.2h0M1728.1 818.5h0M1728.3 800.2h0M1728.5 827.4h0M1728.7 801.5h0M1728.9 818.4h0M1729.0 837.3h0M1729.2 846.1h0M1729.4 807.2h0M1729.6 825.4h0M1729.7 794.7h0M1729.9 797.3h0M1730.1 816.6h0M1730.3 787.3h0M1730.4 789.7h0M1730.6 821.7h0M1730.8 801.4h0M1731.0 801.3h0M1731.2 841.3h0M1731.3 813.2h0M1731.5 816.5h0M1731.7 836.9h0M1731.9 805.5h0M1732.0 836.9h0M1732.2 801.2h0M1732.4 802.6h0M1732.6 801.2h0M1732.7 810.0h0M1732.9 834.7h0M1733.1 804.0h0M1733.3 816.3h0M1733.5 811.4h0M1733.6 813.0h0M1733.8 797.0h0M1734.0 836.7h0M1734.2 801.1h0M1734.3 802.5h0M1734.5 830.5h0M1734.7 816.2h0M1734.9 812.9h0M1735.0 823.0h0M1735.2 830.4h0M1735.4 826.6h0M1735.6 794.3h0M1735.8 830.4h0M1735.9 836.4h0M1736.1 802.3h0M1736.3 809.6h0M1736.5 803.7h0M1736.6 824.6h0M1736.8 815.9h0M1737.0 812.7h0M1737.2 811.1h0M1737.4 806.5h0M1737.5 803.6h0M1737.7 824.5h0M1737.9 822.7h0M1738.1 805.0h0M1738.2 806.5h0M1738.4 809.5h0M1738.6 852.1h0M1738.8 830.0h0M1738.9 807.9h0M1739.1 787.9h0M1739.3 812.5h0M1739.5 865.5h0M1739.7 844.7h0M1739.8 833.9h0M1740.0 840.2h0M1740.2 815.6h0M1740.4 833.8h0M1740.5 803.4h0M1740.7 812.4h0M1740.9 810.8h0M1741.1 806.2h0M1741.2 813.9h0M1741.4 790.1h0M1741.6 795.1h0M1741.8 815.5h0M1742.0 822.3h0M1742.1 806.1h0M1742.3 810.7h0M1742.5 825.9h0M1742.7 833.6h0M1742.8 810.6h0M1743.0 864.9h0M1743.2 817.0h0M1743.4 837.6h0M1743.5 833.5h0M1743.7 827.6h0M1743.9 816.9h0M1744.1 822.1h0M1744.3 810.5h0M1744.4 825.7h0M1744.6 812.0h0M1744.8 813.6h0M1745.0 839.6h0M1745.1 807.4h0M1745.3 818.5h0M1745.5 818.5h0M1745.7 816.8h0M1745.9 829.3h0M1746.0 818.4h0M1746.2 833.2h0M1746.4 821.9h0M1746.6 820.1h0M1746.7 815.0h0M1746.9 800.1h0M1747.1 837.2h0M1747.3 808.7h0M1747.4 813.4h0M1747.6 818.3h0M1747.8 810.2h0M1748.0 814.9h0M1748.2 794.7h0M1748.3 841.4h0M1748.5 830.9h0M1748.7 848.2h0M1748.9 827.1h0M1749.0 816.5h0M1749.2 814.8h0M1749.4 813.2h0M1749.6 830.8h0M1749.7 821.5h0M1749.9 827.0h0M1750.1 827.0h0M1750.3 804.0h0M1750.5 828.8h0M1750.6 806.9h0M1750.8 850.4h0M1751.0 852.9h0M1751.2 806.9h0M1751.3 806.9h0M1751.5 817.9h0M1751.7 824.9h0M1751.9 855.3h0M1752.0 799.7h0M1752.2 809.8h0M1752.4 824.9h0M1752.6 852.7h0M1752.8 832.5h0M1752.9 799.6h0M1753.1 836.5h0M1753.3 830.5h0M1753.5 828.5h0M1753.6 826.6h0M1753.8 822.9h0M1754.0 817.7h0M1754.2 817.7h0M1754.3 828.4h0M1754.5 834.3h0M1754.7 811.2h0M1754.9 849.9h0M1755.1 826.5h0M1755.2 849.8h0M1755.4 822.8h0M1755.6 805.1h0M1755.8 826.4h0M1755.9 832.2h0M1756.1 832.1h0M1756.3 847.3h0M1756.5 809.5h0M1756.7 812.6h0M1756.8 800.7h0M1757.0 814.2h0M1757.2 819.1h0M1757.4 859.9h0M1757.5 842.5h0M1757.7 819.1h0M1757.9 819.1h0M1758.1 847.1h0M1758.2 840.3h0M1758.4 820.8h0M1758.6 829.9h0M1758.8 819.0h0M1759.0 842.4h0M1759.1 807.8h0M1759.3 835.9h0M1759.5 822.4h0M1759.7 804.8h0M1759.8 817.2h0M1760.0 868.2h0M1760.2 813.9h0M1760.4 813.9h0M1760.5 804.7h0M1760.7 833.7h0M1760.9 813.9h0M1761.1 854.1h0M1761.3 822.3h0M1761.4 791.3h0M1761.6 820.5h0M1761.8 818.7h0M1762.0 835.6h0M1762.1 817.0h0M1762.3 831.5h0M1762.5 812.1h0M1762.7 822.1h0M1762.8 815.3h0M1763.0 851.3h0M1763.2 829.5h0M1763.4 827.6h0M1763.6 839.7h0M1763.7 816.9h0M1763.9 861.8h0M1764.1 829.4h0M1764.3 812.0h0M1764.4 827.5h0M1764.6 825.6h0M1764.8 823.7h0M1765.0 810.4h0M1765.1 837.4h0M1765.3 811.9h0M1765.5 820.2h0M1765.7 808.8h0M1765.9 811.9h0M1766.0 835.2h0M1766.2 820.1h0M1766.4 835.2h0M1766.6 839.4h0M1766.7 833.1h0M1766.9 839.3h0M1767.1 841.5h0M1767.3 805.7h0M1767.5 811.8h0M1767.6 843.7h0M1767.8 839.2h0M1768.0 837.1h0M1768.2 814.9h0M1768.3 810.1h0M1768.5 830.9h0M1768.7 843.6h0M1768.9 837.0h0M1769.0 827.1h0M1769.2 830.9h0M1769.4 825.2h0M1769.6 823.3h0M1769.8 811.6h0M1769.9 808.5h0M1770.1 821.5h0M1770.3 819.8h0M1770.5 828.8h0M1770.6 843.4h0M1770.8 830.7h0M1771.0 843.3h0M1771.2 814.7h0M1771.3 826.9h0M1771.5 838.9h0M1771.7 828.7h0M1771.9 830.6h0M1772.1 847.9h0M1772.2 847.8h0M1772.4 816.2h0M1772.6 824.9h0M1772.8 826.7h0M1772.9 812.9h0M1773.1 847.8h0M1773.3 843.1h0M1773.5 834.5h0M1773.6 840.8h0M1773.8 840.8h0M1774.0 824.8h0M1774.2 838.6h0M1774.4 875.5h0M1774.5 806.7h0M1774.7 822.9h0M1774.9 842.9h0M1775.1 842.9h0M1775.2 822.9h0M1775.4 866.0h0M1775.6 822.8h0M1775.8 826.5h0M1775.9 832.2h0M1776.1 872.0h0M1776.3 842.8h0M1776.5 838.4h0M1776.7 826.4h0M1776.8 822.7h0M1777.0 842.7h0M1777.2 838.3h0M1777.4 838.3h0M1777.5 878.3h0M1777.7 836.2h0M1777.9 814.2h0M1778.1 847.2h0M1778.3 830.1h0M1778.4 842.6h0M1778.6 859.9h0M1778.8 809.4h0M1779.0 838.1h0M1779.1 822.6h0M1779.3 854.5h0M1779.5 838.1h0M1779.7 820.8h0M1779.8 828.0h0M1780.0 844.7h0M1780.2 815.6h0M1780.4 833.9h0M1780.6 835.9h0M1780.7 840.1h0M1780.9 826.1h0M1781.1 837.9h0M1781.3 862.4h0M1781.4 844.5h0M1781.6 846.9h0M1781.8 871.2h0M1782.0 813.9h0M1782.1 796.4h0M1782.3 851.6h0M1782.5 827.8h0M1782.7 831.6h0M1782.9 854.1h0M1783.0 851.5h0M1783.2 835.7h0M1783.4 865.0h0M1783.6 822.2h0M1783.7 864.9h0M1783.9 862.0h0M1784.1 854.0h0M1784.3 851.4h0M1784.4 806.0h0M1784.6 844.2h0M1784.8 841.9h0M1785.0 833.4h0M1785.2 810.5h0M1785.3 856.4h0M1785.5 861.8h0M1785.7 818.6h0M1785.9 848.8h0M1786.0 822.0h0M1786.2 846.4h0M1786.4 837.5h0M1786.6 816.8h0M1786.7 844.0h0M1786.9 822.0h0M1787.1 815.2h0M1787.3 867.4h0M1787.5 821.9h0M1787.6 841.7h0M1787.8 858.8h0M1788.0 843.9h0M1788.2 851.0h0M1788.3 818.4h0M1788.5 837.3h0M1788.7 864.3h0M1788.9 831.1h0M1789.1 850.9h0M1789.2 848.5h0M1789.4 848.4h0M1789.6 802.8h0M1789.8 839.3h0M1789.9 850.8h0M1790.1 850.8h0M1790.3 861.3h0M1790.5 831.0h0M1790.6 853.3h0M1790.8 837.1h0M1791.0 843.6h0M1791.2 829.0h0M1791.4 861.2h0M1791.5 832.9h0M1791.7 839.1h0M1791.9 832.9h0M1792.1 876.2h0M1792.2 843.5h0M1792.4 839.1h0M1792.6 841.2h0M1792.8 832.8h0M1792.9 828.9h0M1793.1 858.2h0M1793.3 823.3h0M1793.5 825.1h0M1793.7 826.9h0M1793.8 860.9h0M1794.0 855.5h0M1794.2 841.1h0M1794.4 836.8h0M1794.5 832.6h0M1794.7 826.8h0M1794.9 845.5h0M1795.1 875.8h0M1795.2 860.7h0M1795.4 838.8h0M1795.6 866.4h0M1795.8 845.5h0M1796.0 830.6h0M1796.1 836.6h0M1796.3 840.9h0M1796.5 834.5h0M1796.7 834.5h0M1796.8 850.1h0M1797.0 828.5h0M1797.2 830.5h0M1797.4 812.9h0M1797.5 845.3h0M1797.7 836.5h0M1797.9 857.7h0M1798.1 845.2h0M1798.3 834.4h0M1798.4 857.6h0M1798.6 830.4h0M1798.8 830.3h0M1799.0 849.9h0M1799.1 834.3h0M1799.3 852.4h0M1799.5 872.0h0M1799.7 834.3h0M1799.9 854.9h0M1800.0 860.2h0M1800.2 836.3h0M1800.4 847.4h0M1800.6 852.2h0M1800.7 862.9h0M1800.9 822.7h0M1801.1 860.1h0M1801.3 836.2h0M1801.4 854.7h0M1801.6 832.1h0M1801.8 849.6h0M1802.0 844.9h0M1802.2 849.6h0M1802.3 834.0h0M1802.5 859.9h0M1802.7 838.2h0M1802.9 852.0h0M1803.0 832.0h0M1803.2 830.0h0M1803.4 862.6h0M1803.6 842.5h0M1803.7 828.0h0M1803.9 847.1h0M1804.1 847.0h0M1804.3 854.4h0M1804.5 868.3h0M1804.6 859.7h0M1804.8 847.0h0M1805.0 835.9h0M1805.2 840.1h0M1805.3 862.4h0M1805.5 854.3h0M1805.7 827.9h0M1805.9 849.3h0M1806.0 822.4h0M1806.2 837.9h0M1806.4 846.8h0M1806.6 829.7h0M1806.8 842.2h0M1806.9 831.7h0M1807.1 859.4h0M1807.3 842.2h0M1807.5 892.2h0M1807.6 849.1h0M1807.8 835.7h0M1808.0 867.9h0M1808.2 892.1h0M1808.3 846.7h0M1808.5 817.0h0M1808.7 854.0h0M1808.9 870.9h0M1809.1 862.0h0M1809.2 874.0h0M1809.4 864.8h0M1809.6 856.5h0M1809.8 842.0h0M1809.9 856.5h0M1810.1 864.7h0M1810.3 829.5h0M1810.5 833.4h0M1810.7 846.5h0M1810.8 833.4h0M1811.0 837.5h0M1811.2 859.0h0M1811.4 846.4h0M1811.5 870.6h0M1811.7 822.0h0M1811.9 818.5h0M1812.1 844.0h0M1812.2 833.3h0M1812.4 851.1h0M1812.6 864.5h0M1812.8 837.4h0M1813.0 837.4h0M1813.1 864.4h0M1813.3 831.2h0M1813.5 825.5h0M1813.7 846.2h0M1813.8 853.5h0M1814.0 848.5h0M1814.2 851.0h0M1814.4 864.3h0M1814.5 848.5h0M1814.7 864.3h0M1814.9 853.4h0M1815.1 856.0h0M1815.3 835.1h0M1815.4 848.4h0M1815.6 853.3h0M1815.8 831.0h0M1816.0 841.4h0M1816.1 848.3h0M1816.3 839.2h0M1816.5 876.4h0M1816.7 853.2h0M1816.8 883.3h0M1817.0 837.0h0M1817.2 866.9h0M1817.4 848.2h0M1817.6 848.2h0M1817.7 841.3h0M1817.9 886.8h0M1818.1 832.9h0M1818.3 853.1h0M1818.4 848.1h0M1818.6 839.1h0M1818.8 845.8h0M1819.0 883.0h0M1819.1 850.5h0M1819.3 883.0h0M1819.5 853.0h0M1819.7 866.7h0M1819.9 848.0h0M1820.0 850.4h0M1820.2 848.0h0M1820.4 869.6h0M1820.6 836.8h0M1820.7 863.6h0M1820.9 872.7h0M1821.1 847.9h0M1821.3 869.5h0M1821.5 819.6h0M1821.6 875.8h0M1821.8 852.8h0M1822.0 852.8h0M1822.2 852.7h0M1822.3 872.5h0M1822.5 863.5h0M1822.7 860.6h0M1822.9 850.2h0M1823.0 845.4h0M1823.2 857.9h0M1823.4 879.0h0M1823.6 847.7h0M1823.8 860.5h0M1823.9 855.1h0M1824.1 847.7h0M1824.3 860.5h0M1824.5 869.2h0M1824.6 855.1h0M1824.8 855.1h0M1825.0 843.0h0M1825.2 840.7h0M1825.3 838.5h0M1825.5 863.2h0M1825.7 860.3h0M1825.9 845.2h0M1826.1 875.3h0M1826.2 847.5h0M1826.4 845.1h0M1826.6 840.6h0M1826.8 860.2h0M1826.9 857.5h0M1827.1 847.4h0M1827.3 860.2h0M1827.5 842.8h0M1827.6 832.2h0M1827.8 878.5h0M1828.0 852.2h0M1828.2 881.9h0M1828.4 845.0h0M1828.5 865.8h0M1828.7 860.1h0M1828.9 849.7h0M1829.1 832.1h0M1829.2 847.3h0M1829.4 842.6h0M1829.6 865.6h0M1829.8 860.0h0M1829.9 822.6h0M1830.1 834.0h0M1830.3 847.2h0M1830.5 862.7h0M1830.7 849.5h0M1830.8 836.0h0M1831.0 849.5h0M1831.2 849.5h0M1831.4 878.1h0M1831.5 812.5h0M1831.7 844.7h0M1831.9 871.5h0M1832.1 865.4h0M1832.3 838.0h0M1832.4 857.0h0M1832.6 840.2h0M1832.8 854.4h0M1833.0 877.9h0M1833.1 846.9h0M1833.3 822.4h0M1833.5 846.9h0M1833.7 840.1h0M1833.8 842.3h0M1834.0 896.5h0M1834.2 840.1h0M1834.4 859.5h0M1834.6 868.1h0M1834.7 856.8h0M1834.9 868.1h0M1835.1 831.7h0M1835.3 844.5h0M1835.4 865.1h0M1835.6 862.2h0M1835.8 856.7h0M1836.0 856.7h0M1836.1 868.0h0M1836.3 849.1h0M1836.5 871.0h0M1836.7 884.5h0M1836.9 854.0h0M1837.0 904.9h0M1837.2 849.0h0M1837.4 849.0h0M1837.6 884.4h0M1837.7 900.3h0M1837.9 874.0h0M1838.1 853.9h0M1838.3 848.9h0M1838.4 861.9h0M1838.6 853.9h0M1838.8 831.5h0M1839.0 844.2h0M1839.2 859.1h0M1839.3 859.1h0M1839.5 877.2h0M1839.7 831.4h0M1839.9 861.8h0M1840.0 909.2h0M1840.2 873.8h0M1840.4 856.3h0M1840.6 846.4h0M1840.7 884.0h0M1840.9 861.7h0M1841.1 873.7h0M1841.3 873.7h0M1841.5 904.3h0M1841.6 876.9h0M1841.8 851.1h0M1842.0 858.9h0M1842.2 853.6h0M1842.3 861.6h0M1842.5 837.3h0M1842.7 891.3h0M1842.9 864.4h0M1843.1 870.4h0M1843.2 839.4h0M1843.4 853.5h0M1843.6 835.2h0M1843.8 839.4h0M1843.9 839.4h0M1844.1 850.9h0M1844.3 876.7h0M1844.5 864.2h0M1844.6 837.2h0M1844.8 825.4h0M1845.0 856.0h0M1845.2 864.2h0M1845.4 855.9h0M1845.5 908.4h0M1845.7 850.8h0M1845.9 867.1h0M1846.1 864.1h0M1846.2 867.0h0M1846.4 843.7h0M1846.6 894.9h0M1846.8 855.8h0M1846.9 883.3h0M1847.1 883.3h0M1847.3 876.3h0M1847.5 883.2h0M1847.7 886.9h0M1847.8 863.9h0M1848.0 850.6h0M1848.2 853.1h0M1848.4 912.9h0M1848.5 848.2h0M1848.7 861.0h0M1848.9 886.8h0M1849.1 853.1h0M1849.2 879.5h0M1849.4 816.4h0M1849.6 843.4h0M1849.8 903.1h0M1850.0 853.0h0M1850.1 917.8h0M1850.3 872.8h0M1850.5 894.4h0M1850.7 882.9h0M1850.8 860.9h0M1851.0 879.3h0M1851.2 942.3h0M1851.4 866.6h0M1851.5 875.9h0M1851.7 882.8h0M1851.9 834.7h0M1852.1 879.2h0M1852.3 860.7h0M1852.4 886.4h0M1852.6 894.1h0M1852.8 847.9h0M1853.0 834.6h0M1853.1 850.3h0M1853.3 898.2h0M1853.5 875.7h0M1853.7 875.7h0M1853.9 882.6h0M1854.0 832.5h0M1854.2 902.5h0M1854.4 834.5h0M1854.6 869.3h0M1854.7 850.1h0M1854.9 860.5h0M1855.1 866.2h0M1855.3 840.8h0M1855.4 872.3h0M1855.6 882.4h0M1855.8 866.2h0M1856.0 875.5h0M1856.2 875.5h0M1856.3 840.8h0M1856.5 889.7h0M1856.7 860.4h0M1856.9 875.4h0M1857.0 860.4h0M1857.2 857.6h0M1857.4 922.1h0M1857.6 875.3h0M1857.7 845.2h0M1857.9 869.0h0M1858.1 893.5h0M1858.3 845.1h0M1858.5 863.0h0M1858.6 901.9h0M1858.8 901.9h0M1859.0 868.9h0M1859.2 878.5h0M1859.3 889.4h0M1859.5 849.8h0M1859.7 868.8h0M1859.9 893.3h0M1860.0 889.3h0M1860.2 842.7h0M1860.4 885.5h0M1860.6 875.1h0M1860.8 871.8h0M1860.9 875.0h0M1861.1 901.6h0M1861.3 885.4h0M1861.5 885.4h0M1861.6 897.2h0M1861.8 854.7h0M1862.0 897.1h0M1862.2 834.1h0M1862.3 832.0h0M1862.5 885.3h0M1862.7 889.0h0M1862.9 862.7h0M1863.1 885.2h0M1863.2 859.9h0M1863.4 897.0h0M1863.6 859.8h0M1863.8 857.1h0M1863.9 896.9h0M1864.1 854.5h0M1864.3 871.5h0M1864.5 844.7h0M1864.7 874.7h0M1864.8 874.7h0M1865.0 862.5h0M1865.2 892.7h0M1865.4 910.4h0M1865.5 885.0h0M1865.7 888.7h0M1865.9 854.4h0M1866.1 865.3h0M1866.2 865.3h0M1866.4 910.2h0M1866.6 900.9h0M1866.8 884.8h0M1867.0 854.3h0M1867.1 871.3h0M1867.3 884.8h0M1867.5 871.2h0M1867.7 881.2h0M1867.8 877.7h0M1868.0 874.4h0M1868.2 865.1h0M1868.4 844.5h0M1868.5 884.6h0M1868.7 884.6h0M1868.9 859.4h0M1869.1 856.7h0M1869.3 920.3h0M1869.4 874.2h0M1869.6 862.2h0M1869.8 877.5h0M1870.0 874.2h0M1870.1 851.5h0M1870.3 877.5h0M1870.5 892.1h0M1870.7 900.4h0M1870.8 884.4h0M1871.0 909.6h0M1871.2 864.9h0M1871.4 849.0h0M1871.6 870.9h0M1871.7 862.0h0M1871.9 880.7h0M1872.1 877.3h0M1872.3 874.0h0M1872.4 853.9h0M1872.6 848.9h0M1872.8 851.4h0M1873.0 859.1h0M1873.1 880.6h0M1873.3 900.1h0M1873.5 867.7h0M1873.7 867.7h0M1873.9 851.3h0M1874.0 873.8h0M1874.2 851.3h0M1874.4 884.1h0M1874.6 900.0h0M1874.7 873.8h0M1874.9 859.0h0M1875.1 895.6h0M1875.3 851.2h0M1875.5 877.0h0M1875.6 867.5h0M1875.8 867.5h0M1876.0 891.5h0M1876.2 873.7h0M1876.3 837.4h0M1876.5 904.2h0M1876.7 880.3h0M1876.9 904.2h0M1877.0 864.4h0M1877.2 870.4h0M1877.4 883.8h0M1877.6 880.2h0M1877.8 883.7h0M1877.9 867.3h0M1878.1 856.1h0M1878.3 856.1h0M1878.5 846.2h0M1878.6 864.3h0M1878.8 876.7h0M1879.0 848.5h0M1879.2 864.3h0M1879.3 856.0h0M1879.5 924.4h0M1879.7 887.3h0M1879.9 861.4h0M1880.1 864.2h0M1880.2 864.2h0M1880.4 870.2h0M1880.6 858.6h0M1880.8 891.0h0M1880.9 913.3h0M1881.1 891.0h0M1881.3 858.5h0M1881.5 850.8h0M1881.6 950.9h0M1881.8 913.2h0M1882.0 879.8h0M1882.2 876.4h0M1882.4 903.5h0M1882.5 864.0h0M1882.7 845.9h0M1882.9 894.8h0M1883.1 918.3h0M1883.2 869.9h0M1883.4 886.9h0M1883.6 886.9h0M1883.8 850.6h0M1883.9 908.0h0M1884.1 869.9h0M1884.3 850.6h0M1884.5 873.0h0M1884.7 918.0h0M1884.8 879.6h0M1885.0 903.2h0M1885.2 872.9h0M1885.4 886.7h0M1885.5 903.1h0M1885.7 917.9h0M1885.9 894.5h0M1886.1 883.0h0M1886.3 866.7h0M1886.4 903.0h0M1886.6 935.6h0M1886.8 852.9h0M1887.0 866.6h0M1887.1 863.7h0M1887.3 898.5h0M1887.5 898.5h0M1887.7 912.4h0M1887.8 875.9h0M1888.0 912.4h0M1888.2 872.7h0M1888.4 898.4h0M1888.6 917.5h0M1888.7 890.2h0M1888.9 890.2h0M1889.1 875.8h0M1889.3 860.7h0M1889.4 902.7h0M1889.6 912.2h0M1889.8 890.1h0M1890.0 872.5h0M1890.1 866.4h0M1890.3 890.1h0M1890.5 912.1h0M1890.7 872.5h0M1890.9 907.2h0M1891.0 917.2h0M1891.2 875.7h0M1891.4 922.6h0M1891.6 872.4h0M1891.7 860.6h0M1891.9 875.6h0M1892.1 872.4h0M1892.3 907.0h0M1892.4 911.8h0M1892.6 886.0h0M1892.8 872.3h0M1893.0 882.4h0M1893.2 878.9h0M1893.3 866.2h0M1893.5 847.6h0M1893.7 860.4h0M1893.9 872.2h0M1894.0 902.2h0M1894.2 869.1h0M1894.4 897.8h0M1894.6 902.1h0M1894.7 897.8h0M1894.9 855.0h0M1895.1 885.8h0M1895.3 875.3h0M1895.5 889.6h0M1895.6 882.1h0M1895.8 893.5h0M1896.0 872.1h0M1896.2 902.0h0M1896.3 927.8h0M1896.5 885.7h0M1896.7 889.5h0M1896.9 897.5h0M1897.1 863.0h0M1897.2 906.4h0M1897.4 885.6h0M1897.6 865.9h0M1897.8 868.8h0M1897.9 878.5h0M1898.1 878.5h0M1898.3 889.3h0M1898.5 906.3h0M1898.6 875.1h0M1898.8 889.3h0M1899.0 906.2h0M1899.2 875.0h0M1899.4 901.6h0M1899.5 916.1h0M1899.7 881.8h0M1899.9 897.2h0M1900.1 906.1h0M1900.2 885.4h0M1900.4 889.1h0M1900.6 897.2h0M1900.8 878.3h0M1900.9 921.4h0M1901.1 874.9h0M1901.3 881.7h0M1901.5 910.8h0M1901.7 881.6h0M1901.8 901.4h0M1902.0 874.8h0M1902.2 947.0h0M1902.4 892.9h0M1902.5 854.5h0M1902.7 868.5h0M1902.9 939.7h0M1903.1 885.1h0M1903.2 888.9h0M1903.4 915.6h0M1903.6 878.0h0M1903.8 849.5h0M1904.0 901.2h0M1904.1 905.7h0M1904.3 847.0h0M1904.5 920.9h0M1904.7 877.9h0M1904.8 896.8h0M1905.0 868.3h0M1905.2 939.3h0M1905.4 862.5h0M1905.5 915.4h0M1905.7 888.6h0M1905.9 920.7h0M1906.1 920.7h0M1906.3 874.5h0M1906.4 871.3h0M1906.6 856.9h0M1906.8 905.4h0M1907.0 881.2h0M1907.1 915.2h0M1907.3 877.7h0M1907.5 859.5h0M1907.7 892.4h0M1908.0 862.3h0M1908.2 859.5h0M1908.4 881.1h0M1908.6 871.2h0M1908.7 877.6h0M1908.9 905.2h0M1909.1 909.9h0M1909.3 892.2h0M1909.4 900.6h0M1909.6 862.2h0M1909.8 888.3h0M1910.0 914.9h0M1910.2 892.2h0M1910.3 880.9h0M1910.5 888.2h0M1910.7 884.5h0M1910.9 900.5h0M1911.0 920.1h0M1911.2 871.0h0M1911.4 900.4h0M1911.6 900.4h0M1911.7 877.4h0M1911.9 888.1h0M1912.1 920.0h0M1912.3 896.1h0M1912.5 888.1h0M1912.6 864.9h0M1912.8 931.6h0M1913.0 925.5h0M1913.2 884.3h0M1913.3 880.7h0M1913.5 880.7h0M1913.7 888.0h0M1913.9 891.8h0M1914.0 884.2h0M1914.2 919.7h0M1914.4 919.7h0M1914.6 873.9h0M1914.8 909.3h0M1914.9 891.8h0M1915.1 887.9h0M1915.3 887.8h0M1915.5 861.8h0M1915.6 909.2h0M1915.8 884.1h0M1916.0 909.2h0M1916.2 900.0h0M1916.3 864.6h0M1916.5 899.9h0M1916.7 904.4h0M1916.9 931.1h0M1917.1 909.1h0M1917.2 904.3h0M1917.4 904.3h0M1917.6 937.5h0M1917.8 914.0h0M1917.9 877.0h0M1918.1 919.2h0M1918.3 895.5h0M1918.5 883.9h0M1918.7 891.4h0M1918.8 883.9h0M1919.0 913.9h0M1919.2 895.4h0M1919.4 876.9h0M1919.5 876.8h0M1919.7 880.2h0M1919.9 919.0h0M1920.1 904.1h0M1920.2 891.3h0M1920.4 899.6h0M1920.6 930.6h0M1920.8 944.0h0M1921.1 883.7h0M1921.3 903.9h0M1921.5 895.2h0M1921.7 873.4h0M1921.8 850.9h0M1922.0 880.1h0M1922.2 887.3h0M1922.4 883.6h0M1922.5 908.5h0M1922.7 930.3h0M1922.9 908.5h0M1923.1 903.8h0M1923.3 918.7h0M1923.4 895.1h0M1923.6 895.1h0M1923.8 887.2h0M1924.0 846.0h0M1924.1 913.3h0M1924.3 913.3h0M1924.5 924.1h0M1924.7 895.0h0M1924.8 918.5h0M1925.0 890.9h0M1925.2 887.1h0M1925.4 887.0h0M1925.6 876.4h0M1925.7 890.9h0M1925.9 908.2h0M1926.1 908.2h0M1926.3 918.3h0M1926.4 890.8h0M1926.6 908.1h0M1926.8 886.9h0M1927.0 894.8h0M1927.1 890.7h0M1927.3 898.9h0M1927.5 898.9h0M1927.7 879.7h0M1927.9 912.9h0M1928.0 886.8h0M1928.2 918.1h0M1928.4 912.9h0M1928.6 890.6h0M1928.7 923.6h0M1929.1 918.0h0M1929.3 918.0h0M1929.5 890.6h0M1929.6 894.5h0M1929.8 886.7h0M1930.0 912.7h0M1930.2 950.1h0M1930.3 890.5h0M1930.5 886.6h0M1930.7 879.5h0M1930.9 894.4h0M1931.0 950.0h0M1931.2 917.8h0M1931.4 923.3h0M1931.6 869.7h0M1931.8 907.6h0M1931.9 903.0h0M1932.1 894.3h0M1932.3 898.5h0M1932.5 902.9h0M1932.6 863.7h0M1932.8 894.3h0M1933.0 942.2h0M1933.2 886.5h0M1933.3 879.3h0M1933.5 902.8h0M1933.7 879.3h0M1933.9 886.4h0M1934.1 886.4h0M1934.2 898.4h0M1934.4 882.7h0M1934.6 866.5h0M1934.8 917.4h0M1934.9 917.4h0M1935.1 907.3h0M1935.3 886.3h0M1935.5 907.3h0M1935.6 875.8h0M1935.8 882.6h0M1936.0 917.3h0M1936.2 863.5h0M1936.4 912.1h0M1936.5 898.2h0M1936.7 902.5h0M1936.9 922.7h0M1937.1 917.2h0M1937.2 902.5h0M1937.4 912.0h0M1937.6 922.6h0M1937.8 893.9h0M1937.9 928.4h0M1938.1 889.9h0M1938.3 898.0h0M1938.5 934.7h0M1938.7 917.0h0M1938.8 889.8h0M1939.0 889.8h0M1939.2 878.9h0M1939.4 916.9h0M1939.5 922.4h0M1939.7 928.2h0M1939.9 928.2h0M1940.1 965.5h0M1940.3 948.6h0M1940.4 922.3h0M1940.6 941.2h0M1940.8 875.4h0M1941.0 882.3h0M1941.1 965.3h0M1941.3 906.7h0M1941.5 902.1h0M1941.7 902.1h0M1941.8 906.7h0M1942.0 902.1h0M1942.2 911.5h0M1942.4 893.5h0M1942.6 916.6h0M1942.7 882.1h0M1942.9 934.1h0M1943.1 911.4h0M1943.3 893.5h0M1943.4 882.1h0M1943.6 906.5h0M1943.8 893.4h0M1944.0 956.0h0M1944.1 901.9h0M1944.3 893.4h0M1944.5 889.4h0M1944.7 872.0h0M1945.0 911.2h0M1945.2 921.8h0M1945.4 916.3h0M1945.6 921.8h0M1945.7 921.7h0M1945.9 911.2h0M1946.1 878.4h0M1946.3 893.2h0M1946.4 875.1h0M1946.6 893.2h0M1946.8 940.4h0M1947.0 906.2h0M1947.2 927.4h0M1947.3 933.6h0M1947.5 885.4h0M1947.7 881.8h0M1947.9 927.3h0M1948.0 901.6h0M1948.2 927.3h0M1948.4 933.5h0M1948.6 927.2h0M1948.7 927.2h0M1948.9 927.2h0M1949.1 940.1h0M1949.3 940.0h0M1949.5 910.8h0M1949.6 897.1h0M1949.8 940.0h0M1950.0 906.0h0M1950.2 947.2h0M1950.3 939.9h0M1950.5 915.8h0M1950.7 905.9h0M1950.9 933.2h0M1951.1 933.2h0M1951.2 897.0h0M1951.4 947.0h0M1951.6 888.9h0M1951.8 878.1h0M1951.9 946.9h0M1952.1 926.9h0M1952.3 921.1h0M1952.5 926.8h0M1952.6 874.7h0M1952.8 946.8h0M1953.0 921.0h0M1953.2 901.2h0M1953.4 885.0h0M1953.5 932.9h0M1953.7 910.5h0M1953.9 926.7h0M1954.1 905.6h0M1954.2 915.5h0M1954.4 905.6h0M1954.6 915.5h0M1954.8 901.0h0M1954.9 896.7h0M1955.1 877.9h0M1955.3 901.0h0M1955.5 901.0h0M1955.7 910.3h0M1955.8 932.6h0M1956.0 877.8h0M1956.2 915.3h0M1956.4 910.2h0" stroke="#3cb371" stroke-width="7.4" stroke-linecap="round" fill="none" clip-path="url(#clt1)"/>
<path d="M1558.0 646.4l1.3 2.7 1.4 2.6 1.3 2.6 1.3 2.6 1.4 2.6 1.3 2.5 1.3 2.5 1.4 2.5 1.3 2.4 1.3 2.4 1.4 2.4 1.3 2.4 1.3 2.3 1.4 2.3 1.3 2.2 1.3 2.3 1.3 2.2 1.4 2.1 1.3 2.2 1.3 2.1 1.4 2.1 1.3 2 1.3 2 1.4 2 1.3 2 1.3 1.9 1.4 1.9 1.3 1.9 1.3 1.8 1.4 1.9 1.3 1.7 1.3 1.8 1.4 1.7 1.3 1.7 1.3 1.7 1.4 1.7 1.3 1.6 1.3 1.6 1.4 1.5 1.3 1.6 1.3 1.5 1.4 1.5 1.3 1.5 1.3 1.4 1.4 1.4 1.3 1.4 1.3 1.4 1.4 1.4 1.3 1.3 1.3 1.3 1.3 1.3 1.4 1.3 1.3 1.2 1.3 1.3 1.4 1.2 1.3 1.2 1.3 1.1 1.4 1.2 1.3 1.1 1.3 1.2 1.4 1.1 1.3 1 1.3 1.1 1.4 1.1 1.3 1 1.3 1.1 1.4 1 1.3 1 1.3 1 1.4 .9 1.3 1 1.3 .9 1.4 1 1.3 .9 1.3 .9 1.4 .9 1.3 .9 1.3 .9 1.4 .9 1.3 .8 1.3 .9 1.3 .8 1.4 .9 1.3 .8 1.3 .8 1.4 .8 1.3 .8 1.3 .8 1.4 .8 1.3 .8 1.3 .8 1.4 .7 1.3 .8 1.3 .8 1.4 .7 1.3 .7 1.3 .8 1.4 .7 1.3 .7 1.3 .8 1.4 .7 1.3 .7 1.3 .7 1.4 .7 1.3 .7 1.3 .7 1.4 .7 1.3 .7 1.3 .7 1.4 .6 1.3 .7 1.3 .7 1.4 .7 1.3 .6 1.3 .7 1.3 .7 1.4 .6 1.3 .7 1.3 .6 1.4 .7 1.3 .6 1.3 .7 1.4 .6 1.3 .7 1.3 .6 1.4 .6 1.3 .7 1.3 .6 1.4 .6 1.3 .7 1.3 .6 1.4 .6 1.3 .7 1.3 .6 1.4 .6 1.3 .6 1.3 .7 1.4 .6 1.3 .6 1.3 .6 1.4 .6 1.3 .6 1.3 .6 1.4 .7 1.3 .6 1.3 .6 1.4 .6 1.3 .6 1.3 .6 1.3 .6 1.4 .6 1.3 .6 1.3 .6 1.4 .6 1.3 .6 1.3 .6 1.4 .6 1.3 .6 1.3 .6 1.4 .6 1.3 .6 1.3 .6 1.4 .6 1.3 .6 1.3 .6 1.4 .6 1.3 .6 1.3 .6 1.4 .6 1.3 .6 1.3 .6 1.4 .6 1.3 .6 1.3 .6 1.4 .6 1.3 .6 1.3 .6 1.4 .6 1.3 .6 1.3 .5 1.3 .6 1.4 .6 1.3 .6 1.3 .6 1.4 .6 1.3 .6 1.3 .6 1.4 .6 1.3 .6 1.3 .5 1.4 .6 1.3 .6 1.3 .6 1.4 .6 1.3 .6 1.3 .6 1.4 .6 1.3 .6 1.3 .5 1.4 .6 1.3 .6 1.3 .6 1.4 .6 1.3 .6 1.3 .6 1.4 .6 1.3 .6 1.3 .5 1.4 .6 1.3 .6 1.3 .6 1.4 .6 1.3 .6 1.3 .6 1.3 .5 1.4 .6 1.3 .6 1.3 .6 1.4 .6 1.3 .6 1.3 .6 1.4 .6 1.3 .5 1.3 .6 1.4 .6 1.3 .6 1.3 .6 1.4 .6 1.3 .6 1.3 .5 1.4 .6 1.3 .6 1.3 .6 1.4 .6 1.3 .6 1.3 .6 1.4 .5 1.3 .6 1.3 .6 1.4 .6 1.3 .6 1.3 .6 1.4 .6 1.3 .5 1.3 .6 1.3 .6 1.4 .6 1.3 .6 1.3 .6 1.4 .6 1.3 .5 1.3 .6 1.4 .6 1.3 .6 1.3 .6 1.4 .6 1.3 .5 1.3 .6 1.4 .6 1.3 .6 1.3 .6 1.4 .6 1.3 .6 1.3 .5 1.4 .6 1.3 .6 1.3 .6 1.4 .6 1.3 .6 1.3 .6 1.4 .5 1.3 .6 1.3 .6 1.4 .6 1.3 .6 1.3 .6 1.4 .5 1.3 .6 1.3 .6 1.3 .6 1.4 .6 1.3 .6 1.3 .6 1.4 .5 1.3 .6 1.3 .6 1.4 .6 1.3 .6 1.3 .6 1.4 .6 1.3 .5 1.3 .6 1.4 .6 1.3 .6 1.3 .6 1.4 .6 1.3 .5 1.3 .6 1.4 .6" fill="none" stroke="#000" stroke-width="3.2" stroke-linejoin="round" clip-path="url(#clt1)"/>
<rect x="1758.6" y="625" width="209" height="91" rx="6" fill="#fff" fill-opacity="0.8" stroke="#8a8a8a" stroke-width="1.6"/>
<text x="1770.6" y="657.6" font-size="36" font-family="'Liberation Sans', Arial, sans-serif">τ</text>
<text x="1785.1" y="662.6" font-size="22" font-family="'Liberation Sans', Arial, sans-serif">1</text>
<text x="1801.6" y="657.6" font-size="33" font-family="'Liberation Sans', Arial, sans-serif">= 22.21 ns</text>
<text x="1770.6" y="700.3" font-size="36" font-family="'Liberation Sans', Arial, sans-serif">τ</text>
<text x="1785.1" y="705.3" font-size="22" font-family="'Liberation Sans', Arial, sans-serif">2</text>
<text x="1801.6" y="700.3" font-size="33" font-family="'Liberation Sans', Arial, sans-serif">= 3.4 ns</text>
<rect x="1537.8" y="616.7" width="437.8" height="351.8" fill="none" stroke="#000" stroke-width="2"/>
<path d="M1558.0 968.5v7.5M1646.5 968.5v7.5M1735.0 968.5v7.5M1823.6 968.5v7.5M1912.1 968.5v7.5M1537.8 775.8h-7M1537.8 914.7h-4M1537.8 879.7h-4M1537.8 854.9h-4M1537.8 835.6h-4M1537.8 819.9h-4M1537.8 806.6h-4M1537.8 795.1h-4M1537.8 784.9h-4M1537.8 716.0h-4M1537.8 681.0h-4M1537.8 656.2h-4M1537.8 636.9h-4M1537.8 621.2h-4" stroke="#000" stroke-width="1.7" fill="none"/>
<text x="1558" y="999.5" font-size="27" text-anchor="middle" font-family="'Liberation Sans', Arial, sans-serif" >0</text>
<text x="1646.5" y="999.5" font-size="27" text-anchor="middle" font-family="'Liberation Sans', Arial, sans-serif" >10</text>
<text x="1735" y="999.5" font-size="27" text-anchor="middle" font-family="'Liberation Sans', Arial, sans-serif" >20</text>
<text x="1823.6" y="999.5" font-size="27" text-anchor="middle" font-family="'Liberation Sans', Arial, sans-serif" >30</text>
<text x="1912.1" y="999.5" font-size="27" text-anchor="middle" font-family="'Liberation Sans', Arial, sans-serif" >40</text>
<text x="1518.3" y="784" font-size="27" text-anchor="end" font-family="'Liberation Sans', Arial, sans-serif" >10</text>
<text x="1518.8" y="766.8" font-size="18.5" text-anchor="start" font-family="'Liberation Sans', Arial, sans-serif" >2</text>
<text x="1723.7" y="1036.6" font-size="31" font-style="italic" font-family="'Liberation Sans', Arial, sans-serif">τ,</text>
<text x="1748.7" y="1036.6" font-size="31" text-anchor="start" font-family="'Liberation Sans', Arial, sans-serif" >ns</text>
<text transform="translate(1474.5,883.4) rotate(-90)" font-size="31.5" text-anchor="start" font-family="'Liberation Sans', Arial, sans-serif">Intensity, a.u.</text>
<clipPath id="clt2"><rect x="1539.3" y="1130.6" width="436.60000000000014" height="350.3000000000002"/></clipPath>
<path d="M1558.6 1147.4h0M1559.3 1147.6h0M1560.0 1149.0h0M1560.7 1153.6h0M1561.3 1152.8h0M1562.0 1154.8h0M1562.7 1153.1h0M1563.4 1156.8h0M1564.1 1156.3h0M1564.8 1158.5h0M1565.4 1161.5h0M1566.1 1158.7h0M1566.8 1161.1h0M1567.5 1159.3h0M1568.2 1165.5h0M1568.9 1165.4h0M1569.5 1164.2h0M1570.2 1166.5h0M1570.9 1164.4h0M1571.6 1172.1h0M1572.3 1171.9h0M1573.0 1173.2h0M1573.6 1175.5h0M1574.3 1172.1h0M1575.0 1178.2h0M1575.7 1176.1h0M1576.4 1183.1h0M1577.1 1181.4h0M1577.8 1181.6h0M1578.4 1181.8h0M1579.1 1180.3h0M1579.8 1182.6h0M1580.5 1186.4h0M1581.2 1184.1h0M1581.9 1185.0h0M1582.5 1192.6h0M1583.2 1187.8h0M1583.9 1191.5h0M1584.6 1193.5h0M1585.3 1193.2h0M1586.0 1187.8h0M1586.6 1192.3h0M1587.3 1195.6h0M1588.0 1189.6h0M1588.7 1200.7h0M1589.4 1197.7h0M1590.1 1195.7h0M1590.7 1198.9h0M1591.4 1197.9h0M1592.1 1198.6h0M1592.8 1203.9h0M1593.5 1200.7h0M1594.2 1207.1h0M1594.9 1205.2h0M1595.5 1205.8h0M1596.2 1201.2h0M1596.9 1207.4h0M1597.6 1206.6h0M1598.3 1207.9h0M1599.0 1208.9h0M1599.6 1204.2h0M1600.3 1207.3h0M1601.0 1211.6h0M1601.7 1214.6h0M1602.4 1206.3h0M1603.1 1211.0h0M1603.7 1220.3h0M1604.4 1211.2h0M1605.1 1212.5h0M1605.8 1213.5h0M1606.5 1214.9h0M1607.2 1221.1h0M1607.8 1221.1h0M1608.5 1215.8h0M1609.2 1219.3h0M1609.9 1219.8h0M1610.6 1219.4h0M1611.3 1223.2h0M1612.0 1229.2h0M1612.6 1218.5h0M1613.3 1218.2h0M1614.0 1223.2h0M1614.7 1222.9h0M1615.4 1219.7h0M1616.1 1229.2h0M1616.7 1229.3h0M1617.4 1227.7h0M1618.1 1227.8h0M1618.8 1234.5h0M1619.5 1224.9h0M1620.2 1229.4h0M1620.8 1232.9h0M1621.5 1226.9h0M1622.2 1225.6h0M1622.9 1227.6h0M1623.6 1230.8h0M1624.3 1231.2h0M1624.9 1236.8h0M1625.6 1237.6h0M1626.3 1233.7h0M1627.0 1232.3h0M1627.7 1224.6h0M1628.4 1232.8h0M1629.1 1236.3h0M1629.7 1239.8h0M1630.4 1233.0h0M1631.1 1240.2h0M1631.8 1242.2h0M1632.5 1232.1h0M1633.2 1238.3h0M1633.8 1235.5h0M1634.5 1239.9h0M1635.2 1241.3h0M1635.9 1225.4h0M1636.6 1245.0h0M1637.3 1243.2h0M1637.9 1248.6h0M1638.6 1244.0h0M1639.3 1243.2h0M1640.0 1240.2h0M1640.7 1244.6h0M1641.4 1249.5h0M1642.0 1232.4h0M1642.7 1250.3h0M1643.4 1248.7h0M1644.1 1234.3h0M1644.8 1246.0h0M1645.5 1249.9h0M1646.2 1242.5h0M1646.8 1257.2h0M1647.5 1253.8h0M1648.2 1250.9h0M1648.9 1254.7h0M1649.6 1251.9h0M1650.3 1239.4h0M1650.9 1254.4h0M1651.6 1250.8h0M1652.3 1251.4h0M1653.0 1250.2h0M1653.7 1260.8h0M1654.4 1253.5h0M1655.0 1243.6h0M1655.7 1254.9h0M1656.4 1246.1h0M1657.1 1253.1h0M1657.8 1255.8h0M1658.5 1261.8h0M1659.1 1252.4h0M1659.8 1249.6h0M1660.5 1253.0h0M1661.2 1255.7h0M1661.9 1258.6h0M1662.6 1264.0h0M1663.3 1261.5h0M1663.9 1254.9h0M1664.6 1257.8h0M1665.3 1250.8h0M1666.0 1259.3h0M1666.7 1257.5h0M1667.4 1254.5h0M1668.0 1265.1h0M1668.7 1253.1h0M1669.4 1258.9h0M1670.1 1262.4h0M1670.8 1267.7h0M1671.5 1259.5h0M1672.1 1260.7h0M1672.8 1254.2h0M1673.5 1267.8h0M1674.2 1268.3h0M1674.9 1255.2h0M1675.6 1270.7h0M1676.2 1266.4h0M1676.9 1262.4h0M1677.6 1267.8h0M1678.3 1272.5h0M1679.0 1255.2h0M1679.7 1258.5h0M1680.4 1272.2h0M1681.0 1265.8h0M1681.7 1270.9h0M1682.4 1269.7h0M1683.1 1270.2h0M1683.8 1272.9h0M1684.5 1259.2h0M1685.1 1265.7h0M1685.8 1274.9h0M1686.5 1266.6h0M1687.2 1265.5h0M1687.9 1264.4h0M1688.6 1271.1h0M1689.2 1276.2h0M1689.9 1258.2h0M1690.6 1271.9h0M1691.3 1275.9h0M1692.0 1290.2h0M1692.7 1280.8h0M1693.3 1284.8h0M1694.0 1279.3h0M1694.7 1276.6h0M1695.4 1263.6h0M1696.1 1274.7h0M1696.8 1270.6h0M1697.5 1289.3h0M1698.1 1272.7h0M1698.8 1284.6h0M1699.5 1276.6h0M1700.2 1285.8h0M1700.9 1275.8h0M1701.6 1287.9h0M1702.2 1282.7h0M1702.9 1279.3h0M1703.6 1268.7h0M1704.3 1277.2h0M1705.0 1283.0h0M1705.7 1269.6h0M1706.3 1286.4h0M1707.0 1279.4h0M1707.7 1286.2h0M1708.4 1279.3h0M1709.1 1289.8h0M1709.8 1288.1h0M1710.4 1278.4h0M1711.1 1282.2h0M1711.8 1280.1h0M1712.5 1287.7h0M1713.2 1294.0h0M1713.9 1279.9h0M1714.6 1285.3h0M1715.2 1281.0h0M1715.9 1286.5h0M1716.6 1280.2h0M1717.3 1297.8h0M1718.0 1287.8h0M1718.7 1286.2h0M1719.3 1287.6h0M1720.0 1278.5h0M1720.7 1290.5h0M1721.4 1293.6h0M1722.1 1295.2h0M1722.8 1285.0h0M1723.4 1287.8h0M1724.1 1285.5h0M1724.8 1297.5h0M1725.5 1291.4h0M1726.2 1291.3h0M1726.9 1303.9h0M1727.5 1283.7h0M1728.2 1289.5h0M1728.9 1299.6h0M1729.6 1281.4h0M1730.3 1282.0h0M1731.0 1299.3h0M1731.7 1315.4h0M1732.3 1285.3h0M1733.0 1291.3h0M1733.7 1293.7h0M1734.4 1301.7h0M1735.1 1293.5h0M1735.8 1291.0h0M1736.4 1298.6h0M1737.1 1286.2h0M1737.8 1299.3h0M1738.5 1299.2h0M1739.2 1288.2h0M1739.9 1292.1h0M1740.5 1297.1h0M1741.2 1298.0h0M1741.9 1290.3h0M1742.6 1308.8h0M1743.3 1292.5h0M1744.0 1295.8h0M1744.6 1288.4h0M1745.3 1291.5h0M1746.0 1310.6h0M1746.7 1293.8h0M1747.4 1298.1h0M1748.1 1300.8h0M1748.8 1304.7h0M1749.4 1306.7h0M1750.1 1297.8h0M1750.8 1294.2h0M1751.5 1300.4h0M1752.2 1294.9h0M1752.9 1295.7h0M1753.5 1315.4h0M1754.2 1295.5h0M1754.9 1310.4h0M1755.6 1311.5h0M1756.3 1300.8h0M1757.0 1314.9h0M1757.6 1308.9h0M1758.3 1308.8h0M1759.0 1313.3h0M1759.7 1296.7h0M1760.4 1306.4h0M1761.1 1314.3h0M1761.7 1294.8h0M1762.4 1305.1h0M1763.1 1300.0h0M1763.8 1317.7h0M1764.5 1317.6h0M1765.2 1324.5h0M1765.9 1311.2h0M1766.5 1317.3h0M1767.2 1309.9h0M1767.9 1307.6h0M1768.6 1303.3h0M1769.3 1319.6h0M1770.0 1311.9h0M1770.6 1323.6h0M1771.3 1303.0h0M1772.0 1311.6h0M1772.7 1344.4h0M1773.4 1311.5h0M1774.1 1317.6h0M1774.7 1317.5h0M1775.4 1318.7h0M1776.1 1321.3h0M1776.8 1322.7h0M1777.5 1314.6h0M1778.2 1296.7h0M1778.8 1352.2h0M1779.5 1302.2h0M1780.2 1308.4h0M1780.9 1316.7h0M1781.6 1336.6h0M1782.3 1321.9h0M1783.0 1331.1h0M1783.6 1317.6h0M1784.3 1320.2h0M1785.0 1312.5h0M1785.7 1332.3h0M1786.4 1324.3h0M1787.1 1327.2h0M1787.7 1341.4h0M1788.4 1322.5h0M1789.1 1330.1h0M1789.8 1307.4h0M1790.5 1319.5h0M1791.2 1311.8h0M1791.8 1312.9h0M1792.5 1336.6h0M1793.2 1327.9h0M1793.9 1329.5h0M1794.6 1303.9h0M1795.3 1320.3h0M1795.9 1318.8h0M1796.6 1306.8h0M1797.3 1330.6h0M1798.0 1314.8h0M1798.7 1322.7h0M1799.4 1327.1h0M1800.1 1339.3h0M1800.7 1333.6h0M1801.4 1333.5h0M1802.1 1306.3h0M1802.8 1323.7h0M1803.5 1316.7h0M1804.2 1347.0h0M1804.8 1328.0h0M1805.5 1331.2h0M1806.2 1323.3h0M1806.9 1344.3h0M1807.6 1331.0h0M1808.3 1342.0h0M1808.9 1324.5h0M1809.6 1327.5h0M1810.3 1350.6h0M1811.0 1353.0h0M1811.7 1332.1h0M1812.4 1330.4h0M1813.0 1328.7h0M1813.7 1335.4h0M1814.4 1328.5h0M1815.1 1341.0h0M1815.8 1313.1h0M1816.5 1345.0h0M1817.2 1336.8h0M1817.8 1338.7h0M1818.5 1340.5h0M1819.2 1342.5h0M1819.9 1336.5h0M1820.6 1342.3h0M1821.3 1334.5h0M1821.9 1364.9h0M1822.6 1340.0h0M1823.3 1346.2h0M1824.0 1327.5h0M1824.7 1330.7h0M1825.4 1345.9h0M1826.0 1350.4h0M1826.7 1343.6h0M1827.4 1335.6h0M1828.1 1325.5h0M1828.8 1355.1h0M1829.5 1347.6h0M1830.1 1345.3h0M1830.8 1349.7h0M1831.5 1347.3h0M1832.2 1335.1h0M1832.9 1344.9h0M1833.6 1354.3h0M1834.3 1349.3h0M1834.9 1372.4h0M1835.6 1359.4h0M1836.3 1349.0h0M1837.0 1346.6h0M1837.7 1348.8h0M1838.4 1336.3h0M1839.0 1351.0h0M1839.7 1361.7h0M1840.4 1337.9h0M1841.1 1332.4h0M1841.8 1350.6h0M1842.5 1350.6h0M1843.1 1339.6h0M1843.8 1352.8h0M1844.5 1332.1h0M1845.2 1357.9h0M1845.9 1333.7h0M1846.6 1355.0h0M1847.2 1337.2h0M1847.9 1366.5h0M1848.6 1373.3h0M1849.3 1357.4h0M1850.0 1349.6h0M1850.7 1345.0h0M1851.4 1349.5h0M1852.0 1357.0h0M1852.7 1359.7h0M1853.4 1336.7h0M1854.1 1340.5h0M1854.8 1365.4h0M1855.5 1346.7h0M1856.1 1334.6h0M1856.8 1342.2h0M1857.5 1353.6h0M1858.2 1344.2h0M1858.9 1356.1h0M1859.6 1379.1h0M1860.2 1350.8h0M1860.9 1348.4h0M1861.6 1358.5h0M1862.3 1358.4h0M1863.0 1364.2h0M1863.7 1355.5h0M1864.3 1361.0h0M1865.0 1370.5h0M1865.7 1374.1h0M1866.4 1367.0h0M1867.1 1373.8h0M1867.8 1370.1h0M1868.5 1345.4h0M1869.1 1377.4h0M1869.8 1366.5h0M1870.5 1369.7h0M1871.2 1373.2h0M1871.9 1360.1h0M1872.6 1360.0h0M1873.2 1362.9h0M1873.9 1380.6h0M1874.6 1354.3h0M1875.3 1376.4h0M1876.0 1365.7h0M1876.7 1368.9h0M1877.3 1365.5h0M1878.0 1362.3h0M1878.7 1375.8h0M1879.4 1368.5h0M1880.1 1375.6h0M1880.8 1399.3h0M1881.4 1375.4h0M1882.1 1388.3h0M1882.8 1356.1h0M1883.5 1361.7h0M1884.2 1387.9h0M1884.9 1398.4h0M1885.6 1404.5h0M1886.2 1367.7h0M1886.9 1355.7h0M1887.6 1370.9h0M1888.3 1382.6h0M1889.0 1374.4h0M1889.7 1378.2h0M1890.3 1374.2h0M1891.0 1378.0h0M1891.7 1377.9h0M1892.4 1382.0h0M1893.1 1426.5h0M1893.8 1347.7h0M1894.4 1373.7h0M1895.1 1366.7h0M1895.8 1396.3h0M1896.5 1381.4h0M1897.2 1366.5h0M1897.9 1377.1h0M1898.5 1395.8h0M1899.2 1377.0h0M1899.9 1401.4h0M1900.6 1376.8h0M1901.3 1390.0h0M1902.0 1380.7h0M1902.7 1400.9h0M1903.3 1369.1h0M1904.0 1376.4h0M1904.7 1394.7h0M1905.4 1349.2h0M1906.1 1414.1h0M1906.8 1362.4h0M1907.4 1384.4h0M1908.1 1394.2h0M1908.8 1384.2h0M1909.5 1379.8h0M1910.2 1393.8h0M1910.9 1365.1h0M1911.5 1371.8h0M1912.2 1430.8h0M1912.9 1405.4h0M1913.6 1375.3h0M1914.3 1388.1h0M1915.0 1398.7h0M1915.6 1398.6h0M1916.3 1420.0h0M1917.0 1383.2h0M1917.7 1378.8h0M1918.4 1440.6h0M1919.1 1404.3h0M1919.8 1454.7h0M1920.4 1404.1h0M1921.1 1439.6h0M1921.8 1358.3h0M1922.5 1392.1h0M1923.2 1382.4h0M1923.9 1391.9h0M1924.5 1386.8h0M1925.2 1410.1h0M1925.9 1391.6h0M1926.6 1451.8h0M1927.3 1396.9h0M1928.0 1373.9h0M1928.6 1381.9h0M1929.3 1417.2h0M1930.0 1436.9h0M1930.7 1373.7h0M1931.4 1360.5h0M1932.1 1402.2h0M1932.7 1416.5h0M1933.4 1390.7h0M1934.1 1408.6h0M1934.8 1390.6h0M1935.5 1385.6h0M1936.2 1373.2h0M1936.9 1415.7h0M1937.5 1376.9h0M1938.2 1390.2h0M1938.9 1464.6h0M1939.6 1447.3h0M1940.3 1423.8h0M1941.0 1446.9h0M1941.6 1414.9h0M1942.3 1423.4h0M1943.0 1414.7h0M1943.7 1380.4h0M1944.4 1389.5h0M1945.1 1376.3h0M1945.7 1389.4h0M1946.4 1432.7h0M1947.1 1414.0h0M1947.8 1400.1h0M1948.5 1372.2h0M1949.2 1413.7h0M1949.8 1406.3h0M1950.5 1413.5h0M1951.2 1394.0h0M1951.9 1384.1h0M1952.6 1371.9h0M1953.3 1388.6h0M1954.6 1379.5h0M1955.3 1388.4h0" stroke="#ff4500" stroke-width="7.4" stroke-linecap="round" fill="none" clip-path="url(#clt2)"/>
<path d="M1558.6 1146.9l1.3 2.6 1.4 2.6 1.3 2.5 1.3 2.5 1.3 2.4 1.4 2.5 1.3 2.3 1.3 2.4 1.3 2.3 1.4 2.2 1.3 2.2 1.3 2.2 1.3 2.1 1.4 2.1 1.3 2.1 1.3 2 1.4 2 1.3 1.9 1.3 1.9 1.3 1.9 1.4 1.8 1.3 1.8 1.3 1.7 1.3 1.7 1.4 1.7 1.3 1.6 1.3 1.6 1.4 1.6 1.3 1.5 1.3 1.5 1.3 1.5 1.4 1.5 1.3 1.4 1.3 1.3 1.3 1.4 1.4 1.3 1.3 1.3 1.3 1.3 1.3 1.2 1.4 1.2 1.3 1.2 1.3 1.2 1.4 1.1 1.3 1.2 1.3 1.1 1.3 1.1 1.4 1 1.3 1.1 1.3 1 1.3 1 1.4 1 1.3 1 1.3 1 1.3 .9 1.4 1 1.3 .9 1.3 .9 1.4 .9 1.3 .9 1.3 .9 1.3 .8 1.4 .9 1.3 .9 1.3 .8 1.3 .8 1.4 .9 1.3 .8 1.3 .8 1.4 .8 1.3 .8 1.3 .8 1.3 .7 1.4 .8 1.3 .8 1.3 .8 1.3 .7 1.4 .8 1.3 .7 1.3 .8 1.3 .7 1.4 .8 1.3 .7 1.3 .7 1.4 .8 1.3 .7 1.3 .7 1.3 .7 1.4 .7 1.3 .8 1.3 .7 1.3 .7 1.4 .7 1.3 .7 1.3 .7 1.3 .7 1.4 .7 1.3 .7 1.3 .7 1.4 .7 1.3 .7 1.3 .7 1.3 .7 1.4 .7 1.3 .7 1.3 .7 1.3 .6 1.4 .7 1.3 .7 1.3 .7 1.4 .7 1.3 .7 1.3 .6 1.3 .7 1.4 .7 1.3 .7 1.3 .7 1.3 .6 1.4 .7 1.3 .7 1.3 .7 1.3 .7 1.4 .6 1.3 .7 1.3 .7 1.4 .7 1.3 .6 1.3 .7 1.3 .7 1.4 .7 1.3 .6 1.3 .7 1.3 .7 1.4 .7 1.3 .6 1.3 .7 1.3 .7 1.4 .6 1.3 .7 1.3 .7 1.4 .7 1.3 .6 1.3 .7 1.3 .7 1.4 .7 1.3 .6 1.3 .7 1.3 .7 1.4 .6 1.3 .7 1.3 .7 1.4 .6 1.3 .7 1.3 .7 1.3 .7 1.4 .6 1.3 .7 1.3 .7 1.3 .6 1.4 .7 1.3 .7 1.3 .7 1.3 .6 1.4 .7 1.3 .7 1.3 .6 1.4 .7 1.3 .7 1.3 .6 1.3 .7 1.4 .7 1.3 .7 1.3 .6 1.3 .7 1.4 .7 1.3 .6 1.3 .7 1.3 .7 1.4 .6 1.3 .7 1.3 .7 1.4 .6 1.3 .7 1.3 .7 1.3 .7 1.4 .6 1.3 .7 1.3 .7 1.3 .6 1.4 .7 1.3 .7 1.3 .6 1.3 .7 1.4 .7 1.3 .6 1.3 .7 1.4 .7 1.3 .7 1.3 .6 1.3 .7 1.4 .7 1.3 .6 1.3 .7 1.3 .7 1.4 .6 1.3 .7 1.3 .7 1.4 .6 1.3 .7 1.3 .7 1.3 .7 1.4 .6 1.3 .7 1.3 .7 1.3 .6 1.4 .7 1.3 .7 1.3 .6 1.3 .7 1.4 .7 1.3 .6 1.3 .7 1.4 .7 1.3 .7 1.3 .6 1.3 .7 1.4 .7 1.3 .6 1.3 .7 1.3 .7 1.4 .6 1.3 .7 1.3 .7 1.3 .6 1.4 .7 1.3 .7 1.3 .7 1.4 .6 1.3 .7 1.3 .7 1.3 .6 1.4 .7 1.3 .7 1.3 .6 1.3 .7 1.4 .7 1.3 .6 1.3 .7 1.4 .7 1.3 .6 1.3 .7 1.3 .7 1.4 .7 1.3 .6 1.3 .7 1.3 .7 1.4 .6 1.3 .7 1.3 .7 1.3 .6 1.4 .7 1.3 .7 1.3 .6 1.4 .7 1.3 .7 1.3 .7 1.3 .6 1.4 .7 1.3 .7 1.3 .6 1.3 .7 1.4 .7 1.3 .6 1.3 .7 1.3 .7 1.4 .6 1.3 .7 1.3 .7 1.4 .7 1.3 .6 1.3 .7 1.3 .7 1.4 .6 1.3 .7 1.3 .7 1.3 .6 1.4 .7 1.3 .7 1.3 .6 1.4 .7 1.3 .7 1.3 .7 1.3 .6 1.4 .7 1.3 .7 1.3 .6 1.3 .7 1.4 .7 1.3 .6 1.3 .7" fill="none" stroke="#000" stroke-width="3.2" stroke-linejoin="round" clip-path="url(#clt2)"/>
<rect x="1760" y="1141" width="208.1" height="90.3" rx="6" fill="#fff" fill-opacity="0.8" stroke="#8a8a8a" stroke-width="1.6"/>
<text x="1772" y="1173.5" font-size="36" font-family="'Liberation Sans', Arial, sans-serif">τ</text>
<text x="1786.5" y="1178.5" font-size="22" font-family="'Liberation Sans', Arial, sans-serif">1</text>
<text x="1803" y="1173.5" font-size="33" font-family="'Liberation Sans', Arial, sans-serif">= 3.12 ns</text>
<text x="1772" y="1216.5" font-size="36" font-family="'Liberation Sans', Arial, sans-serif">τ</text>
<text x="1786.5" y="1221.5" font-size="22" font-family="'Liberation Sans', Arial, sans-serif">2</text>
<text x="1803" y="1216.5" font-size="33" font-family="'Liberation Sans', Arial, sans-serif">= 0.58 ns</text>
<rect x="1539.3" y="1130.6" width="436.6" height="350.3" fill="none" stroke="#000" stroke-width="2"/>
<path d="M1558.6 1480.9v7.5M1627.0 1480.9v7.5M1695.4 1480.9v7.5M1763.8 1480.9v7.5M1832.2 1480.9v7.5M1900.6 1480.9v7.5M1969.0 1480.9v7.5M1539.3 1405.6h-7M1539.3 1281.7h-7M1539.3 1157.8h-7M1539.3 1470.4h-4M1539.3 1454.9h-4M1539.3 1442.9h-4M1539.3 1433.1h-4M1539.3 1424.8h-4M1539.3 1417.6h-4M1539.3 1411.3h-4M1539.3 1368.3h-4M1539.3 1346.5h-4M1539.3 1331.0h-4M1539.3 1319.0h-4M1539.3 1309.2h-4M1539.3 1300.9h-4M1539.3 1293.7h-4M1539.3 1287.4h-4M1539.3 1244.4h-4M1539.3 1222.6h-4M1539.3 1207.1h-4M1539.3 1195.1h-4M1539.3 1185.3h-4M1539.3 1177.0h-4M1539.3 1169.8h-4M1539.3 1163.5h-4" stroke="#000" stroke-width="1.7" fill="none"/>
<text x="1558.6" y="1513.4" font-size="27" text-anchor="middle" font-family="'Liberation Sans', Arial, sans-serif" >0</text>
<text x="1627" y="1513.4" font-size="27" text-anchor="middle" font-family="'Liberation Sans', Arial, sans-serif" >2</text>
<text x="1695.4" y="1513.4" font-size="27" text-anchor="middle" font-family="'Liberation Sans', Arial, sans-serif" >4</text>
<text x="1763.8" y="1513.4" font-size="27" text-anchor="middle" font-family="'Liberation Sans', Arial, sans-serif" >6</text>
<text x="1832.2" y="1513.4" font-size="27" text-anchor="middle" font-family="'Liberation Sans', Arial, sans-serif" >8</text>
<text x="1900.6" y="1513.4" font-size="27" text-anchor="middle" font-family="'Liberation Sans', Arial, sans-serif" >10</text>
<text x="1969" y="1513.4" font-size="27" text-anchor="middle" font-family="'Liberation Sans', Arial, sans-serif" >12</text>
<text x="1529.3" y="1414.9" font-size="27" text-anchor="end" font-family="'Liberation Sans', Arial, sans-serif" >10</text>
<text x="1519.8" y="1289.9" font-size="27" text-anchor="end" font-family="'Liberation Sans', Arial, sans-serif" >10</text>
<text x="1520.3" y="1272.7" font-size="18.5" text-anchor="start" font-family="'Liberation Sans', Arial, sans-serif" >2</text>
<text x="1519.8" y="1166" font-size="27" text-anchor="end" font-family="'Liberation Sans', Arial, sans-serif" >10</text>
<text x="1520.3" y="1148.8" font-size="18.5" text-anchor="start" font-family="'Liberation Sans', Arial, sans-serif" >3</text>
<text x="1724.6" y="1550.5" font-size="31" font-style="italic" font-family="'Liberation Sans', Arial, sans-serif">τ,</text>
<text x="1749.6" y="1550.5" font-size="31" text-anchor="start" font-family="'Liberation Sans', Arial, sans-serif" >ns</text>
<text transform="translate(1474.5,1394.3) rotate(-90)" font-size="31.5" text-anchor="start" font-family="'Liberation Sans', Arial, sans-serif">Intensity, a.u.</text>
<clipPath id="clt3"><rect x="1533.4" y="1644.1" width="438.5999999999999" height="354.5"/></clipPath>
<path d="M1553.2 1664.9h0M1554.1 1658.0h0M1555.0 1665.8h0M1555.9 1668.4h0M1556.8 1665.6h0M1557.7 1669.2h0M1558.6 1668.8h0M1559.5 1674.9h0M1560.5 1677.0h0M1561.4 1679.4h0M1562.3 1675.7h0M1563.2 1679.8h0M1564.1 1678.1h0M1565.0 1681.2h0M1565.9 1679.6h0M1566.8 1685.6h0M1567.7 1690.2h0M1568.6 1687.8h0M1569.5 1685.9h0M1570.4 1696.7h0M1571.3 1694.6h0M1572.2 1696.1h0M1573.1 1694.5h0M1574.0 1696.5h0M1575.0 1698.9h0M1575.9 1695.8h0M1576.8 1701.6h0M1577.7 1698.1h0M1578.6 1704.3h0M1579.5 1703.4h0M1580.4 1697.3h0M1581.3 1704.1h0M1582.2 1700.4h0M1583.1 1717.9h0M1584.0 1707.0h0M1584.9 1711.6h0M1585.8 1710.5h0M1586.7 1719.0h0M1587.6 1711.9h0M1588.5 1717.4h0M1589.5 1717.5h0M1590.4 1719.6h0M1591.3 1720.0h0M1592.2 1717.9h0M1593.1 1726.9h0M1594.0 1724.0h0M1594.9 1722.1h0M1595.8 1723.6h0M1596.7 1727.4h0M1597.6 1727.4h0M1598.5 1732.3h0M1599.4 1729.1h0M1600.3 1727.6h0M1601.2 1727.4h0M1602.1 1742.8h0M1603.0 1737.8h0M1604.0 1736.3h0M1604.9 1738.3h0M1605.8 1740.4h0M1606.7 1741.8h0M1607.6 1737.9h0M1608.5 1745.6h0M1609.4 1748.6h0M1610.3 1741.6h0M1611.2 1745.9h0M1612.1 1745.8h0M1613.0 1747.2h0M1613.9 1742.5h0M1614.8 1755.0h0M1615.7 1750.1h0M1616.6 1745.2h0M1617.5 1748.8h0M1618.5 1753.3h0M1619.4 1753.4h0M1620.3 1755.1h0M1621.2 1758.0h0M1622.1 1762.6h0M1623.0 1765.9h0M1623.9 1766.0h0M1624.8 1763.2h0M1625.7 1762.0h0M1626.6 1760.9h0M1627.5 1762.2h0M1628.4 1761.3h0M1629.3 1769.5h0M1630.2 1769.3h0M1631.1 1765.6h0M1632.0 1768.5h0M1633.0 1769.5h0M1633.9 1764.2h0M1634.8 1775.3h0M1635.7 1775.3h0M1636.6 1769.3h0M1637.5 1775.4h0M1638.4 1775.6h0M1639.3 1778.9h0M1640.2 1783.8h0M1641.1 1776.4h0M1642.0 1777.3h0M1642.9 1781.7h0M1643.8 1773.8h0M1644.7 1771.3h0M1645.6 1781.7h0M1646.5 1788.5h0M1647.5 1789.7h0M1648.4 1786.5h0M1649.3 1789.4h0M1650.2 1786.7h0M1651.1 1780.9h0M1652.0 1789.8h0M1652.9 1800.4h0M1653.8 1796.4h0M1654.7 1797.6h0M1655.6 1792.8h0M1656.5 1789.4h0M1657.4 1794.7h0M1658.3 1795.2h0M1659.2 1790.5h0M1660.1 1796.7h0M1661.0 1792.3h0M1662.0 1796.2h0M1662.9 1796.5h0M1663.8 1792.6h0M1664.7 1807.4h0M1665.6 1810.8h0M1666.5 1793.8h0M1667.4 1805.2h0M1668.3 1802.7h0M1669.2 1799.5h0M1670.1 1798.4h0M1671.0 1802.8h0M1671.9 1805.1h0M1672.8 1818.4h0M1673.7 1802.3h0M1674.6 1811.0h0M1675.5 1809.9h0M1676.5 1812.3h0M1677.4 1812.1h0M1678.3 1816.0h0M1679.2 1813.9h0M1680.1 1807.7h0M1681.0 1817.6h0M1681.9 1806.5h0M1682.8 1809.6h0M1683.7 1816.7h0M1684.6 1812.1h0M1685.5 1821.4h0M1686.4 1809.8h0M1687.3 1818.2h0M1688.2 1817.6h0M1689.1 1823.5h0M1690.0 1830.1h0M1691.0 1820.9h0M1691.9 1831.8h0M1692.8 1826.8h0M1693.7 1827.0h0M1694.6 1828.0h0M1695.5 1835.8h0M1696.4 1818.5h0M1697.3 1823.4h0M1698.2 1823.7h0M1699.1 1830.3h0M1700.0 1827.5h0M1700.9 1829.5h0M1701.8 1840.1h0M1702.7 1831.0h0M1703.6 1833.2h0M1704.5 1837.8h0M1705.5 1827.7h0M1706.4 1832.3h0M1707.3 1837.0h0M1708.2 1829.0h0M1709.1 1838.7h0M1710.0 1834.0h0M1710.9 1833.5h0M1711.8 1831.5h0M1712.7 1829.2h0M1713.6 1832.7h0M1714.5 1848.2h0M1715.4 1834.5h0M1716.3 1837.6h0M1717.2 1834.2h0M1718.1 1844.5h0M1719.0 1847.4h0M1720.0 1837.8h0M1720.9 1834.1h0M1721.8 1850.9h0M1722.7 1849.7h0M1723.6 1844.7h0M1724.5 1847.3h0M1725.4 1847.1h0M1726.3 1841.1h0M1727.2 1850.0h0M1728.1 1842.0h0M1729.0 1847.2h0M1729.9 1851.4h0M1730.8 1853.4h0M1731.7 1854.9h0M1732.6 1853.3h0M1733.5 1858.3h0M1734.5 1852.0h0M1735.4 1851.4h0M1736.3 1852.3h0M1737.2 1851.6h0M1738.1 1859.6h0M1739.0 1861.3h0M1739.9 1854.9h0M1740.8 1863.5h0M1741.7 1853.2h0M1742.6 1855.2h0M1743.5 1849.6h0M1744.4 1857.6h0M1745.3 1862.8h0M1746.2 1860.6h0M1747.1 1855.6h0M1748.0 1858.3h0M1749.0 1861.8h0M1749.9 1861.9h0M1750.8 1859.4h0M1751.7 1856.9h0M1752.6 1871.6h0M1753.5 1870.1h0M1754.4 1865.4h0M1755.3 1868.5h0M1756.2 1867.8h0M1757.1 1864.7h0M1758.0 1873.5h0M1758.9 1852.4h0M1759.8 1877.4h0M1760.7 1865.1h0M1761.6 1857.9h0M1762.5 1872.3h0M1763.5 1865.6h0M1764.4 1873.4h0M1765.3 1866.2h0M1766.2 1870.4h0M1767.1 1875.9h0M1768.0 1885.6h0M1768.9 1889.2h0M1769.8 1869.1h0M1770.7 1874.2h0M1771.6 1883.4h0M1772.5 1883.7h0M1773.4 1881.6h0M1774.3 1880.2h0M1775.2 1876.4h0M1776.1 1881.0h0M1777.0 1883.9h0M1778.0 1882.4h0M1778.9 1864.6h0M1779.8 1894.5h0M1780.7 1893.2h0M1781.6 1885.9h0M1782.5 1879.9h0M1783.4 1883.9h0M1784.3 1883.5h0M1785.2 1884.5h0M1786.1 1891.7h0M1787.0 1877.3h0M1787.9 1879.6h0M1788.8 1882.8h0M1789.7 1888.8h0M1790.6 1892.2h0M1791.5 1901.1h0M1792.5 1883.7h0M1793.4 1892.8h0M1794.3 1893.3h0M1795.2 1891.1h0M1796.1 1907.8h0M1797.0 1899.4h0M1797.9 1891.0h0M1798.8 1896.2h0M1799.7 1879.5h0M1800.6 1900.8h0M1801.5 1902.2h0M1802.4 1891.3h0M1803.3 1892.8h0M1804.2 1903.6h0M1805.1 1911.9h0M1806.0 1893.4h0M1807.0 1887.2h0M1807.9 1896.7h0M1808.8 1903.8h0M1809.7 1900.6h0M1810.6 1905.1h0M1811.5 1905.1h0M1812.4 1900.7h0M1813.3 1898.0h0M1814.2 1898.7h0M1815.1 1888.1h0M1816.0 1908.2h0M1816.9 1914.7h0M1817.8 1901.6h0M1818.7 1902.4h0M1819.6 1920.9h0M1820.5 1911.6h0M1821.5 1908.9h0M1822.4 1909.5h0M1823.3 1896.6h0M1824.2 1906.6h0M1825.1 1910.7h0M1826.0 1919.5h0M1826.9 1909.9h0M1827.8 1904.8h0M1828.7 1911.1h0M1829.6 1905.7h0M1830.5 1911.2h0M1831.4 1911.6h0M1832.3 1916.7h0M1833.2 1925.6h0M1834.1 1919.0h0M1835.0 1912.3h0M1836.0 1913.8h0M1836.9 1904.9h0M1837.8 1920.0h0M1838.7 1913.8h0M1839.6 1910.7h0M1840.5 1917.8h0M1841.4 1918.2h0M1842.3 1923.2h0M1843.2 1914.9h0M1844.1 1918.5h0M1845.0 1920.9h0M1845.9 1926.3h0M1846.8 1918.8h0M1847.7 1936.0h0M1848.6 1920.9h0M1849.5 1919.1h0M1850.5 1917.9h0M1851.4 1937.3h0M1852.3 1928.0h0M1853.2 1936.6h0M1854.1 1935.1h0M1855.0 1929.8h0M1855.9 1923.8h0M1856.8 1930.2h0M1857.7 1922.8h0M1858.6 1929.6h0M1859.5 1938.8h0M1860.4 1933.2h0M1861.3 1933.4h0M1862.2 1938.4h0M1863.1 1932.0h0M1864.0 1915.8h0M1865.0 1949.3h0M1865.9 1938.2h0M1866.8 1931.8h0M1867.7 1928.4h0M1868.6 1937.2h0M1869.5 1933.7h0M1870.4 1940.7h0M1871.3 1925.8h0M1872.2 1944.6h0M1873.1 1928.5h0M1874.0 1935.7h0M1874.9 1932.1h0M1875.8 1925.5h0M1876.7 1931.3h0M1877.6 1938.8h0M1878.5 1945.5h0M1879.5 1934.1h0M1880.4 1945.1h0M1881.3 1925.5h0M1882.2 1948.5h0M1883.1 1954.3h0M1884.0 1952.3h0M1884.9 1940.4h0M1885.8 1934.0h0M1886.7 1938.0h0M1887.6 1936.2h0M1888.5 1941.0h0M1889.4 1937.8h0M1890.3 1941.9h0M1891.2 1954.1h0M1892.1 1953.4h0M1893.0 1942.3h0M1894.0 1950.0h0M1894.9 1941.7h0M1895.8 1945.8h0M1896.7 1952.6h0M1897.6 1939.7h0M1898.5 1955.6h0M1899.4 1955.0h0M1900.3 1947.7h0M1901.2 1951.8h0M1902.1 1946.0h0M1903.0 1948.4h0M1903.9 1950.3h0M1904.8 1958.1h0M1905.7 1956.9h0M1906.6 1953.5h0M1907.5 1949.8h0M1908.5 1959.3h0M1909.4 1967.0h0M1910.3 1957.8h0M1911.2 1957.4h0M1912.1 1954.6h0M1913.0 1958.5h0M1913.9 1946.5h0M1914.8 1945.6h0M1915.7 1968.1h0M1916.6 1973.0h0M1917.5 1946.8h0M1918.4 1966.1h0M1919.3 1970.7h0M1920.2 1958.1h0M1921.1 1962.7h0M1922.0 1948.2h0M1923.0 1959.1h0M1923.9 1948.7h0M1924.8 1959.6h0M1925.7 1956.4h0M1926.6 1952.6h0M1927.5 1977.1h0M1928.4 1959.7h0M1929.3 1957.6h0M1930.2 1970.7h0M1931.1 1969.1h0M1932.0 1964.8h0M1932.9 1962.1h0M1933.8 1965.6h0M1934.7 1968.3h0M1935.6 1967.3h0M1936.5 1975.0h0M1937.5 1967.8h0M1938.4 1985.1h0M1939.3 1970.5h0M1940.2 1979.6h0M1941.1 1965.2h0M1942.0 1969.7h0M1942.9 1976.6h0M1943.8 1980.1h0M1944.7 1988.1h0M1945.6 1979.3h0M1946.5 1982.9h0M1947.4 1979.5h0M1948.3 1980.2h0M1949.2 1981.1h0" stroke="#8a2be2" stroke-width="7.4" stroke-linecap="round" fill="none" clip-path="url(#clt3)"/>
<path d="M1553.2 1661.9l1.3 2.3 1.4 2.3 1.3 2.3 1.3 2.2 1.3 2.2 1.4 2.2 1.3 2.2 1.3 2.2 1.3 2.1 1.4 2.1 1.3 2.1 1.3 2.1 1.3 2.1 1.4 2 1.3 2.1 1.3 2 1.3 2 1.4 2 1.3 1.9 1.3 2 1.3 1.9 1.4 1.9 1.3 1.9 1.3 1.9 1.3 1.9 1.4 1.8 1.3 1.8 1.3 1.9 1.3 1.8 1.4 1.7 1.3 1.8 1.3 1.7 1.3 1.8 1.4 1.7 1.3 1.7 1.3 1.7 1.3 1.7 1.4 1.6 1.3 1.7 1.3 1.6 1.3 1.6 1.4 1.6 1.3 1.6 1.3 1.6 1.3 1.6 1.4 1.5 1.3 1.5 1.3 1.6 1.4 1.5 1.3 1.5 1.3 1.5 1.3 1.4 1.4 1.5 1.3 1.4 1.3 1.5 1.3 1.4 1.4 1.4 1.3 1.4 1.3 1.4 1.3 1.4 1.4 1.3 1.3 1.4 1.3 1.3 1.3 1.4 1.4 1.3 1.3 1.3 1.3 1.3 1.3 1.3 1.4 1.3 1.3 1.2 1.3 1.3 1.3 1.3 1.4 1.2 1.3 1.2 1.3 1.3 1.3 1.2 1.4 1.2 1.3 1.2 1.3 1.2 1.3 1.2 1.4 1.2 1.3 1.1 1.3 1.2 1.3 1.1 1.4 1.2 1.3 1.1 1.3 1.1 1.3 1.2 1.4 1.1 1.3 1.1 1.3 1.1 1.3 1.1 1.4 1.1 1.3 1 1.3 1.1 1.4 1.1 1.3 1.1 1.3 1 1.3 1.1 1.4 1 1.3 1 1.3 1.1 1.3 1 1.4 1 1.3 1 1.3 1 1.3 1.1 1.4 1 1.3 .9 1.3 1 1.3 1 1.4 1 1.3 1 1.3 1 1.3 .9 1.4 1 1.3 .9 1.3 1 1.3 .9 1.4 1 1.3 .9 1.3 1 1.3 .9 1.4 .9 1.3 1 1.3 .9 1.3 .9 1.4 .9 1.3 .9 1.3 .9 1.3 .9 1.4 .9 1.3 .9 1.3 .9 1.3 .9 1.4 .9 1.3 .9 1.3 .9 1.3 .9 1.4 .9 1.3 .8 1.3 .9 1.4 .9 1.3 .8 1.3 .9 1.3 .9 1.4 .8 1.3 .9 1.3 .9 1.3 .8 1.4 .9 1.3 .8 1.3 .9 1.3 .8 1.4 .8 1.3 .9 1.3 .8 1.3 .9 1.4 .8 1.3 .8 1.3 .9 1.3 .8 1.4 .8 1.3 .8 1.3 .9 1.3 .8 1.4 .8 1.3 .8 1.3 .9 1.3 .8 1.4 .8 1.3 .8 1.3 .8 1.3 .8 1.4 .8 1.3 .8 1.3 .9 1.3 .8 1.4 .8 1.3 .8 1.3 .8 1.3 .8 1.4 .8 1.3 .8 1.3 .8 1.3 .8 1.4 .8 1.3 .8 1.3 .7 1.4 .8 1.3 .8 1.3 .8 1.3 .8 1.4 .8 1.3 .8 1.3 .8 1.3 .8 1.4 .7 1.3 .8 1.3 .8 1.3 .8 1.4 .8 1.3 .8 1.3 .7 1.3 .8 1.4 .8 1.3 .8 1.3 .8 1.3 .7 1.4 .8 1.3 .8 1.3 .8 1.3 .7 1.4 .8 1.3 .8 1.3 .8 1.3 .7 1.4 .8 1.3 .8 1.3 .7 1.3 .8 1.4 .8 1.3 .7 1.3 .8 1.3 .8 1.4 .8 1.3 .7 1.3 .8 1.3 .8 1.4 .7 1.3 .8 1.3 .7 1.3 .8 1.4 .8 1.3 .7 1.3 .8 1.4 .8 1.3 .7 1.3 .8 1.3 .8 1.4 .7 1.3 .8 1.3 .7 1.3 .8 1.4 .8 1.3 .7 1.3 .8 1.3 .7 1.4 .8 1.3 .8 1.3 .7 1.3 .8 1.4 .7 1.3 .8 1.3 .7 1.3 .8 1.4 .8 1.3 .7 1.3 .8 1.3 .7 1.4 .8 1.3 .7 1.3 .8 1.3 .8 1.4 .7 1.3 .8 1.3 .7 1.3 .8 1.4 .7 1.3 .8 1.3 .7 1.3 .8 1.4 .7 1.3 .8 1.3 .8 1.3 .7 1.4 .8 1.3 .7 1.3 .8 1.3 .7 1.4 .8 1.3 .7 1.3 .8 1.4 .7 1.3 .8 1.3 .7 1.3 .8 1.4 .7 1.3 .8 1.3 .7 1.3 .8 1.4 .7 1.3 .8 1.3 .7 1.3 .8 1.4 .7 1.3 .8 1.3 .7 1.3 .8" fill="none" stroke="#000" stroke-width="3.2" stroke-linejoin="round" clip-path="url(#clt3)"/>
<rect x="1753.6" y="1652.4" width="208.6" height="91" rx="6" fill="#fff" fill-opacity="0.8" stroke="#8a8a8a" stroke-width="1.6"/>
<text x="1765.6" y="1685.6" font-size="36" font-family="'Liberation Sans', Arial, sans-serif">τ</text>
<text x="1780.1" y="1690.6" font-size="22" font-family="'Liberation Sans', Arial, sans-serif">1</text>
<text x="1796.6" y="1685.6" font-size="33" font-family="'Liberation Sans', Arial, sans-serif">= 4.97 ns</text>
<text x="1765.6" y="1728" font-size="36" font-family="'Liberation Sans', Arial, sans-serif">τ</text>
<text x="1780.1" y="1733" font-size="22" font-family="'Liberation Sans', Arial, sans-serif">2</text>
<text x="1796.6" y="1728" font-size="33" font-family="'Liberation Sans', Arial, sans-serif">= 0.85 ns</text>
<rect x="1533.4" y="1644.1" width="438.6" height="354.5" fill="none" stroke="#000" stroke-width="2"/>
<path d="M1553.2 1998.6v7.5M1674.0 1998.6v7.5M1794.9 1998.6v7.5M1915.7 1998.6v7.5M1533.4 1884.2h-7M1533.4 1970.5h-4M1533.4 1944.5h-4M1533.4 1921.9h-4M1533.4 1902.0h-4M1533.4 1767.1h-4M1533.4 1698.6h-4M1533.4 1650.0h-4" stroke="#000" stroke-width="1.7" fill="none"/>
<text x="1553.2" y="2032.3" font-size="27" text-anchor="middle" font-family="'Liberation Sans', Arial, sans-serif" >0</text>
<text x="1674" y="2032.3" font-size="27" text-anchor="middle" font-family="'Liberation Sans', Arial, sans-serif" >2</text>
<text x="1794.9" y="2032.3" font-size="27" text-anchor="middle" font-family="'Liberation Sans', Arial, sans-serif" >4</text>
<text x="1915.7" y="2032.3" font-size="27" text-anchor="middle" font-family="'Liberation Sans', Arial, sans-serif" >6</text>
<text x="1513.9" y="1892.4" font-size="27" text-anchor="end" font-family="'Liberation Sans', Arial, sans-serif" >10</text>
<text x="1514.4" y="1875.2" font-size="18.5" text-anchor="start" font-family="'Liberation Sans', Arial, sans-serif" >3</text>
<text x="1719.7" y="2069.4" font-size="31" font-style="italic" font-family="'Liberation Sans', Arial, sans-serif">τ,</text>
<text x="1744.7" y="2069.4" font-size="31" text-anchor="start" font-family="'Liberation Sans', Arial, sans-serif" >ns</text>
<text transform="translate(1470,1908.8) rotate(-90)" font-size="31.5" text-anchor="start" font-family="'Liberation Sans', Arial, sans-serif">Intensity, a.u.</text>
</svg>
</body></html>
